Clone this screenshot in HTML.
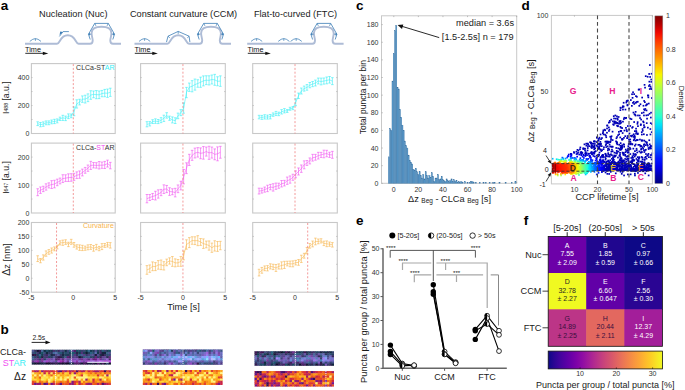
<!DOCTYPE html>
<html><head><meta charset="utf-8"><style>
html,body{margin:0;padding:0;background:#fff;width:685px;height:390px;overflow:hidden;}
svg{display:block;font-family:"Liberation Sans", sans-serif;}
</style></head><body>
<svg width="685" height="390" viewBox="0 0 685 390">
<rect width="685" height="390" fill="#fff"/>
<text x="0.80" y="9.70" font-size="13.5" text-anchor="start" fill="#000" font-weight="bold" >a</text><text x="0.60" y="333.60" font-size="13.5" text-anchor="start" fill="#000" font-weight="bold" >b</text><text x="356.00" y="9.90" font-size="13.5" text-anchor="start" fill="#000" font-weight="bold" >c</text><text x="521.60" y="9.80" font-size="13.5" text-anchor="start" fill="#000" font-weight="bold" >d</text><text x="356.00" y="225.30" font-size="13.5" text-anchor="start" fill="#000" font-weight="bold" >e</text><text x="523.80" y="225.40" font-size="13.5" text-anchor="start" fill="#000" font-weight="bold" >f</text><text x="73.30" y="16.60" font-size="9.2" text-anchor="middle" fill="#1a1a1a" font-weight="normal" >Nucleation (Nuc)</text><text x="183.50" y="16.60" font-size="9.2" text-anchor="middle" fill="#1a1a1a" font-weight="normal" >Constant curvature (CCM)</text><text x="295.50" y="16.60" font-size="9.2" text-anchor="middle" fill="#1a1a1a" font-weight="normal" >Flat-to-curved (FTC)</text><path d="M25,43.8 L57.0,43.8 C60.2,43.8 59.8,35.3 67.8,35.3 C75.8,35.3 75.39999999999999,43.8 78.6,43.8 L90.0,43.8 C91.9,43.8 92.7,43.2 92.7,40.5 C92.7,38 91.6,36.5 91.6,33.2 C91.6,28.5 96.0,26.8 101.5,26.8 C107.0,26.8 111.4,28.5 111.4,33.2 C111.4,36.5 110.3,38 110.3,40.5 C110.3,43.2 111.1,43.8 113.0,43.8 L121,43.8" fill="none" stroke="#aebcd6" stroke-width="1.9" stroke-linejoin="round"/><path d="M29.799999999999997,41.4 Q32.9,38.6 35.4,38.6 Q37.9,38.6 41.0,41.4 M35.4,38.6 L35.4,40.800000000000004" fill="none" stroke="#3c7db6" stroke-width="0.75"/><path d="M59.4,36.4 L63.1,31.6 L68.9,31.6" fill="none" stroke="#3c7db6" stroke-width="0.8"/><path d="M59.6,34.9 L60.2,31.4 L63,32.1 Z" fill="#3c7db6"/><path d="M90.20,39.5 L88.50,34.2 L94.70,23.4 L108.30,23.4 L114.50,34.2 L112.80,39.5" fill="none" stroke="#3c7db6" stroke-width="0.8" stroke-linejoin="round"/><line x1="88.50" y1="34.2" x2="91.20" y2="34.2" stroke="#3c7db6" stroke-width="0.75"/><line x1="114.50" y1="34.2" x2="111.80" y2="34.2" stroke="#3c7db6" stroke-width="0.75"/><line x1="94.70" y1="23.4" x2="95.90" y2="25.8" stroke="#3c7db6" stroke-width="0.75"/><line x1="108.30" y1="23.4" x2="107.10" y2="25.8" stroke="#3c7db6" stroke-width="0.75"/><path d="M88.30,34.2 L89.90,32.6 L89.90,35.8 Z" fill="#3c7db6"/><path d="M114.70,34.2 L113.10,32.6 L113.10,35.8 Z" fill="#3c7db6"/><text x="25.00" y="51.60" font-size="7.3" text-anchor="start" fill="#111" font-weight="normal" >Time</text><line x1="25.30" y1="53.30" x2="44.80" y2="53.30" stroke="#111" stroke-width="0.9" /><path d="M48.3,53.4 L42.8,51.7 L42.8,55.1 Z" fill="#111"/><path d="M134.5,43.8 L167.39999999999998,43.8 C170.59999999999997,43.8 170.2,35.3 178.2,35.3 C186.2,35.3 185.8,43.8 189.0,43.8 L199.5,43.8 C201.4,43.8 202.2,43.2 202.2,40.5 C202.2,38 201.1,36.5 201.1,33.2 C201.1,28.5 205.5,26.8 211,26.8 C216.5,26.8 220.9,28.5 220.9,33.2 C220.9,36.5 219.8,38 219.8,40.5 C219.8,43.2 220.6,43.8 222.5,43.8 L231,43.8" fill="none" stroke="#aebcd6" stroke-width="1.9" stroke-linejoin="round"/><path d="M139.0,41.4 Q142.1,38.6 144.6,38.6 Q147.1,38.6 150.2,41.4 M144.6,38.6 L144.6,40.800000000000004" fill="none" stroke="#3c7db6" stroke-width="0.75"/><path d="M166.50,42.1 L168.00,36.2 L178.20,31.4 L189.10,36.2 L189.90,42.1" fill="none" stroke="#3c7db6" stroke-width="0.8" stroke-linejoin="round"/><line x1="168.00" y1="36.2" x2="169.80" y2="37.8" stroke="#3c7db6" stroke-width="0.75"/><line x1="178.20" y1="31.4" x2="178.20" y2="33.8" stroke="#3c7db6" stroke-width="0.75"/><line x1="189.10" y1="36.2" x2="187.30" y2="37.8" stroke="#3c7db6" stroke-width="0.75"/><path d="M199.20,39.5 L197.50,34.2 L203.70,23.4 L217.30,23.4 L223.50,34.2 L221.80,39.5" fill="none" stroke="#3c7db6" stroke-width="0.8" stroke-linejoin="round"/><line x1="197.50" y1="34.2" x2="200.20" y2="34.2" stroke="#3c7db6" stroke-width="0.75"/><line x1="223.50" y1="34.2" x2="220.80" y2="34.2" stroke="#3c7db6" stroke-width="0.75"/><line x1="203.70" y1="23.4" x2="204.90" y2="25.8" stroke="#3c7db6" stroke-width="0.75"/><line x1="217.30" y1="23.4" x2="216.10" y2="25.8" stroke="#3c7db6" stroke-width="0.75"/><path d="M197.30,34.2 L198.90,32.6 L198.90,35.8 Z" fill="#3c7db6"/><path d="M223.70,34.2 L222.10,32.6 L222.10,35.8 Z" fill="#3c7db6"/><text x="134.50" y="51.60" font-size="7.3" text-anchor="start" fill="#111" font-weight="normal" >Time</text><line x1="134.80" y1="53.30" x2="154.30" y2="53.30" stroke="#111" stroke-width="0.9" /><path d="M157.8,53.4 L152.3,51.7 L152.3,55.1 Z" fill="#111"/><path d="M247.2,43.8 L312.3,43.8 C314.2,43.8 315.0,43.2 315.0,40.5 C315.0,38 313.90000000000003,36.5 313.90000000000003,33.2 C313.90000000000003,28.5 318.3,26.8 323.8,26.8 C329.3,26.8 333.7,28.5 333.7,33.2 C333.7,36.5 332.6,38 332.6,40.5 C332.6,43.2 333.40000000000003,43.8 335.3,43.8 L343.6,43.8" fill="none" stroke="#aebcd6" stroke-width="1.9" stroke-linejoin="round"/><path d="M251.00000000000003,41.4 Q254.10000000000002,38.6 256.6,38.6 Q259.1,38.6 262.20000000000005,41.4 M256.6,38.6 L256.6,40.800000000000004" fill="none" stroke="#3c7db6" stroke-width="0.75"/><path d="M278.2,41.4 Q281.3,38.6 283.8,38.6 Q286.3,38.6 289.40000000000003,41.4 M283.8,38.6 L283.8,40.800000000000004" fill="none" stroke="#3c7db6" stroke-width="0.75"/><path d="M290.59999999999997,41.4 Q293.7,38.6 296.2,38.6 Q298.7,38.6 301.8,41.4 M296.2,38.6 L296.2,40.800000000000004" fill="none" stroke="#3c7db6" stroke-width="0.75"/><path d="M312.60,39.5 L310.90,34.2 L317.10,23.4 L330.70,23.4 L336.90,34.2 L335.20,39.5" fill="none" stroke="#3c7db6" stroke-width="0.8" stroke-linejoin="round"/><line x1="310.90" y1="34.2" x2="313.60" y2="34.2" stroke="#3c7db6" stroke-width="0.75"/><line x1="336.90" y1="34.2" x2="334.20" y2="34.2" stroke="#3c7db6" stroke-width="0.75"/><line x1="317.10" y1="23.4" x2="318.30" y2="25.8" stroke="#3c7db6" stroke-width="0.75"/><line x1="330.70" y1="23.4" x2="329.50" y2="25.8" stroke="#3c7db6" stroke-width="0.75"/><path d="M310.70,34.2 L312.30,32.6 L312.30,35.8 Z" fill="#3c7db6"/><path d="M337.10,34.2 L335.50,32.6 L335.50,35.8 Z" fill="#3c7db6"/><text x="247.50" y="51.60" font-size="7.3" text-anchor="start" fill="#111" font-weight="normal" >Time</text><line x1="247.80" y1="53.30" x2="267.30" y2="53.30" stroke="#111" stroke-width="0.9" /><path d="M270.8,53.4 L265.3,51.7 L265.3,55.1 Z" fill="#111"/><rect x="31.40" y="63.60" width="83.80" height="69.90" fill="none" stroke="#c8c8c8" stroke-width="1.1" /><line x1="31.40" y1="119.52" x2="32.60" y2="119.52" stroke="#aaa" stroke-width="0.6" /><line x1="115.20" y1="119.52" x2="114.00" y2="119.52" stroke="#aaa" stroke-width="0.6" /><line x1="31.40" y1="105.54" x2="32.60" y2="105.54" stroke="#aaa" stroke-width="0.6" /><line x1="115.20" y1="105.54" x2="114.00" y2="105.54" stroke="#aaa" stroke-width="0.6" /><line x1="31.40" y1="91.56" x2="32.60" y2="91.56" stroke="#aaa" stroke-width="0.6" /><line x1="115.20" y1="91.56" x2="114.00" y2="91.56" stroke="#aaa" stroke-width="0.6" /><line x1="31.40" y1="77.58" x2="32.60" y2="77.58" stroke="#aaa" stroke-width="0.6" /><line x1="115.20" y1="77.58" x2="114.00" y2="77.58" stroke="#aaa" stroke-width="0.6" /><rect x="31.40" y="143.10" width="83.80" height="69.90" fill="none" stroke="#c8c8c8" stroke-width="1.1" /><line x1="31.40" y1="199.02" x2="32.60" y2="199.02" stroke="#aaa" stroke-width="0.6" /><line x1="115.20" y1="199.02" x2="114.00" y2="199.02" stroke="#aaa" stroke-width="0.6" /><line x1="31.40" y1="185.04" x2="32.60" y2="185.04" stroke="#aaa" stroke-width="0.6" /><line x1="115.20" y1="185.04" x2="114.00" y2="185.04" stroke="#aaa" stroke-width="0.6" /><line x1="31.40" y1="171.06" x2="32.60" y2="171.06" stroke="#aaa" stroke-width="0.6" /><line x1="115.20" y1="171.06" x2="114.00" y2="171.06" stroke="#aaa" stroke-width="0.6" /><line x1="31.40" y1="157.08" x2="32.60" y2="157.08" stroke="#aaa" stroke-width="0.6" /><line x1="115.20" y1="157.08" x2="114.00" y2="157.08" stroke="#aaa" stroke-width="0.6" /><rect x="31.40" y="222.50" width="83.80" height="69.70" fill="none" stroke="#c8c8c8" stroke-width="1.1" /><line x1="31.40" y1="278.26" x2="32.60" y2="278.26" stroke="#aaa" stroke-width="0.6" /><line x1="115.20" y1="278.26" x2="114.00" y2="278.26" stroke="#aaa" stroke-width="0.6" /><line x1="31.40" y1="264.32" x2="32.60" y2="264.32" stroke="#aaa" stroke-width="0.6" /><line x1="115.20" y1="264.32" x2="114.00" y2="264.32" stroke="#aaa" stroke-width="0.6" /><line x1="31.40" y1="250.38" x2="32.60" y2="250.38" stroke="#aaa" stroke-width="0.6" /><line x1="115.20" y1="250.38" x2="114.00" y2="250.38" stroke="#aaa" stroke-width="0.6" /><line x1="31.40" y1="236.44" x2="32.60" y2="236.44" stroke="#aaa" stroke-width="0.6" /><line x1="115.20" y1="236.44" x2="114.00" y2="236.44" stroke="#aaa" stroke-width="0.6" /><text x="31.40" y="300.20" font-size="7" text-anchor="middle" fill="#333" font-weight="normal" >-5</text><text x="73.30" y="300.20" font-size="7" text-anchor="middle" fill="#333" font-weight="normal" >0</text><text x="115.20" y="300.20" font-size="7" text-anchor="middle" fill="#333" font-weight="normal" >5</text><rect x="140.60" y="63.60" width="84.70" height="69.90" fill="none" stroke="#c8c8c8" stroke-width="1.1" /><line x1="140.60" y1="119.52" x2="141.80" y2="119.52" stroke="#aaa" stroke-width="0.6" /><line x1="225.30" y1="119.52" x2="224.10" y2="119.52" stroke="#aaa" stroke-width="0.6" /><line x1="140.60" y1="105.54" x2="141.80" y2="105.54" stroke="#aaa" stroke-width="0.6" /><line x1="225.30" y1="105.54" x2="224.10" y2="105.54" stroke="#aaa" stroke-width="0.6" /><line x1="140.60" y1="91.56" x2="141.80" y2="91.56" stroke="#aaa" stroke-width="0.6" /><line x1="225.30" y1="91.56" x2="224.10" y2="91.56" stroke="#aaa" stroke-width="0.6" /><line x1="140.60" y1="77.58" x2="141.80" y2="77.58" stroke="#aaa" stroke-width="0.6" /><line x1="225.30" y1="77.58" x2="224.10" y2="77.58" stroke="#aaa" stroke-width="0.6" /><rect x="140.60" y="143.10" width="84.70" height="69.90" fill="none" stroke="#c8c8c8" stroke-width="1.1" /><line x1="140.60" y1="199.02" x2="141.80" y2="199.02" stroke="#aaa" stroke-width="0.6" /><line x1="225.30" y1="199.02" x2="224.10" y2="199.02" stroke="#aaa" stroke-width="0.6" /><line x1="140.60" y1="185.04" x2="141.80" y2="185.04" stroke="#aaa" stroke-width="0.6" /><line x1="225.30" y1="185.04" x2="224.10" y2="185.04" stroke="#aaa" stroke-width="0.6" /><line x1="140.60" y1="171.06" x2="141.80" y2="171.06" stroke="#aaa" stroke-width="0.6" /><line x1="225.30" y1="171.06" x2="224.10" y2="171.06" stroke="#aaa" stroke-width="0.6" /><line x1="140.60" y1="157.08" x2="141.80" y2="157.08" stroke="#aaa" stroke-width="0.6" /><line x1="225.30" y1="157.08" x2="224.10" y2="157.08" stroke="#aaa" stroke-width="0.6" /><rect x="140.60" y="222.50" width="84.70" height="69.70" fill="none" stroke="#c8c8c8" stroke-width="1.1" /><line x1="140.60" y1="278.26" x2="141.80" y2="278.26" stroke="#aaa" stroke-width="0.6" /><line x1="225.30" y1="278.26" x2="224.10" y2="278.26" stroke="#aaa" stroke-width="0.6" /><line x1="140.60" y1="264.32" x2="141.80" y2="264.32" stroke="#aaa" stroke-width="0.6" /><line x1="225.30" y1="264.32" x2="224.10" y2="264.32" stroke="#aaa" stroke-width="0.6" /><line x1="140.60" y1="250.38" x2="141.80" y2="250.38" stroke="#aaa" stroke-width="0.6" /><line x1="225.30" y1="250.38" x2="224.10" y2="250.38" stroke="#aaa" stroke-width="0.6" /><line x1="140.60" y1="236.44" x2="141.80" y2="236.44" stroke="#aaa" stroke-width="0.6" /><line x1="225.30" y1="236.44" x2="224.10" y2="236.44" stroke="#aaa" stroke-width="0.6" /><text x="140.60" y="300.20" font-size="7" text-anchor="middle" fill="#333" font-weight="normal" >-5</text><text x="182.95" y="300.20" font-size="7" text-anchor="middle" fill="#333" font-weight="normal" >0</text><text x="225.30" y="300.20" font-size="7" text-anchor="middle" fill="#333" font-weight="normal" >5</text><rect x="252.70" y="63.60" width="84.60" height="69.90" fill="none" stroke="#c8c8c8" stroke-width="1.1" /><line x1="252.70" y1="119.52" x2="253.90" y2="119.52" stroke="#aaa" stroke-width="0.6" /><line x1="337.30" y1="119.52" x2="336.10" y2="119.52" stroke="#aaa" stroke-width="0.6" /><line x1="252.70" y1="105.54" x2="253.90" y2="105.54" stroke="#aaa" stroke-width="0.6" /><line x1="337.30" y1="105.54" x2="336.10" y2="105.54" stroke="#aaa" stroke-width="0.6" /><line x1="252.70" y1="91.56" x2="253.90" y2="91.56" stroke="#aaa" stroke-width="0.6" /><line x1="337.30" y1="91.56" x2="336.10" y2="91.56" stroke="#aaa" stroke-width="0.6" /><line x1="252.70" y1="77.58" x2="253.90" y2="77.58" stroke="#aaa" stroke-width="0.6" /><line x1="337.30" y1="77.58" x2="336.10" y2="77.58" stroke="#aaa" stroke-width="0.6" /><rect x="252.70" y="143.10" width="84.60" height="69.90" fill="none" stroke="#c8c8c8" stroke-width="1.1" /><line x1="252.70" y1="199.02" x2="253.90" y2="199.02" stroke="#aaa" stroke-width="0.6" /><line x1="337.30" y1="199.02" x2="336.10" y2="199.02" stroke="#aaa" stroke-width="0.6" /><line x1="252.70" y1="185.04" x2="253.90" y2="185.04" stroke="#aaa" stroke-width="0.6" /><line x1="337.30" y1="185.04" x2="336.10" y2="185.04" stroke="#aaa" stroke-width="0.6" /><line x1="252.70" y1="171.06" x2="253.90" y2="171.06" stroke="#aaa" stroke-width="0.6" /><line x1="337.30" y1="171.06" x2="336.10" y2="171.06" stroke="#aaa" stroke-width="0.6" /><line x1="252.70" y1="157.08" x2="253.90" y2="157.08" stroke="#aaa" stroke-width="0.6" /><line x1="337.30" y1="157.08" x2="336.10" y2="157.08" stroke="#aaa" stroke-width="0.6" /><rect x="252.70" y="222.50" width="84.60" height="69.70" fill="none" stroke="#c8c8c8" stroke-width="1.1" /><line x1="252.70" y1="278.26" x2="253.90" y2="278.26" stroke="#aaa" stroke-width="0.6" /><line x1="337.30" y1="278.26" x2="336.10" y2="278.26" stroke="#aaa" stroke-width="0.6" /><line x1="252.70" y1="264.32" x2="253.90" y2="264.32" stroke="#aaa" stroke-width="0.6" /><line x1="337.30" y1="264.32" x2="336.10" y2="264.32" stroke="#aaa" stroke-width="0.6" /><line x1="252.70" y1="250.38" x2="253.90" y2="250.38" stroke="#aaa" stroke-width="0.6" /><line x1="337.30" y1="250.38" x2="336.10" y2="250.38" stroke="#aaa" stroke-width="0.6" /><line x1="252.70" y1="236.44" x2="253.90" y2="236.44" stroke="#aaa" stroke-width="0.6" /><line x1="337.30" y1="236.44" x2="336.10" y2="236.44" stroke="#aaa" stroke-width="0.6" /><text x="252.70" y="300.20" font-size="7" text-anchor="middle" fill="#333" font-weight="normal" >-5</text><text x="295.00" y="300.20" font-size="7" text-anchor="middle" fill="#333" font-weight="normal" >0</text><text x="337.30" y="300.20" font-size="7" text-anchor="middle" fill="#333" font-weight="normal" >5</text><text x="29.40" y="80.10" font-size="7" text-anchor="end" fill="#333" font-weight="normal" >400</text><text x="29.40" y="108.10" font-size="7" text-anchor="end" fill="#333" font-weight="normal" >200</text><text x="29.40" y="136.00" font-size="7" text-anchor="end" fill="#333" font-weight="normal" >0</text><text x="29.40" y="159.60" font-size="7" text-anchor="end" fill="#333" font-weight="normal" >200</text><text x="29.40" y="187.50" font-size="7" text-anchor="end" fill="#333" font-weight="normal" >100</text><text x="29.40" y="215.50" font-size="7" text-anchor="end" fill="#333" font-weight="normal" >0</text><text x="29.40" y="225.00" font-size="7" text-anchor="end" fill="#333" font-weight="normal" >200</text><text x="29.40" y="238.94" font-size="7" text-anchor="end" fill="#333" font-weight="normal" >150</text><text x="29.40" y="252.88" font-size="7" text-anchor="end" fill="#333" font-weight="normal" >100</text><text x="29.40" y="266.82" font-size="7" text-anchor="end" fill="#333" font-weight="normal" >50</text><text x="29.40" y="280.76" font-size="7" text-anchor="end" fill="#333" font-weight="normal" >0</text><text x="29.40" y="294.70" font-size="7" text-anchor="end" fill="#333" font-weight="normal" >-50</text><text x="0.00" y="0.00" font-size="8.6" text-anchor="middle" fill="#1a1a1a" font-weight="normal" transform="translate(8.8,97.7) rotate(-90)">I<tspan font-size="5.2" dy="-1.2">488</tspan><tspan dy="1.2"> [a.u.]</tspan></text><text x="0.00" y="0.00" font-size="8.6" text-anchor="middle" fill="#1a1a1a" font-weight="normal" transform="translate(8.8,177.5) rotate(-90)">I<tspan font-size="5.2" dy="-1.2">647</tspan><tspan dy="1.2"> [a.u.]</tspan></text><text x="0.00" y="0.00" font-size="9.4" text-anchor="middle" fill="#1a1a1a" font-weight="normal" transform="translate(9.8,259.6) rotate(-90)"><tspan font-size="10.5">&#916;</tspan>z [nm]</text><text x="183.50" y="309.60" font-size="9.3" text-anchor="middle" fill="#1a1a1a" font-weight="normal" >Time [s]</text><text x="114.50" y="70.00" font-size="7" text-anchor="end" fill="#333" font-weight="normal" >CLCa-ST<tspan fill="#38eef5">AR</tspan></text><text x="114.50" y="150.00" font-size="7" text-anchor="end" fill="#333" font-weight="normal" >CLCa-<tspan fill="#f050f0">ST</tspan>AR</text><text x="113.80" y="228.00" font-size="7" text-anchor="end" fill="#f7b44a" font-weight="normal" >Curvature</text><path d="M37.69,123.69 L40.48,124.62 L43.27,124.11 L46.06,122.84 L48.86,122.80 L51.65,121.91 L54.44,121.45 L57.24,120.88 L60.03,118.82 L62.82,117.89 L65.62,118.38 L68.41,116.26 L71.20,115.87 L73.99,111.33 L76.79,103.93 L79.58,102.10 L82.37,99.14 L85.17,99.12 L87.96,97.74 L90.75,95.03 L93.55,94.37 L96.34,94.64 L99.13,94.81 L101.93,93.59 L104.72,93.07 L107.51,93.22 L110.30,92.30" fill="none" stroke="#38eef5" stroke-width="0.55"/><path d="M37.69,121.80 L37.69,125.59 M36.39,121.80 L38.98,121.80 M36.39,125.59 L38.98,125.59" stroke="#38eef5" stroke-width="0.6" fill="none"/><path d="M40.48,122.49 L40.48,126.75 M39.18,122.49 L41.78,122.49 M39.18,126.75 L41.78,126.75" stroke="#38eef5" stroke-width="0.6" fill="none"/><path d="M43.27,121.92 L43.27,126.31 M41.97,121.92 L44.57,121.92 M41.97,126.31 L44.57,126.31" stroke="#38eef5" stroke-width="0.6" fill="none"/><path d="M46.06,120.94 L46.06,124.75 M44.76,120.94 L47.36,120.94 M44.76,124.75 L47.36,124.75" stroke="#38eef5" stroke-width="0.6" fill="none"/><path d="M48.86,120.90 L48.86,124.71 M47.56,120.90 L50.16,120.90 M47.56,124.71 L50.16,124.71" stroke="#38eef5" stroke-width="0.6" fill="none"/><path d="M51.65,120.01 L51.65,123.80 M50.35,120.01 L52.95,120.01 M50.35,123.80 L52.95,123.80" stroke="#38eef5" stroke-width="0.6" fill="none"/><path d="M54.44,119.30 L54.44,123.61 M53.14,119.30 L55.74,119.30 M53.14,123.61 L55.74,123.61" stroke="#38eef5" stroke-width="0.6" fill="none"/><path d="M57.24,118.92 L57.24,122.85 M55.94,118.92 L58.54,118.92 M55.94,122.85 L58.54,122.85" stroke="#38eef5" stroke-width="0.6" fill="none"/><path d="M60.03,117.15 L60.03,120.49 M58.73,117.15 L61.33,117.15 M58.73,120.49 L61.33,120.49" stroke="#38eef5" stroke-width="0.6" fill="none"/><path d="M62.82,115.31 L62.82,120.46 M61.52,115.31 L64.12,115.31 M61.52,120.46 L64.12,120.46" stroke="#38eef5" stroke-width="0.6" fill="none"/><path d="M65.62,116.12 L65.62,120.64 M64.32,116.12 L66.92,116.12 M64.32,120.64 L66.92,120.64" stroke="#38eef5" stroke-width="0.6" fill="none"/><path d="M68.41,113.90 L68.41,118.61 M67.11,113.90 L69.71,113.90 M67.11,118.61 L69.71,118.61" stroke="#38eef5" stroke-width="0.6" fill="none"/><path d="M71.20,114.01 L71.20,117.72 M69.90,114.01 L72.50,114.01 M69.90,117.72 L72.50,117.72" stroke="#38eef5" stroke-width="0.6" fill="none"/><path d="M73.99,106.97 L73.99,115.69 M72.69,106.97 L75.29,106.97 M72.69,115.69 L75.29,115.69" stroke="#38eef5" stroke-width="0.6" fill="none"/><path d="M76.79,99.80 L76.79,108.06 M75.49,99.80 L78.09,99.80 M75.49,108.06 L78.09,108.06" stroke="#38eef5" stroke-width="0.6" fill="none"/><path d="M79.58,99.26 L79.58,104.93 M78.28,99.26 L80.88,99.26 M78.28,104.93 L80.88,104.93" stroke="#38eef5" stroke-width="0.6" fill="none"/><path d="M82.37,95.93 L82.37,102.34 M81.07,95.93 L83.67,95.93 M81.07,102.34 L83.67,102.34" stroke="#38eef5" stroke-width="0.6" fill="none"/><path d="M85.17,95.23 L85.17,103.01 M83.87,95.23 L86.47,95.23 M83.87,103.01 L86.47,103.01" stroke="#38eef5" stroke-width="0.6" fill="none"/><path d="M87.96,93.87 L87.96,101.61 M86.66,93.87 L89.26,93.87 M86.66,101.61 L89.26,101.61" stroke="#38eef5" stroke-width="0.6" fill="none"/><path d="M90.75,90.76 L90.75,99.29 M89.45,90.76 L92.05,90.76 M89.45,99.29 L92.05,99.29" stroke="#38eef5" stroke-width="0.6" fill="none"/><path d="M93.55,91.00 L93.55,97.73 M92.25,91.00 L94.85,91.00 M92.25,97.73 L94.85,97.73" stroke="#38eef5" stroke-width="0.6" fill="none"/><path d="M96.34,90.56 L96.34,98.72 M95.04,90.56 L97.64,90.56 M95.04,98.72 L97.64,98.72" stroke="#38eef5" stroke-width="0.6" fill="none"/><path d="M99.13,91.01 L99.13,98.61 M97.83,91.01 L100.43,91.01 M97.83,98.61 L100.43,98.61" stroke="#38eef5" stroke-width="0.6" fill="none"/><path d="M101.93,90.43 L101.93,96.74 M100.63,90.43 L103.23,90.43 M100.63,96.74 L103.23,96.74" stroke="#38eef5" stroke-width="0.6" fill="none"/><path d="M104.72,89.42 L104.72,96.73 M103.42,89.42 L106.02,89.42 M103.42,96.73 L106.02,96.73" stroke="#38eef5" stroke-width="0.6" fill="none"/><path d="M107.51,89.05 L107.51,97.39 M106.21,89.05 L108.81,89.05 M106.21,97.39 L108.81,97.39" stroke="#38eef5" stroke-width="0.6" fill="none"/><path d="M110.30,88.19 L110.30,96.40 M109.00,88.19 L111.60,88.19 M109.00,96.40 L111.60,96.40" stroke="#38eef5" stroke-width="0.6" fill="none"/><line x1="73.30" y1="64.10" x2="73.30" y2="133.50" stroke="#f08080" stroke-width="0.8" stroke-dasharray="2,1.8"/><path d="M146.95,124.26 L149.78,123.78 L152.60,121.62 L155.42,121.12 L158.24,121.55 L161.07,120.16 L163.89,118.31 L166.71,115.42 L169.54,118.24 L172.36,119.91 L175.18,120.65 L178.01,115.89 L180.83,112.62 L183.65,108.07 L186.48,92.53 L189.30,87.23 L192.12,86.24 L194.94,84.60 L197.77,83.49 L200.59,82.24 L203.41,80.89 L206.24,80.19 L209.06,80.37 L211.88,79.50 L214.71,79.84 L217.53,81.26 L220.35,81.11" fill="none" stroke="#38eef5" stroke-width="0.55"/><path d="M146.95,121.68 L146.95,126.83 M145.65,121.68 L148.25,121.68 M145.65,126.83 L148.25,126.83" stroke="#38eef5" stroke-width="0.6" fill="none"/><path d="M149.78,121.61 L149.78,125.95 M148.48,121.61 L151.08,121.61 M148.48,125.95 L151.08,125.95" stroke="#38eef5" stroke-width="0.6" fill="none"/><path d="M152.60,119.72 L152.60,123.53 M151.30,119.72 L153.90,119.72 M151.30,123.53 L153.90,123.53" stroke="#38eef5" stroke-width="0.6" fill="none"/><path d="M155.42,118.84 L155.42,123.40 M154.12,118.84 L156.72,118.84 M154.12,123.40 L156.72,123.40" stroke="#38eef5" stroke-width="0.6" fill="none"/><path d="M158.24,119.51 L158.24,123.60 M156.94,119.51 L159.54,119.51 M156.94,123.60 L159.54,123.60" stroke="#38eef5" stroke-width="0.6" fill="none"/><path d="M161.07,117.65 L161.07,122.67 M159.77,117.65 L162.37,117.65 M159.77,122.67 L162.37,122.67" stroke="#38eef5" stroke-width="0.6" fill="none"/><path d="M163.89,115.19 L163.89,121.44 M162.59,115.19 L165.19,115.19 M162.59,121.44 L165.19,121.44" stroke="#38eef5" stroke-width="0.6" fill="none"/><path d="M166.71,112.70 L166.71,118.14 M165.41,112.70 L168.01,112.70 M165.41,118.14 L168.01,118.14" stroke="#38eef5" stroke-width="0.6" fill="none"/><path d="M169.54,116.14 L169.54,120.34 M168.24,116.14 L170.84,116.14 M168.24,120.34 L170.84,120.34" stroke="#38eef5" stroke-width="0.6" fill="none"/><path d="M172.36,116.92 L172.36,122.90 M171.06,116.92 L173.66,116.92 M171.06,122.90 L173.66,122.90" stroke="#38eef5" stroke-width="0.6" fill="none"/><path d="M175.18,117.78 L175.18,123.52 M173.88,117.78 L176.48,117.78 M173.88,123.52 L176.48,123.52" stroke="#38eef5" stroke-width="0.6" fill="none"/><path d="M178.01,113.10 L178.01,118.69 M176.71,113.10 L179.31,113.10 M176.71,118.69 L179.31,118.69" stroke="#38eef5" stroke-width="0.6" fill="none"/><path d="M180.83,109.61 L180.83,115.63 M179.53,109.61 L182.13,109.61 M179.53,115.63 L182.13,115.63" stroke="#38eef5" stroke-width="0.6" fill="none"/><path d="M183.65,102.98 L183.65,113.17 M182.35,102.98 L184.95,102.98 M182.35,113.17 L184.95,113.17" stroke="#38eef5" stroke-width="0.6" fill="none"/><path d="M186.48,87.38 L186.48,97.68 M185.18,87.38 L187.78,87.38 M185.18,97.68 L187.78,97.68" stroke="#38eef5" stroke-width="0.6" fill="none"/><path d="M189.30,83.06 L189.30,91.40 M188.00,83.06 L190.60,83.06 M188.00,91.40 L190.60,91.40" stroke="#38eef5" stroke-width="0.6" fill="none"/><path d="M192.12,80.66 L192.12,91.82 M190.82,80.66 L193.42,80.66 M190.82,91.82 L193.42,91.82" stroke="#38eef5" stroke-width="0.6" fill="none"/><path d="M194.94,79.06 L194.94,90.14 M193.64,79.06 L196.24,79.06 M193.64,90.14 L196.24,90.14" stroke="#38eef5" stroke-width="0.6" fill="none"/><path d="M197.77,79.76 L197.77,87.23 M196.47,79.76 L199.07,79.76 M196.47,87.23 L199.07,87.23" stroke="#38eef5" stroke-width="0.6" fill="none"/><path d="M200.59,77.17 L200.59,87.32 M199.29,77.17 L201.89,77.17 M199.29,87.32 L201.89,87.32" stroke="#38eef5" stroke-width="0.6" fill="none"/><path d="M203.41,75.91 L203.41,85.88 M202.11,75.91 L204.71,75.91 M202.11,85.88 L204.71,85.88" stroke="#38eef5" stroke-width="0.6" fill="none"/><path d="M206.24,75.78 L206.24,84.60 M204.94,75.78 L207.54,75.78 M204.94,84.60 L207.54,84.60" stroke="#38eef5" stroke-width="0.6" fill="none"/><path d="M209.06,75.80 L209.06,84.94 M207.76,75.80 L210.36,75.80 M207.76,84.94 L210.36,84.94" stroke="#38eef5" stroke-width="0.6" fill="none"/><path d="M211.88,75.03 L211.88,83.98 M210.58,75.03 L213.18,75.03 M210.58,83.98 L213.18,83.98" stroke="#38eef5" stroke-width="0.6" fill="none"/><path d="M214.71,74.38 L214.71,85.29 M213.41,74.38 L216.01,74.38 M213.41,85.29 L216.01,85.29" stroke="#38eef5" stroke-width="0.6" fill="none"/><path d="M217.53,76.76 L217.53,85.77 M216.23,76.76 L218.83,76.76 M216.23,85.77 L218.83,85.77" stroke="#38eef5" stroke-width="0.6" fill="none"/><path d="M220.35,75.86 L220.35,86.36 M219.05,75.86 L221.65,75.86 M219.05,86.36 L221.65,86.36" stroke="#38eef5" stroke-width="0.6" fill="none"/><line x1="182.95" y1="64.10" x2="182.95" y2="133.50" stroke="#f08080" stroke-width="0.8" stroke-dasharray="2,1.8"/><path d="M259.05,117.07 L261.86,117.41 L264.68,116.87 L267.50,117.08 L270.32,116.69 L273.14,114.63 L275.96,113.49 L278.78,113.92 L281.60,111.84 L284.42,110.74 L287.24,111.00 L290.06,108.76 L292.88,108.13 L295.70,102.29 L298.52,95.78 L301.34,91.04 L304.16,88.60 L306.98,87.39 L309.80,85.14 L312.62,84.07 L315.44,83.02 L318.26,80.99 L321.08,81.51 L323.90,81.07 L326.72,80.41 L329.54,79.79 L332.36,81.15" fill="none" stroke="#38eef5" stroke-width="0.55"/><path d="M259.05,115.30 L259.05,118.85 M257.75,115.30 L260.35,115.30 M257.75,118.85 L260.35,118.85" stroke="#38eef5" stroke-width="0.6" fill="none"/><path d="M261.86,115.41 L261.86,119.40 M260.56,115.41 L263.16,115.41 M260.56,119.40 L263.16,119.40" stroke="#38eef5" stroke-width="0.6" fill="none"/><path d="M264.68,114.73 L264.68,119.01 M263.38,114.73 L265.98,114.73 M263.38,119.01 L265.98,119.01" stroke="#38eef5" stroke-width="0.6" fill="none"/><path d="M267.50,115.08 L267.50,119.07 M266.20,115.08 L268.80,115.08 M266.20,119.07 L268.80,119.07" stroke="#38eef5" stroke-width="0.6" fill="none"/><path d="M270.32,114.51 L270.32,118.87 M269.02,114.51 L271.62,114.51 M269.02,118.87 L271.62,118.87" stroke="#38eef5" stroke-width="0.6" fill="none"/><path d="M273.14,112.93 L273.14,116.34 M271.84,112.93 L274.44,112.93 M271.84,116.34 L274.44,116.34" stroke="#38eef5" stroke-width="0.6" fill="none"/><path d="M275.96,111.42 L275.96,115.56 M274.66,111.42 L277.26,111.42 M274.66,115.56 L277.26,115.56" stroke="#38eef5" stroke-width="0.6" fill="none"/><path d="M278.78,112.17 L278.78,115.67 M277.48,112.17 L280.08,112.17 M277.48,115.67 L280.08,115.67" stroke="#38eef5" stroke-width="0.6" fill="none"/><path d="M281.60,109.64 L281.60,114.03 M280.30,109.64 L282.90,109.64 M280.30,114.03 L282.90,114.03" stroke="#38eef5" stroke-width="0.6" fill="none"/><path d="M284.42,108.60 L284.42,112.88 M283.12,108.60 L285.72,108.60 M283.12,112.88 L285.72,112.88" stroke="#38eef5" stroke-width="0.6" fill="none"/><path d="M287.24,109.57 L287.24,112.44 M285.94,109.57 L288.54,109.57 M285.94,112.44 L288.54,112.44" stroke="#38eef5" stroke-width="0.6" fill="none"/><path d="M290.06,107.29 L290.06,110.24 M288.76,107.29 L291.36,107.29 M288.76,110.24 L291.36,110.24" stroke="#38eef5" stroke-width="0.6" fill="none"/><path d="M292.88,106.58 L292.88,109.67 M291.58,106.58 L294.18,106.58 M291.58,109.67 L294.18,109.67" stroke="#38eef5" stroke-width="0.6" fill="none"/><path d="M295.70,98.84 L295.70,105.74 M294.40,98.84 L297.00,98.84 M294.40,105.74 L297.00,105.74" stroke="#38eef5" stroke-width="0.6" fill="none"/><path d="M298.52,93.07 L298.52,98.49 M297.22,93.07 L299.82,93.07 M297.22,98.49 L299.82,98.49" stroke="#38eef5" stroke-width="0.6" fill="none"/><path d="M301.34,88.06 L301.34,94.01 M300.04,88.06 L302.64,88.06 M300.04,94.01 L302.64,94.01" stroke="#38eef5" stroke-width="0.6" fill="none"/><path d="M304.16,86.08 L304.16,91.12 M302.86,86.08 L305.46,86.08 M302.86,91.12 L305.46,91.12" stroke="#38eef5" stroke-width="0.6" fill="none"/><path d="M306.98,84.58 L306.98,90.20 M305.68,84.58 L308.28,84.58 M305.68,90.20 L308.28,90.20" stroke="#38eef5" stroke-width="0.6" fill="none"/><path d="M309.80,82.50 L309.80,87.78 M308.50,82.50 L311.10,82.50 M308.50,87.78 L311.10,87.78" stroke="#38eef5" stroke-width="0.6" fill="none"/><path d="M312.62,81.48 L312.62,86.67 M311.32,81.48 L313.92,81.48 M311.32,86.67 L313.92,86.67" stroke="#38eef5" stroke-width="0.6" fill="none"/><path d="M315.44,80.10 L315.44,85.94 M314.14,80.10 L316.74,80.10 M314.14,85.94 L316.74,85.94" stroke="#38eef5" stroke-width="0.6" fill="none"/><path d="M318.26,78.07 L318.26,83.91 M316.96,78.07 L319.56,78.07 M316.96,83.91 L319.56,83.91" stroke="#38eef5" stroke-width="0.6" fill="none"/><path d="M321.08,78.14 L321.08,84.87 M319.78,78.14 L322.38,78.14 M319.78,84.87 L322.38,84.87" stroke="#38eef5" stroke-width="0.6" fill="none"/><path d="M323.90,78.01 L323.90,84.12 M322.60,78.01 L325.20,78.01 M322.60,84.12 L325.20,84.12" stroke="#38eef5" stroke-width="0.6" fill="none"/><path d="M326.72,77.01 L326.72,83.81 M325.42,77.01 L328.02,77.01 M325.42,83.81 L328.02,83.81" stroke="#38eef5" stroke-width="0.6" fill="none"/><path d="M329.54,76.49 L329.54,83.08 M328.24,76.49 L330.84,76.49 M328.24,83.08 L330.84,83.08" stroke="#38eef5" stroke-width="0.6" fill="none"/><path d="M332.36,77.66 L332.36,84.64 M331.06,77.66 L333.66,77.66 M331.06,84.64 L333.66,84.64" stroke="#38eef5" stroke-width="0.6" fill="none"/><line x1="295.00" y1="64.10" x2="295.00" y2="133.50" stroke="#f08080" stroke-width="0.8" stroke-dasharray="2,1.8"/><path d="M37.69,192.22 L40.48,190.19 L43.27,188.93 L46.06,186.98 L48.86,185.39 L51.65,184.57 L54.44,184.07 L57.24,182.44 L60.03,180.97 L62.82,178.60 L65.62,178.12 L68.41,177.65 L71.20,177.46 L73.99,176.88 L76.79,175.21 L79.58,174.63 L82.37,172.52 L85.17,170.33 L87.96,168.18 L90.75,165.38 L93.55,165.22 L96.34,165.42 L99.13,165.26 L101.93,165.20 L104.72,164.96 L107.51,163.59 L110.30,165.59" fill="none" stroke="#f050f0" stroke-width="0.55"/><path d="M37.69,188.74 L37.69,195.69 M36.39,188.74 L38.98,188.74 M36.39,195.69 L38.98,195.69" stroke="#f050f0" stroke-width="0.6" fill="none"/><path d="M40.48,186.98 L40.48,193.40 M39.18,186.98 L41.78,186.98 M39.18,193.40 L41.78,193.40" stroke="#f050f0" stroke-width="0.6" fill="none"/><path d="M43.27,186.25 L43.27,191.62 M41.97,186.25 L44.57,186.25 M41.97,191.62 L44.57,191.62" stroke="#f050f0" stroke-width="0.6" fill="none"/><path d="M46.06,183.82 L46.06,190.14 M44.76,183.82 L47.36,183.82 M44.76,190.14 L47.36,190.14" stroke="#f050f0" stroke-width="0.6" fill="none"/><path d="M48.86,182.85 L48.86,187.94 M47.56,182.85 L50.16,182.85 M47.56,187.94 L50.16,187.94" stroke="#f050f0" stroke-width="0.6" fill="none"/><path d="M51.65,180.67 L51.65,188.46 M50.35,180.67 L52.95,180.67 M50.35,188.46 L52.95,188.46" stroke="#f050f0" stroke-width="0.6" fill="none"/><path d="M54.44,180.28 L54.44,187.85 M53.14,180.28 L55.74,180.28 M53.14,187.85 L55.74,187.85" stroke="#f050f0" stroke-width="0.6" fill="none"/><path d="M57.24,179.16 L57.24,185.71 M55.94,179.16 L58.54,179.16 M55.94,185.71 L58.54,185.71" stroke="#f050f0" stroke-width="0.6" fill="none"/><path d="M60.03,178.09 L60.03,183.86 M58.73,178.09 L61.33,178.09 M58.73,183.86 L61.33,183.86" stroke="#f050f0" stroke-width="0.6" fill="none"/><path d="M62.82,174.75 L62.82,182.45 M61.52,174.75 L64.12,174.75 M61.52,182.45 L64.12,182.45" stroke="#f050f0" stroke-width="0.6" fill="none"/><path d="M65.62,174.80 L65.62,181.43 M64.32,174.80 L66.92,174.80 M64.32,181.43 L66.92,181.43" stroke="#f050f0" stroke-width="0.6" fill="none"/><path d="M68.41,173.84 L68.41,181.46 M67.11,173.84 L69.71,173.84 M67.11,181.46 L69.71,181.46" stroke="#f050f0" stroke-width="0.6" fill="none"/><path d="M71.20,173.70 L71.20,181.22 M69.90,173.70 L72.50,173.70 M69.90,181.22 L72.50,181.22" stroke="#f050f0" stroke-width="0.6" fill="none"/><path d="M73.99,173.36 L73.99,180.39 M72.69,173.36 L75.29,173.36 M72.69,180.39 L75.29,180.39" stroke="#f050f0" stroke-width="0.6" fill="none"/><path d="M76.79,171.86 L76.79,178.56 M75.49,171.86 L78.09,171.86 M75.49,178.56 L78.09,178.56" stroke="#f050f0" stroke-width="0.6" fill="none"/><path d="M79.58,170.96 L79.58,178.30 M78.28,170.96 L80.88,170.96 M78.28,178.30 L80.88,178.30" stroke="#f050f0" stroke-width="0.6" fill="none"/><path d="M82.37,169.14 L82.37,175.90 M81.07,169.14 L83.67,169.14 M81.07,175.90 L83.67,175.90" stroke="#f050f0" stroke-width="0.6" fill="none"/><path d="M85.17,167.43 L85.17,173.24 M83.87,167.43 L86.47,167.43 M83.87,173.24 L86.47,173.24" stroke="#f050f0" stroke-width="0.6" fill="none"/><path d="M87.96,165.02 L87.96,171.34 M86.66,165.02 L89.26,165.02 M86.66,171.34 L89.26,171.34" stroke="#f050f0" stroke-width="0.6" fill="none"/><path d="M90.75,161.34 L90.75,169.43 M89.45,161.34 L92.05,161.34 M89.45,169.43 L92.05,169.43" stroke="#f050f0" stroke-width="0.6" fill="none"/><path d="M93.55,162.52 L93.55,167.92 M92.25,162.52 L94.85,162.52 M92.25,167.92 L94.85,167.92" stroke="#f050f0" stroke-width="0.6" fill="none"/><path d="M96.34,162.71 L96.34,168.12 M95.04,162.71 L97.64,162.71 M95.04,168.12 L97.64,168.12" stroke="#f050f0" stroke-width="0.6" fill="none"/><path d="M99.13,161.54 L99.13,168.98 M97.83,161.54 L100.43,161.54 M97.83,168.98 L100.43,168.98" stroke="#f050f0" stroke-width="0.6" fill="none"/><path d="M101.93,162.08 L101.93,168.31 M100.63,162.08 L103.23,162.08 M100.63,168.31 L103.23,168.31" stroke="#f050f0" stroke-width="0.6" fill="none"/><path d="M104.72,161.40 L104.72,168.53 M103.42,161.40 L106.02,161.40 M103.42,168.53 L106.02,168.53" stroke="#f050f0" stroke-width="0.6" fill="none"/><path d="M107.51,160.14 L107.51,167.04 M106.21,160.14 L108.81,160.14 M106.21,167.04 L108.81,167.04" stroke="#f050f0" stroke-width="0.6" fill="none"/><path d="M110.30,162.36 L110.30,168.81 M109.00,162.36 L111.60,162.36 M109.00,168.81 L111.60,168.81" stroke="#f050f0" stroke-width="0.6" fill="none"/><line x1="73.30" y1="143.60" x2="73.30" y2="213.00" stroke="#f08080" stroke-width="0.8" stroke-dasharray="2,1.8"/><path d="M146.95,198.66 L149.78,197.50 L152.60,196.48 L155.42,195.62 L158.24,193.98 L161.07,192.53 L163.89,189.16 L166.71,189.03 L169.54,191.57 L172.36,191.76 L175.18,192.61 L178.01,188.81 L180.83,185.57 L183.65,176.67 L186.48,168.21 L189.30,159.88 L192.12,155.34 L194.94,153.05 L197.77,152.35 L200.59,153.31 L203.41,152.85 L206.24,151.57 L209.06,152.81 L211.88,152.56 L214.71,154.35 L217.53,153.84 L220.35,152.29" fill="none" stroke="#f050f0" stroke-width="0.55"/><path d="M146.95,194.51 L146.95,202.81 M145.65,194.51 L148.25,194.51 M145.65,202.81 L148.25,202.81" stroke="#f050f0" stroke-width="0.6" fill="none"/><path d="M149.78,194.51 L149.78,200.49 M148.48,194.51 L151.08,194.51 M148.48,200.49 L151.08,200.49" stroke="#f050f0" stroke-width="0.6" fill="none"/><path d="M152.60,193.47 L152.60,199.48 M151.30,193.47 L153.90,193.47 M151.30,199.48 L153.90,199.48" stroke="#f050f0" stroke-width="0.6" fill="none"/><path d="M155.42,191.28 L155.42,199.97 M154.12,191.28 L156.72,191.28 M154.12,199.97 L156.72,199.97" stroke="#f050f0" stroke-width="0.6" fill="none"/><path d="M158.24,189.83 L158.24,198.13 M156.94,189.83 L159.54,189.83 M156.94,198.13 L159.54,198.13" stroke="#f050f0" stroke-width="0.6" fill="none"/><path d="M161.07,189.40 L161.07,195.67 M159.77,189.40 L162.37,189.40 M159.77,195.67 L162.37,195.67" stroke="#f050f0" stroke-width="0.6" fill="none"/><path d="M163.89,184.85 L163.89,193.46 M162.59,184.85 L165.19,184.85 M162.59,193.46 L165.19,193.46" stroke="#f050f0" stroke-width="0.6" fill="none"/><path d="M166.71,185.46 L166.71,192.60 M165.41,185.46 L168.01,185.46 M165.41,192.60 L168.01,192.60" stroke="#f050f0" stroke-width="0.6" fill="none"/><path d="M169.54,187.76 L169.54,195.38 M168.24,187.76 L170.84,187.76 M168.24,195.38 L170.84,195.38" stroke="#f050f0" stroke-width="0.6" fill="none"/><path d="M172.36,188.78 L172.36,194.74 M171.06,188.78 L173.66,188.78 M171.06,194.74 L173.66,194.74" stroke="#f050f0" stroke-width="0.6" fill="none"/><path d="M175.18,188.34 L175.18,196.88 M173.88,188.34 L176.48,188.34 M173.88,196.88 L176.48,196.88" stroke="#f050f0" stroke-width="0.6" fill="none"/><path d="M178.01,184.98 L178.01,192.65 M176.71,184.98 L179.31,184.98 M176.71,192.65 L179.31,192.65" stroke="#f050f0" stroke-width="0.6" fill="none"/><path d="M180.83,181.25 L180.83,189.89 M179.53,181.25 L182.13,181.25 M179.53,189.89 L182.13,189.89" stroke="#f050f0" stroke-width="0.6" fill="none"/><path d="M183.65,169.49 L183.65,183.86 M182.35,169.49 L184.95,169.49 M182.35,183.86 L184.95,183.86" stroke="#f050f0" stroke-width="0.6" fill="none"/><path d="M186.48,162.82 L186.48,173.61 M185.18,162.82 L187.78,162.82 M185.18,173.61 L187.78,173.61" stroke="#f050f0" stroke-width="0.6" fill="none"/><path d="M189.30,154.30 L189.30,165.47 M188.00,154.30 L190.60,154.30 M188.00,165.47 L190.60,165.47" stroke="#f050f0" stroke-width="0.6" fill="none"/><path d="M192.12,150.34 L192.12,160.34 M190.82,150.34 L193.42,150.34 M190.82,160.34 L193.42,160.34" stroke="#f050f0" stroke-width="0.6" fill="none"/><path d="M194.94,148.11 L194.94,157.98 M193.64,148.11 L196.24,148.11 M193.64,157.98 L196.24,157.98" stroke="#f050f0" stroke-width="0.6" fill="none"/><path d="M197.77,147.65 L197.77,157.05 M196.47,147.65 L199.07,147.65 M196.47,157.05 L199.07,157.05" stroke="#f050f0" stroke-width="0.6" fill="none"/><path d="M200.59,147.91 L200.59,158.71 M199.29,147.91 L201.89,147.91 M199.29,158.71 L201.89,158.71" stroke="#f050f0" stroke-width="0.6" fill="none"/><path d="M203.41,146.54 L203.41,159.16 M202.11,146.54 L204.71,146.54 M202.11,159.16 L204.71,159.16" stroke="#f050f0" stroke-width="0.6" fill="none"/><path d="M206.24,147.06 L206.24,156.08 M204.94,147.06 L207.54,147.06 M204.94,156.08 L207.54,156.08" stroke="#f050f0" stroke-width="0.6" fill="none"/><path d="M209.06,146.28 L209.06,159.35 M207.76,146.28 L210.36,146.28 M207.76,159.35 L210.36,159.35" stroke="#f050f0" stroke-width="0.6" fill="none"/><path d="M211.88,147.05 L211.88,158.07 M210.58,147.05 L213.18,147.05 M210.58,158.07 L213.18,158.07" stroke="#f050f0" stroke-width="0.6" fill="none"/><path d="M214.71,148.92 L214.71,159.78 M213.41,148.92 L216.01,148.92 M213.41,159.78 L216.01,159.78" stroke="#f050f0" stroke-width="0.6" fill="none"/><path d="M217.53,146.89 L217.53,160.80 M216.23,146.89 L218.83,146.89 M216.23,160.80 L218.83,160.80" stroke="#f050f0" stroke-width="0.6" fill="none"/><path d="M220.35,146.34 L220.35,158.23 M219.05,146.34 L221.65,146.34 M219.05,158.23 L221.65,158.23" stroke="#f050f0" stroke-width="0.6" fill="none"/><line x1="182.95" y1="143.60" x2="182.95" y2="213.00" stroke="#f08080" stroke-width="0.8" stroke-dasharray="2,1.8"/><path d="M259.05,191.09 L261.86,190.68 L264.68,189.60 L267.50,188.43 L270.32,187.09 L273.14,187.41 L275.96,186.20 L278.78,185.74 L281.60,183.74 L284.42,183.15 L287.24,180.74 L290.06,179.55 L292.88,177.28 L295.70,174.33 L298.52,171.48 L301.34,168.67 L304.16,164.85 L306.98,162.98 L309.80,160.92 L312.62,157.71 L315.44,157.28 L318.26,155.67 L321.08,154.90 L323.90,153.99 L326.72,153.55 L329.54,154.82 L332.36,154.83" fill="none" stroke="#f050f0" stroke-width="0.55"/><path d="M259.05,188.17 L259.05,194.01 M257.75,188.17 L260.35,188.17 M257.75,194.01 L260.35,194.01" stroke="#f050f0" stroke-width="0.6" fill="none"/><path d="M261.86,188.28 L261.86,193.07 M260.56,188.28 L263.16,188.28 M260.56,193.07 L263.16,193.07" stroke="#f050f0" stroke-width="0.6" fill="none"/><path d="M264.68,187.06 L264.68,192.15 M263.38,187.06 L265.98,187.06 M263.38,192.15 L265.98,192.15" stroke="#f050f0" stroke-width="0.6" fill="none"/><path d="M267.50,185.23 L267.50,191.63 M266.20,185.23 L268.80,185.23 M266.20,191.63 L268.80,191.63" stroke="#f050f0" stroke-width="0.6" fill="none"/><path d="M270.32,184.41 L270.32,189.78 M269.02,184.41 L271.62,184.41 M269.02,189.78 L271.62,189.78" stroke="#f050f0" stroke-width="0.6" fill="none"/><path d="M273.14,183.74 L273.14,191.09 M271.84,183.74 L274.44,183.74 M271.84,191.09 L274.44,191.09" stroke="#f050f0" stroke-width="0.6" fill="none"/><path d="M275.96,183.07 L275.96,189.33 M274.66,183.07 L277.26,183.07 M274.66,189.33 L277.26,189.33" stroke="#f050f0" stroke-width="0.6" fill="none"/><path d="M278.78,183.19 L278.78,188.29 M277.48,183.19 L280.08,183.19 M277.48,188.29 L280.08,188.29" stroke="#f050f0" stroke-width="0.6" fill="none"/><path d="M281.60,180.51 L281.60,186.97 M280.30,180.51 L282.90,180.51 M280.30,186.97 L282.90,186.97" stroke="#f050f0" stroke-width="0.6" fill="none"/><path d="M284.42,180.36 L284.42,185.94 M283.12,180.36 L285.72,180.36 M283.12,185.94 L285.72,185.94" stroke="#f050f0" stroke-width="0.6" fill="none"/><path d="M287.24,177.09 L287.24,184.39 M285.94,177.09 L288.54,177.09 M285.94,184.39 L288.54,184.39" stroke="#f050f0" stroke-width="0.6" fill="none"/><path d="M290.06,175.94 L290.06,183.17 M288.76,175.94 L291.36,175.94 M288.76,183.17 L291.36,183.17" stroke="#f050f0" stroke-width="0.6" fill="none"/><path d="M292.88,174.26 L292.88,180.30 M291.58,174.26 L294.18,174.26 M291.58,180.30 L294.18,180.30" stroke="#f050f0" stroke-width="0.6" fill="none"/><path d="M295.70,170.90 L295.70,177.77 M294.40,170.90 L297.00,170.90 M294.40,177.77 L297.00,177.77" stroke="#f050f0" stroke-width="0.6" fill="none"/><path d="M298.52,167.97 L298.52,175.00 M297.22,167.97 L299.82,167.97 M297.22,175.00 L299.82,175.00" stroke="#f050f0" stroke-width="0.6" fill="none"/><path d="M301.34,164.98 L301.34,172.36 M300.04,164.98 L302.64,164.98 M300.04,172.36 L302.64,172.36" stroke="#f050f0" stroke-width="0.6" fill="none"/><path d="M304.16,160.89 L304.16,168.81 M302.86,160.89 L305.46,160.89 M302.86,168.81 L305.46,168.81" stroke="#f050f0" stroke-width="0.6" fill="none"/><path d="M306.98,160.54 L306.98,165.43 M305.68,160.54 L308.28,160.54 M305.68,165.43 L308.28,165.43" stroke="#f050f0" stroke-width="0.6" fill="none"/><path d="M309.80,157.94 L309.80,163.90 M308.50,157.94 L311.10,157.94 M308.50,163.90 L311.10,163.90" stroke="#f050f0" stroke-width="0.6" fill="none"/><path d="M312.62,154.35 L312.62,161.07 M311.32,154.35 L313.92,154.35 M311.32,161.07 L313.92,161.07" stroke="#f050f0" stroke-width="0.6" fill="none"/><path d="M315.44,154.39 L315.44,160.17 M314.14,154.39 L316.74,154.39 M314.14,160.17 L316.74,160.17" stroke="#f050f0" stroke-width="0.6" fill="none"/><path d="M318.26,152.33 L318.26,159.01 M316.96,152.33 L319.56,152.33 M316.96,159.01 L319.56,159.01" stroke="#f050f0" stroke-width="0.6" fill="none"/><path d="M321.08,152.36 L321.08,157.45 M319.78,152.36 L322.38,152.36 M319.78,157.45 L322.38,157.45" stroke="#f050f0" stroke-width="0.6" fill="none"/><path d="M323.90,150.18 L323.90,157.80 M322.60,150.18 L325.20,150.18 M322.60,157.80 L325.20,157.80" stroke="#f050f0" stroke-width="0.6" fill="none"/><path d="M326.72,150.31 L326.72,156.79 M325.42,150.31 L328.02,150.31 M325.42,156.79 L328.02,156.79" stroke="#f050f0" stroke-width="0.6" fill="none"/><path d="M329.54,152.24 L329.54,157.41 M328.24,152.24 L330.84,152.24 M328.24,157.41 L330.84,157.41" stroke="#f050f0" stroke-width="0.6" fill="none"/><path d="M332.36,151.37 L332.36,158.29 M331.06,151.37 L333.66,151.37 M331.06,158.29 L333.66,158.29" stroke="#f050f0" stroke-width="0.6" fill="none"/><line x1="295.00" y1="143.60" x2="295.00" y2="213.00" stroke="#f08080" stroke-width="0.8" stroke-dasharray="2,1.8"/><path d="M37.69,258.65 L40.48,260.65 L43.27,257.48 L46.06,253.59 L48.86,251.92 L51.65,250.54 L54.44,248.86 L57.24,247.04 L60.03,242.87 L62.82,242.73 L65.62,242.08 L68.41,244.43 L71.20,241.82 L73.99,244.85 L76.79,246.92 L79.58,247.64 L82.37,247.95 L85.17,248.20 L87.96,247.31 L90.75,246.94 L93.55,248.36 L96.34,247.05 L99.13,248.56 L101.93,246.61 L104.72,245.42 L107.51,244.74 L110.30,245.35" fill="none" stroke="#f7b44a" stroke-width="0.55"/><path d="M37.69,255.76 L37.69,261.55 M36.39,255.76 L38.98,255.76 M36.39,261.55 L38.98,261.55" stroke="#f7b44a" stroke-width="0.6" fill="none"/><path d="M40.48,258.54 L40.48,262.75 M39.18,258.54 L41.78,258.54 M39.18,262.75 L41.78,262.75" stroke="#f7b44a" stroke-width="0.6" fill="none"/><path d="M43.27,254.88 L43.27,260.08 M41.97,254.88 L44.57,254.88 M41.97,260.08 L44.57,260.08" stroke="#f7b44a" stroke-width="0.6" fill="none"/><path d="M46.06,250.92 L46.06,256.26 M44.76,250.92 L47.36,250.92 M44.76,256.26 L47.36,256.26" stroke="#f7b44a" stroke-width="0.6" fill="none"/><path d="M48.86,249.57 L48.86,254.26 M47.56,249.57 L50.16,249.57 M47.56,254.26 L50.16,254.26" stroke="#f7b44a" stroke-width="0.6" fill="none"/><path d="M51.65,247.98 L51.65,253.10 M50.35,247.98 L52.95,247.98 M50.35,253.10 L52.95,253.10" stroke="#f7b44a" stroke-width="0.6" fill="none"/><path d="M54.44,246.91 L54.44,250.81 M53.14,246.91 L55.74,246.91 M53.14,250.81 L55.74,250.81" stroke="#f7b44a" stroke-width="0.6" fill="none"/><path d="M57.24,245.17 L57.24,248.91 M55.94,245.17 L58.54,245.17 M55.94,248.91 L58.54,248.91" stroke="#f7b44a" stroke-width="0.6" fill="none"/><path d="M60.03,240.83 L60.03,244.92 M58.73,240.83 L61.33,240.83 M58.73,244.92 L61.33,244.92" stroke="#f7b44a" stroke-width="0.6" fill="none"/><path d="M62.82,240.12 L62.82,245.35 M61.52,240.12 L64.12,240.12 M61.52,245.35 L64.12,245.35" stroke="#f7b44a" stroke-width="0.6" fill="none"/><path d="M65.62,239.77 L65.62,244.39 M64.32,239.77 L66.92,239.77 M64.32,244.39 L66.92,244.39" stroke="#f7b44a" stroke-width="0.6" fill="none"/><path d="M68.41,242.26 L68.41,246.61 M67.11,242.26 L69.71,242.26 M67.11,246.61 L69.71,246.61" stroke="#f7b44a" stroke-width="0.6" fill="none"/><path d="M71.20,239.32 L71.20,244.32 M69.90,239.32 L72.50,239.32 M69.90,244.32 L72.50,244.32" stroke="#f7b44a" stroke-width="0.6" fill="none"/><path d="M73.99,242.51 L73.99,247.19 M72.69,242.51 L75.29,242.51 M72.69,247.19 L75.29,247.19" stroke="#f7b44a" stroke-width="0.6" fill="none"/><path d="M76.79,244.76 L76.79,249.08 M75.49,244.76 L78.09,244.76 M75.49,249.08 L78.09,249.08" stroke="#f7b44a" stroke-width="0.6" fill="none"/><path d="M79.58,244.89 L79.58,250.40 M78.28,244.89 L80.88,244.89 M78.28,250.40 L80.88,250.40" stroke="#f7b44a" stroke-width="0.6" fill="none"/><path d="M82.37,245.31 L82.37,250.59 M81.07,245.31 L83.67,245.31 M81.07,250.59 L83.67,250.59" stroke="#f7b44a" stroke-width="0.6" fill="none"/><path d="M85.17,246.11 L85.17,250.29 M83.87,246.11 L86.47,246.11 M83.87,250.29 L86.47,250.29" stroke="#f7b44a" stroke-width="0.6" fill="none"/><path d="M87.96,244.82 L87.96,249.80 M86.66,244.82 L89.26,244.82 M86.66,249.80 L89.26,249.80" stroke="#f7b44a" stroke-width="0.6" fill="none"/><path d="M90.75,244.51 L90.75,249.37 M89.45,244.51 L92.05,244.51 M89.45,249.37 L92.05,249.37" stroke="#f7b44a" stroke-width="0.6" fill="none"/><path d="M93.55,245.51 L93.55,251.21 M92.25,245.51 L94.85,245.51 M92.25,251.21 L94.85,251.21" stroke="#f7b44a" stroke-width="0.6" fill="none"/><path d="M96.34,244.38 L96.34,249.73 M95.04,244.38 L97.64,244.38 M95.04,249.73 L97.64,249.73" stroke="#f7b44a" stroke-width="0.6" fill="none"/><path d="M99.13,246.42 L99.13,250.71 M97.83,246.42 L100.43,246.42 M97.83,250.71 L100.43,250.71" stroke="#f7b44a" stroke-width="0.6" fill="none"/><path d="M101.93,243.64 L101.93,249.59 M100.63,243.64 L103.23,243.64 M100.63,249.59 L103.23,249.59" stroke="#f7b44a" stroke-width="0.6" fill="none"/><path d="M104.72,243.48 L104.72,247.36 M103.42,243.48 L106.02,243.48 M103.42,247.36 L106.02,247.36" stroke="#f7b44a" stroke-width="0.6" fill="none"/><path d="M107.51,242.44 L107.51,247.04 M106.21,242.44 L108.81,242.44 M106.21,247.04 L108.81,247.04" stroke="#f7b44a" stroke-width="0.6" fill="none"/><path d="M110.30,242.64 L110.30,248.06 M109.00,242.64 L111.60,242.64 M109.00,248.06 L111.60,248.06" stroke="#f7b44a" stroke-width="0.6" fill="none"/><line x1="56.54" y1="223.00" x2="56.54" y2="292.20" stroke="#f08080" stroke-width="0.8" stroke-dasharray="2,1.8"/><path d="M146.95,269.96 L149.78,268.63 L152.60,266.31 L155.42,266.62 L158.24,264.88 L161.07,264.82 L163.89,265.83 L166.71,262.44 L169.54,260.96 L172.36,261.46 L175.18,262.84 L178.01,262.92 L180.83,261.45 L183.65,255.46 L186.48,244.52 L189.30,242.61 L192.12,240.53 L194.94,240.69 L197.77,240.67 L200.59,241.99 L203.41,243.65 L206.24,244.46 L209.06,245.55 L211.88,247.71 L214.71,245.90 L217.53,246.44 L220.35,245.54" fill="none" stroke="#f7b44a" stroke-width="0.55"/><path d="M146.95,265.64 L146.95,274.28 M145.65,265.64 L148.25,265.64 M145.65,274.28 L148.25,274.28" stroke="#f7b44a" stroke-width="0.6" fill="none"/><path d="M149.78,264.95 L149.78,272.31 M148.48,264.95 L151.08,264.95 M148.48,272.31 L151.08,272.31" stroke="#f7b44a" stroke-width="0.6" fill="none"/><path d="M152.60,261.92 L152.60,270.69 M151.30,261.92 L153.90,261.92 M151.30,270.69 L153.90,270.69" stroke="#f7b44a" stroke-width="0.6" fill="none"/><path d="M155.42,262.63 L155.42,270.62 M154.12,262.63 L156.72,262.63 M154.12,270.62 L156.72,270.62" stroke="#f7b44a" stroke-width="0.6" fill="none"/><path d="M158.24,260.58 L158.24,269.18 M156.94,260.58 L159.54,260.58 M156.94,269.18 L159.54,269.18" stroke="#f7b44a" stroke-width="0.6" fill="none"/><path d="M161.07,260.02 L161.07,269.63 M159.77,260.02 L162.37,260.02 M159.77,269.63 L162.37,269.63" stroke="#f7b44a" stroke-width="0.6" fill="none"/><path d="M163.89,261.67 L163.89,269.99 M162.59,261.67 L165.19,261.67 M162.59,269.99 L165.19,269.99" stroke="#f7b44a" stroke-width="0.6" fill="none"/><path d="M166.71,259.15 L166.71,265.72 M165.41,259.15 L168.01,259.15 M165.41,265.72 L168.01,265.72" stroke="#f7b44a" stroke-width="0.6" fill="none"/><path d="M169.54,257.83 L169.54,264.09 M168.24,257.83 L170.84,257.83 M168.24,264.09 L170.84,264.09" stroke="#f7b44a" stroke-width="0.6" fill="none"/><path d="M172.36,256.56 L172.36,266.35 M171.06,256.56 L173.66,256.56 M171.06,266.35 L173.66,266.35" stroke="#f7b44a" stroke-width="0.6" fill="none"/><path d="M175.18,258.86 L175.18,266.82 M173.88,258.86 L176.48,258.86 M173.88,266.82 L176.48,266.82" stroke="#f7b44a" stroke-width="0.6" fill="none"/><path d="M178.01,259.53 L178.01,266.30 M176.71,259.53 L179.31,259.53 M176.71,266.30 L179.31,266.30" stroke="#f7b44a" stroke-width="0.6" fill="none"/><path d="M180.83,256.56 L180.83,266.34 M179.53,256.56 L182.13,256.56 M179.53,266.34 L182.13,266.34" stroke="#f7b44a" stroke-width="0.6" fill="none"/><path d="M183.65,251.09 L183.65,259.83 M182.35,251.09 L184.95,251.09 M182.35,259.83 L184.95,259.83" stroke="#f7b44a" stroke-width="0.6" fill="none"/><path d="M186.48,239.84 L186.48,249.20 M185.18,239.84 L187.78,239.84 M185.18,249.20 L187.78,249.20" stroke="#f7b44a" stroke-width="0.6" fill="none"/><path d="M189.30,237.61 L189.30,247.61 M188.00,237.61 L190.60,237.61 M188.00,247.61 L190.60,247.61" stroke="#f7b44a" stroke-width="0.6" fill="none"/><path d="M192.12,236.78 L192.12,244.28 M190.82,236.78 L193.42,236.78 M190.82,244.28 L193.42,244.28" stroke="#f7b44a" stroke-width="0.6" fill="none"/><path d="M194.94,236.79 L194.94,244.59 M193.64,236.79 L196.24,236.79 M193.64,244.59 L196.24,244.59" stroke="#f7b44a" stroke-width="0.6" fill="none"/><path d="M197.77,235.67 L197.77,245.66 M196.47,235.67 L199.07,235.67 M196.47,245.66 L199.07,245.66" stroke="#f7b44a" stroke-width="0.6" fill="none"/><path d="M200.59,238.56 L200.59,245.42 M199.29,238.56 L201.89,238.56 M199.29,245.42 L201.89,245.42" stroke="#f7b44a" stroke-width="0.6" fill="none"/><path d="M203.41,238.90 L203.41,248.41 M202.11,238.90 L204.71,238.90 M202.11,248.41 L204.71,248.41" stroke="#f7b44a" stroke-width="0.6" fill="none"/><path d="M206.24,241.10 L206.24,247.81 M204.94,241.10 L207.54,241.10 M204.94,247.81 L207.54,247.81" stroke="#f7b44a" stroke-width="0.6" fill="none"/><path d="M209.06,240.95 L209.06,250.15 M207.76,240.95 L210.36,240.95 M207.76,250.15 L210.36,250.15" stroke="#f7b44a" stroke-width="0.6" fill="none"/><path d="M211.88,243.08 L211.88,252.33 M210.58,243.08 L213.18,243.08 M210.58,252.33 L213.18,252.33" stroke="#f7b44a" stroke-width="0.6" fill="none"/><path d="M214.71,240.76 L214.71,251.05 M213.41,240.76 L216.01,240.76 M213.41,251.05 L216.01,251.05" stroke="#f7b44a" stroke-width="0.6" fill="none"/><path d="M217.53,241.52 L217.53,251.36 M216.23,241.52 L218.83,241.52 M216.23,251.36 L218.83,251.36" stroke="#f7b44a" stroke-width="0.6" fill="none"/><path d="M220.35,241.33 L220.35,249.74 M219.05,241.33 L221.65,241.33 M219.05,249.74 L221.65,249.74" stroke="#f7b44a" stroke-width="0.6" fill="none"/><line x1="182.95" y1="223.00" x2="182.95" y2="292.20" stroke="#f08080" stroke-width="0.8" stroke-dasharray="2,1.8"/><path d="M259.05,272.62 L261.86,270.33 L264.68,268.33 L267.50,268.27 L270.32,266.38 L273.14,266.92 L275.96,267.96 L278.78,266.45 L281.60,265.44 L284.42,264.88 L287.24,263.56 L290.06,263.89 L292.88,263.85 L295.70,262.65 L298.52,262.40 L301.34,258.83 L304.16,255.75 L306.98,250.61 L309.80,245.86 L312.62,243.95 L315.44,241.48 L318.26,241.42 L321.08,240.87 L323.90,243.38 L326.72,243.81 L329.54,244.15 L332.36,244.84" fill="none" stroke="#f7b44a" stroke-width="0.55"/><path d="M259.05,269.28 L259.05,275.96 M257.75,269.28 L260.35,269.28 M257.75,275.96 L260.35,275.96" stroke="#f7b44a" stroke-width="0.6" fill="none"/><path d="M261.86,267.45 L261.86,273.21 M260.56,267.45 L263.16,267.45 M260.56,273.21 L263.16,273.21" stroke="#f7b44a" stroke-width="0.6" fill="none"/><path d="M264.68,265.95 L264.68,270.71 M263.38,265.95 L265.98,265.95 M263.38,270.71 L265.98,270.71" stroke="#f7b44a" stroke-width="0.6" fill="none"/><path d="M267.50,265.62 L267.50,270.92 M266.20,265.62 L268.80,265.62 M266.20,270.92 L268.80,270.92" stroke="#f7b44a" stroke-width="0.6" fill="none"/><path d="M270.32,263.81 L270.32,268.94 M269.02,263.81 L271.62,263.81 M269.02,268.94 L271.62,268.94" stroke="#f7b44a" stroke-width="0.6" fill="none"/><path d="M273.14,264.25 L273.14,269.59 M271.84,264.25 L274.44,264.25 M271.84,269.59 L274.44,269.59" stroke="#f7b44a" stroke-width="0.6" fill="none"/><path d="M275.96,264.50 L275.96,271.43 M274.66,264.50 L277.26,264.50 M274.66,271.43 L277.26,271.43" stroke="#f7b44a" stroke-width="0.6" fill="none"/><path d="M278.78,263.90 L278.78,269.00 M277.48,263.90 L280.08,263.90 M277.48,269.00 L280.08,269.00" stroke="#f7b44a" stroke-width="0.6" fill="none"/><path d="M281.60,261.86 L281.60,269.02 M280.30,261.86 L282.90,261.86 M280.30,269.02 L282.90,269.02" stroke="#f7b44a" stroke-width="0.6" fill="none"/><path d="M284.42,261.31 L284.42,268.45 M283.12,261.31 L285.72,261.31 M283.12,268.45 L285.72,268.45" stroke="#f7b44a" stroke-width="0.6" fill="none"/><path d="M287.24,261.23 L287.24,265.90 M285.94,261.23 L288.54,261.23 M285.94,265.90 L288.54,265.90" stroke="#f7b44a" stroke-width="0.6" fill="none"/><path d="M290.06,261.08 L290.06,266.71 M288.76,261.08 L291.36,261.08 M288.76,266.71 L291.36,266.71" stroke="#f7b44a" stroke-width="0.6" fill="none"/><path d="M292.88,260.86 L292.88,266.84 M291.58,260.86 L294.18,260.86 M291.58,266.84 L294.18,266.84" stroke="#f7b44a" stroke-width="0.6" fill="none"/><path d="M295.70,260.37 L295.70,264.94 M294.40,260.37 L297.00,260.37 M294.40,264.94 L297.00,264.94" stroke="#f7b44a" stroke-width="0.6" fill="none"/><path d="M298.52,259.52 L298.52,265.29 M297.22,259.52 L299.82,259.52 M297.22,265.29 L299.82,265.29" stroke="#f7b44a" stroke-width="0.6" fill="none"/><path d="M301.34,255.22 L301.34,262.44 M300.04,255.22 L302.64,255.22 M300.04,262.44 L302.64,262.44" stroke="#f7b44a" stroke-width="0.6" fill="none"/><path d="M304.16,253.34 L304.16,258.17 M302.86,253.34 L305.46,253.34 M302.86,258.17 L305.46,258.17" stroke="#f7b44a" stroke-width="0.6" fill="none"/><path d="M306.98,247.46 L306.98,253.75 M305.68,247.46 L308.28,247.46 M305.68,253.75 L308.28,253.75" stroke="#f7b44a" stroke-width="0.6" fill="none"/><path d="M309.80,243.59 L309.80,248.13 M308.50,243.59 L311.10,243.59 M308.50,248.13 L311.10,248.13" stroke="#f7b44a" stroke-width="0.6" fill="none"/><path d="M312.62,241.04 L312.62,246.86 M311.32,241.04 L313.92,241.04 M311.32,246.86 L313.92,246.86" stroke="#f7b44a" stroke-width="0.6" fill="none"/><path d="M315.44,238.13 L315.44,244.84 M314.14,238.13 L316.74,238.13 M314.14,244.84 L316.74,244.84" stroke="#f7b44a" stroke-width="0.6" fill="none"/><path d="M318.26,239.03 L318.26,243.80 M316.96,239.03 L319.56,239.03 M316.96,243.80 L319.56,243.80" stroke="#f7b44a" stroke-width="0.6" fill="none"/><path d="M321.08,238.76 L321.08,242.98 M319.78,238.76 L322.38,238.76 M319.78,242.98 L322.38,242.98" stroke="#f7b44a" stroke-width="0.6" fill="none"/><path d="M323.90,241.17 L323.90,245.60 M322.60,241.17 L325.20,241.17 M322.60,245.60 L325.20,245.60" stroke="#f7b44a" stroke-width="0.6" fill="none"/><path d="M326.72,240.95 L326.72,246.66 M325.42,240.95 L328.02,240.95 M325.42,246.66 L328.02,246.66" stroke="#f7b44a" stroke-width="0.6" fill="none"/><path d="M329.54,242.02 L329.54,246.27 M328.24,242.02 L330.84,242.02 M328.24,246.27 L330.84,246.27" stroke="#f7b44a" stroke-width="0.6" fill="none"/><path d="M332.36,242.62 L332.36,247.06 M331.06,242.62 L333.66,242.62 M331.06,247.06 L333.66,247.06" stroke="#f7b44a" stroke-width="0.6" fill="none"/><line x1="307.69" y1="223.00" x2="307.69" y2="292.20" stroke="#f08080" stroke-width="0.8" stroke-dasharray="2,1.8"/><text x="32.40" y="339.80" font-size="6.8" text-anchor="start" fill="#222" font-weight="normal" >2.5s</text><line x1="31.60" y1="342.40" x2="47.00" y2="342.40" stroke="#111" stroke-width="0.9" /><path d="M50.5,342.4 L45.5,340.6 L45.5,344.2 Z" fill="#111"/><text x="26.00" y="355.00" font-size="9" text-anchor="end" fill="#1a1a1a" font-weight="normal" >CLCa-</text><text x="26.00" y="365.50" font-size="9" text-anchor="end" fill="#222" font-weight="normal" ><tspan fill="#f050f0">ST</tspan><tspan fill="#38eef5">AR</tspan></text><text x="26.00" y="380.30" font-size="10.2" text-anchor="end" fill="#1a1a1a" font-weight="normal" >&#916;z</text><clipPath id="kc1"><rect x="31.80" y="349.80" width="79.10" height="14.80"/></clipPath><g clip-path="url(#kc1)"><g><rect x="29.5" y="347.7" width="2.7" height="2.5" fill="#544287"/><rect x="31.8" y="347.7" width="2.7" height="2.5" fill="#19112f"/><rect x="34.1" y="347.7" width="2.7" height="2.5" fill="#2a3a5f"/><rect x="36.5" y="347.7" width="2.7" height="2.5" fill="#1f455f"/><rect x="38.8" y="347.7" width="2.7" height="2.5" fill="#322c5a"/><rect x="41.1" y="347.7" width="2.7" height="2.5" fill="#143348"/><rect x="43.4" y="347.7" width="2.7" height="2.5" fill="#3d4f7f"/><rect x="45.8" y="347.7" width="2.7" height="2.5" fill="#12253b"/><rect x="48.1" y="347.7" width="2.7" height="2.5" fill="#416594"/><rect x="50.4" y="347.7" width="2.7" height="2.5" fill="#283257"/><rect x="52.7" y="347.7" width="2.7" height="2.5" fill="#443f77"/><rect x="55.1" y="347.7" width="2.7" height="2.5" fill="#406494"/><rect x="57.4" y="347.7" width="2.7" height="2.5" fill="#3a4575"/><rect x="59.7" y="347.7" width="2.7" height="2.5" fill="#3a3669"/><rect x="62.0" y="347.7" width="2.7" height="2.5" fill="#253456"/><rect x="64.4" y="347.7" width="2.7" height="2.5" fill="#243557"/><rect x="66.7" y="347.7" width="2.7" height="2.5" fill="#253859"/><rect x="69.0" y="347.7" width="2.7" height="2.5" fill="#2d4268"/><rect x="71.4" y="347.7" width="2.7" height="2.5" fill="#365f87"/><rect x="73.7" y="347.7" width="2.7" height="2.5" fill="#19586a"/><rect x="76.0" y="347.7" width="2.7" height="2.5" fill="#212647"/><rect x="78.3" y="347.7" width="2.7" height="2.5" fill="#274263"/><rect x="80.7" y="347.7" width="2.7" height="2.5" fill="#412f68"/><rect x="83.0" y="347.7" width="2.7" height="2.5" fill="#30446c"/><rect x="85.3" y="347.7" width="2.7" height="2.5" fill="#122439"/><rect x="87.6" y="347.7" width="2.7" height="2.5" fill="#3b5280"/><rect x="90.0" y="347.7" width="2.7" height="2.5" fill="#465088"/><rect x="92.3" y="347.7" width="2.7" height="2.5" fill="#344570"/><rect x="94.6" y="347.7" width="2.7" height="2.5" fill="#453470"/><rect x="96.9" y="347.7" width="2.7" height="2.5" fill="#284869"/><rect x="99.3" y="347.7" width="2.7" height="2.5" fill="#19586a"/><rect x="101.6" y="347.7" width="2.7" height="2.5" fill="#173c52"/><rect x="103.9" y="347.7" width="2.7" height="2.5" fill="#5c3885"/><rect x="106.2" y="347.7" width="2.7" height="2.5" fill="#225f78"/><rect x="108.6" y="347.7" width="2.7" height="2.5" fill="#143448"/><rect x="110.9" y="347.7" width="2.7" height="2.5" fill="#384c7a"/><rect x="29.5" y="349.8" width="2.7" height="2.5" fill="#3a4b7a"/><rect x="31.8" y="349.8" width="2.7" height="2.5" fill="#4e5c97"/><rect x="34.1" y="349.8" width="2.7" height="2.5" fill="#373565"/><rect x="36.5" y="349.8" width="2.7" height="2.5" fill="#141530"/><rect x="38.8" y="349.8" width="2.7" height="2.5" fill="#361d51"/><rect x="41.1" y="349.8" width="2.7" height="2.5" fill="#456b9d"/><rect x="43.4" y="349.8" width="2.7" height="2.5" fill="#132e43"/><rect x="45.8" y="349.8" width="2.7" height="2.5" fill="#22506b"/><rect x="48.1" y="349.8" width="2.7" height="2.5" fill="#163a4f"/><rect x="50.4" y="349.8" width="2.7" height="2.5" fill="#1d3954"/><rect x="52.7" y="349.8" width="2.7" height="2.5" fill="#47326f"/><rect x="55.1" y="349.8" width="2.7" height="2.5" fill="#2d476c"/><rect x="57.4" y="349.8" width="2.7" height="2.5" fill="#3c2a5f"/><rect x="59.7" y="349.8" width="2.7" height="2.5" fill="#464e87"/><rect x="62.0" y="349.8" width="2.7" height="2.5" fill="#40467a"/><rect x="64.4" y="349.8" width="2.7" height="2.5" fill="#132f44"/><rect x="66.7" y="349.8" width="2.7" height="2.5" fill="#3e4578"/><rect x="69.0" y="349.8" width="2.7" height="2.5" fill="#2e6687"/><rect x="71.4" y="349.8" width="2.7" height="2.5" fill="#5f4996"/><rect x="73.7" y="349.8" width="2.7" height="2.5" fill="#531f69"/><rect x="76.0" y="349.8" width="2.7" height="2.5" fill="#174f62"/><rect x="78.3" y="349.8" width="2.7" height="2.5" fill="#264c6a"/><rect x="80.7" y="349.8" width="2.7" height="2.5" fill="#37416f"/><rect x="83.0" y="349.8" width="2.7" height="2.5" fill="#3b4777"/><rect x="85.3" y="349.8" width="2.7" height="2.5" fill="#164155"/><rect x="87.6" y="349.8" width="2.7" height="2.5" fill="#34688d"/><rect x="90.0" y="349.8" width="2.7" height="2.5" fill="#153d51"/><rect x="92.3" y="349.8" width="2.7" height="2.5" fill="#203c59"/><rect x="94.6" y="349.8" width="2.7" height="2.5" fill="#534f92"/><rect x="96.9" y="349.8" width="2.7" height="2.5" fill="#20425e"/><rect x="99.3" y="349.8" width="2.7" height="2.5" fill="#3a2f63"/><rect x="101.6" y="349.8" width="2.7" height="2.5" fill="#29607d"/><rect x="103.9" y="349.8" width="2.7" height="2.5" fill="#3f4377"/><rect x="106.2" y="349.8" width="2.7" height="2.5" fill="#1f3b57"/><rect x="108.6" y="349.8" width="2.7" height="2.5" fill="#185163"/><rect x="110.9" y="349.8" width="2.7" height="2.5" fill="#33456f"/><rect x="29.5" y="351.9" width="2.7" height="2.5" fill="#133146"/><rect x="31.8" y="351.9" width="2.7" height="2.5" fill="#3c4c7c"/><rect x="34.1" y="351.9" width="2.7" height="2.5" fill="#244d6a"/><rect x="36.5" y="351.9" width="2.7" height="2.5" fill="#433a73"/><rect x="38.8" y="351.9" width="2.7" height="2.5" fill="#20304e"/><rect x="41.1" y="351.9" width="2.7" height="2.5" fill="#185163"/><rect x="43.4" y="351.9" width="2.7" height="2.5" fill="#3c4e7d"/><rect x="45.8" y="351.9" width="2.7" height="2.5" fill="#122a3f"/><rect x="48.1" y="351.9" width="2.7" height="2.5" fill="#2c3b62"/><rect x="50.4" y="351.9" width="2.7" height="2.5" fill="#303660"/><rect x="52.7" y="351.9" width="2.7" height="2.5" fill="#436d9d"/><rect x="55.1" y="351.9" width="2.7" height="2.5" fill="#586dae"/><rect x="57.4" y="351.9" width="2.7" height="2.5" fill="#33587f"/><rect x="59.7" y="351.9" width="2.7" height="2.5" fill="#285675"/><rect x="62.0" y="351.9" width="2.7" height="2.5" fill="#243859"/><rect x="64.4" y="351.9" width="2.7" height="2.5" fill="#21506b"/><rect x="66.7" y="351.9" width="2.7" height="2.5" fill="#364975"/><rect x="69.0" y="351.9" width="2.7" height="2.5" fill="#164356"/><rect x="71.4" y="351.9" width="2.7" height="2.5" fill="#195f71"/><rect x="73.7" y="351.9" width="2.7" height="2.5" fill="#2c486c"/><rect x="76.0" y="351.9" width="2.7" height="2.5" fill="#28234a"/><rect x="78.3" y="351.9" width="2.7" height="2.5" fill="#153f53"/><rect x="80.7" y="351.9" width="2.7" height="2.5" fill="#4f3377"/><rect x="83.0" y="351.9" width="2.7" height="2.5" fill="#1e405b"/><rect x="85.3" y="351.9" width="2.7" height="2.5" fill="#111c32"/><rect x="87.6" y="351.9" width="2.7" height="2.5" fill="#254261"/><rect x="90.0" y="351.9" width="2.7" height="2.5" fill="#2a6381"/><rect x="92.3" y="351.9" width="2.7" height="2.5" fill="#2c4b6f"/><rect x="94.6" y="351.9" width="2.7" height="2.5" fill="#5a6fb1"/><rect x="96.9" y="351.9" width="2.7" height="2.5" fill="#14384c"/><rect x="99.3" y="351.9" width="2.7" height="2.5" fill="#462c6a"/><rect x="101.6" y="351.9" width="2.7" height="2.5" fill="#15253d"/><rect x="103.9" y="351.9" width="2.7" height="2.5" fill="#12283d"/><rect x="106.2" y="351.9" width="2.7" height="2.5" fill="#366088"/><rect x="108.6" y="351.9" width="2.7" height="2.5" fill="#534b8e"/><rect x="110.9" y="351.9" width="2.7" height="2.5" fill="#153f52"/><rect x="29.5" y="354.0" width="2.7" height="2.5" fill="#2a4468"/><rect x="31.8" y="354.0" width="2.7" height="2.5" fill="#291842"/><rect x="34.1" y="354.0" width="2.7" height="2.5" fill="#36164a"/><rect x="36.5" y="354.0" width="2.7" height="2.5" fill="#22425f"/><rect x="38.8" y="354.0" width="2.7" height="2.5" fill="#3e618f"/><rect x="41.1" y="354.0" width="2.7" height="2.5" fill="#154054"/><rect x="43.4" y="354.0" width="2.7" height="2.5" fill="#413a72"/><rect x="45.8" y="354.0" width="2.7" height="2.5" fill="#3e2a62"/><rect x="48.1" y="354.0" width="2.7" height="2.5" fill="#434c82"/><rect x="50.4" y="354.0" width="2.7" height="2.5" fill="#192c46"/><rect x="52.7" y="354.0" width="2.7" height="2.5" fill="#2c3058"/><rect x="55.1" y="354.0" width="2.7" height="2.5" fill="#4c4684"/><rect x="57.4" y="354.0" width="2.7" height="2.5" fill="#555c9e"/><rect x="59.7" y="354.0" width="2.7" height="2.5" fill="#343a67"/><rect x="62.0" y="354.0" width="2.7" height="2.5" fill="#1a2945"/><rect x="64.4" y="354.0" width="2.7" height="2.5" fill="#21425f"/><rect x="66.7" y="354.0" width="2.7" height="2.5" fill="#1e3c58"/><rect x="69.0" y="354.0" width="2.7" height="2.5" fill="#363565"/><rect x="71.4" y="354.0" width="2.7" height="2.5" fill="#335c82"/><rect x="73.7" y="354.0" width="2.7" height="2.5" fill="#58357f"/><rect x="76.0" y="354.0" width="2.7" height="2.5" fill="#2e365f"/><rect x="78.3" y="354.0" width="2.7" height="2.5" fill="#315e82"/><rect x="80.7" y="354.0" width="2.7" height="2.5" fill="#485c93"/><rect x="83.0" y="354.0" width="2.7" height="2.5" fill="#5d3d8a"/><rect x="85.3" y="354.0" width="2.7" height="2.5" fill="#303f67"/><rect x="87.6" y="354.0" width="2.7" height="2.5" fill="#4c4180"/><rect x="90.0" y="354.0" width="2.7" height="2.5" fill="#475a90"/><rect x="92.3" y="354.0" width="2.7" height="2.5" fill="#514d8e"/><rect x="94.6" y="354.0" width="2.7" height="2.5" fill="#1d1b3b"/><rect x="96.9" y="354.0" width="2.7" height="2.5" fill="#514d8d"/><rect x="99.3" y="354.0" width="2.7" height="2.5" fill="#1d304c"/><rect x="101.6" y="354.0" width="2.7" height="2.5" fill="#251941"/><rect x="103.9" y="354.0" width="2.7" height="2.5" fill="#392f62"/><rect x="106.2" y="354.0" width="2.7" height="2.5" fill="#304d74"/><rect x="108.6" y="354.0" width="2.7" height="2.5" fill="#344a74"/><rect x="110.9" y="354.0" width="2.7" height="2.5" fill="#3f4176"/><rect x="29.5" y="356.1" width="2.7" height="2.5" fill="#415f90"/><rect x="31.8" y="356.1" width="2.7" height="2.5" fill="#3b5a87"/><rect x="34.1" y="356.1" width="2.7" height="2.5" fill="#274465"/><rect x="36.5" y="356.1" width="2.7" height="2.5" fill="#3d2a61"/><rect x="38.8" y="356.1" width="2.7" height="2.5" fill="#185365"/><rect x="41.1" y="356.1" width="2.7" height="2.5" fill="#1d203f"/><rect x="43.4" y="356.1" width="2.7" height="2.5" fill="#3f3b71"/><rect x="45.8" y="356.1" width="2.7" height="2.5" fill="#42356e"/><rect x="48.1" y="356.1" width="2.7" height="2.5" fill="#1b455d"/><rect x="50.4" y="356.1" width="2.7" height="2.5" fill="#283a5e"/><rect x="52.7" y="356.1" width="2.7" height="2.5" fill="#4e5592"/><rect x="55.1" y="356.1" width="2.7" height="2.5" fill="#373263"/><rect x="57.4" y="356.1" width="2.7" height="2.5" fill="#341548"/><rect x="59.7" y="356.1" width="2.7" height="2.5" fill="#29224a"/><rect x="62.0" y="356.1" width="2.7" height="2.5" fill="#233959"/><rect x="64.4" y="356.1" width="2.7" height="2.5" fill="#3c5b88"/><rect x="66.7" y="356.1" width="2.7" height="2.5" fill="#5e1d70"/><rect x="69.0" y="356.1" width="2.7" height="2.5" fill="#3f2660"/><rect x="71.4" y="356.1" width="2.7" height="2.5" fill="#4d4081"/><rect x="73.7" y="356.1" width="2.7" height="2.5" fill="#57458c"/><rect x="76.0" y="356.1" width="2.7" height="2.5" fill="#52387d"/><rect x="78.3" y="356.1" width="2.7" height="2.5" fill="#101a31"/><rect x="80.7" y="356.1" width="2.7" height="2.5" fill="#2b2d56"/><rect x="83.0" y="356.1" width="2.7" height="2.5" fill="#2e5a7c"/><rect x="85.3" y="356.1" width="2.7" height="2.5" fill="#415689"/><rect x="87.6" y="356.1" width="2.7" height="2.5" fill="#3e5d8d"/><rect x="90.0" y="356.1" width="2.7" height="2.5" fill="#274465"/><rect x="92.3" y="356.1" width="2.7" height="2.5" fill="#24405f"/><rect x="94.6" y="356.1" width="2.7" height="2.5" fill="#642178"/><rect x="96.9" y="356.1" width="2.7" height="2.5" fill="#2f3e66"/><rect x="99.3" y="356.1" width="2.7" height="2.5" fill="#3b1f56"/><rect x="101.6" y="356.1" width="2.7" height="2.5" fill="#5f4391"/><rect x="103.9" y="356.1" width="2.7" height="2.5" fill="#64499a"/><rect x="106.2" y="356.1" width="2.7" height="2.5" fill="#272e53"/><rect x="108.6" y="356.1" width="2.7" height="2.5" fill="#62267b"/><rect x="110.9" y="356.1" width="2.7" height="2.5" fill="#3b4878"/><rect x="29.5" y="358.3" width="2.7" height="2.5" fill="#7554b0"/><rect x="31.8" y="358.3" width="2.7" height="2.5" fill="#3e6491"/><rect x="34.1" y="358.3" width="2.7" height="2.5" fill="#583e87"/><rect x="36.5" y="358.3" width="2.7" height="2.5" fill="#5c3a87"/><rect x="38.8" y="358.3" width="2.7" height="2.5" fill="#453470"/><rect x="41.1" y="358.3" width="2.7" height="2.5" fill="#7a2890"/><rect x="43.4" y="358.3" width="2.7" height="2.5" fill="#274162"/><rect x="45.8" y="358.3" width="2.7" height="2.5" fill="#6a51a5"/><rect x="48.1" y="358.3" width="2.7" height="2.5" fill="#8839a9"/><rect x="50.4" y="358.3" width="2.7" height="2.5" fill="#674c9f"/><rect x="52.7" y="358.3" width="2.7" height="2.5" fill="#835cc2"/><rect x="55.1" y="358.3" width="2.7" height="2.5" fill="#4b2165"/><rect x="57.4" y="358.3" width="2.7" height="2.5" fill="#591f6e"/><rect x="59.7" y="358.3" width="2.7" height="2.5" fill="#7e3fa6"/><rect x="62.0" y="358.3" width="2.7" height="2.5" fill="#5b2f7c"/><rect x="64.4" y="358.3" width="2.7" height="2.5" fill="#8c50bf"/><rect x="66.7" y="358.3" width="2.7" height="2.5" fill="#5f4f9b"/><rect x="69.0" y="358.3" width="2.7" height="2.5" fill="#6850a3"/><rect x="71.4" y="358.3" width="2.7" height="2.5" fill="#8844b2"/><rect x="73.7" y="358.3" width="2.7" height="2.5" fill="#7751b0"/><rect x="76.0" y="358.3" width="2.7" height="2.5" fill="#8756c1"/><rect x="78.3" y="358.3" width="2.7" height="2.5" fill="#6a3891"/><rect x="80.7" y="358.3" width="2.7" height="2.5" fill="#703190"/><rect x="83.0" y="358.3" width="2.7" height="2.5" fill="#7d4aaf"/><rect x="85.3" y="358.3" width="2.7" height="2.5" fill="#7a3ea2"/><rect x="87.6" y="358.3" width="2.7" height="2.5" fill="#59307d"/><rect x="90.0" y="358.3" width="2.7" height="2.5" fill="#8947b6"/><rect x="92.3" y="358.3" width="2.7" height="2.5" fill="#66217a"/><rect x="94.6" y="358.3" width="2.7" height="2.5" fill="#6a1f7c"/><rect x="96.9" y="358.3" width="2.7" height="2.5" fill="#9249be"/><rect x="99.3" y="358.3" width="2.7" height="2.5" fill="#6f2b8a"/><rect x="101.6" y="358.3" width="2.7" height="2.5" fill="#5b519a"/><rect x="103.9" y="358.3" width="2.7" height="2.5" fill="#7152ab"/><rect x="106.2" y="358.3" width="2.7" height="2.5" fill="#965dd2"/><rect x="108.6" y="358.3" width="2.7" height="2.5" fill="#462e6b"/><rect x="110.9" y="358.3" width="2.7" height="2.5" fill="#59337e"/><rect x="29.5" y="360.4" width="2.7" height="2.5" fill="#421856"/><rect x="31.8" y="360.4" width="2.7" height="2.5" fill="#65358a"/><rect x="34.1" y="360.4" width="2.7" height="2.5" fill="#8641ae"/><rect x="36.5" y="360.4" width="2.7" height="2.5" fill="#9827a7"/><rect x="38.8" y="360.4" width="2.7" height="2.5" fill="#5c4691"/><rect x="41.1" y="360.4" width="2.7" height="2.5" fill="#753193"/><rect x="43.4" y="360.4" width="2.7" height="2.5" fill="#9562d5"/><rect x="45.8" y="360.4" width="2.7" height="2.5" fill="#9f45c5"/><rect x="48.1" y="360.4" width="2.7" height="2.5" fill="#824db5"/><rect x="50.4" y="360.4" width="2.7" height="2.5" fill="#875fc8"/><rect x="52.7" y="360.4" width="2.7" height="2.5" fill="#7a4fb0"/><rect x="55.1" y="360.4" width="2.7" height="2.5" fill="#535193"/><rect x="57.4" y="360.4" width="2.7" height="2.5" fill="#ae51db"/><rect x="59.7" y="360.4" width="2.7" height="2.5" fill="#9d2caf"/><rect x="62.0" y="360.4" width="2.7" height="2.5" fill="#7e2a94"/><rect x="64.4" y="360.4" width="2.7" height="2.5" fill="#9458cd"/><rect x="66.7" y="360.4" width="2.7" height="2.5" fill="#69358d"/><rect x="69.0" y="360.4" width="2.7" height="2.5" fill="#877de1"/><rect x="71.4" y="360.4" width="2.7" height="2.5" fill="#8e50c0"/><rect x="73.7" y="360.4" width="2.7" height="2.5" fill="#9a56cf"/><rect x="76.0" y="360.4" width="2.7" height="2.5" fill="#8831a3"/><rect x="78.3" y="360.4" width="2.7" height="2.5" fill="#876ed5"/><rect x="80.7" y="360.4" width="2.7" height="2.5" fill="#9949c4"/><rect x="83.0" y="360.4" width="2.7" height="2.5" fill="#7549a7"/><rect x="85.3" y="360.4" width="2.7" height="2.5" fill="#9643bc"/><rect x="87.6" y="360.4" width="2.7" height="2.5" fill="#ac48d2"/><rect x="90.0" y="360.4" width="2.7" height="2.5" fill="#9862d8"/><rect x="92.3" y="360.4" width="2.7" height="2.5" fill="#a36be8"/><rect x="94.6" y="360.4" width="2.7" height="2.5" fill="#9648c1"/><rect x="96.9" y="360.4" width="2.7" height="2.5" fill="#a959de"/><rect x="99.3" y="360.4" width="2.7" height="2.5" fill="#bc61f4"/><rect x="101.6" y="360.4" width="2.7" height="2.5" fill="#a15ddb"/><rect x="103.9" y="360.4" width="2.7" height="2.5" fill="#ae40cd"/><rect x="106.2" y="360.4" width="2.7" height="2.5" fill="#9e4dcc"/><rect x="108.6" y="360.4" width="2.7" height="2.5" fill="#bf50e8"/><rect x="110.9" y="360.4" width="2.7" height="2.5" fill="#ba3fd6"/><rect x="29.5" y="362.5" width="2.7" height="2.5" fill="#1c2f4b"/><rect x="31.8" y="362.5" width="2.7" height="2.5" fill="#183048"/><rect x="34.1" y="362.5" width="2.7" height="2.5" fill="#10172d"/><rect x="36.5" y="362.5" width="2.7" height="2.5" fill="#1e1638"/><rect x="38.8" y="362.5" width="2.7" height="2.5" fill="#12243a"/><rect x="41.1" y="362.5" width="2.7" height="2.5" fill="#122a40"/><rect x="43.4" y="362.5" width="2.7" height="2.5" fill="#242e51"/><rect x="45.8" y="362.5" width="2.7" height="2.5" fill="#14102a"/><rect x="48.1" y="362.5" width="2.7" height="2.5" fill="#0f0f26"/><rect x="50.4" y="362.5" width="2.7" height="2.5" fill="#28143e"/><rect x="52.7" y="362.5" width="2.7" height="2.5" fill="#26244a"/><rect x="55.1" y="362.5" width="2.7" height="2.5" fill="#3c1750"/><rect x="57.4" y="362.5" width="2.7" height="2.5" fill="#13253c"/><rect x="59.7" y="362.5" width="2.7" height="2.5" fill="#2a1440"/><rect x="62.0" y="362.5" width="2.7" height="2.5" fill="#141630"/><rect x="64.4" y="362.5" width="2.7" height="2.5" fill="#1d1133"/><rect x="66.7" y="362.5" width="2.7" height="2.5" fill="#0f0f26"/><rect x="69.0" y="362.5" width="2.7" height="2.5" fill="#16344a"/><rect x="71.4" y="362.5" width="2.7" height="2.5" fill="#132b40"/><rect x="73.7" y="362.5" width="2.7" height="2.5" fill="#4a2567"/><rect x="76.0" y="362.5" width="2.7" height="2.5" fill="#53206a"/><rect x="78.3" y="362.5" width="2.7" height="2.5" fill="#431f5d"/><rect x="80.7" y="362.5" width="2.7" height="2.5" fill="#111e34"/><rect x="83.0" y="362.5" width="2.7" height="2.5" fill="#47195b"/><rect x="85.3" y="362.5" width="2.7" height="2.5" fill="#26133c"/><rect x="87.6" y="362.5" width="2.7" height="2.5" fill="#112137"/><rect x="90.0" y="362.5" width="2.7" height="2.5" fill="#192440"/><rect x="92.3" y="362.5" width="2.7" height="2.5" fill="#39164d"/><rect x="94.6" y="362.5" width="2.7" height="2.5" fill="#10182f"/><rect x="96.9" y="362.5" width="2.7" height="2.5" fill="#521c67"/><rect x="99.3" y="362.5" width="2.7" height="2.5" fill="#122137"/><rect x="101.6" y="362.5" width="2.7" height="2.5" fill="#4d1a60"/><rect x="103.9" y="362.5" width="2.7" height="2.5" fill="#151934"/><rect x="106.2" y="362.5" width="2.7" height="2.5" fill="#344b76"/><rect x="108.6" y="362.5" width="2.7" height="2.5" fill="#0f0f26"/><rect x="110.9" y="362.5" width="2.7" height="2.5" fill="#222648"/><rect x="29.5" y="364.6" width="2.7" height="2.5" fill="#0f0f26"/><rect x="31.8" y="364.6" width="2.7" height="2.5" fill="#321547"/><rect x="34.1" y="364.6" width="2.7" height="2.5" fill="#292049"/><rect x="36.5" y="364.6" width="2.7" height="2.5" fill="#2e2652"/><rect x="38.8" y="364.6" width="2.7" height="2.5" fill="#273659"/><rect x="41.1" y="364.6" width="2.7" height="2.5" fill="#101b31"/><rect x="43.4" y="364.6" width="2.7" height="2.5" fill="#37164b"/><rect x="45.8" y="364.6" width="2.7" height="2.5" fill="#13102a"/><rect x="48.1" y="364.6" width="2.7" height="2.5" fill="#164357"/><rect x="50.4" y="364.6" width="2.7" height="2.5" fill="#2e446b"/><rect x="52.7" y="364.6" width="2.7" height="2.5" fill="#2f204d"/><rect x="55.1" y="364.6" width="2.7" height="2.5" fill="#171f3a"/><rect x="57.4" y="364.6" width="2.7" height="2.5" fill="#1f2e4c"/><rect x="59.7" y="364.6" width="2.7" height="2.5" fill="#111c32"/><rect x="62.0" y="364.6" width="2.7" height="2.5" fill="#281841"/><rect x="64.4" y="364.6" width="2.7" height="2.5" fill="#192641"/><rect x="66.7" y="364.6" width="2.7" height="2.5" fill="#2b1b46"/><rect x="69.0" y="364.6" width="2.7" height="2.5" fill="#1c1132"/><rect x="71.4" y="364.6" width="2.7" height="2.5" fill="#2a1b46"/><rect x="73.7" y="364.6" width="2.7" height="2.5" fill="#0f1229"/><rect x="76.0" y="364.6" width="2.7" height="2.5" fill="#2d234e"/><rect x="78.3" y="364.6" width="2.7" height="2.5" fill="#12283d"/><rect x="80.7" y="364.6" width="2.7" height="2.5" fill="#2d2a54"/><rect x="83.0" y="364.6" width="2.7" height="2.5" fill="#401a56"/><rect x="85.3" y="364.6" width="2.7" height="2.5" fill="#2a1743"/><rect x="87.6" y="364.6" width="2.7" height="2.5" fill="#373767"/><rect x="90.0" y="364.6" width="2.7" height="2.5" fill="#2a2c54"/><rect x="92.3" y="364.6" width="2.7" height="2.5" fill="#12253a"/><rect x="94.6" y="364.6" width="2.7" height="2.5" fill="#164558"/><rect x="96.9" y="364.6" width="2.7" height="2.5" fill="#36164b"/><rect x="99.3" y="364.6" width="2.7" height="2.5" fill="#143347"/><rect x="101.6" y="364.6" width="2.7" height="2.5" fill="#112338"/><rect x="103.9" y="364.6" width="2.7" height="2.5" fill="#10192f"/><rect x="106.2" y="364.6" width="2.7" height="2.5" fill="#122439"/><rect x="108.6" y="364.6" width="2.7" height="2.5" fill="#18374e"/><rect x="110.9" y="364.6" width="2.7" height="2.5" fill="#133246"/></g></g><line x1="71.40" y1="349.80" x2="71.40" y2="364.60" stroke="#ffffff" stroke-width="0.9" stroke-dasharray="1,0.9"/><line x1="87.20" y1="362.30" x2="108.70" y2="362.30" stroke="#dde0ee" stroke-width="1.2" /><clipPath id="kc2"><rect x="31.80" y="370.20" width="79.10" height="14.70"/></clipPath><g clip-path="url(#kc2)"><g><rect x="29.5" y="368.1" width="2.7" height="2.5" fill="#ea5521"/><rect x="31.8" y="368.1" width="2.7" height="2.5" fill="#c2244d"/><rect x="34.1" y="368.1" width="2.7" height="2.5" fill="#f16419"/><rect x="36.5" y="368.1" width="2.7" height="2.5" fill="#88197f"/><rect x="38.8" y="368.1" width="2.7" height="2.5" fill="#df3c30"/><rect x="41.1" y="368.1" width="2.7" height="2.5" fill="#dd3633"/><rect x="43.4" y="368.1" width="2.7" height="2.5" fill="#c82548"/><rect x="45.8" y="368.1" width="2.7" height="2.5" fill="#601285"/><rect x="48.1" y="368.1" width="2.7" height="2.5" fill="#f67715"/><rect x="50.4" y="368.1" width="2.7" height="2.5" fill="#9e1d6c"/><rect x="52.7" y="368.1" width="2.7" height="2.5" fill="#f57314"/><rect x="55.1" y="368.1" width="2.7" height="2.5" fill="#b2215a"/><rect x="57.4" y="368.1" width="2.7" height="2.5" fill="#eb5720"/><rect x="59.7" y="368.1" width="2.7" height="2.5" fill="#e3442b"/><rect x="62.0" y="368.1" width="2.7" height="2.5" fill="#a21d69"/><rect x="64.4" y="368.1" width="2.7" height="2.5" fill="#601285"/><rect x="66.7" y="368.1" width="2.7" height="2.5" fill="#7e1787"/><rect x="69.0" y="368.1" width="2.7" height="2.5" fill="#77158e"/><rect x="71.4" y="368.1" width="2.7" height="2.5" fill="#380e54"/><rect x="73.7" y="368.1" width="2.7" height="2.5" fill="#de3a31"/><rect x="76.0" y="368.1" width="2.7" height="2.5" fill="#d92e38"/><rect x="78.3" y="368.1" width="2.7" height="2.5" fill="#4d106e"/><rect x="80.7" y="368.1" width="2.7" height="2.5" fill="#e03e2f"/><rect x="83.0" y="368.1" width="2.7" height="2.5" fill="#380e54"/><rect x="85.3" y="368.1" width="2.7" height="2.5" fill="#941b74"/><rect x="87.6" y="368.1" width="2.7" height="2.5" fill="#e74d26"/><rect x="90.0" y="368.1" width="2.7" height="2.5" fill="#dd3633"/><rect x="92.3" y="368.1" width="2.7" height="2.5" fill="#feba1d"/><rect x="94.6" y="368.1" width="2.7" height="2.5" fill="#e54929"/><rect x="96.9" y="368.1" width="2.7" height="2.5" fill="#f36b15"/><rect x="99.3" y="368.1" width="2.7" height="2.5" fill="#7d1788"/><rect x="101.6" y="368.1" width="2.7" height="2.5" fill="#de3931"/><rect x="103.9" y="368.1" width="2.7" height="2.5" fill="#511073"/><rect x="106.2" y="368.1" width="2.7" height="2.5" fill="#c0234f"/><rect x="108.6" y="368.1" width="2.7" height="2.5" fill="#f56f14"/><rect x="110.9" y="368.1" width="2.7" height="2.5" fill="#e84f25"/><rect x="29.5" y="370.2" width="2.7" height="2.5" fill="#ec5a1f"/><rect x="31.8" y="370.2" width="2.7" height="2.5" fill="#e44829"/><rect x="34.1" y="370.2" width="2.7" height="2.5" fill="#a11d69"/><rect x="36.5" y="370.2" width="2.7" height="2.5" fill="#ac1f60"/><rect x="38.8" y="370.2" width="2.7" height="2.5" fill="#f88a17"/><rect x="41.1" y="370.2" width="2.7" height="2.5" fill="#7e1788"/><rect x="43.4" y="370.2" width="2.7" height="2.5" fill="#d12740"/><rect x="45.8" y="370.2" width="2.7" height="2.5" fill="#db3136"/><rect x="48.1" y="370.2" width="2.7" height="2.5" fill="#ca2546"/><rect x="50.4" y="370.2" width="2.7" height="2.5" fill="#c82548"/><rect x="52.7" y="370.2" width="2.7" height="2.5" fill="#db3136"/><rect x="55.1" y="370.2" width="2.7" height="2.5" fill="#e54a28"/><rect x="57.4" y="370.2" width="2.7" height="2.5" fill="#66138c"/><rect x="59.7" y="370.2" width="2.7" height="2.5" fill="#501072"/><rect x="62.0" y="370.2" width="2.7" height="2.5" fill="#d6273c"/><rect x="64.4" y="370.2" width="2.7" height="2.5" fill="#9b1c6f"/><rect x="66.7" y="370.2" width="2.7" height="2.5" fill="#e64b27"/><rect x="69.0" y="370.2" width="2.7" height="2.5" fill="#af205e"/><rect x="71.4" y="370.2" width="2.7" height="2.5" fill="#cc2644"/><rect x="73.7" y="370.2" width="2.7" height="2.5" fill="#e4472a"/><rect x="76.0" y="370.2" width="2.7" height="2.5" fill="#4a106a"/><rect x="78.3" y="370.2" width="2.7" height="2.5" fill="#dd3832"/><rect x="80.7" y="370.2" width="2.7" height="2.5" fill="#a51e66"/><rect x="83.0" y="370.2" width="2.7" height="2.5" fill="#bb2253"/><rect x="85.3" y="370.2" width="2.7" height="2.5" fill="#f98f18"/><rect x="87.6" y="370.2" width="2.7" height="2.5" fill="#c92547"/><rect x="90.0" y="370.2" width="2.7" height="2.5" fill="#ea5422"/><rect x="92.3" y="370.2" width="2.7" height="2.5" fill="#c5244b"/><rect x="94.6" y="370.2" width="2.7" height="2.5" fill="#991c70"/><rect x="96.9" y="370.2" width="2.7" height="2.5" fill="#9a1c70"/><rect x="99.3" y="370.2" width="2.7" height="2.5" fill="#e03e2f"/><rect x="101.6" y="370.2" width="2.7" height="2.5" fill="#da2f37"/><rect x="103.9" y="370.2" width="2.7" height="2.5" fill="#380e54"/><rect x="106.2" y="370.2" width="2.7" height="2.5" fill="#e74f25"/><rect x="108.6" y="370.2" width="2.7" height="2.5" fill="#bd2352"/><rect x="110.9" y="370.2" width="2.7" height="2.5" fill="#e54928"/><rect x="29.5" y="372.3" width="2.7" height="2.5" fill="#fdae1c"/><rect x="31.8" y="372.3" width="2.7" height="2.5" fill="#fff487"/><rect x="34.1" y="372.3" width="2.7" height="2.5" fill="#fdb21c"/><rect x="36.5" y="372.3" width="2.7" height="2.5" fill="#fca91b"/><rect x="38.8" y="372.3" width="2.7" height="2.5" fill="#f67d15"/><rect x="41.1" y="372.3" width="2.7" height="2.5" fill="#ffd436"/><rect x="43.4" y="372.3" width="2.7" height="2.5" fill="#c1234e"/><rect x="45.8" y="372.3" width="2.7" height="2.5" fill="#ffcf31"/><rect x="48.1" y="372.3" width="2.7" height="2.5" fill="#dd3733"/><rect x="50.4" y="372.3" width="2.7" height="2.5" fill="#ffed5e"/><rect x="52.7" y="372.3" width="2.7" height="2.5" fill="#e1412d"/><rect x="55.1" y="372.3" width="2.7" height="2.5" fill="#fcab1b"/><rect x="57.4" y="372.3" width="2.7" height="2.5" fill="#f16618"/><rect x="59.7" y="372.3" width="2.7" height="2.5" fill="#feb71d"/><rect x="62.0" y="372.3" width="2.7" height="2.5" fill="#f26717"/><rect x="64.4" y="372.3" width="2.7" height="2.5" fill="#ffd639"/><rect x="66.7" y="372.3" width="2.7" height="2.5" fill="#ffc829"/><rect x="69.0" y="372.3" width="2.7" height="2.5" fill="#dd3633"/><rect x="71.4" y="372.3" width="2.7" height="2.5" fill="#ffcb2c"/><rect x="73.7" y="372.3" width="2.7" height="2.5" fill="#901a78"/><rect x="76.0" y="372.3" width="2.7" height="2.5" fill="#f57414"/><rect x="78.3" y="372.3" width="2.7" height="2.5" fill="#febb1d"/><rect x="80.7" y="372.3" width="2.7" height="2.5" fill="#fa9619"/><rect x="83.0" y="372.3" width="2.7" height="2.5" fill="#ffcf30"/><rect x="85.3" y="372.3" width="2.7" height="2.5" fill="#fdb31c"/><rect x="87.6" y="372.3" width="2.7" height="2.5" fill="#f99318"/><rect x="90.0" y="372.3" width="2.7" height="2.5" fill="#f46d14"/><rect x="92.3" y="372.3" width="2.7" height="2.5" fill="#fcaa1b"/><rect x="94.6" y="372.3" width="2.7" height="2.5" fill="#f0621a"/><rect x="96.9" y="372.3" width="2.7" height="2.5" fill="#f99118"/><rect x="99.3" y="372.3" width="2.7" height="2.5" fill="#f57114"/><rect x="101.6" y="372.3" width="2.7" height="2.5" fill="#feb81d"/><rect x="103.9" y="372.3" width="2.7" height="2.5" fill="#ee5e1d"/><rect x="106.2" y="372.3" width="2.7" height="2.5" fill="#f88717"/><rect x="108.6" y="372.3" width="2.7" height="2.5" fill="#f78416"/><rect x="110.9" y="372.3" width="2.7" height="2.5" fill="#febd1d"/><rect x="29.5" y="374.4" width="2.7" height="2.5" fill="#ffed5e"/><rect x="31.8" y="374.4" width="2.7" height="2.5" fill="#feb71d"/><rect x="34.1" y="374.4" width="2.7" height="2.5" fill="#fff488"/><rect x="36.5" y="374.4" width="2.7" height="2.5" fill="#f99418"/><rect x="38.8" y="374.4" width="2.7" height="2.5" fill="#fff488"/><rect x="41.1" y="374.4" width="2.7" height="2.5" fill="#fcad1b"/><rect x="43.4" y="374.4" width="2.7" height="2.5" fill="#fff487"/><rect x="45.8" y="374.4" width="2.7" height="2.5" fill="#ffcc2e"/><rect x="48.1" y="374.4" width="2.7" height="2.5" fill="#fcac1b"/><rect x="50.4" y="374.4" width="2.7" height="2.5" fill="#ee5e1d"/><rect x="52.7" y="374.4" width="2.7" height="2.5" fill="#ffcd2f"/><rect x="55.1" y="374.4" width="2.7" height="2.5" fill="#fdb51c"/><rect x="57.4" y="374.4" width="2.7" height="2.5" fill="#ffe94e"/><rect x="59.7" y="374.4" width="2.7" height="2.5" fill="#fba41a"/><rect x="62.0" y="374.4" width="2.7" height="2.5" fill="#fdaf1c"/><rect x="64.4" y="374.4" width="2.7" height="2.5" fill="#febc1d"/><rect x="66.7" y="374.4" width="2.7" height="2.5" fill="#fba11a"/><rect x="69.0" y="374.4" width="2.7" height="2.5" fill="#ffd133"/><rect x="71.4" y="374.4" width="2.7" height="2.5" fill="#ffec59"/><rect x="73.7" y="374.4" width="2.7" height="2.5" fill="#fff488"/><rect x="76.0" y="374.4" width="2.7" height="2.5" fill="#ffca2b"/><rect x="78.3" y="374.4" width="2.7" height="2.5" fill="#fa9619"/><rect x="80.7" y="374.4" width="2.7" height="2.5" fill="#db3236"/><rect x="83.0" y="374.4" width="2.7" height="2.5" fill="#ffef6a"/><rect x="85.3" y="374.4" width="2.7" height="2.5" fill="#ffe74b"/><rect x="87.6" y="374.4" width="2.7" height="2.5" fill="#fa9d19"/><rect x="90.0" y="374.4" width="2.7" height="2.5" fill="#ffbf1f"/><rect x="92.3" y="374.4" width="2.7" height="2.5" fill="#fba31a"/><rect x="94.6" y="374.4" width="2.7" height="2.5" fill="#ffbe1e"/><rect x="96.9" y="374.4" width="2.7" height="2.5" fill="#d72a3a"/><rect x="99.3" y="374.4" width="2.7" height="2.5" fill="#fcad1b"/><rect x="101.6" y="374.4" width="2.7" height="2.5" fill="#f67915"/><rect x="103.9" y="374.4" width="2.7" height="2.5" fill="#fff179"/><rect x="106.2" y="374.4" width="2.7" height="2.5" fill="#a01d6b"/><rect x="108.6" y="374.4" width="2.7" height="2.5" fill="#fff177"/><rect x="110.9" y="374.4" width="2.7" height="2.5" fill="#d6273c"/><rect x="29.5" y="376.5" width="2.7" height="2.5" fill="#ffe145"/><rect x="31.8" y="376.5" width="2.7" height="2.5" fill="#ffe448"/><rect x="34.1" y="376.5" width="2.7" height="2.5" fill="#f88c17"/><rect x="36.5" y="376.5" width="2.7" height="2.5" fill="#febd1d"/><rect x="38.8" y="376.5" width="2.7" height="2.5" fill="#ee5f1c"/><rect x="41.1" y="376.5" width="2.7" height="2.5" fill="#ffe74c"/><rect x="43.4" y="376.5" width="2.7" height="2.5" fill="#ffe246"/><rect x="45.8" y="376.5" width="2.7" height="2.5" fill="#ffea4f"/><rect x="48.1" y="376.5" width="2.7" height="2.5" fill="#ffc729"/><rect x="50.4" y="376.5" width="2.7" height="2.5" fill="#fff488"/><rect x="52.7" y="376.5" width="2.7" height="2.5" fill="#ffcc2d"/><rect x="55.1" y="376.5" width="2.7" height="2.5" fill="#fff488"/><rect x="57.4" y="376.5" width="2.7" height="2.5" fill="#fba31a"/><rect x="59.7" y="376.5" width="2.7" height="2.5" fill="#ffef6a"/><rect x="62.0" y="376.5" width="2.7" height="2.5" fill="#fdb01c"/><rect x="64.4" y="376.5" width="2.7" height="2.5" fill="#ffe64b"/><rect x="66.7" y="376.5" width="2.7" height="2.5" fill="#fff487"/><rect x="69.0" y="376.5" width="2.7" height="2.5" fill="#ffde42"/><rect x="71.4" y="376.5" width="2.7" height="2.5" fill="#fff488"/><rect x="73.7" y="376.5" width="2.7" height="2.5" fill="#e85124"/><rect x="76.0" y="376.5" width="2.7" height="2.5" fill="#fff488"/><rect x="78.3" y="376.5" width="2.7" height="2.5" fill="#fff488"/><rect x="80.7" y="376.5" width="2.7" height="2.5" fill="#fff488"/><rect x="83.0" y="376.5" width="2.7" height="2.5" fill="#fff179"/><rect x="85.3" y="376.5" width="2.7" height="2.5" fill="#fff488"/><rect x="87.6" y="376.5" width="2.7" height="2.5" fill="#ffe84d"/><rect x="90.0" y="376.5" width="2.7" height="2.5" fill="#ffd83a"/><rect x="92.3" y="376.5" width="2.7" height="2.5" fill="#ffe64a"/><rect x="94.6" y="376.5" width="2.7" height="2.5" fill="#ffdd41"/><rect x="96.9" y="376.5" width="2.7" height="2.5" fill="#ffbf1f"/><rect x="99.3" y="376.5" width="2.7" height="2.5" fill="#fff488"/><rect x="101.6" y="376.5" width="2.7" height="2.5" fill="#ffed61"/><rect x="103.9" y="376.5" width="2.7" height="2.5" fill="#ffc627"/><rect x="106.2" y="376.5" width="2.7" height="2.5" fill="#febd1d"/><rect x="108.6" y="376.5" width="2.7" height="2.5" fill="#ffd639"/><rect x="110.9" y="376.5" width="2.7" height="2.5" fill="#fff488"/><rect x="29.5" y="378.6" width="2.7" height="2.5" fill="#ffc020"/><rect x="31.8" y="378.6" width="2.7" height="2.5" fill="#ffd133"/><rect x="34.1" y="378.6" width="2.7" height="2.5" fill="#ffda3d"/><rect x="36.5" y="378.6" width="2.7" height="2.5" fill="#ffbe1e"/><rect x="38.8" y="378.6" width="2.7" height="2.5" fill="#fcaa1b"/><rect x="41.1" y="378.6" width="2.7" height="2.5" fill="#ffef69"/><rect x="43.4" y="378.6" width="2.7" height="2.5" fill="#ffe74b"/><rect x="45.8" y="378.6" width="2.7" height="2.5" fill="#ffc020"/><rect x="48.1" y="378.6" width="2.7" height="2.5" fill="#fff176"/><rect x="50.4" y="378.6" width="2.7" height="2.5" fill="#ffe74b"/><rect x="52.7" y="378.6" width="2.7" height="2.5" fill="#ffc424"/><rect x="55.1" y="378.6" width="2.7" height="2.5" fill="#ffdc3f"/><rect x="57.4" y="378.6" width="2.7" height="2.5" fill="#ffdb3e"/><rect x="59.7" y="378.6" width="2.7" height="2.5" fill="#fff488"/><rect x="62.0" y="378.6" width="2.7" height="2.5" fill="#ffd032"/><rect x="64.4" y="378.6" width="2.7" height="2.5" fill="#fff488"/><rect x="66.7" y="378.6" width="2.7" height="2.5" fill="#f57514"/><rect x="69.0" y="378.6" width="2.7" height="2.5" fill="#ffec59"/><rect x="71.4" y="378.6" width="2.7" height="2.5" fill="#fff488"/><rect x="73.7" y="378.6" width="2.7" height="2.5" fill="#ffde41"/><rect x="76.0" y="378.6" width="2.7" height="2.5" fill="#fba51a"/><rect x="78.3" y="378.6" width="2.7" height="2.5" fill="#fff488"/><rect x="80.7" y="378.6" width="2.7" height="2.5" fill="#fca81b"/><rect x="83.0" y="378.6" width="2.7" height="2.5" fill="#fff488"/><rect x="85.3" y="378.6" width="2.7" height="2.5" fill="#951b73"/><rect x="87.6" y="378.6" width="2.7" height="2.5" fill="#fca81b"/><rect x="90.0" y="378.6" width="2.7" height="2.5" fill="#ffd538"/><rect x="92.3" y="378.6" width="2.7" height="2.5" fill="#c92547"/><rect x="94.6" y="378.6" width="2.7" height="2.5" fill="#fca81b"/><rect x="96.9" y="378.6" width="2.7" height="2.5" fill="#f88a17"/><rect x="99.3" y="378.6" width="2.7" height="2.5" fill="#b3215a"/><rect x="101.6" y="378.6" width="2.7" height="2.5" fill="#ffd436"/><rect x="103.9" y="378.6" width="2.7" height="2.5" fill="#fff487"/><rect x="106.2" y="378.6" width="2.7" height="2.5" fill="#f78316"/><rect x="108.6" y="378.6" width="2.7" height="2.5" fill="#feb61d"/><rect x="110.9" y="378.6" width="2.7" height="2.5" fill="#ffed60"/><rect x="29.5" y="380.7" width="2.7" height="2.5" fill="#f98e18"/><rect x="31.8" y="380.7" width="2.7" height="2.5" fill="#e64b27"/><rect x="34.1" y="380.7" width="2.7" height="2.5" fill="#f36a15"/><rect x="36.5" y="380.7" width="2.7" height="2.5" fill="#ffda3d"/><rect x="38.8" y="380.7" width="2.7" height="2.5" fill="#f36916"/><rect x="41.1" y="380.7" width="2.7" height="2.5" fill="#f78216"/><rect x="43.4" y="380.7" width="2.7" height="2.5" fill="#fdb31c"/><rect x="45.8" y="380.7" width="2.7" height="2.5" fill="#f57214"/><rect x="48.1" y="380.7" width="2.7" height="2.5" fill="#fff27e"/><rect x="50.4" y="380.7" width="2.7" height="2.5" fill="#ffc92a"/><rect x="52.7" y="380.7" width="2.7" height="2.5" fill="#f06419"/><rect x="55.1" y="380.7" width="2.7" height="2.5" fill="#fca71b"/><rect x="57.4" y="380.7" width="2.7" height="2.5" fill="#fa9719"/><rect x="59.7" y="380.7" width="2.7" height="2.5" fill="#f46b15"/><rect x="62.0" y="380.7" width="2.7" height="2.5" fill="#f98e18"/><rect x="64.4" y="380.7" width="2.7" height="2.5" fill="#f88917"/><rect x="66.7" y="380.7" width="2.7" height="2.5" fill="#e64c27"/><rect x="69.0" y="380.7" width="2.7" height="2.5" fill="#febd1d"/><rect x="71.4" y="380.7" width="2.7" height="2.5" fill="#831883"/><rect x="73.7" y="380.7" width="2.7" height="2.5" fill="#dc3435"/><rect x="76.0" y="380.7" width="2.7" height="2.5" fill="#e85124"/><rect x="78.3" y="380.7" width="2.7" height="2.5" fill="#af205d"/><rect x="80.7" y="380.7" width="2.7" height="2.5" fill="#ffce30"/><rect x="83.0" y="380.7" width="2.7" height="2.5" fill="#f77f16"/><rect x="85.3" y="380.7" width="2.7" height="2.5" fill="#fcad1b"/><rect x="87.6" y="380.7" width="2.7" height="2.5" fill="#f99518"/><rect x="90.0" y="380.7" width="2.7" height="2.5" fill="#fdb21c"/><rect x="92.3" y="380.7" width="2.7" height="2.5" fill="#e03d2f"/><rect x="94.6" y="380.7" width="2.7" height="2.5" fill="#f88617"/><rect x="96.9" y="380.7" width="2.7" height="2.5" fill="#fdaf1c"/><rect x="99.3" y="380.7" width="2.7" height="2.5" fill="#f88817"/><rect x="101.6" y="380.7" width="2.7" height="2.5" fill="#f0631a"/><rect x="103.9" y="380.7" width="2.7" height="2.5" fill="#fa9c19"/><rect x="106.2" y="380.7" width="2.7" height="2.5" fill="#fa9819"/><rect x="108.6" y="380.7" width="2.7" height="2.5" fill="#f78416"/><rect x="110.9" y="380.7" width="2.7" height="2.5" fill="#ffc020"/><rect x="29.5" y="382.8" width="2.7" height="2.5" fill="#ca2546"/><rect x="31.8" y="382.8" width="2.7" height="2.5" fill="#dd3733"/><rect x="34.1" y="382.8" width="2.7" height="2.5" fill="#67138e"/><rect x="36.5" y="382.8" width="2.7" height="2.5" fill="#9d1d6d"/><rect x="38.8" y="382.8" width="2.7" height="2.5" fill="#971b72"/><rect x="41.1" y="382.8" width="2.7" height="2.5" fill="#eb5820"/><rect x="43.4" y="382.8" width="2.7" height="2.5" fill="#501071"/><rect x="45.8" y="382.8" width="2.7" height="2.5" fill="#6d1395"/><rect x="48.1" y="382.8" width="2.7" height="2.5" fill="#f67615"/><rect x="50.4" y="382.8" width="2.7" height="2.5" fill="#6d1395"/><rect x="52.7" y="382.8" width="2.7" height="2.5" fill="#b52159"/><rect x="55.1" y="382.8" width="2.7" height="2.5" fill="#ea5422"/><rect x="57.4" y="382.8" width="2.7" height="2.5" fill="#de3832"/><rect x="59.7" y="382.8" width="2.7" height="2.5" fill="#611287"/><rect x="62.0" y="382.8" width="2.7" height="2.5" fill="#e74e26"/><rect x="64.4" y="382.8" width="2.7" height="2.5" fill="#ec5b1e"/><rect x="66.7" y="382.8" width="2.7" height="2.5" fill="#eb5720"/><rect x="69.0" y="382.8" width="2.7" height="2.5" fill="#a01d6a"/><rect x="71.4" y="382.8" width="2.7" height="2.5" fill="#7f1787"/><rect x="73.7" y="382.8" width="2.7" height="2.5" fill="#df3b30"/><rect x="76.0" y="382.8" width="2.7" height="2.5" fill="#fb9e1a"/><rect x="78.3" y="382.8" width="2.7" height="2.5" fill="#bc2252"/><rect x="80.7" y="382.8" width="2.7" height="2.5" fill="#ea5521"/><rect x="83.0" y="382.8" width="2.7" height="2.5" fill="#f88817"/><rect x="85.3" y="382.8" width="2.7" height="2.5" fill="#c0234f"/><rect x="87.6" y="382.8" width="2.7" height="2.5" fill="#8d1a7a"/><rect x="90.0" y="382.8" width="2.7" height="2.5" fill="#a81f63"/><rect x="92.3" y="382.8" width="2.7" height="2.5" fill="#f26717"/><rect x="94.6" y="382.8" width="2.7" height="2.5" fill="#e95223"/><rect x="96.9" y="382.8" width="2.7" height="2.5" fill="#aa1f62"/><rect x="99.3" y="382.8" width="2.7" height="2.5" fill="#e3452b"/><rect x="101.6" y="382.8" width="2.7" height="2.5" fill="#511073"/><rect x="103.9" y="382.8" width="2.7" height="2.5" fill="#a01d6a"/><rect x="106.2" y="382.8" width="2.7" height="2.5" fill="#c92547"/><rect x="108.6" y="382.8" width="2.7" height="2.5" fill="#e2422c"/><rect x="110.9" y="382.8" width="2.7" height="2.5" fill="#741590"/><rect x="29.5" y="384.9" width="2.7" height="2.5" fill="#feb71d"/><rect x="31.8" y="384.9" width="2.7" height="2.5" fill="#b3215a"/><rect x="34.1" y="384.9" width="2.7" height="2.5" fill="#db3235"/><rect x="36.5" y="384.9" width="2.7" height="2.5" fill="#b2215a"/><rect x="38.8" y="384.9" width="2.7" height="2.5" fill="#f36b15"/><rect x="41.1" y="384.9" width="2.7" height="2.5" fill="#ea5422"/><rect x="43.4" y="384.9" width="2.7" height="2.5" fill="#ef611a"/><rect x="45.8" y="384.9" width="2.7" height="2.5" fill="#af205d"/><rect x="48.1" y="384.9" width="2.7" height="2.5" fill="#f78516"/><rect x="50.4" y="384.9" width="2.7" height="2.5" fill="#ac1f60"/><rect x="52.7" y="384.9" width="2.7" height="2.5" fill="#e74e26"/><rect x="55.1" y="384.9" width="2.7" height="2.5" fill="#dd3633"/><rect x="57.4" y="384.9" width="2.7" height="2.5" fill="#380e54"/><rect x="59.7" y="384.9" width="2.7" height="2.5" fill="#380e54"/><rect x="62.0" y="384.9" width="2.7" height="2.5" fill="#f78116"/><rect x="64.4" y="384.9" width="2.7" height="2.5" fill="#b52158"/><rect x="66.7" y="384.9" width="2.7" height="2.5" fill="#75158f"/><rect x="69.0" y="384.9" width="2.7" height="2.5" fill="#f46d14"/><rect x="71.4" y="384.9" width="2.7" height="2.5" fill="#e03e2f"/><rect x="73.7" y="384.9" width="2.7" height="2.5" fill="#991c70"/><rect x="76.0" y="384.9" width="2.7" height="2.5" fill="#f26717"/><rect x="78.3" y="384.9" width="2.7" height="2.5" fill="#da3037"/><rect x="80.7" y="384.9" width="2.7" height="2.5" fill="#e1412d"/><rect x="83.0" y="384.9" width="2.7" height="2.5" fill="#e03e2e"/><rect x="85.3" y="384.9" width="2.7" height="2.5" fill="#501071"/><rect x="87.6" y="384.9" width="2.7" height="2.5" fill="#da3037"/><rect x="90.0" y="384.9" width="2.7" height="2.5" fill="#7a168a"/><rect x="92.3" y="384.9" width="2.7" height="2.5" fill="#e64d26"/><rect x="94.6" y="384.9" width="2.7" height="2.5" fill="#f78516"/><rect x="96.9" y="384.9" width="2.7" height="2.5" fill="#db3335"/><rect x="99.3" y="384.9" width="2.7" height="2.5" fill="#f46d14"/><rect x="101.6" y="384.9" width="2.7" height="2.5" fill="#b42159"/><rect x="103.9" y="384.9" width="2.7" height="2.5" fill="#dc3335"/><rect x="106.2" y="384.9" width="2.7" height="2.5" fill="#961b73"/><rect x="108.6" y="384.9" width="2.7" height="2.5" fill="#e85024"/><rect x="110.9" y="384.9" width="2.7" height="2.5" fill="#f88a17"/></g></g><line x1="55.40" y1="370.20" x2="55.40" y2="384.90" stroke="#ffffff" stroke-width="0.9" stroke-dasharray="1,0.9"/><clipPath id="kc3"><rect x="142.80" y="349.60" width="79.70" height="15.10"/></clipPath><g clip-path="url(#kc3)"><g><rect x="140.5" y="347.4" width="2.7" height="2.6" fill="#565599"/><rect x="142.8" y="347.4" width="2.7" height="2.6" fill="#6d419b"/><rect x="145.1" y="347.4" width="2.7" height="2.6" fill="#65378b"/><rect x="147.5" y="347.4" width="2.7" height="2.6" fill="#525293"/><rect x="149.8" y="347.4" width="2.7" height="2.6" fill="#735cb5"/><rect x="152.2" y="347.4" width="2.7" height="2.6" fill="#4d72a9"/><rect x="154.5" y="347.4" width="2.7" height="2.6" fill="#7c50b3"/><rect x="156.9" y="347.4" width="2.7" height="2.6" fill="#6751a3"/><rect x="159.2" y="347.4" width="2.7" height="2.6" fill="#5d5ea5"/><rect x="161.6" y="347.4" width="2.7" height="2.6" fill="#3a5381"/><rect x="163.9" y="347.4" width="2.7" height="2.6" fill="#3c3e71"/><rect x="166.2" y="347.4" width="2.7" height="2.6" fill="#482c6b"/><rect x="168.6" y="347.4" width="2.7" height="2.6" fill="#35567f"/><rect x="170.9" y="347.4" width="2.7" height="2.6" fill="#6a6cbb"/><rect x="173.3" y="347.4" width="2.7" height="2.6" fill="#4f649f"/><rect x="175.6" y="347.4" width="2.7" height="2.6" fill="#8177d6"/><rect x="178.0" y="347.4" width="2.7" height="2.6" fill="#322d5b"/><rect x="180.3" y="347.4" width="2.7" height="2.6" fill="#6573be"/><rect x="182.7" y="347.4" width="2.7" height="2.6" fill="#5a6bae"/><rect x="185.0" y="347.4" width="2.7" height="2.6" fill="#5e5da6"/><rect x="187.3" y="347.4" width="2.7" height="2.6" fill="#605da7"/><rect x="189.7" y="347.4" width="2.7" height="2.6" fill="#537db7"/><rect x="192.0" y="347.4" width="2.7" height="2.6" fill="#6c50a6"/><rect x="194.4" y="347.4" width="2.7" height="2.6" fill="#4e4081"/><rect x="196.7" y="347.4" width="2.7" height="2.6" fill="#5f3b8b"/><rect x="199.1" y="347.4" width="2.7" height="2.6" fill="#5266a3"/><rect x="201.4" y="347.4" width="2.7" height="2.6" fill="#6766b4"/><rect x="203.7" y="347.4" width="2.7" height="2.6" fill="#3e6391"/><rect x="206.1" y="347.4" width="2.7" height="2.6" fill="#5873b3"/><rect x="208.4" y="347.4" width="2.7" height="2.6" fill="#567ab7"/><rect x="210.8" y="347.4" width="2.7" height="2.6" fill="#6469b4"/><rect x="213.1" y="347.4" width="2.7" height="2.6" fill="#4d4d8b"/><rect x="215.5" y="347.4" width="2.7" height="2.6" fill="#526ba7"/><rect x="217.8" y="347.4" width="2.7" height="2.6" fill="#4d5390"/><rect x="220.2" y="347.4" width="2.7" height="2.6" fill="#7567c0"/><rect x="222.5" y="347.4" width="2.7" height="2.6" fill="#535c9c"/><rect x="140.5" y="349.6" width="2.7" height="2.6" fill="#32325f"/><rect x="142.8" y="349.6" width="2.7" height="2.6" fill="#6a93dc"/><rect x="145.1" y="349.6" width="2.7" height="2.6" fill="#8f95fb"/><rect x="147.5" y="349.6" width="2.7" height="2.6" fill="#644f9f"/><rect x="149.8" y="349.6" width="2.7" height="2.6" fill="#6e439d"/><rect x="152.2" y="349.6" width="2.7" height="2.6" fill="#185567"/><rect x="154.5" y="349.6" width="2.7" height="2.6" fill="#736bc1"/><rect x="156.9" y="349.6" width="2.7" height="2.6" fill="#7f6ece"/><rect x="159.2" y="349.6" width="2.7" height="2.6" fill="#5d438f"/><rect x="161.6" y="349.6" width="2.7" height="2.6" fill="#523e82"/><rect x="163.9" y="349.6" width="2.7" height="2.6" fill="#557eb9"/><rect x="166.2" y="349.6" width="2.7" height="2.6" fill="#5e60a8"/><rect x="168.6" y="349.6" width="2.7" height="2.6" fill="#4f8bc0"/><rect x="170.9" y="349.6" width="2.7" height="2.6" fill="#263c5d"/><rect x="173.3" y="349.6" width="2.7" height="2.6" fill="#6c4ca3"/><rect x="175.6" y="349.6" width="2.7" height="2.6" fill="#465f94"/><rect x="178.0" y="349.6" width="2.7" height="2.6" fill="#6c69ba"/><rect x="180.3" y="349.6" width="2.7" height="2.6" fill="#466498"/><rect x="182.7" y="349.6" width="2.7" height="2.6" fill="#393f6f"/><rect x="185.0" y="349.6" width="2.7" height="2.6" fill="#415a8c"/><rect x="187.3" y="349.6" width="2.7" height="2.6" fill="#4d4281"/><rect x="189.7" y="349.6" width="2.7" height="2.6" fill="#564289"/><rect x="192.0" y="349.6" width="2.7" height="2.6" fill="#4b4f8b"/><rect x="194.4" y="349.6" width="2.7" height="2.6" fill="#48407c"/><rect x="196.7" y="349.6" width="2.7" height="2.6" fill="#3d6996"/><rect x="199.1" y="349.6" width="2.7" height="2.6" fill="#285574"/><rect x="201.4" y="349.6" width="2.7" height="2.6" fill="#43457c"/><rect x="203.7" y="349.6" width="2.7" height="2.6" fill="#2d4f73"/><rect x="206.1" y="349.6" width="2.7" height="2.6" fill="#4e6ba4"/><rect x="208.4" y="349.6" width="2.7" height="2.6" fill="#473e7a"/><rect x="210.8" y="349.6" width="2.7" height="2.6" fill="#3e6794"/><rect x="213.1" y="349.6" width="2.7" height="2.6" fill="#6553a2"/><rect x="215.5" y="349.6" width="2.7" height="2.6" fill="#8064c7"/><rect x="217.8" y="349.6" width="2.7" height="2.6" fill="#5261a0"/><rect x="220.2" y="349.6" width="2.7" height="2.6" fill="#3e5585"/><rect x="222.5" y="349.6" width="2.7" height="2.6" fill="#3f5f8e"/><rect x="140.5" y="351.8" width="2.7" height="2.6" fill="#6c62b4"/><rect x="142.8" y="351.8" width="2.7" height="2.6" fill="#7557b3"/><rect x="145.1" y="351.8" width="2.7" height="2.6" fill="#6a61b2"/><rect x="147.5" y="351.8" width="2.7" height="2.6" fill="#446b9c"/><rect x="149.8" y="351.8" width="2.7" height="2.6" fill="#8faaff"/><rect x="152.2" y="351.8" width="2.7" height="2.6" fill="#616cb5"/><rect x="154.5" y="351.8" width="2.7" height="2.6" fill="#8453bb"/><rect x="156.9" y="351.8" width="2.7" height="2.6" fill="#7d45ab"/><rect x="159.2" y="351.8" width="2.7" height="2.6" fill="#42588b"/><rect x="161.6" y="351.8" width="2.7" height="2.6" fill="#5875b4"/><rect x="163.9" y="351.8" width="2.7" height="2.6" fill="#455b8f"/><rect x="166.2" y="351.8" width="2.7" height="2.6" fill="#5764a5"/><rect x="168.6" y="351.8" width="2.7" height="2.6" fill="#7078ca"/><rect x="170.9" y="351.8" width="2.7" height="2.6" fill="#686bb9"/><rect x="173.3" y="351.8" width="2.7" height="2.6" fill="#5c418d"/><rect x="175.6" y="351.8" width="2.7" height="2.6" fill="#356289"/><rect x="178.0" y="351.8" width="2.7" height="2.6" fill="#3c4c7c"/><rect x="180.3" y="351.8" width="2.7" height="2.6" fill="#645ca9"/><rect x="182.7" y="351.8" width="2.7" height="2.6" fill="#4a4c88"/><rect x="185.0" y="351.8" width="2.7" height="2.6" fill="#6581c9"/><rect x="187.3" y="351.8" width="2.7" height="2.6" fill="#375681"/><rect x="189.7" y="351.8" width="2.7" height="2.6" fill="#786cc6"/><rect x="192.0" y="351.8" width="2.7" height="2.6" fill="#52609f"/><rect x="194.4" y="351.8" width="2.7" height="2.6" fill="#6d79c9"/><rect x="196.7" y="351.8" width="2.7" height="2.6" fill="#384a77"/><rect x="199.1" y="351.8" width="2.7" height="2.6" fill="#696dbb"/><rect x="201.4" y="351.8" width="2.7" height="2.6" fill="#686cba"/><rect x="203.7" y="351.8" width="2.7" height="2.6" fill="#7870c9"/><rect x="206.1" y="351.8" width="2.7" height="2.6" fill="#9d5fd9"/><rect x="208.4" y="351.8" width="2.7" height="2.6" fill="#554288"/><rect x="210.8" y="351.8" width="2.7" height="2.6" fill="#716abf"/><rect x="213.1" y="351.8" width="2.7" height="2.6" fill="#5b4a93"/><rect x="215.5" y="351.8" width="2.7" height="2.6" fill="#9274e2"/><rect x="217.8" y="351.8" width="2.7" height="2.6" fill="#724aa6"/><rect x="220.2" y="351.8" width="2.7" height="2.6" fill="#6c6fbf"/><rect x="222.5" y="351.8" width="2.7" height="2.6" fill="#8d76e0"/><rect x="140.5" y="353.9" width="2.7" height="2.6" fill="#7751af"/><rect x="142.8" y="353.9" width="2.7" height="2.6" fill="#5d6eb3"/><rect x="145.1" y="353.9" width="2.7" height="2.6" fill="#5f67af"/><rect x="147.5" y="353.9" width="2.7" height="2.6" fill="#5f88ca"/><rect x="149.8" y="353.9" width="2.7" height="2.6" fill="#5b7cbd"/><rect x="152.2" y="353.9" width="2.7" height="2.6" fill="#736ac1"/><rect x="154.5" y="353.9" width="2.7" height="2.6" fill="#613e8e"/><rect x="156.9" y="353.9" width="2.7" height="2.6" fill="#5984c2"/><rect x="159.2" y="353.9" width="2.7" height="2.6" fill="#504284"/><rect x="161.6" y="353.9" width="2.7" height="2.6" fill="#7959b7"/><rect x="163.9" y="353.9" width="2.7" height="2.6" fill="#8676d9"/><rect x="166.2" y="353.9" width="2.7" height="2.6" fill="#455d92"/><rect x="168.6" y="353.9" width="2.7" height="2.6" fill="#8c7ce4"/><rect x="170.9" y="353.9" width="2.7" height="2.6" fill="#6575bf"/><rect x="173.3" y="353.9" width="2.7" height="2.6" fill="#6164ae"/><rect x="175.6" y="353.9" width="2.7" height="2.6" fill="#7b94ea"/><rect x="178.0" y="353.9" width="2.7" height="2.6" fill="#6f95e1"/><rect x="180.3" y="353.9" width="2.7" height="2.6" fill="#7f58bb"/><rect x="182.7" y="353.9" width="2.7" height="2.6" fill="#7d93eb"/><rect x="185.0" y="353.9" width="2.7" height="2.6" fill="#386089"/><rect x="187.3" y="353.9" width="2.7" height="2.6" fill="#7264bb"/><rect x="189.7" y="353.9" width="2.7" height="2.6" fill="#696ebc"/><rect x="192.0" y="353.9" width="2.7" height="2.6" fill="#526da9"/><rect x="194.4" y="353.9" width="2.7" height="2.6" fill="#5e71b6"/><rect x="196.7" y="353.9" width="2.7" height="2.6" fill="#6665b2"/><rect x="199.1" y="353.9" width="2.7" height="2.6" fill="#5463a2"/><rect x="201.4" y="353.9" width="2.7" height="2.6" fill="#7260b8"/><rect x="203.7" y="353.9" width="2.7" height="2.6" fill="#8767ce"/><rect x="206.1" y="353.9" width="2.7" height="2.6" fill="#9677e8"/><rect x="208.4" y="353.9" width="2.7" height="2.6" fill="#5e68ae"/><rect x="210.8" y="353.9" width="2.7" height="2.6" fill="#767bd2"/><rect x="213.1" y="353.9" width="2.7" height="2.6" fill="#5676b4"/><rect x="215.5" y="353.9" width="2.7" height="2.6" fill="#787dd5"/><rect x="217.8" y="353.9" width="2.7" height="2.6" fill="#8549b3"/><rect x="220.2" y="353.9" width="2.7" height="2.6" fill="#666ab7"/><rect x="222.5" y="353.9" width="2.7" height="2.6" fill="#7ea3f9"/><rect x="140.5" y="356.1" width="2.7" height="2.6" fill="#436a9b"/><rect x="142.8" y="356.1" width="2.7" height="2.6" fill="#6494d8"/><rect x="145.1" y="356.1" width="2.7" height="2.6" fill="#7f78d6"/><rect x="147.5" y="356.1" width="2.7" height="2.6" fill="#7e87e1"/><rect x="149.8" y="356.1" width="2.7" height="2.6" fill="#838ce9"/><rect x="152.2" y="356.1" width="2.7" height="2.6" fill="#7989df"/><rect x="154.5" y="356.1" width="2.7" height="2.6" fill="#5571ae"/><rect x="156.9" y="356.1" width="2.7" height="2.6" fill="#777cd3"/><rect x="159.2" y="356.1" width="2.7" height="2.6" fill="#5681bd"/><rect x="161.6" y="356.1" width="2.7" height="2.6" fill="#7c9bf0"/><rect x="163.9" y="356.1" width="2.7" height="2.6" fill="#5f86c8"/><rect x="166.2" y="356.1" width="2.7" height="2.6" fill="#7c82dc"/><rect x="168.6" y="356.1" width="2.7" height="2.6" fill="#8996f6"/><rect x="170.9" y="356.1" width="2.7" height="2.6" fill="#5c98d5"/><rect x="173.3" y="356.1" width="2.7" height="2.6" fill="#71b0f9"/><rect x="175.6" y="356.1" width="2.7" height="2.6" fill="#74b1fd"/><rect x="178.0" y="356.1" width="2.7" height="2.6" fill="#ada9ff"/><rect x="180.3" y="356.1" width="2.7" height="2.6" fill="#818feb"/><rect x="182.7" y="356.1" width="2.7" height="2.6" fill="#7ca7fa"/><rect x="185.0" y="356.1" width="2.7" height="2.6" fill="#abb9ff"/><rect x="187.3" y="356.1" width="2.7" height="2.6" fill="#69aff2"/><rect x="189.7" y="356.1" width="2.7" height="2.6" fill="#6ebcff"/><rect x="192.0" y="356.1" width="2.7" height="2.6" fill="#99a9ff"/><rect x="194.4" y="356.1" width="2.7" height="2.6" fill="#60a3e1"/><rect x="196.7" y="356.1" width="2.7" height="2.6" fill="#6a89d3"/><rect x="199.1" y="356.1" width="2.7" height="2.6" fill="#757ad0"/><rect x="201.4" y="356.1" width="2.7" height="2.6" fill="#80a5fc"/><rect x="203.7" y="356.1" width="2.7" height="2.6" fill="#9195fc"/><rect x="206.1" y="356.1" width="2.7" height="2.6" fill="#77b9ff"/><rect x="208.4" y="356.1" width="2.7" height="2.6" fill="#9882f2"/><rect x="210.8" y="356.1" width="2.7" height="2.6" fill="#90b9ff"/><rect x="213.1" y="356.1" width="2.7" height="2.6" fill="#73b4fe"/><rect x="215.5" y="356.1" width="2.7" height="2.6" fill="#7b9aef"/><rect x="217.8" y="356.1" width="2.7" height="2.6" fill="#69bbfc"/><rect x="220.2" y="356.1" width="2.7" height="2.6" fill="#625ca7"/><rect x="222.5" y="356.1" width="2.7" height="2.6" fill="#5d8ecd"/><rect x="140.5" y="358.2" width="2.7" height="2.6" fill="#4a9bc9"/><rect x="142.8" y="358.2" width="2.7" height="2.6" fill="#4c73aa"/><rect x="145.1" y="358.2" width="2.7" height="2.6" fill="#6890d8"/><rect x="147.5" y="358.2" width="2.7" height="2.6" fill="#3f5788"/><rect x="149.8" y="358.2" width="2.7" height="2.6" fill="#518cc1"/><rect x="152.2" y="358.2" width="2.7" height="2.6" fill="#6290d3"/><rect x="154.5" y="358.2" width="2.7" height="2.6" fill="#5998d2"/><rect x="156.9" y="358.2" width="2.7" height="2.6" fill="#718ada"/><rect x="159.2" y="358.2" width="2.7" height="2.6" fill="#7992e7"/><rect x="161.6" y="358.2" width="2.7" height="2.6" fill="#6e6cbf"/><rect x="163.9" y="358.2" width="2.7" height="2.6" fill="#758add"/><rect x="166.2" y="358.2" width="2.7" height="2.6" fill="#7b94ea"/><rect x="168.6" y="358.2" width="2.7" height="2.6" fill="#6897dd"/><rect x="170.9" y="358.2" width="2.7" height="2.6" fill="#98a2ff"/><rect x="173.3" y="358.2" width="2.7" height="2.6" fill="#7595e6"/><rect x="175.6" y="358.2" width="2.7" height="2.6" fill="#8b89ee"/><rect x="178.0" y="358.2" width="2.7" height="2.6" fill="#758cdf"/><rect x="180.3" y="358.2" width="2.7" height="2.6" fill="#569fd5"/><rect x="182.7" y="358.2" width="2.7" height="2.6" fill="#8c93f7"/><rect x="185.0" y="358.2" width="2.7" height="2.6" fill="#76a3f3"/><rect x="187.3" y="358.2" width="2.7" height="2.6" fill="#a39eff"/><rect x="189.7" y="358.2" width="2.7" height="2.6" fill="#adbeff"/><rect x="192.0" y="358.2" width="2.7" height="2.6" fill="#4f90c4"/><rect x="194.4" y="358.2" width="2.7" height="2.6" fill="#8898f8"/><rect x="196.7" y="358.2" width="2.7" height="2.6" fill="#97a8ff"/><rect x="199.1" y="358.2" width="2.7" height="2.6" fill="#8a9bfc"/><rect x="201.4" y="358.2" width="2.7" height="2.6" fill="#569ed5"/><rect x="203.7" y="358.2" width="2.7" height="2.6" fill="#68abef"/><rect x="206.1" y="358.2" width="2.7" height="2.6" fill="#8eddff"/><rect x="208.4" y="358.2" width="2.7" height="2.6" fill="#857ddf"/><rect x="210.8" y="358.2" width="2.7" height="2.6" fill="#b9b6ff"/><rect x="213.1" y="358.2" width="2.7" height="2.6" fill="#a3c6ff"/><rect x="215.5" y="358.2" width="2.7" height="2.6" fill="#6b8bd6"/><rect x="217.8" y="358.2" width="2.7" height="2.6" fill="#9592fd"/><rect x="220.2" y="358.2" width="2.7" height="2.6" fill="#5890cb"/><rect x="222.5" y="358.2" width="2.7" height="2.6" fill="#82b2ff"/><rect x="140.5" y="360.4" width="2.7" height="2.6" fill="#515494"/><rect x="142.8" y="360.4" width="2.7" height="2.6" fill="#6869b7"/><rect x="145.1" y="360.4" width="2.7" height="2.6" fill="#6d4ea5"/><rect x="147.5" y="360.4" width="2.7" height="2.6" fill="#8c55c4"/><rect x="149.8" y="360.4" width="2.7" height="2.6" fill="#7b7dd7"/><rect x="152.2" y="360.4" width="2.7" height="2.6" fill="#4d609b"/><rect x="154.5" y="360.4" width="2.7" height="2.6" fill="#5571af"/><rect x="156.9" y="360.4" width="2.7" height="2.6" fill="#776ac3"/><rect x="159.2" y="360.4" width="2.7" height="2.6" fill="#6458a6"/><rect x="161.6" y="360.4" width="2.7" height="2.6" fill="#7477cc"/><rect x="163.9" y="360.4" width="2.7" height="2.6" fill="#5a5198"/><rect x="166.2" y="360.4" width="2.7" height="2.6" fill="#7857b5"/><rect x="168.6" y="360.4" width="2.7" height="2.6" fill="#545496"/><rect x="170.9" y="360.4" width="2.7" height="2.6" fill="#6967b6"/><rect x="173.3" y="360.4" width="2.7" height="2.6" fill="#43578b"/><rect x="175.6" y="360.4" width="2.7" height="2.6" fill="#5877b6"/><rect x="178.0" y="360.4" width="2.7" height="2.6" fill="#a194ff"/><rect x="180.3" y="360.4" width="2.7" height="2.6" fill="#928ff8"/><rect x="182.7" y="360.4" width="2.7" height="2.6" fill="#595ea2"/><rect x="185.0" y="360.4" width="2.7" height="2.6" fill="#4d78ae"/><rect x="187.3" y="360.4" width="2.7" height="2.6" fill="#6a56a9"/><rect x="189.7" y="360.4" width="2.7" height="2.6" fill="#7369c0"/><rect x="192.0" y="360.4" width="2.7" height="2.6" fill="#7d67c7"/><rect x="194.4" y="360.4" width="2.7" height="2.6" fill="#5966a9"/><rect x="196.7" y="360.4" width="2.7" height="2.6" fill="#687ac5"/><rect x="199.1" y="360.4" width="2.7" height="2.6" fill="#5f5ea7"/><rect x="201.4" y="360.4" width="2.7" height="2.6" fill="#684fa1"/><rect x="203.7" y="360.4" width="2.7" height="2.6" fill="#5e75b9"/><rect x="206.1" y="360.4" width="2.7" height="2.6" fill="#5579b6"/><rect x="208.4" y="360.4" width="2.7" height="2.6" fill="#595fa4"/><rect x="210.8" y="360.4" width="2.7" height="2.6" fill="#756bc3"/><rect x="213.1" y="360.4" width="2.7" height="2.6" fill="#46407a"/><rect x="215.5" y="360.4" width="2.7" height="2.6" fill="#6b53a7"/><rect x="217.8" y="360.4" width="2.7" height="2.6" fill="#6372ba"/><rect x="220.2" y="360.4" width="2.7" height="2.6" fill="#625aa6"/><rect x="222.5" y="360.4" width="2.7" height="2.6" fill="#4e649f"/><rect x="140.5" y="362.5" width="2.7" height="2.6" fill="#8c4aba"/><rect x="142.8" y="362.5" width="2.7" height="2.6" fill="#344570"/><rect x="145.1" y="362.5" width="2.7" height="2.6" fill="#7353ae"/><rect x="147.5" y="362.5" width="2.7" height="2.6" fill="#545294"/><rect x="149.8" y="362.5" width="2.7" height="2.6" fill="#59418a"/><rect x="152.2" y="362.5" width="2.7" height="2.6" fill="#394e7c"/><rect x="154.5" y="362.5" width="2.7" height="2.6" fill="#7f38a1"/><rect x="156.9" y="362.5" width="2.7" height="2.6" fill="#504d8d"/><rect x="159.2" y="362.5" width="2.7" height="2.6" fill="#4d5591"/><rect x="161.6" y="362.5" width="2.7" height="2.6" fill="#4a6299"/><rect x="163.9" y="362.5" width="2.7" height="2.6" fill="#40326a"/><rect x="166.2" y="362.5" width="2.7" height="2.6" fill="#545f9f"/><rect x="168.6" y="362.5" width="2.7" height="2.6" fill="#9b5cd5"/><rect x="170.9" y="362.5" width="2.7" height="2.6" fill="#7b3aa0"/><rect x="173.3" y="362.5" width="2.7" height="2.6" fill="#7176c9"/><rect x="175.6" y="362.5" width="2.7" height="2.6" fill="#5967aa"/><rect x="178.0" y="362.5" width="2.7" height="2.6" fill="#504989"/><rect x="180.3" y="362.5" width="2.7" height="2.6" fill="#5662a3"/><rect x="182.7" y="362.5" width="2.7" height="2.6" fill="#306a8c"/><rect x="185.0" y="362.5" width="2.7" height="2.6" fill="#514789"/><rect x="187.3" y="362.5" width="2.7" height="2.6" fill="#745eb8"/><rect x="189.7" y="362.5" width="2.7" height="2.6" fill="#9348be"/><rect x="192.0" y="362.5" width="2.7" height="2.6" fill="#524a8c"/><rect x="194.4" y="362.5" width="2.7" height="2.6" fill="#764aa9"/><rect x="196.7" y="362.5" width="2.7" height="2.6" fill="#2f1947"/><rect x="199.1" y="362.5" width="2.7" height="2.6" fill="#324d76"/><rect x="201.4" y="362.5" width="2.7" height="2.6" fill="#47699d"/><rect x="203.7" y="362.5" width="2.7" height="2.6" fill="#314971"/><rect x="206.1" y="362.5" width="2.7" height="2.6" fill="#334872"/><rect x="208.4" y="362.5" width="2.7" height="2.6" fill="#41437a"/><rect x="210.8" y="362.5" width="2.7" height="2.6" fill="#2a5c7b"/><rect x="213.1" y="362.5" width="2.7" height="2.6" fill="#424379"/><rect x="215.5" y="362.5" width="2.7" height="2.6" fill="#44437b"/><rect x="217.8" y="362.5" width="2.7" height="2.6" fill="#746cc4"/><rect x="220.2" y="362.5" width="2.7" height="2.6" fill="#553b82"/><rect x="222.5" y="362.5" width="2.7" height="2.6" fill="#56478d"/><rect x="140.5" y="364.7" width="2.7" height="2.6" fill="#1a3851"/><rect x="142.8" y="364.7" width="2.7" height="2.6" fill="#554186"/><rect x="145.1" y="364.7" width="2.7" height="2.6" fill="#4d629c"/><rect x="147.5" y="364.7" width="2.7" height="2.6" fill="#672c84"/><rect x="149.8" y="364.7" width="2.7" height="2.6" fill="#5d549d"/><rect x="152.2" y="364.7" width="2.7" height="2.6" fill="#5b4691"/><rect x="154.5" y="364.7" width="2.7" height="2.6" fill="#53246d"/><rect x="156.9" y="364.7" width="2.7" height="2.6" fill="#4d5d98"/><rect x="159.2" y="364.7" width="2.7" height="2.6" fill="#333f6a"/><rect x="161.6" y="364.7" width="2.7" height="2.6" fill="#425084"/><rect x="163.9" y="364.7" width="2.7" height="2.6" fill="#6c4aa1"/><rect x="166.2" y="364.7" width="2.7" height="2.6" fill="#814cb3"/><rect x="168.6" y="364.7" width="2.7" height="2.6" fill="#695fb0"/><rect x="170.9" y="364.7" width="2.7" height="2.6" fill="#343765"/><rect x="173.3" y="364.7" width="2.7" height="2.6" fill="#51387d"/><rect x="175.6" y="364.7" width="2.7" height="2.6" fill="#30436b"/><rect x="178.0" y="364.7" width="2.7" height="2.6" fill="#2e466c"/><rect x="180.3" y="364.7" width="2.7" height="2.6" fill="#495891"/><rect x="182.7" y="364.7" width="2.7" height="2.6" fill="#672f86"/><rect x="185.0" y="364.7" width="2.7" height="2.6" fill="#4c5d97"/><rect x="187.3" y="364.7" width="2.7" height="2.6" fill="#915bcd"/><rect x="189.7" y="364.7" width="2.7" height="2.6" fill="#564389"/><rect x="192.0" y="364.7" width="2.7" height="2.6" fill="#8b51bf"/><rect x="194.4" y="364.7" width="2.7" height="2.6" fill="#6264ae"/><rect x="196.7" y="364.7" width="2.7" height="2.6" fill="#2f2c57"/><rect x="199.1" y="364.7" width="2.7" height="2.6" fill="#334972"/><rect x="201.4" y="364.7" width="2.7" height="2.6" fill="#624191"/><rect x="203.7" y="364.7" width="2.7" height="2.6" fill="#7c47ab"/><rect x="206.1" y="364.7" width="2.7" height="2.6" fill="#584b92"/><rect x="208.4" y="364.7" width="2.7" height="2.6" fill="#36406e"/><rect x="210.8" y="364.7" width="2.7" height="2.6" fill="#4a2f6f"/><rect x="213.1" y="364.7" width="2.7" height="2.6" fill="#4b3777"/><rect x="215.5" y="364.7" width="2.7" height="2.6" fill="#64398d"/><rect x="217.8" y="364.7" width="2.7" height="2.6" fill="#323461"/><rect x="220.2" y="364.7" width="2.7" height="2.6" fill="#5d6ab0"/><rect x="222.5" y="364.7" width="2.7" height="2.6" fill="#35557f"/></g></g><line x1="183.00" y1="349.60" x2="183.00" y2="364.70" stroke="#ffffff" stroke-width="0.9" stroke-dasharray="1,0.9"/><clipPath id="kc4"><rect x="142.80" y="369.90" width="79.70" height="15.10"/></clipPath><g clip-path="url(#kc4)"><g><rect x="140.5" y="367.7" width="2.7" height="2.6" fill="#f88c17"/><rect x="142.8" y="367.7" width="2.7" height="2.6" fill="#e1402d"/><rect x="145.1" y="367.7" width="2.7" height="2.6" fill="#f57514"/><rect x="147.5" y="367.7" width="2.7" height="2.6" fill="#ec591f"/><rect x="149.8" y="367.7" width="2.7" height="2.6" fill="#cd2644"/><rect x="152.2" y="367.7" width="2.7" height="2.6" fill="#f57114"/><rect x="154.5" y="367.7" width="2.7" height="2.6" fill="#ca2546"/><rect x="156.9" y="367.7" width="2.7" height="2.6" fill="#d5273c"/><rect x="159.2" y="367.7" width="2.7" height="2.6" fill="#ea5621"/><rect x="161.6" y="367.7" width="2.7" height="2.6" fill="#ffcb2d"/><rect x="163.9" y="367.7" width="2.7" height="2.6" fill="#ffe246"/><rect x="166.2" y="367.7" width="2.7" height="2.6" fill="#e03f2e"/><rect x="168.6" y="367.7" width="2.7" height="2.6" fill="#f46c14"/><rect x="170.9" y="367.7" width="2.7" height="2.6" fill="#fba51a"/><rect x="173.3" y="367.7" width="2.7" height="2.6" fill="#dd3633"/><rect x="175.6" y="367.7" width="2.7" height="2.6" fill="#cd2644"/><rect x="178.0" y="367.7" width="2.7" height="2.6" fill="#fca61b"/><rect x="180.3" y="367.7" width="2.7" height="2.6" fill="#c82548"/><rect x="182.7" y="367.7" width="2.7" height="2.6" fill="#fff488"/><rect x="185.0" y="367.7" width="2.7" height="2.6" fill="#380e54"/><rect x="187.3" y="367.7" width="2.7" height="2.6" fill="#68138f"/><rect x="189.7" y="367.7" width="2.7" height="2.6" fill="#f88917"/><rect x="192.0" y="367.7" width="2.7" height="2.6" fill="#9d1c6d"/><rect x="194.4" y="367.7" width="2.7" height="2.6" fill="#ea5422"/><rect x="196.7" y="367.7" width="2.7" height="2.6" fill="#e95323"/><rect x="199.1" y="367.7" width="2.7" height="2.6" fill="#fff488"/><rect x="201.4" y="367.7" width="2.7" height="2.6" fill="#f57014"/><rect x="203.7" y="367.7" width="2.7" height="2.6" fill="#f57514"/><rect x="206.1" y="367.7" width="2.7" height="2.6" fill="#eb5621"/><rect x="208.4" y="367.7" width="2.7" height="2.6" fill="#f36916"/><rect x="210.8" y="367.7" width="2.7" height="2.6" fill="#f26717"/><rect x="213.1" y="367.7" width="2.7" height="2.6" fill="#c82548"/><rect x="215.5" y="367.7" width="2.7" height="2.6" fill="#fcaa1b"/><rect x="217.8" y="367.7" width="2.7" height="2.6" fill="#991c70"/><rect x="220.2" y="367.7" width="2.7" height="2.6" fill="#ed5c1d"/><rect x="222.5" y="367.7" width="2.7" height="2.6" fill="#c3244c"/><rect x="140.5" y="369.9" width="2.7" height="2.6" fill="#f99218"/><rect x="142.8" y="369.9" width="2.7" height="2.6" fill="#e64d26"/><rect x="145.1" y="369.9" width="2.7" height="2.6" fill="#cf2642"/><rect x="147.5" y="369.9" width="2.7" height="2.6" fill="#fa9719"/><rect x="149.8" y="369.9" width="2.7" height="2.6" fill="#fca61b"/><rect x="152.2" y="369.9" width="2.7" height="2.6" fill="#db3136"/><rect x="154.5" y="369.9" width="2.7" height="2.6" fill="#febd1d"/><rect x="156.9" y="369.9" width="2.7" height="2.6" fill="#a31e68"/><rect x="159.2" y="369.9" width="2.7" height="2.6" fill="#c72549"/><rect x="161.6" y="369.9" width="2.7" height="2.6" fill="#fdb01c"/><rect x="163.9" y="369.9" width="2.7" height="2.6" fill="#ffd133"/><rect x="166.2" y="369.9" width="2.7" height="2.6" fill="#971b72"/><rect x="168.6" y="369.9" width="2.7" height="2.6" fill="#fba11a"/><rect x="170.9" y="369.9" width="2.7" height="2.6" fill="#db3335"/><rect x="173.3" y="369.9" width="2.7" height="2.6" fill="#ffc92a"/><rect x="175.6" y="369.9" width="2.7" height="2.6" fill="#d7283b"/><rect x="178.0" y="369.9" width="2.7" height="2.6" fill="#fdb11c"/><rect x="180.3" y="369.9" width="2.7" height="2.6" fill="#fba41a"/><rect x="182.7" y="369.9" width="2.7" height="2.6" fill="#fdb51c"/><rect x="185.0" y="369.9" width="2.7" height="2.6" fill="#380e54"/><rect x="187.3" y="369.9" width="2.7" height="2.6" fill="#f67d15"/><rect x="189.7" y="369.9" width="2.7" height="2.6" fill="#d92d38"/><rect x="192.0" y="369.9" width="2.7" height="2.6" fill="#feb91d"/><rect x="194.4" y="369.9" width="2.7" height="2.6" fill="#ee5f1c"/><rect x="196.7" y="369.9" width="2.7" height="2.6" fill="#fdb41c"/><rect x="199.1" y="369.9" width="2.7" height="2.6" fill="#b1205c"/><rect x="201.4" y="369.9" width="2.7" height="2.6" fill="#fba31a"/><rect x="203.7" y="369.9" width="2.7" height="2.6" fill="#f67615"/><rect x="206.1" y="369.9" width="2.7" height="2.6" fill="#f99118"/><rect x="208.4" y="369.9" width="2.7" height="2.6" fill="#ffcf31"/><rect x="210.8" y="369.9" width="2.7" height="2.6" fill="#df3c30"/><rect x="213.1" y="369.9" width="2.7" height="2.6" fill="#f78416"/><rect x="215.5" y="369.9" width="2.7" height="2.6" fill="#f0621a"/><rect x="217.8" y="369.9" width="2.7" height="2.6" fill="#f98e18"/><rect x="220.2" y="369.9" width="2.7" height="2.6" fill="#fcaa1b"/><rect x="222.5" y="369.9" width="2.7" height="2.6" fill="#f88d17"/><rect x="140.5" y="372.1" width="2.7" height="2.6" fill="#f88717"/><rect x="142.8" y="372.1" width="2.7" height="2.6" fill="#f99518"/><rect x="145.1" y="372.1" width="2.7" height="2.6" fill="#e03f2e"/><rect x="147.5" y="372.1" width="2.7" height="2.6" fill="#d5273d"/><rect x="149.8" y="372.1" width="2.7" height="2.6" fill="#f78516"/><rect x="152.2" y="372.1" width="2.7" height="2.6" fill="#fff488"/><rect x="154.5" y="372.1" width="2.7" height="2.6" fill="#fa9619"/><rect x="156.9" y="372.1" width="2.7" height="2.6" fill="#fca81b"/><rect x="159.2" y="372.1" width="2.7" height="2.6" fill="#fff178"/><rect x="161.6" y="372.1" width="2.7" height="2.6" fill="#f46d14"/><rect x="163.9" y="372.1" width="2.7" height="2.6" fill="#fff381"/><rect x="166.2" y="372.1" width="2.7" height="2.6" fill="#fa9b19"/><rect x="168.6" y="372.1" width="2.7" height="2.6" fill="#ffc92a"/><rect x="170.9" y="372.1" width="2.7" height="2.6" fill="#fba31a"/><rect x="173.3" y="372.1" width="2.7" height="2.6" fill="#e4462a"/><rect x="175.6" y="372.1" width="2.7" height="2.6" fill="#fff488"/><rect x="178.0" y="372.1" width="2.7" height="2.6" fill="#fff27b"/><rect x="180.3" y="372.1" width="2.7" height="2.6" fill="#ffcc2d"/><rect x="182.7" y="372.1" width="2.7" height="2.6" fill="#f67915"/><rect x="185.0" y="372.1" width="2.7" height="2.6" fill="#f36b15"/><rect x="187.3" y="372.1" width="2.7" height="2.6" fill="#fcaa1b"/><rect x="189.7" y="372.1" width="2.7" height="2.6" fill="#f36a16"/><rect x="192.0" y="372.1" width="2.7" height="2.6" fill="#f99418"/><rect x="194.4" y="372.1" width="2.7" height="2.6" fill="#fff488"/><rect x="196.7" y="372.1" width="2.7" height="2.6" fill="#dc3335"/><rect x="199.1" y="372.1" width="2.7" height="2.6" fill="#f78116"/><rect x="201.4" y="372.1" width="2.7" height="2.6" fill="#fca81b"/><rect x="203.7" y="372.1" width="2.7" height="2.6" fill="#fff06e"/><rect x="206.1" y="372.1" width="2.7" height="2.6" fill="#de3932"/><rect x="208.4" y="372.1" width="2.7" height="2.6" fill="#fff488"/><rect x="210.8" y="372.1" width="2.7" height="2.6" fill="#ffe348"/><rect x="213.1" y="372.1" width="2.7" height="2.6" fill="#fb9f1a"/><rect x="215.5" y="372.1" width="2.7" height="2.6" fill="#f77f16"/><rect x="217.8" y="372.1" width="2.7" height="2.6" fill="#ffc728"/><rect x="220.2" y="372.1" width="2.7" height="2.6" fill="#fff488"/><rect x="222.5" y="372.1" width="2.7" height="2.6" fill="#fff488"/><rect x="140.5" y="374.2" width="2.7" height="2.6" fill="#ffe54a"/><rect x="142.8" y="374.2" width="2.7" height="2.6" fill="#f57014"/><rect x="145.1" y="374.2" width="2.7" height="2.6" fill="#ffe246"/><rect x="147.5" y="374.2" width="2.7" height="2.6" fill="#fff488"/><rect x="149.8" y="374.2" width="2.7" height="2.6" fill="#feba1d"/><rect x="152.2" y="374.2" width="2.7" height="2.6" fill="#fff488"/><rect x="154.5" y="374.2" width="2.7" height="2.6" fill="#f78516"/><rect x="156.9" y="374.2" width="2.7" height="2.6" fill="#fff488"/><rect x="159.2" y="374.2" width="2.7" height="2.6" fill="#fff175"/><rect x="161.6" y="374.2" width="2.7" height="2.6" fill="#ffef6a"/><rect x="163.9" y="374.2" width="2.7" height="2.6" fill="#f57514"/><rect x="166.2" y="374.2" width="2.7" height="2.6" fill="#feb91d"/><rect x="168.6" y="374.2" width="2.7" height="2.6" fill="#d82a3a"/><rect x="170.9" y="374.2" width="2.7" height="2.6" fill="#b52158"/><rect x="173.3" y="374.2" width="2.7" height="2.6" fill="#fff486"/><rect x="175.6" y="374.2" width="2.7" height="2.6" fill="#fff488"/><rect x="178.0" y="374.2" width="2.7" height="2.6" fill="#ffd436"/><rect x="180.3" y="374.2" width="2.7" height="2.6" fill="#fa9c19"/><rect x="182.7" y="374.2" width="2.7" height="2.6" fill="#feba1d"/><rect x="185.0" y="374.2" width="2.7" height="2.6" fill="#ffe145"/><rect x="187.3" y="374.2" width="2.7" height="2.6" fill="#ffd234"/><rect x="189.7" y="374.2" width="2.7" height="2.6" fill="#ffdd41"/><rect x="192.0" y="374.2" width="2.7" height="2.6" fill="#ffeb55"/><rect x="194.4" y="374.2" width="2.7" height="2.6" fill="#f57014"/><rect x="196.7" y="374.2" width="2.7" height="2.6" fill="#fa9a19"/><rect x="199.1" y="374.2" width="2.7" height="2.6" fill="#fff488"/><rect x="201.4" y="374.2" width="2.7" height="2.6" fill="#fff176"/><rect x="203.7" y="374.2" width="2.7" height="2.6" fill="#feb61d"/><rect x="206.1" y="374.2" width="2.7" height="2.6" fill="#ffe145"/><rect x="208.4" y="374.2" width="2.7" height="2.6" fill="#f78516"/><rect x="210.8" y="374.2" width="2.7" height="2.6" fill="#f67715"/><rect x="213.1" y="374.2" width="2.7" height="2.6" fill="#ffda3d"/><rect x="215.5" y="374.2" width="2.7" height="2.6" fill="#ffc222"/><rect x="217.8" y="374.2" width="2.7" height="2.6" fill="#fdb51c"/><rect x="220.2" y="374.2" width="2.7" height="2.6" fill="#f88617"/><rect x="222.5" y="374.2" width="2.7" height="2.6" fill="#fff488"/><rect x="140.5" y="376.4" width="2.7" height="2.6" fill="#fff488"/><rect x="142.8" y="376.4" width="2.7" height="2.6" fill="#fff488"/><rect x="145.1" y="376.4" width="2.7" height="2.6" fill="#ffcb2d"/><rect x="147.5" y="376.4" width="2.7" height="2.6" fill="#ffd83b"/><rect x="149.8" y="376.4" width="2.7" height="2.6" fill="#fff488"/><rect x="152.2" y="376.4" width="2.7" height="2.6" fill="#ffe54a"/><rect x="154.5" y="376.4" width="2.7" height="2.6" fill="#e85124"/><rect x="156.9" y="376.4" width="2.7" height="2.6" fill="#f57414"/><rect x="159.2" y="376.4" width="2.7" height="2.6" fill="#f88617"/><rect x="161.6" y="376.4" width="2.7" height="2.6" fill="#fdae1c"/><rect x="163.9" y="376.4" width="2.7" height="2.6" fill="#f99318"/><rect x="166.2" y="376.4" width="2.7" height="2.6" fill="#fcac1b"/><rect x="168.6" y="376.4" width="2.7" height="2.6" fill="#ffd437"/><rect x="170.9" y="376.4" width="2.7" height="2.6" fill="#fca61b"/><rect x="173.3" y="376.4" width="2.7" height="2.6" fill="#fa9d19"/><rect x="175.6" y="376.4" width="2.7" height="2.6" fill="#f88c17"/><rect x="178.0" y="376.4" width="2.7" height="2.6" fill="#fba21a"/><rect x="180.3" y="376.4" width="2.7" height="2.6" fill="#ffcb2d"/><rect x="182.7" y="376.4" width="2.7" height="2.6" fill="#fff488"/><rect x="185.0" y="376.4" width="2.7" height="2.6" fill="#ffdc3f"/><rect x="187.3" y="376.4" width="2.7" height="2.6" fill="#fff488"/><rect x="189.7" y="376.4" width="2.7" height="2.6" fill="#ffcd2f"/><rect x="192.0" y="376.4" width="2.7" height="2.6" fill="#ffc829"/><rect x="194.4" y="376.4" width="2.7" height="2.6" fill="#ffd235"/><rect x="196.7" y="376.4" width="2.7" height="2.6" fill="#fff488"/><rect x="199.1" y="376.4" width="2.7" height="2.6" fill="#ffe64a"/><rect x="201.4" y="376.4" width="2.7" height="2.6" fill="#fca91b"/><rect x="203.7" y="376.4" width="2.7" height="2.6" fill="#fff488"/><rect x="206.1" y="376.4" width="2.7" height="2.6" fill="#f57114"/><rect x="208.4" y="376.4" width="2.7" height="2.6" fill="#fff488"/><rect x="210.8" y="376.4" width="2.7" height="2.6" fill="#ffc425"/><rect x="213.1" y="376.4" width="2.7" height="2.6" fill="#fff177"/><rect x="215.5" y="376.4" width="2.7" height="2.6" fill="#ffc122"/><rect x="217.8" y="376.4" width="2.7" height="2.6" fill="#de3a31"/><rect x="220.2" y="376.4" width="2.7" height="2.6" fill="#e3452b"/><rect x="222.5" y="376.4" width="2.7" height="2.6" fill="#ffd235"/><rect x="140.5" y="378.5" width="2.7" height="2.6" fill="#ffd639"/><rect x="142.8" y="378.5" width="2.7" height="2.6" fill="#fba11a"/><rect x="145.1" y="378.5" width="2.7" height="2.6" fill="#f57014"/><rect x="147.5" y="378.5" width="2.7" height="2.6" fill="#ce2643"/><rect x="149.8" y="378.5" width="2.7" height="2.6" fill="#fba21a"/><rect x="152.2" y="378.5" width="2.7" height="2.6" fill="#ffe145"/><rect x="154.5" y="378.5" width="2.7" height="2.6" fill="#ffd537"/><rect x="156.9" y="378.5" width="2.7" height="2.6" fill="#ffe84d"/><rect x="159.2" y="378.5" width="2.7" height="2.6" fill="#e3442b"/><rect x="161.6" y="378.5" width="2.7" height="2.6" fill="#fb9e1a"/><rect x="163.9" y="378.5" width="2.7" height="2.6" fill="#ffc82a"/><rect x="166.2" y="378.5" width="2.7" height="2.6" fill="#fba11a"/><rect x="168.6" y="378.5" width="2.7" height="2.6" fill="#fff488"/><rect x="170.9" y="378.5" width="2.7" height="2.6" fill="#e2432c"/><rect x="173.3" y="378.5" width="2.7" height="2.6" fill="#6b1392"/><rect x="175.6" y="378.5" width="2.7" height="2.6" fill="#fff488"/><rect x="178.0" y="378.5" width="2.7" height="2.6" fill="#ea5621"/><rect x="180.3" y="378.5" width="2.7" height="2.6" fill="#a01d6a"/><rect x="182.7" y="378.5" width="2.7" height="2.6" fill="#fba31a"/><rect x="185.0" y="378.5" width="2.7" height="2.6" fill="#ffe044"/><rect x="187.3" y="378.5" width="2.7" height="2.6" fill="#ffed5d"/><rect x="189.7" y="378.5" width="2.7" height="2.6" fill="#d7283b"/><rect x="192.0" y="378.5" width="2.7" height="2.6" fill="#ffd93c"/><rect x="194.4" y="378.5" width="2.7" height="2.6" fill="#ffef6a"/><rect x="196.7" y="378.5" width="2.7" height="2.6" fill="#fa9619"/><rect x="199.1" y="378.5" width="2.7" height="2.6" fill="#fff488"/><rect x="201.4" y="378.5" width="2.7" height="2.6" fill="#f67a15"/><rect x="203.7" y="378.5" width="2.7" height="2.6" fill="#ffcb2d"/><rect x="206.1" y="378.5" width="2.7" height="2.6" fill="#feb81d"/><rect x="208.4" y="378.5" width="2.7" height="2.6" fill="#feba1d"/><rect x="210.8" y="378.5" width="2.7" height="2.6" fill="#fff488"/><rect x="213.1" y="378.5" width="2.7" height="2.6" fill="#fa9b19"/><rect x="215.5" y="378.5" width="2.7" height="2.6" fill="#fba51a"/><rect x="217.8" y="378.5" width="2.7" height="2.6" fill="#ffc323"/><rect x="220.2" y="378.5" width="2.7" height="2.6" fill="#fff071"/><rect x="222.5" y="378.5" width="2.7" height="2.6" fill="#fca61b"/><rect x="140.5" y="380.7" width="2.7" height="2.6" fill="#fff176"/><rect x="142.8" y="380.7" width="2.7" height="2.6" fill="#f88a17"/><rect x="145.1" y="380.7" width="2.7" height="2.6" fill="#fb9e1a"/><rect x="147.5" y="380.7" width="2.7" height="2.6" fill="#f88717"/><rect x="149.8" y="380.7" width="2.7" height="2.6" fill="#fcab1b"/><rect x="152.2" y="380.7" width="2.7" height="2.6" fill="#fff488"/><rect x="154.5" y="380.7" width="2.7" height="2.6" fill="#ffd83b"/><rect x="156.9" y="380.7" width="2.7" height="2.6" fill="#f99418"/><rect x="159.2" y="380.7" width="2.7" height="2.6" fill="#ffcc2d"/><rect x="161.6" y="380.7" width="2.7" height="2.6" fill="#ffd639"/><rect x="163.9" y="380.7" width="2.7" height="2.6" fill="#ffbf1f"/><rect x="166.2" y="380.7" width="2.7" height="2.6" fill="#ffce30"/><rect x="168.6" y="380.7" width="2.7" height="2.6" fill="#f99118"/><rect x="170.9" y="380.7" width="2.7" height="2.6" fill="#feba1d"/><rect x="173.3" y="380.7" width="2.7" height="2.6" fill="#ffc728"/><rect x="175.6" y="380.7" width="2.7" height="2.6" fill="#ffea4f"/><rect x="178.0" y="380.7" width="2.7" height="2.6" fill="#fdb11c"/><rect x="180.3" y="380.7" width="2.7" height="2.6" fill="#fa9719"/><rect x="182.7" y="380.7" width="2.7" height="2.6" fill="#ffef6c"/><rect x="185.0" y="380.7" width="2.7" height="2.6" fill="#f46c15"/><rect x="187.3" y="380.7" width="2.7" height="2.6" fill="#f99318"/><rect x="189.7" y="380.7" width="2.7" height="2.6" fill="#f57014"/><rect x="192.0" y="380.7" width="2.7" height="2.6" fill="#eb5820"/><rect x="194.4" y="380.7" width="2.7" height="2.6" fill="#e54928"/><rect x="196.7" y="380.7" width="2.7" height="2.6" fill="#ffce30"/><rect x="199.1" y="380.7" width="2.7" height="2.6" fill="#ffe94e"/><rect x="201.4" y="380.7" width="2.7" height="2.6" fill="#fcaa1b"/><rect x="203.7" y="380.7" width="2.7" height="2.6" fill="#f46d14"/><rect x="206.1" y="380.7" width="2.7" height="2.6" fill="#f88d17"/><rect x="208.4" y="380.7" width="2.7" height="2.6" fill="#fca91b"/><rect x="210.8" y="380.7" width="2.7" height="2.6" fill="#ffef6b"/><rect x="213.1" y="380.7" width="2.7" height="2.6" fill="#fff488"/><rect x="215.5" y="380.7" width="2.7" height="2.6" fill="#f88c17"/><rect x="217.8" y="380.7" width="2.7" height="2.6" fill="#e03d2f"/><rect x="220.2" y="380.7" width="2.7" height="2.6" fill="#c5244b"/><rect x="222.5" y="380.7" width="2.7" height="2.6" fill="#d72a3a"/><rect x="140.5" y="382.8" width="2.7" height="2.6" fill="#f99118"/><rect x="142.8" y="382.8" width="2.7" height="2.6" fill="#e1402d"/><rect x="145.1" y="382.8" width="2.7" height="2.6" fill="#ae205e"/><rect x="147.5" y="382.8" width="2.7" height="2.6" fill="#f57214"/><rect x="149.8" y="382.8" width="2.7" height="2.6" fill="#8d1a7a"/><rect x="152.2" y="382.8" width="2.7" height="2.6" fill="#ec591f"/><rect x="154.5" y="382.8" width="2.7" height="2.6" fill="#f57414"/><rect x="156.9" y="382.8" width="2.7" height="2.6" fill="#380e54"/><rect x="159.2" y="382.8" width="2.7" height="2.6" fill="#f67b15"/><rect x="161.6" y="382.8" width="2.7" height="2.6" fill="#a41e67"/><rect x="163.9" y="382.8" width="2.7" height="2.6" fill="#65138b"/><rect x="166.2" y="382.8" width="2.7" height="2.6" fill="#f46b15"/><rect x="168.6" y="382.8" width="2.7" height="2.6" fill="#fdb51c"/><rect x="170.9" y="382.8" width="2.7" height="2.6" fill="#ffcd2e"/><rect x="173.3" y="382.8" width="2.7" height="2.6" fill="#f26916"/><rect x="175.6" y="382.8" width="2.7" height="2.6" fill="#ef601b"/><rect x="178.0" y="382.8" width="2.7" height="2.6" fill="#ffbf1f"/><rect x="180.3" y="382.8" width="2.7" height="2.6" fill="#de3a31"/><rect x="182.7" y="382.8" width="2.7" height="2.6" fill="#eb5720"/><rect x="185.0" y="382.8" width="2.7" height="2.6" fill="#f16618"/><rect x="187.3" y="382.8" width="2.7" height="2.6" fill="#f57414"/><rect x="189.7" y="382.8" width="2.7" height="2.6" fill="#f0631a"/><rect x="192.0" y="382.8" width="2.7" height="2.6" fill="#ca2547"/><rect x="194.4" y="382.8" width="2.7" height="2.6" fill="#ec5b1e"/><rect x="196.7" y="382.8" width="2.7" height="2.6" fill="#f46c14"/><rect x="199.1" y="382.8" width="2.7" height="2.6" fill="#e44729"/><rect x="201.4" y="382.8" width="2.7" height="2.6" fill="#f98f18"/><rect x="203.7" y="382.8" width="2.7" height="2.6" fill="#e2432c"/><rect x="206.1" y="382.8" width="2.7" height="2.6" fill="#fba31a"/><rect x="208.4" y="382.8" width="2.7" height="2.6" fill="#f99518"/><rect x="210.8" y="382.8" width="2.7" height="2.6" fill="#f16618"/><rect x="213.1" y="382.8" width="2.7" height="2.6" fill="#f67a15"/><rect x="215.5" y="382.8" width="2.7" height="2.6" fill="#d4273e"/><rect x="217.8" y="382.8" width="2.7" height="2.6" fill="#831883"/><rect x="220.2" y="382.8" width="2.7" height="2.6" fill="#cc2545"/><rect x="222.5" y="382.8" width="2.7" height="2.6" fill="#d02641"/><rect x="140.5" y="385.0" width="2.7" height="2.6" fill="#fa9c19"/><rect x="142.8" y="385.0" width="2.7" height="2.6" fill="#380e54"/><rect x="145.1" y="385.0" width="2.7" height="2.6" fill="#c0234e"/><rect x="147.5" y="385.0" width="2.7" height="2.6" fill="#fff488"/><rect x="149.8" y="385.0" width="2.7" height="2.6" fill="#ffbf1f"/><rect x="152.2" y="385.0" width="2.7" height="2.6" fill="#ea5522"/><rect x="154.5" y="385.0" width="2.7" height="2.6" fill="#e54928"/><rect x="156.9" y="385.0" width="2.7" height="2.6" fill="#ba2254"/><rect x="159.2" y="385.0" width="2.7" height="2.6" fill="#57117a"/><rect x="161.6" y="385.0" width="2.7" height="2.6" fill="#fa9b19"/><rect x="163.9" y="385.0" width="2.7" height="2.6" fill="#871880"/><rect x="166.2" y="385.0" width="2.7" height="2.6" fill="#801786"/><rect x="168.6" y="385.0" width="2.7" height="2.6" fill="#d6273c"/><rect x="170.9" y="385.0" width="2.7" height="2.6" fill="#fcad1b"/><rect x="173.3" y="385.0" width="2.7" height="2.6" fill="#feb61d"/><rect x="175.6" y="385.0" width="2.7" height="2.6" fill="#e03d2f"/><rect x="178.0" y="385.0" width="2.7" height="2.6" fill="#fa9619"/><rect x="180.3" y="385.0" width="2.7" height="2.6" fill="#ce2643"/><rect x="182.7" y="385.0" width="2.7" height="2.6" fill="#ffcc2e"/><rect x="185.0" y="385.0" width="2.7" height="2.6" fill="#fa9919"/><rect x="187.3" y="385.0" width="2.7" height="2.6" fill="#e84f25"/><rect x="189.7" y="385.0" width="2.7" height="2.6" fill="#fdb01c"/><rect x="192.0" y="385.0" width="2.7" height="2.6" fill="#feb91d"/><rect x="194.4" y="385.0" width="2.7" height="2.6" fill="#6c1394"/><rect x="196.7" y="385.0" width="2.7" height="2.6" fill="#3e0e5c"/><rect x="199.1" y="385.0" width="2.7" height="2.6" fill="#ed5d1d"/><rect x="201.4" y="385.0" width="2.7" height="2.6" fill="#be2350"/><rect x="203.7" y="385.0" width="2.7" height="2.6" fill="#d7283b"/><rect x="206.1" y="385.0" width="2.7" height="2.6" fill="#d7293b"/><rect x="208.4" y="385.0" width="2.7" height="2.6" fill="#8f1a78"/><rect x="210.8" y="385.0" width="2.7" height="2.6" fill="#89197e"/><rect x="213.1" y="385.0" width="2.7" height="2.6" fill="#feb91d"/><rect x="215.5" y="385.0" width="2.7" height="2.6" fill="#f78416"/><rect x="217.8" y="385.0" width="2.7" height="2.6" fill="#f77e16"/><rect x="220.2" y="385.0" width="2.7" height="2.6" fill="#ae205f"/><rect x="222.5" y="385.0" width="2.7" height="2.6" fill="#861880"/></g></g><line x1="183.00" y1="369.90" x2="183.00" y2="385.00" stroke="#ffffff" stroke-width="0.9" stroke-dasharray="1,0.9"/><clipPath id="kc5"><rect x="254.60" y="351.20" width="79.40" height="14.50"/></clipPath><g clip-path="url(#kc5)"><g><rect x="252.3" y="349.1" width="2.7" height="2.5" fill="#242c4f"/><rect x="254.6" y="349.1" width="2.7" height="2.5" fill="#2f2451"/><rect x="256.9" y="349.1" width="2.7" height="2.5" fill="#28234b"/><rect x="259.3" y="349.1" width="2.7" height="2.5" fill="#225871"/><rect x="261.6" y="349.1" width="2.7" height="2.5" fill="#1e304d"/><rect x="263.9" y="349.1" width="2.7" height="2.5" fill="#363362"/><rect x="266.3" y="349.1" width="2.7" height="2.5" fill="#151d37"/><rect x="268.6" y="349.1" width="2.7" height="2.5" fill="#4b3273"/><rect x="270.9" y="349.1" width="2.7" height="2.5" fill="#133045"/><rect x="273.3" y="349.1" width="2.7" height="2.5" fill="#202344"/><rect x="275.6" y="349.1" width="2.7" height="2.5" fill="#1d5168"/><rect x="278.0" y="349.1" width="2.7" height="2.5" fill="#5d3382"/><rect x="280.3" y="349.1" width="2.7" height="2.5" fill="#2c2f57"/><rect x="282.6" y="349.1" width="2.7" height="2.5" fill="#1d324e"/><rect x="285.0" y="349.1" width="2.7" height="2.5" fill="#3d3167"/><rect x="287.3" y="349.1" width="2.7" height="2.5" fill="#3e4578"/><rect x="289.6" y="349.1" width="2.7" height="2.5" fill="#493776"/><rect x="292.0" y="349.1" width="2.7" height="2.5" fill="#252e51"/><rect x="294.3" y="349.1" width="2.7" height="2.5" fill="#2c1b47"/><rect x="296.6" y="349.1" width="2.7" height="2.5" fill="#121931"/><rect x="299.0" y="349.1" width="2.7" height="2.5" fill="#2f325d"/><rect x="301.3" y="349.1" width="2.7" height="2.5" fill="#24536f"/><rect x="303.6" y="349.1" width="2.7" height="2.5" fill="#23274a"/><rect x="306.0" y="349.1" width="2.7" height="2.5" fill="#224c68"/><rect x="308.3" y="349.1" width="2.7" height="2.5" fill="#4f2d72"/><rect x="310.6" y="349.1" width="2.7" height="2.5" fill="#3a4272"/><rect x="313.0" y="349.1" width="2.7" height="2.5" fill="#0f0f26"/><rect x="315.3" y="349.1" width="2.7" height="2.5" fill="#1a6273"/><rect x="317.7" y="349.1" width="2.7" height="2.5" fill="#363b69"/><rect x="320.0" y="349.1" width="2.7" height="2.5" fill="#292850"/><rect x="322.3" y="349.1" width="2.7" height="2.5" fill="#582976"/><rect x="324.7" y="349.1" width="2.7" height="2.5" fill="#3c6692"/><rect x="327.0" y="349.1" width="2.7" height="2.5" fill="#263054"/><rect x="329.3" y="349.1" width="2.7" height="2.5" fill="#23193e"/><rect x="331.7" y="349.1" width="2.7" height="2.5" fill="#2d4e72"/><rect x="334.0" y="349.1" width="2.7" height="2.5" fill="#283458"/><rect x="252.3" y="351.2" width="2.7" height="2.5" fill="#0f0f26"/><rect x="254.6" y="351.2" width="2.7" height="2.5" fill="#431857"/><rect x="256.9" y="351.2" width="2.7" height="2.5" fill="#212949"/><rect x="259.3" y="351.2" width="2.7" height="2.5" fill="#4e1e65"/><rect x="261.6" y="351.2" width="2.7" height="2.5" fill="#3d1751"/><rect x="263.9" y="351.2" width="2.7" height="2.5" fill="#434d83"/><rect x="266.3" y="351.2" width="2.7" height="2.5" fill="#343b68"/><rect x="268.6" y="351.2" width="2.7" height="2.5" fill="#344772"/><rect x="270.9" y="351.2" width="2.7" height="2.5" fill="#266782"/><rect x="273.3" y="351.2" width="2.7" height="2.5" fill="#212d4d"/><rect x="275.6" y="351.2" width="2.7" height="2.5" fill="#273054"/><rect x="278.0" y="351.2" width="2.7" height="2.5" fill="#192641"/><rect x="280.3" y="351.2" width="2.7" height="2.5" fill="#0f0f26"/><rect x="282.6" y="351.2" width="2.7" height="2.5" fill="#133145"/><rect x="285.0" y="351.2" width="2.7" height="2.5" fill="#4d1a60"/><rect x="287.3" y="351.2" width="2.7" height="2.5" fill="#231239"/><rect x="289.6" y="351.2" width="2.7" height="2.5" fill="#3c2c62"/><rect x="292.0" y="351.2" width="2.7" height="2.5" fill="#722d8e"/><rect x="294.3" y="351.2" width="2.7" height="2.5" fill="#4a3171"/><rect x="296.6" y="351.2" width="2.7" height="2.5" fill="#283d60"/><rect x="299.0" y="351.2" width="2.7" height="2.5" fill="#153f53"/><rect x="301.3" y="351.2" width="2.7" height="2.5" fill="#223e5c"/><rect x="303.6" y="351.2" width="2.7" height="2.5" fill="#3a164f"/><rect x="306.0" y="351.2" width="2.7" height="2.5" fill="#1d304d"/><rect x="308.3" y="351.2" width="2.7" height="2.5" fill="#203a57"/><rect x="310.6" y="351.2" width="2.7" height="2.5" fill="#352e5e"/><rect x="313.0" y="351.2" width="2.7" height="2.5" fill="#3f366d"/><rect x="315.3" y="351.2" width="2.7" height="2.5" fill="#224360"/><rect x="317.7" y="351.2" width="2.7" height="2.5" fill="#2c4368"/><rect x="320.0" y="351.2" width="2.7" height="2.5" fill="#1d2544"/><rect x="322.3" y="351.2" width="2.7" height="2.5" fill="#233253"/><rect x="324.7" y="351.2" width="2.7" height="2.5" fill="#143448"/><rect x="327.0" y="351.2" width="2.7" height="2.5" fill="#26294e"/><rect x="329.3" y="351.2" width="2.7" height="2.5" fill="#132f44"/><rect x="331.7" y="351.2" width="2.7" height="2.5" fill="#34436e"/><rect x="334.0" y="351.2" width="2.7" height="2.5" fill="#2b3c61"/><rect x="252.3" y="353.3" width="2.7" height="2.5" fill="#41346c"/><rect x="254.6" y="353.3" width="2.7" height="2.5" fill="#331749"/><rect x="256.9" y="353.3" width="2.7" height="2.5" fill="#193d54"/><rect x="259.3" y="353.3" width="2.7" height="2.5" fill="#3d386d"/><rect x="261.6" y="353.3" width="2.7" height="2.5" fill="#3b5785"/><rect x="263.9" y="353.3" width="2.7" height="2.5" fill="#1b4058"/><rect x="266.3" y="353.3" width="2.7" height="2.5" fill="#12283d"/><rect x="268.6" y="353.3" width="2.7" height="2.5" fill="#423e75"/><rect x="270.9" y="353.3" width="2.7" height="2.5" fill="#235e78"/><rect x="273.3" y="353.3" width="2.7" height="2.5" fill="#171834"/><rect x="275.6" y="353.3" width="2.7" height="2.5" fill="#392b5f"/><rect x="278.0" y="353.3" width="2.7" height="2.5" fill="#4b407f"/><rect x="280.3" y="353.3" width="2.7" height="2.5" fill="#404a7d"/><rect x="282.6" y="353.3" width="2.7" height="2.5" fill="#54468b"/><rect x="285.0" y="353.3" width="2.7" height="2.5" fill="#302f5a"/><rect x="287.3" y="353.3" width="2.7" height="2.5" fill="#394b79"/><rect x="289.6" y="353.3" width="2.7" height="2.5" fill="#432b66"/><rect x="292.0" y="353.3" width="2.7" height="2.5" fill="#41316a"/><rect x="294.3" y="353.3" width="2.7" height="2.5" fill="#367096"/><rect x="296.6" y="353.3" width="2.7" height="2.5" fill="#315d81"/><rect x="299.0" y="353.3" width="2.7" height="2.5" fill="#2f567a"/><rect x="301.3" y="353.3" width="2.7" height="2.5" fill="#3c4576"/><rect x="303.6" y="353.3" width="2.7" height="2.5" fill="#6c56ab"/><rect x="306.0" y="353.3" width="2.7" height="2.5" fill="#31335f"/><rect x="308.3" y="353.3" width="2.7" height="2.5" fill="#325f84"/><rect x="310.6" y="353.3" width="2.7" height="2.5" fill="#533c81"/><rect x="313.0" y="353.3" width="2.7" height="2.5" fill="#466a9d"/><rect x="315.3" y="353.3" width="2.7" height="2.5" fill="#413d74"/><rect x="317.7" y="353.3" width="2.7" height="2.5" fill="#6f52aa"/><rect x="320.0" y="353.3" width="2.7" height="2.5" fill="#4a649b"/><rect x="322.3" y="353.3" width="2.7" height="2.5" fill="#6965b5"/><rect x="324.7" y="353.3" width="2.7" height="2.5" fill="#2e335c"/><rect x="327.0" y="353.3" width="2.7" height="2.5" fill="#354b76"/><rect x="329.3" y="353.3" width="2.7" height="2.5" fill="#305076"/><rect x="331.7" y="353.3" width="2.7" height="2.5" fill="#283f62"/><rect x="334.0" y="353.3" width="2.7" height="2.5" fill="#425388"/><rect x="252.3" y="355.3" width="2.7" height="2.5" fill="#2b486c"/><rect x="254.6" y="355.3" width="2.7" height="2.5" fill="#6661af"/><rect x="256.9" y="355.3" width="2.7" height="2.5" fill="#225771"/><rect x="259.3" y="355.3" width="2.7" height="2.5" fill="#624192"/><rect x="261.6" y="355.3" width="2.7" height="2.5" fill="#1e3a55"/><rect x="263.9" y="355.3" width="2.7" height="2.5" fill="#4d266b"/><rect x="266.3" y="355.3" width="2.7" height="2.5" fill="#4b73a8"/><rect x="268.6" y="355.3" width="2.7" height="2.5" fill="#3c5886"/><rect x="270.9" y="355.3" width="2.7" height="2.5" fill="#584a91"/><rect x="273.3" y="355.3" width="2.7" height="2.5" fill="#1a5165"/><rect x="275.6" y="355.3" width="2.7" height="2.5" fill="#4f68a2"/><rect x="278.0" y="355.3" width="2.7" height="2.5" fill="#36628a"/><rect x="280.3" y="355.3" width="2.7" height="2.5" fill="#5a4f97"/><rect x="282.6" y="355.3" width="2.7" height="2.5" fill="#5a468f"/><rect x="285.0" y="355.3" width="2.7" height="2.5" fill="#6c6abb"/><rect x="287.3" y="355.3" width="2.7" height="2.5" fill="#645fab"/><rect x="289.6" y="355.3" width="2.7" height="2.5" fill="#463b77"/><rect x="292.0" y="355.3" width="2.7" height="2.5" fill="#5c64a9"/><rect x="294.3" y="355.3" width="2.7" height="2.5" fill="#5b549c"/><rect x="296.6" y="355.3" width="2.7" height="2.5" fill="#7245a1"/><rect x="299.0" y="355.3" width="2.7" height="2.5" fill="#685eaf"/><rect x="301.3" y="355.3" width="2.7" height="2.5" fill="#41316a"/><rect x="303.6" y="355.3" width="2.7" height="2.5" fill="#3a4c7b"/><rect x="306.0" y="355.3" width="2.7" height="2.5" fill="#4f72ab"/><rect x="308.3" y="355.3" width="2.7" height="2.5" fill="#845bc2"/><rect x="310.6" y="355.3" width="2.7" height="2.5" fill="#734aa6"/><rect x="313.0" y="355.3" width="2.7" height="2.5" fill="#5267a4"/><rect x="315.3" y="355.3" width="2.7" height="2.5" fill="#6953a6"/><rect x="317.7" y="355.3" width="2.7" height="2.5" fill="#2e2b56"/><rect x="320.0" y="355.3" width="2.7" height="2.5" fill="#2e4a70"/><rect x="322.3" y="355.3" width="2.7" height="2.5" fill="#6a7bc8"/><rect x="324.7" y="355.3" width="2.7" height="2.5" fill="#6386cb"/><rect x="327.0" y="355.3" width="2.7" height="2.5" fill="#404e82"/><rect x="329.3" y="355.3" width="2.7" height="2.5" fill="#7264bb"/><rect x="331.7" y="355.3" width="2.7" height="2.5" fill="#39285c"/><rect x="334.0" y="355.3" width="2.7" height="2.5" fill="#5d59a2"/><rect x="252.3" y="357.4" width="2.7" height="2.5" fill="#4e397b"/><rect x="254.6" y="357.4" width="2.7" height="2.5" fill="#6e6dbf"/><rect x="256.9" y="357.4" width="2.7" height="2.5" fill="#4b3576"/><rect x="259.3" y="357.4" width="2.7" height="2.5" fill="#5279b3"/><rect x="261.6" y="357.4" width="2.7" height="2.5" fill="#654b9d"/><rect x="263.9" y="357.4" width="2.7" height="2.5" fill="#677fc8"/><rect x="266.3" y="357.4" width="2.7" height="2.5" fill="#6a5aad"/><rect x="268.6" y="357.4" width="2.7" height="2.5" fill="#3c5f8c"/><rect x="270.9" y="357.4" width="2.7" height="2.5" fill="#587bb9"/><rect x="273.3" y="357.4" width="2.7" height="2.5" fill="#29375b"/><rect x="275.6" y="357.4" width="2.7" height="2.5" fill="#a781fe"/><rect x="278.0" y="357.4" width="2.7" height="2.5" fill="#808ae6"/><rect x="280.3" y="357.4" width="2.7" height="2.5" fill="#3e4578"/><rect x="282.6" y="357.4" width="2.7" height="2.5" fill="#7f51b6"/><rect x="285.0" y="357.4" width="2.7" height="2.5" fill="#7466be"/><rect x="287.3" y="357.4" width="2.7" height="2.5" fill="#483d79"/><rect x="289.6" y="357.4" width="2.7" height="2.5" fill="#7576cc"/><rect x="292.0" y="357.4" width="2.7" height="2.5" fill="#6563b0"/><rect x="294.3" y="357.4" width="2.7" height="2.5" fill="#3f75a1"/><rect x="296.6" y="357.4" width="2.7" height="2.5" fill="#497fb1"/><rect x="299.0" y="357.4" width="2.7" height="2.5" fill="#4b659d"/><rect x="301.3" y="357.4" width="2.7" height="2.5" fill="#6983cd"/><rect x="303.6" y="357.4" width="2.7" height="2.5" fill="#847dde"/><rect x="306.0" y="357.4" width="2.7" height="2.5" fill="#5c7fc0"/><rect x="308.3" y="357.4" width="2.7" height="2.5" fill="#5182b9"/><rect x="310.6" y="357.4" width="2.7" height="2.5" fill="#8464ca"/><rect x="313.0" y="357.4" width="2.7" height="2.5" fill="#876ad1"/><rect x="315.3" y="357.4" width="2.7" height="2.5" fill="#5381bb"/><rect x="317.7" y="357.4" width="2.7" height="2.5" fill="#876dd3"/><rect x="320.0" y="357.4" width="2.7" height="2.5" fill="#3f3a70"/><rect x="322.3" y="357.4" width="2.7" height="2.5" fill="#a07cf3"/><rect x="324.7" y="357.4" width="2.7" height="2.5" fill="#859df9"/><rect x="327.0" y="357.4" width="2.7" height="2.5" fill="#5c529b"/><rect x="329.3" y="357.4" width="2.7" height="2.5" fill="#737bce"/><rect x="331.7" y="357.4" width="2.7" height="2.5" fill="#7871cb"/><rect x="334.0" y="357.4" width="2.7" height="2.5" fill="#7049a3"/><rect x="252.3" y="359.5" width="2.7" height="2.5" fill="#484c86"/><rect x="254.6" y="359.5" width="2.7" height="2.5" fill="#455d91"/><rect x="256.9" y="359.5" width="2.7" height="2.5" fill="#3b376a"/><rect x="259.3" y="359.5" width="2.7" height="2.5" fill="#395883"/><rect x="261.6" y="359.5" width="2.7" height="2.5" fill="#515594"/><rect x="263.9" y="359.5" width="2.7" height="2.5" fill="#496ea3"/><rect x="266.3" y="359.5" width="2.7" height="2.5" fill="#7a399e"/><rect x="268.6" y="359.5" width="2.7" height="2.5" fill="#4a5a93"/><rect x="270.9" y="359.5" width="2.7" height="2.5" fill="#473f7a"/><rect x="273.3" y="359.5" width="2.7" height="2.5" fill="#514c8c"/><rect x="275.6" y="359.5" width="2.7" height="2.5" fill="#446597"/><rect x="278.0" y="359.5" width="2.7" height="2.5" fill="#7c6fcc"/><rect x="280.3" y="359.5" width="2.7" height="2.5" fill="#7355b0"/><rect x="282.6" y="359.5" width="2.7" height="2.5" fill="#6e67ba"/><rect x="285.0" y="359.5" width="2.7" height="2.5" fill="#5f65ac"/><rect x="287.3" y="359.5" width="2.7" height="2.5" fill="#7651ae"/><rect x="289.6" y="359.5" width="2.7" height="2.5" fill="#6090d2"/><rect x="292.0" y="359.5" width="2.7" height="2.5" fill="#5d59a1"/><rect x="294.3" y="359.5" width="2.7" height="2.5" fill="#8455bc"/><rect x="296.6" y="359.5" width="2.7" height="2.5" fill="#4d89bc"/><rect x="299.0" y="359.5" width="2.7" height="2.5" fill="#6a74c2"/><rect x="301.3" y="359.5" width="2.7" height="2.5" fill="#8c80e7"/><rect x="303.6" y="359.5" width="2.7" height="2.5" fill="#666fbb"/><rect x="306.0" y="359.5" width="2.7" height="2.5" fill="#7a4eb0"/><rect x="308.3" y="359.5" width="2.7" height="2.5" fill="#6a53a7"/><rect x="310.6" y="359.5" width="2.7" height="2.5" fill="#6255a2"/><rect x="313.0" y="359.5" width="2.7" height="2.5" fill="#9872e4"/><rect x="315.3" y="359.5" width="2.7" height="2.5" fill="#8876db"/><rect x="317.7" y="359.5" width="2.7" height="2.5" fill="#6a6fbe"/><rect x="320.0" y="359.5" width="2.7" height="2.5" fill="#4787b6"/><rect x="322.3" y="359.5" width="2.7" height="2.5" fill="#9483ef"/><rect x="324.7" y="359.5" width="2.7" height="2.5" fill="#7e7edb"/><rect x="327.0" y="359.5" width="2.7" height="2.5" fill="#867ee1"/><rect x="329.3" y="359.5" width="2.7" height="2.5" fill="#7f64c6"/><rect x="331.7" y="359.5" width="2.7" height="2.5" fill="#7169be"/><rect x="334.0" y="359.5" width="2.7" height="2.5" fill="#7d82dd"/><rect x="252.3" y="361.6" width="2.7" height="2.5" fill="#3c638f"/><rect x="254.6" y="361.6" width="2.7" height="2.5" fill="#393869"/><rect x="256.9" y="361.6" width="2.7" height="2.5" fill="#41588a"/><rect x="259.3" y="361.6" width="2.7" height="2.5" fill="#454a82"/><rect x="261.6" y="361.6" width="2.7" height="2.5" fill="#5c3280"/><rect x="263.9" y="361.6" width="2.7" height="2.5" fill="#122a3f"/><rect x="266.3" y="361.6" width="2.7" height="2.5" fill="#3e5686"/><rect x="268.6" y="361.6" width="2.7" height="2.5" fill="#553a82"/><rect x="270.9" y="361.6" width="2.7" height="2.5" fill="#344570"/><rect x="273.3" y="361.6" width="2.7" height="2.5" fill="#195c6e"/><rect x="275.6" y="361.6" width="2.7" height="2.5" fill="#2e3b63"/><rect x="278.0" y="361.6" width="2.7" height="2.5" fill="#283559"/><rect x="280.3" y="361.6" width="2.7" height="2.5" fill="#44467e"/><rect x="282.6" y="361.6" width="2.7" height="2.5" fill="#6e68bb"/><rect x="285.0" y="361.6" width="2.7" height="2.5" fill="#664c9e"/><rect x="287.3" y="361.6" width="2.7" height="2.5" fill="#503b7e"/><rect x="289.6" y="361.6" width="2.7" height="2.5" fill="#41225e"/><rect x="292.0" y="361.6" width="2.7" height="2.5" fill="#7b43a7"/><rect x="294.3" y="361.6" width="2.7" height="2.5" fill="#464780"/><rect x="296.6" y="361.6" width="2.7" height="2.5" fill="#462968"/><rect x="299.0" y="361.6" width="2.7" height="2.5" fill="#554b8f"/><rect x="301.3" y="361.6" width="2.7" height="2.5" fill="#68348c"/><rect x="303.6" y="361.6" width="2.7" height="2.5" fill="#505594"/><rect x="306.0" y="361.6" width="2.7" height="2.5" fill="#545d9d"/><rect x="308.3" y="361.6" width="2.7" height="2.5" fill="#34678c"/><rect x="310.6" y="361.6" width="2.7" height="2.5" fill="#533f84"/><rect x="313.0" y="361.6" width="2.7" height="2.5" fill="#505c99"/><rect x="315.3" y="361.6" width="2.7" height="2.5" fill="#365d86"/><rect x="317.7" y="361.6" width="2.7" height="2.5" fill="#825cc2"/><rect x="320.0" y="361.6" width="2.7" height="2.5" fill="#2e214e"/><rect x="322.3" y="361.6" width="2.7" height="2.5" fill="#6965b5"/><rect x="324.7" y="361.6" width="2.7" height="2.5" fill="#314972"/><rect x="327.0" y="361.6" width="2.7" height="2.5" fill="#575599"/><rect x="329.3" y="361.6" width="2.7" height="2.5" fill="#34426e"/><rect x="331.7" y="361.6" width="2.7" height="2.5" fill="#455389"/><rect x="334.0" y="361.6" width="2.7" height="2.5" fill="#744aa8"/><rect x="252.3" y="363.6" width="2.7" height="2.5" fill="#443772"/><rect x="254.6" y="363.6" width="2.7" height="2.5" fill="#371c50"/><rect x="256.9" y="363.6" width="2.7" height="2.5" fill="#40477b"/><rect x="259.3" y="363.6" width="2.7" height="2.5" fill="#204c66"/><rect x="261.6" y="363.6" width="2.7" height="2.5" fill="#24536f"/><rect x="263.9" y="363.6" width="2.7" height="2.5" fill="#14374b"/><rect x="266.3" y="363.6" width="2.7" height="2.5" fill="#523d81"/><rect x="268.6" y="363.6" width="2.7" height="2.5" fill="#4b3c7a"/><rect x="270.9" y="363.6" width="2.7" height="2.5" fill="#153c50"/><rect x="273.3" y="363.6" width="2.7" height="2.5" fill="#354571"/><rect x="275.6" y="363.6" width="2.7" height="2.5" fill="#120f29"/><rect x="278.0" y="363.6" width="2.7" height="2.5" fill="#352052"/><rect x="280.3" y="363.6" width="2.7" height="2.5" fill="#483372"/><rect x="282.6" y="363.6" width="2.7" height="2.5" fill="#472363"/><rect x="285.0" y="363.6" width="2.7" height="2.5" fill="#224f69"/><rect x="287.3" y="363.6" width="2.7" height="2.5" fill="#12273d"/><rect x="289.6" y="363.6" width="2.7" height="2.5" fill="#413069"/><rect x="292.0" y="363.6" width="2.7" height="2.5" fill="#174b5e"/><rect x="294.3" y="363.6" width="2.7" height="2.5" fill="#353a68"/><rect x="296.6" y="363.6" width="2.7" height="2.5" fill="#303f68"/><rect x="299.0" y="363.6" width="2.7" height="2.5" fill="#0f1027"/><rect x="301.3" y="363.6" width="2.7" height="2.5" fill="#4b2366"/><rect x="303.6" y="363.6" width="2.7" height="2.5" fill="#4a2769"/><rect x="306.0" y="363.6" width="2.7" height="2.5" fill="#111d33"/><rect x="308.3" y="363.6" width="2.7" height="2.5" fill="#2a335a"/><rect x="310.6" y="363.6" width="2.7" height="2.5" fill="#2c2a53"/><rect x="313.0" y="363.6" width="2.7" height="2.5" fill="#364975"/><rect x="315.3" y="363.6" width="2.7" height="2.5" fill="#171330"/><rect x="317.7" y="363.6" width="2.7" height="2.5" fill="#47316f"/><rect x="320.0" y="363.6" width="2.7" height="2.5" fill="#301e4d"/><rect x="322.3" y="363.6" width="2.7" height="2.5" fill="#142b42"/><rect x="324.7" y="363.6" width="2.7" height="2.5" fill="#7b56b7"/><rect x="327.0" y="363.6" width="2.7" height="2.5" fill="#373c6b"/><rect x="329.3" y="363.6" width="2.7" height="2.5" fill="#312a57"/><rect x="331.7" y="363.6" width="2.7" height="2.5" fill="#12273d"/><rect x="334.0" y="363.6" width="2.7" height="2.5" fill="#363565"/><rect x="252.3" y="365.7" width="2.7" height="2.5" fill="#373767"/><rect x="254.6" y="365.7" width="2.7" height="2.5" fill="#21415d"/><rect x="256.9" y="365.7" width="2.7" height="2.5" fill="#543980"/><rect x="259.3" y="365.7" width="2.7" height="2.5" fill="#142038"/><rect x="261.6" y="365.7" width="2.7" height="2.5" fill="#402c66"/><rect x="263.9" y="365.7" width="2.7" height="2.5" fill="#174d60"/><rect x="266.3" y="365.7" width="2.7" height="2.5" fill="#443f78"/><rect x="268.6" y="365.7" width="2.7" height="2.5" fill="#193149"/><rect x="270.9" y="365.7" width="2.7" height="2.5" fill="#38406f"/><rect x="273.3" y="365.7" width="2.7" height="2.5" fill="#26294e"/><rect x="275.6" y="365.7" width="2.7" height="2.5" fill="#5960a4"/><rect x="278.0" y="365.7" width="2.7" height="2.5" fill="#34527c"/><rect x="280.3" y="365.7" width="2.7" height="2.5" fill="#25294d"/><rect x="282.6" y="365.7" width="2.7" height="2.5" fill="#3f3a70"/><rect x="285.0" y="365.7" width="2.7" height="2.5" fill="#132e43"/><rect x="287.3" y="365.7" width="2.7" height="2.5" fill="#384f7c"/><rect x="289.6" y="365.7" width="2.7" height="2.5" fill="#141b34"/><rect x="292.0" y="365.7" width="2.7" height="2.5" fill="#4a4280"/><rect x="294.3" y="365.7" width="2.7" height="2.5" fill="#29244c"/><rect x="296.6" y="365.7" width="2.7" height="2.5" fill="#332c5b"/><rect x="299.0" y="365.7" width="2.7" height="2.5" fill="#2e224f"/><rect x="301.3" y="365.7" width="2.7" height="2.5" fill="#101b31"/><rect x="303.6" y="365.7" width="2.7" height="2.5" fill="#301545"/><rect x="306.0" y="365.7" width="2.7" height="2.5" fill="#29133f"/><rect x="308.3" y="365.7" width="2.7" height="2.5" fill="#1b425a"/><rect x="310.6" y="365.7" width="2.7" height="2.5" fill="#153e52"/><rect x="313.0" y="365.7" width="2.7" height="2.5" fill="#3e386d"/><rect x="315.3" y="365.7" width="2.7" height="2.5" fill="#48447f"/><rect x="317.7" y="365.7" width="2.7" height="2.5" fill="#192d47"/><rect x="320.0" y="365.7" width="2.7" height="2.5" fill="#2b1a46"/><rect x="322.3" y="365.7" width="2.7" height="2.5" fill="#111f35"/><rect x="324.7" y="365.7" width="2.7" height="2.5" fill="#14102b"/><rect x="327.0" y="365.7" width="2.7" height="2.5" fill="#442c68"/><rect x="329.3" y="365.7" width="2.7" height="2.5" fill="#512069"/><rect x="331.7" y="365.7" width="2.7" height="2.5" fill="#0f0f26"/><rect x="334.0" y="365.7" width="2.7" height="2.5" fill="#2e1f4c"/></g></g><line x1="295.40" y1="351.20" x2="295.40" y2="365.70" stroke="#ffffff" stroke-width="0.9" stroke-dasharray="1,0.9"/><clipPath id="kc6"><rect x="254.60" y="371.10" width="79.40" height="15.50"/></clipPath><g clip-path="url(#kc6)"><g><rect x="252.3" y="368.9" width="2.7" height="2.6" fill="#b42159"/><rect x="254.6" y="368.9" width="2.7" height="2.6" fill="#ea5422"/><rect x="256.9" y="368.9" width="2.7" height="2.6" fill="#561179"/><rect x="259.3" y="368.9" width="2.7" height="2.6" fill="#e2412d"/><rect x="261.6" y="368.9" width="2.7" height="2.6" fill="#7e1787"/><rect x="263.9" y="368.9" width="2.7" height="2.6" fill="#f78016"/><rect x="266.3" y="368.9" width="2.7" height="2.6" fill="#a61e65"/><rect x="268.6" y="368.9" width="2.7" height="2.6" fill="#f99318"/><rect x="270.9" y="368.9" width="2.7" height="2.6" fill="#b2215b"/><rect x="273.3" y="368.9" width="2.7" height="2.6" fill="#db3136"/><rect x="275.6" y="368.9" width="2.7" height="2.6" fill="#d7283b"/><rect x="278.0" y="368.9" width="2.7" height="2.6" fill="#ee5f1c"/><rect x="280.3" y="368.9" width="2.7" height="2.6" fill="#561179"/><rect x="282.6" y="368.9" width="2.7" height="2.6" fill="#ab1f61"/><rect x="285.0" y="368.9" width="2.7" height="2.6" fill="#430f62"/><rect x="287.3" y="368.9" width="2.7" height="2.6" fill="#c3244c"/><rect x="289.6" y="368.9" width="2.7" height="2.6" fill="#f57014"/><rect x="292.0" y="368.9" width="2.7" height="2.6" fill="#ed5b1e"/><rect x="294.3" y="368.9" width="2.7" height="2.6" fill="#ffec5a"/><rect x="296.6" y="368.9" width="2.7" height="2.6" fill="#b62158"/><rect x="299.0" y="368.9" width="2.7" height="2.6" fill="#df3c30"/><rect x="301.3" y="368.9" width="2.7" height="2.6" fill="#e85024"/><rect x="303.6" y="368.9" width="2.7" height="2.6" fill="#f57114"/><rect x="306.0" y="368.9" width="2.7" height="2.6" fill="#380e54"/><rect x="308.3" y="368.9" width="2.7" height="2.6" fill="#7e1787"/><rect x="310.6" y="368.9" width="2.7" height="2.6" fill="#c0234f"/><rect x="313.0" y="368.9" width="2.7" height="2.6" fill="#541176"/><rect x="315.3" y="368.9" width="2.7" height="2.6" fill="#ea5621"/><rect x="317.7" y="368.9" width="2.7" height="2.6" fill="#e74f25"/><rect x="320.0" y="368.9" width="2.7" height="2.6" fill="#4c106d"/><rect x="322.3" y="368.9" width="2.7" height="2.6" fill="#fb9e1a"/><rect x="324.7" y="368.9" width="2.7" height="2.6" fill="#a71e64"/><rect x="327.0" y="368.9" width="2.7" height="2.6" fill="#68138f"/><rect x="329.3" y="368.9" width="2.7" height="2.6" fill="#da3037"/><rect x="331.7" y="368.9" width="2.7" height="2.6" fill="#f36916"/><rect x="334.0" y="368.9" width="2.7" height="2.6" fill="#911a77"/><rect x="252.3" y="371.1" width="2.7" height="2.6" fill="#ea5522"/><rect x="254.6" y="371.1" width="2.7" height="2.6" fill="#521074"/><rect x="256.9" y="371.1" width="2.7" height="2.6" fill="#380e54"/><rect x="259.3" y="371.1" width="2.7" height="2.6" fill="#380e54"/><rect x="261.6" y="371.1" width="2.7" height="2.6" fill="#f57214"/><rect x="263.9" y="371.1" width="2.7" height="2.6" fill="#f56e14"/><rect x="266.3" y="371.1" width="2.7" height="2.6" fill="#b62157"/><rect x="268.6" y="371.1" width="2.7" height="2.6" fill="#f16618"/><rect x="270.9" y="371.1" width="2.7" height="2.6" fill="#f88b17"/><rect x="273.3" y="371.1" width="2.7" height="2.6" fill="#ef601b"/><rect x="275.6" y="371.1" width="2.7" height="2.6" fill="#c92547"/><rect x="278.0" y="371.1" width="2.7" height="2.6" fill="#c4244b"/><rect x="280.3" y="371.1" width="2.7" height="2.6" fill="#531175"/><rect x="282.6" y="371.1" width="2.7" height="2.6" fill="#460f65"/><rect x="285.0" y="371.1" width="2.7" height="2.6" fill="#861880"/><rect x="287.3" y="371.1" width="2.7" height="2.6" fill="#c72549"/><rect x="289.6" y="371.1" width="2.7" height="2.6" fill="#961b73"/><rect x="292.0" y="371.1" width="2.7" height="2.6" fill="#e64d26"/><rect x="294.3" y="371.1" width="2.7" height="2.6" fill="#a61e65"/><rect x="296.6" y="371.1" width="2.7" height="2.6" fill="#f26817"/><rect x="299.0" y="371.1" width="2.7" height="2.6" fill="#fa9a19"/><rect x="301.3" y="371.1" width="2.7" height="2.6" fill="#e2432c"/><rect x="303.6" y="371.1" width="2.7" height="2.6" fill="#da3037"/><rect x="306.0" y="371.1" width="2.7" height="2.6" fill="#a71e64"/><rect x="308.3" y="371.1" width="2.7" height="2.6" fill="#ef621a"/><rect x="310.6" y="371.1" width="2.7" height="2.6" fill="#541176"/><rect x="313.0" y="371.1" width="2.7" height="2.6" fill="#a21e68"/><rect x="315.3" y="371.1" width="2.7" height="2.6" fill="#c5244a"/><rect x="317.7" y="371.1" width="2.7" height="2.6" fill="#e44829"/><rect x="320.0" y="371.1" width="2.7" height="2.6" fill="#e03d2f"/><rect x="322.3" y="371.1" width="2.7" height="2.6" fill="#ef601b"/><rect x="324.7" y="371.1" width="2.7" height="2.6" fill="#b1205c"/><rect x="327.0" y="371.1" width="2.7" height="2.6" fill="#df3a31"/><rect x="329.3" y="371.1" width="2.7" height="2.6" fill="#dd3733"/><rect x="331.7" y="371.1" width="2.7" height="2.6" fill="#a51e66"/><rect x="334.0" y="371.1" width="2.7" height="2.6" fill="#fdb31c"/><rect x="252.3" y="373.3" width="2.7" height="2.6" fill="#89197e"/><rect x="254.6" y="373.3" width="2.7" height="2.6" fill="#5e1283"/><rect x="256.9" y="373.3" width="2.7" height="2.6" fill="#c92547"/><rect x="259.3" y="373.3" width="2.7" height="2.6" fill="#57117a"/><rect x="261.6" y="373.3" width="2.7" height="2.6" fill="#c82548"/><rect x="263.9" y="373.3" width="2.7" height="2.6" fill="#c3244c"/><rect x="266.3" y="373.3" width="2.7" height="2.6" fill="#ee5e1c"/><rect x="268.6" y="373.3" width="2.7" height="2.6" fill="#fba21a"/><rect x="270.9" y="373.3" width="2.7" height="2.6" fill="#f78416"/><rect x="273.3" y="373.3" width="2.7" height="2.6" fill="#e13f2e"/><rect x="275.6" y="373.3" width="2.7" height="2.6" fill="#f57014"/><rect x="278.0" y="373.3" width="2.7" height="2.6" fill="#da2f37"/><rect x="280.3" y="373.3" width="2.7" height="2.6" fill="#9a1c6f"/><rect x="282.6" y="373.3" width="2.7" height="2.6" fill="#df3b30"/><rect x="285.0" y="373.3" width="2.7" height="2.6" fill="#f16519"/><rect x="287.3" y="373.3" width="2.7" height="2.6" fill="#8f1a79"/><rect x="289.6" y="373.3" width="2.7" height="2.6" fill="#e85024"/><rect x="292.0" y="373.3" width="2.7" height="2.6" fill="#e3452b"/><rect x="294.3" y="373.3" width="2.7" height="2.6" fill="#f57214"/><rect x="296.6" y="373.3" width="2.7" height="2.6" fill="#fca61b"/><rect x="299.0" y="373.3" width="2.7" height="2.6" fill="#ee5f1c"/><rect x="301.3" y="373.3" width="2.7" height="2.6" fill="#f78416"/><rect x="303.6" y="373.3" width="2.7" height="2.6" fill="#d6273c"/><rect x="306.0" y="373.3" width="2.7" height="2.6" fill="#cb2545"/><rect x="308.3" y="373.3" width="2.7" height="2.6" fill="#ad205f"/><rect x="310.6" y="373.3" width="2.7" height="2.6" fill="#f67a15"/><rect x="313.0" y="373.3" width="2.7" height="2.6" fill="#fa9a19"/><rect x="315.3" y="373.3" width="2.7" height="2.6" fill="#fa9619"/><rect x="317.7" y="373.3" width="2.7" height="2.6" fill="#f16419"/><rect x="320.0" y="373.3" width="2.7" height="2.6" fill="#f57214"/><rect x="322.3" y="373.3" width="2.7" height="2.6" fill="#f57514"/><rect x="324.7" y="373.3" width="2.7" height="2.6" fill="#f06419"/><rect x="327.0" y="373.3" width="2.7" height="2.6" fill="#f67715"/><rect x="329.3" y="373.3" width="2.7" height="2.6" fill="#f67715"/><rect x="331.7" y="373.3" width="2.7" height="2.6" fill="#f67715"/><rect x="334.0" y="373.3" width="2.7" height="2.6" fill="#f67a15"/><rect x="252.3" y="375.5" width="2.7" height="2.6" fill="#f57214"/><rect x="254.6" y="375.5" width="2.7" height="2.6" fill="#f57514"/><rect x="256.9" y="375.5" width="2.7" height="2.6" fill="#bb2253"/><rect x="259.3" y="375.5" width="2.7" height="2.6" fill="#e95223"/><rect x="261.6" y="375.5" width="2.7" height="2.6" fill="#971b72"/><rect x="263.9" y="375.5" width="2.7" height="2.6" fill="#611286"/><rect x="266.3" y="375.5" width="2.7" height="2.6" fill="#981c71"/><rect x="268.6" y="375.5" width="2.7" height="2.6" fill="#e95223"/><rect x="270.9" y="375.5" width="2.7" height="2.6" fill="#9e1d6c"/><rect x="273.3" y="375.5" width="2.7" height="2.6" fill="#7a168b"/><rect x="275.6" y="375.5" width="2.7" height="2.6" fill="#f36916"/><rect x="278.0" y="375.5" width="2.7" height="2.6" fill="#ea5522"/><rect x="280.3" y="375.5" width="2.7" height="2.6" fill="#e84f25"/><rect x="282.6" y="375.5" width="2.7" height="2.6" fill="#d82c39"/><rect x="285.0" y="375.5" width="2.7" height="2.6" fill="#380e54"/><rect x="287.3" y="375.5" width="2.7" height="2.6" fill="#fa9619"/><rect x="289.6" y="375.5" width="2.7" height="2.6" fill="#ffc021"/><rect x="292.0" y="375.5" width="2.7" height="2.6" fill="#fca81b"/><rect x="294.3" y="375.5" width="2.7" height="2.6" fill="#f78016"/><rect x="296.6" y="375.5" width="2.7" height="2.6" fill="#f88c17"/><rect x="299.0" y="375.5" width="2.7" height="2.6" fill="#feb91d"/><rect x="301.3" y="375.5" width="2.7" height="2.6" fill="#fca61b"/><rect x="303.6" y="375.5" width="2.7" height="2.6" fill="#feb91d"/><rect x="306.0" y="375.5" width="2.7" height="2.6" fill="#9b1c6f"/><rect x="308.3" y="375.5" width="2.7" height="2.6" fill="#febc1d"/><rect x="310.6" y="375.5" width="2.7" height="2.6" fill="#ea5621"/><rect x="313.0" y="375.5" width="2.7" height="2.6" fill="#f57114"/><rect x="315.3" y="375.5" width="2.7" height="2.6" fill="#c1234e"/><rect x="317.7" y="375.5" width="2.7" height="2.6" fill="#dd3733"/><rect x="320.0" y="375.5" width="2.7" height="2.6" fill="#f57314"/><rect x="322.3" y="375.5" width="2.7" height="2.6" fill="#b2215b"/><rect x="324.7" y="375.5" width="2.7" height="2.6" fill="#e54a28"/><rect x="327.0" y="375.5" width="2.7" height="2.6" fill="#df3c30"/><rect x="329.3" y="375.5" width="2.7" height="2.6" fill="#fff488"/><rect x="331.7" y="375.5" width="2.7" height="2.6" fill="#e64c27"/><rect x="334.0" y="375.5" width="2.7" height="2.6" fill="#df3c30"/><rect x="252.3" y="377.7" width="2.7" height="2.6" fill="#380e54"/><rect x="254.6" y="377.7" width="2.7" height="2.6" fill="#6b1392"/><rect x="256.9" y="377.7" width="2.7" height="2.6" fill="#f67615"/><rect x="259.3" y="377.7" width="2.7" height="2.6" fill="#3f0e5d"/><rect x="261.6" y="377.7" width="2.7" height="2.6" fill="#d82b39"/><rect x="263.9" y="377.7" width="2.7" height="2.6" fill="#f88a17"/><rect x="266.3" y="377.7" width="2.7" height="2.6" fill="#e54929"/><rect x="268.6" y="377.7" width="2.7" height="2.6" fill="#f77e16"/><rect x="270.9" y="377.7" width="2.7" height="2.6" fill="#e64d26"/><rect x="273.3" y="377.7" width="2.7" height="2.6" fill="#f16618"/><rect x="275.6" y="377.7" width="2.7" height="2.6" fill="#ce2643"/><rect x="278.0" y="377.7" width="2.7" height="2.6" fill="#e3442b"/><rect x="280.3" y="377.7" width="2.7" height="2.6" fill="#b52158"/><rect x="282.6" y="377.7" width="2.7" height="2.6" fill="#db3235"/><rect x="285.0" y="377.7" width="2.7" height="2.6" fill="#f88617"/><rect x="287.3" y="377.7" width="2.7" height="2.6" fill="#f67915"/><rect x="289.6" y="377.7" width="2.7" height="2.6" fill="#c5244a"/><rect x="292.0" y="377.7" width="2.7" height="2.6" fill="#db3335"/><rect x="294.3" y="377.7" width="2.7" height="2.6" fill="#ec591f"/><rect x="296.6" y="377.7" width="2.7" height="2.6" fill="#f67715"/><rect x="299.0" y="377.7" width="2.7" height="2.6" fill="#f57014"/><rect x="301.3" y="377.7" width="2.7" height="2.6" fill="#911a77"/><rect x="303.6" y="377.7" width="2.7" height="2.6" fill="#fca61b"/><rect x="306.0" y="377.7" width="2.7" height="2.6" fill="#f36a16"/><rect x="308.3" y="377.7" width="2.7" height="2.6" fill="#cb2545"/><rect x="310.6" y="377.7" width="2.7" height="2.6" fill="#621287"/><rect x="313.0" y="377.7" width="2.7" height="2.6" fill="#380e54"/><rect x="315.3" y="377.7" width="2.7" height="2.6" fill="#e74f25"/><rect x="317.7" y="377.7" width="2.7" height="2.6" fill="#e54a28"/><rect x="320.0" y="377.7" width="2.7" height="2.6" fill="#e13f2e"/><rect x="322.3" y="377.7" width="2.7" height="2.6" fill="#ea5522"/><rect x="324.7" y="377.7" width="2.7" height="2.6" fill="#f57114"/><rect x="327.0" y="377.7" width="2.7" height="2.6" fill="#ffc323"/><rect x="329.3" y="377.7" width="2.7" height="2.6" fill="#f88917"/><rect x="331.7" y="377.7" width="2.7" height="2.6" fill="#ea5422"/><rect x="334.0" y="377.7" width="2.7" height="2.6" fill="#ffd335"/><rect x="252.3" y="380.0" width="2.7" height="2.6" fill="#cc2545"/><rect x="254.6" y="380.0" width="2.7" height="2.6" fill="#e3452b"/><rect x="256.9" y="380.0" width="2.7" height="2.6" fill="#64128a"/><rect x="259.3" y="380.0" width="2.7" height="2.6" fill="#e2432c"/><rect x="261.6" y="380.0" width="2.7" height="2.6" fill="#d5273d"/><rect x="263.9" y="380.0" width="2.7" height="2.6" fill="#b42159"/><rect x="266.3" y="380.0" width="2.7" height="2.6" fill="#af205d"/><rect x="268.6" y="380.0" width="2.7" height="2.6" fill="#f06419"/><rect x="270.9" y="380.0" width="2.7" height="2.6" fill="#c6244a"/><rect x="273.3" y="380.0" width="2.7" height="2.6" fill="#9c1c6d"/><rect x="275.6" y="380.0" width="2.7" height="2.6" fill="#f16419"/><rect x="278.0" y="380.0" width="2.7" height="2.6" fill="#fa9a19"/><rect x="280.3" y="380.0" width="2.7" height="2.6" fill="#f16518"/><rect x="282.6" y="380.0" width="2.7" height="2.6" fill="#fba41a"/><rect x="285.0" y="380.0" width="2.7" height="2.6" fill="#cc2644"/><rect x="287.3" y="380.0" width="2.7" height="2.6" fill="#ec591f"/><rect x="289.6" y="380.0" width="2.7" height="2.6" fill="#901a78"/><rect x="292.0" y="380.0" width="2.7" height="2.6" fill="#feb91d"/><rect x="294.3" y="380.0" width="2.7" height="2.6" fill="#931b75"/><rect x="296.6" y="380.0" width="2.7" height="2.6" fill="#9a1c6f"/><rect x="299.0" y="380.0" width="2.7" height="2.6" fill="#e54928"/><rect x="301.3" y="380.0" width="2.7" height="2.6" fill="#fdb11c"/><rect x="303.6" y="380.0" width="2.7" height="2.6" fill="#de3931"/><rect x="306.0" y="380.0" width="2.7" height="2.6" fill="#f67715"/><rect x="308.3" y="380.0" width="2.7" height="2.6" fill="#f46d14"/><rect x="310.6" y="380.0" width="2.7" height="2.6" fill="#f46d14"/><rect x="313.0" y="380.0" width="2.7" height="2.6" fill="#f67a15"/><rect x="315.3" y="380.0" width="2.7" height="2.6" fill="#821784"/><rect x="317.7" y="380.0" width="2.7" height="2.6" fill="#a61e65"/><rect x="320.0" y="380.0" width="2.7" height="2.6" fill="#821784"/><rect x="322.3" y="380.0" width="2.7" height="2.6" fill="#ea5522"/><rect x="324.7" y="380.0" width="2.7" height="2.6" fill="#6a1391"/><rect x="327.0" y="380.0" width="2.7" height="2.6" fill="#f26817"/><rect x="329.3" y="380.0" width="2.7" height="2.6" fill="#f16518"/><rect x="331.7" y="380.0" width="2.7" height="2.6" fill="#cb2546"/><rect x="334.0" y="380.0" width="2.7" height="2.6" fill="#ef611b"/><rect x="252.3" y="382.2" width="2.7" height="2.6" fill="#a91f63"/><rect x="254.6" y="382.2" width="2.7" height="2.6" fill="#d7293b"/><rect x="256.9" y="382.2" width="2.7" height="2.6" fill="#a61e65"/><rect x="259.3" y="382.2" width="2.7" height="2.6" fill="#fba11a"/><rect x="261.6" y="382.2" width="2.7" height="2.6" fill="#ec5a1f"/><rect x="263.9" y="382.2" width="2.7" height="2.6" fill="#b72256"/><rect x="266.3" y="382.2" width="2.7" height="2.6" fill="#380e54"/><rect x="268.6" y="382.2" width="2.7" height="2.6" fill="#b52158"/><rect x="270.9" y="382.2" width="2.7" height="2.6" fill="#a81f63"/><rect x="273.3" y="382.2" width="2.7" height="2.6" fill="#6b1392"/><rect x="275.6" y="382.2" width="2.7" height="2.6" fill="#be2351"/><rect x="278.0" y="382.2" width="2.7" height="2.6" fill="#af205d"/><rect x="280.3" y="382.2" width="2.7" height="2.6" fill="#fa9619"/><rect x="282.6" y="382.2" width="2.7" height="2.6" fill="#e2422c"/><rect x="285.0" y="382.2" width="2.7" height="2.6" fill="#ec5a1f"/><rect x="287.3" y="382.2" width="2.7" height="2.6" fill="#f88a17"/><rect x="289.6" y="382.2" width="2.7" height="2.6" fill="#f56e14"/><rect x="292.0" y="382.2" width="2.7" height="2.6" fill="#ca2546"/><rect x="294.3" y="382.2" width="2.7" height="2.6" fill="#f88917"/><rect x="296.6" y="382.2" width="2.7" height="2.6" fill="#e64c26"/><rect x="299.0" y="382.2" width="2.7" height="2.6" fill="#851881"/><rect x="301.3" y="382.2" width="2.7" height="2.6" fill="#5c1280"/><rect x="303.6" y="382.2" width="2.7" height="2.6" fill="#e64c26"/><rect x="306.0" y="382.2" width="2.7" height="2.6" fill="#f88917"/><rect x="308.3" y="382.2" width="2.7" height="2.6" fill="#e03e2f"/><rect x="310.6" y="382.2" width="2.7" height="2.6" fill="#db3335"/><rect x="313.0" y="382.2" width="2.7" height="2.6" fill="#e74e25"/><rect x="315.3" y="382.2" width="2.7" height="2.6" fill="#ffed60"/><rect x="317.7" y="382.2" width="2.7" height="2.6" fill="#d92d38"/><rect x="320.0" y="382.2" width="2.7" height="2.6" fill="#b2215b"/><rect x="322.3" y="382.2" width="2.7" height="2.6" fill="#fdb51c"/><rect x="324.7" y="382.2" width="2.7" height="2.6" fill="#fa9719"/><rect x="327.0" y="382.2" width="2.7" height="2.6" fill="#ffd639"/><rect x="329.3" y="382.2" width="2.7" height="2.6" fill="#e44729"/><rect x="331.7" y="382.2" width="2.7" height="2.6" fill="#711492"/><rect x="334.0" y="382.2" width="2.7" height="2.6" fill="#b62157"/><rect x="252.3" y="384.4" width="2.7" height="2.6" fill="#f99418"/><rect x="254.6" y="384.4" width="2.7" height="2.6" fill="#6c1394"/><rect x="256.9" y="384.4" width="2.7" height="2.6" fill="#d5273d"/><rect x="259.3" y="384.4" width="2.7" height="2.6" fill="#f06419"/><rect x="261.6" y="384.4" width="2.7" height="2.6" fill="#ab1f61"/><rect x="263.9" y="384.4" width="2.7" height="2.6" fill="#f56f14"/><rect x="266.3" y="384.4" width="2.7" height="2.6" fill="#380e54"/><rect x="268.6" y="384.4" width="2.7" height="2.6" fill="#e54829"/><rect x="270.9" y="384.4" width="2.7" height="2.6" fill="#7a168b"/><rect x="273.3" y="384.4" width="2.7" height="2.6" fill="#db3136"/><rect x="275.6" y="384.4" width="2.7" height="2.6" fill="#911a77"/><rect x="278.0" y="384.4" width="2.7" height="2.6" fill="#831883"/><rect x="280.3" y="384.4" width="2.7" height="2.6" fill="#f78516"/><rect x="282.6" y="384.4" width="2.7" height="2.6" fill="#ce2643"/><rect x="285.0" y="384.4" width="2.7" height="2.6" fill="#6d1395"/><rect x="287.3" y="384.4" width="2.7" height="2.6" fill="#f06419"/><rect x="289.6" y="384.4" width="2.7" height="2.6" fill="#cc2545"/><rect x="292.0" y="384.4" width="2.7" height="2.6" fill="#ee5f1c"/><rect x="294.3" y="384.4" width="2.7" height="2.6" fill="#c1234e"/><rect x="296.6" y="384.4" width="2.7" height="2.6" fill="#d7283b"/><rect x="299.0" y="384.4" width="2.7" height="2.6" fill="#f06419"/><rect x="301.3" y="384.4" width="2.7" height="2.6" fill="#f57414"/><rect x="303.6" y="384.4" width="2.7" height="2.6" fill="#dc3434"/><rect x="306.0" y="384.4" width="2.7" height="2.6" fill="#77158d"/><rect x="308.3" y="384.4" width="2.7" height="2.6" fill="#db3236"/><rect x="310.6" y="384.4" width="2.7" height="2.6" fill="#f46c14"/><rect x="313.0" y="384.4" width="2.7" height="2.6" fill="#921a77"/><rect x="315.3" y="384.4" width="2.7" height="2.6" fill="#f26817"/><rect x="317.7" y="384.4" width="2.7" height="2.6" fill="#f56f14"/><rect x="320.0" y="384.4" width="2.7" height="2.6" fill="#ee5e1c"/><rect x="322.3" y="384.4" width="2.7" height="2.6" fill="#ec591f"/><rect x="324.7" y="384.4" width="2.7" height="2.6" fill="#841882"/><rect x="327.0" y="384.4" width="2.7" height="2.6" fill="#eb5621"/><rect x="329.3" y="384.4" width="2.7" height="2.6" fill="#a01d6a"/><rect x="331.7" y="384.4" width="2.7" height="2.6" fill="#e85124"/><rect x="334.0" y="384.4" width="2.7" height="2.6" fill="#f67715"/><rect x="252.3" y="386.6" width="2.7" height="2.6" fill="#b62158"/><rect x="254.6" y="386.6" width="2.7" height="2.6" fill="#d02641"/><rect x="256.9" y="386.6" width="2.7" height="2.6" fill="#440f63"/><rect x="259.3" y="386.6" width="2.7" height="2.6" fill="#ab1f61"/><rect x="261.6" y="386.6" width="2.7" height="2.6" fill="#511072"/><rect x="263.9" y="386.6" width="2.7" height="2.6" fill="#380e54"/><rect x="266.3" y="386.6" width="2.7" height="2.6" fill="#df3c30"/><rect x="268.6" y="386.6" width="2.7" height="2.6" fill="#f16419"/><rect x="270.9" y="386.6" width="2.7" height="2.6" fill="#4b106b"/><rect x="273.3" y="386.6" width="2.7" height="2.6" fill="#e85024"/><rect x="275.6" y="386.6" width="2.7" height="2.6" fill="#380e54"/><rect x="278.0" y="386.6" width="2.7" height="2.6" fill="#f88d17"/><rect x="280.3" y="386.6" width="2.7" height="2.6" fill="#3a0e56"/><rect x="282.6" y="386.6" width="2.7" height="2.6" fill="#470f67"/><rect x="285.0" y="386.6" width="2.7" height="2.6" fill="#3b0e58"/><rect x="287.3" y="386.6" width="2.7" height="2.6" fill="#c92547"/><rect x="289.6" y="386.6" width="2.7" height="2.6" fill="#f99318"/><rect x="292.0" y="386.6" width="2.7" height="2.6" fill="#f77e16"/><rect x="294.3" y="386.6" width="2.7" height="2.6" fill="#c82548"/><rect x="296.6" y="386.6" width="2.7" height="2.6" fill="#380e54"/><rect x="299.0" y="386.6" width="2.7" height="2.6" fill="#d6273c"/><rect x="301.3" y="386.6" width="2.7" height="2.6" fill="#ea5422"/><rect x="303.6" y="386.6" width="2.7" height="2.6" fill="#dd3633"/><rect x="306.0" y="386.6" width="2.7" height="2.6" fill="#f06319"/><rect x="308.3" y="386.6" width="2.7" height="2.6" fill="#ba2254"/><rect x="310.6" y="386.6" width="2.7" height="2.6" fill="#da3037"/><rect x="313.0" y="386.6" width="2.7" height="2.6" fill="#e85124"/><rect x="315.3" y="386.6" width="2.7" height="2.6" fill="#9e1d6c"/><rect x="317.7" y="386.6" width="2.7" height="2.6" fill="#e95422"/><rect x="320.0" y="386.6" width="2.7" height="2.6" fill="#dc3335"/><rect x="322.3" y="386.6" width="2.7" height="2.6" fill="#921a76"/><rect x="324.7" y="386.6" width="2.7" height="2.6" fill="#b82256"/><rect x="327.0" y="386.6" width="2.7" height="2.6" fill="#ee5f1c"/><rect x="329.3" y="386.6" width="2.7" height="2.6" fill="#a71e64"/><rect x="331.7" y="386.6" width="2.7" height="2.6" fill="#c2244d"/><rect x="334.0" y="386.6" width="2.7" height="2.6" fill="#ed5c1e"/></g></g><line x1="325.90" y1="371.10" x2="325.90" y2="386.60" stroke="#ffffff" stroke-width="0.9" stroke-dasharray="1,0.9"/><rect x="381.50" y="15.80" width="135.20" height="167.50" fill="none" stroke="#c8c8c8" stroke-width="1.0" /><text x="378.50" y="185.80" font-size="7" text-anchor="end" fill="#333" font-weight="normal" >0</text><line x1="381.50" y1="183.30" x2="382.80" y2="183.30" stroke="#999" stroke-width="0.6" /><text x="378.50" y="168.17" font-size="7" text-anchor="end" fill="#333" font-weight="normal" >20</text><line x1="381.50" y1="165.67" x2="382.80" y2="165.67" stroke="#999" stroke-width="0.6" /><text x="378.50" y="150.54" font-size="7" text-anchor="end" fill="#333" font-weight="normal" >40</text><line x1="381.50" y1="148.04" x2="382.80" y2="148.04" stroke="#999" stroke-width="0.6" /><text x="378.50" y="132.91" font-size="7" text-anchor="end" fill="#333" font-weight="normal" >60</text><line x1="381.50" y1="130.41" x2="382.80" y2="130.41" stroke="#999" stroke-width="0.6" /><text x="378.50" y="115.27" font-size="7" text-anchor="end" fill="#333" font-weight="normal" >80</text><line x1="381.50" y1="112.77" x2="382.80" y2="112.77" stroke="#999" stroke-width="0.6" /><text x="378.50" y="97.64" font-size="7" text-anchor="end" fill="#333" font-weight="normal" >100</text><line x1="381.50" y1="95.14" x2="382.80" y2="95.14" stroke="#999" stroke-width="0.6" /><text x="378.50" y="80.01" font-size="7" text-anchor="end" fill="#333" font-weight="normal" >120</text><line x1="381.50" y1="77.51" x2="382.80" y2="77.51" stroke="#999" stroke-width="0.6" /><text x="378.50" y="62.38" font-size="7" text-anchor="end" fill="#333" font-weight="normal" >140</text><line x1="381.50" y1="59.88" x2="382.80" y2="59.88" stroke="#999" stroke-width="0.6" /><text x="378.50" y="44.75" font-size="7" text-anchor="end" fill="#333" font-weight="normal" >160</text><line x1="381.50" y1="42.25" x2="382.80" y2="42.25" stroke="#999" stroke-width="0.6" /><text x="378.50" y="27.12" font-size="7" text-anchor="end" fill="#333" font-weight="normal" >180</text><line x1="381.50" y1="24.62" x2="382.80" y2="24.62" stroke="#999" stroke-width="0.6" /><text x="393.79" y="191.70" font-size="7" text-anchor="middle" fill="#333" font-weight="normal" >0</text><line x1="393.79" y1="15.80" x2="393.79" y2="17.10" stroke="#999" stroke-width="0.6" /><line x1="393.79" y1="183.30" x2="393.79" y2="182.00" stroke="#999" stroke-width="0.6" /><text x="418.37" y="191.70" font-size="7" text-anchor="middle" fill="#333" font-weight="normal" >20</text><line x1="418.37" y1="15.80" x2="418.37" y2="17.10" stroke="#999" stroke-width="0.6" /><line x1="418.37" y1="183.30" x2="418.37" y2="182.00" stroke="#999" stroke-width="0.6" /><text x="442.95" y="191.70" font-size="7" text-anchor="middle" fill="#333" font-weight="normal" >40</text><line x1="442.95" y1="15.80" x2="442.95" y2="17.10" stroke="#999" stroke-width="0.6" /><line x1="442.95" y1="183.30" x2="442.95" y2="182.00" stroke="#999" stroke-width="0.6" /><text x="467.54" y="191.70" font-size="7" text-anchor="middle" fill="#333" font-weight="normal" >60</text><line x1="467.54" y1="15.80" x2="467.54" y2="17.10" stroke="#999" stroke-width="0.6" /><line x1="467.54" y1="183.30" x2="467.54" y2="182.00" stroke="#999" stroke-width="0.6" /><text x="492.12" y="191.70" font-size="7" text-anchor="middle" fill="#333" font-weight="normal" >80</text><line x1="492.12" y1="15.80" x2="492.12" y2="17.10" stroke="#999" stroke-width="0.6" /><line x1="492.12" y1="183.30" x2="492.12" y2="182.00" stroke="#999" stroke-width="0.6" /><text x="516.70" y="191.70" font-size="7" text-anchor="middle" fill="#333" font-weight="normal" >100</text><line x1="516.70" y1="15.80" x2="516.70" y2="17.10" stroke="#999" stroke-width="0.6" /><line x1="516.70" y1="183.30" x2="516.70" y2="182.00" stroke="#999" stroke-width="0.6" /><rect x="388.26" y="156.85" width="1.23" height="26.45" fill="#5797c8" stroke="#3a70a0" stroke-width="0.3"/><rect x="389.49" y="128.64" width="1.23" height="54.66" fill="#5797c8" stroke="#3a70a0" stroke-width="0.3"/><rect x="390.72" y="130.41" width="1.23" height="52.89" fill="#5797c8" stroke="#3a70a0" stroke-width="0.3"/><rect x="391.95" y="81.04" width="1.23" height="102.26" fill="#5797c8" stroke="#3a70a0" stroke-width="0.3"/><rect x="393.18" y="53.71" width="1.23" height="129.59" fill="#5797c8" stroke="#3a70a0" stroke-width="0.3"/><rect x="394.41" y="30.79" width="1.23" height="152.51" fill="#5797c8" stroke="#3a70a0" stroke-width="0.3"/><rect x="395.63" y="25.50" width="1.23" height="157.80" fill="#5797c8" stroke="#3a70a0" stroke-width="0.3"/><rect x="396.86" y="87.21" width="1.23" height="96.09" fill="#5797c8" stroke="#3a70a0" stroke-width="0.3"/><rect x="398.09" y="88.97" width="1.23" height="94.33" fill="#5797c8" stroke="#3a70a0" stroke-width="0.3"/><rect x="399.32" y="109.25" width="1.23" height="74.05" fill="#5797c8" stroke="#3a70a0" stroke-width="0.3"/><rect x="400.55" y="117.18" width="1.23" height="66.12" fill="#5797c8" stroke="#3a70a0" stroke-width="0.3"/><rect x="401.78" y="125.12" width="1.23" height="58.18" fill="#5797c8" stroke="#3a70a0" stroke-width="0.3"/><rect x="403.01" y="130.41" width="1.23" height="52.89" fill="#5797c8" stroke="#3a70a0" stroke-width="0.3"/><rect x="404.24" y="140.98" width="1.23" height="42.32" fill="#5797c8" stroke="#3a70a0" stroke-width="0.3"/><rect x="405.47" y="145.39" width="1.23" height="37.91" fill="#5797c8" stroke="#3a70a0" stroke-width="0.3"/><rect x="406.70" y="148.04" width="1.23" height="35.26" fill="#5797c8" stroke="#3a70a0" stroke-width="0.3"/><rect x="407.93" y="155.09" width="1.23" height="28.21" fill="#5797c8" stroke="#3a70a0" stroke-width="0.3"/><rect x="409.15" y="160.38" width="1.23" height="22.92" fill="#5797c8" stroke="#3a70a0" stroke-width="0.3"/><rect x="410.38" y="162.14" width="1.23" height="21.16" fill="#5797c8" stroke="#3a70a0" stroke-width="0.3"/><rect x="411.61" y="163.91" width="1.23" height="19.39" fill="#5797c8" stroke="#3a70a0" stroke-width="0.3"/><rect x="412.84" y="169.19" width="1.23" height="14.11" fill="#5797c8" stroke="#3a70a0" stroke-width="0.3"/><rect x="414.07" y="170.08" width="1.23" height="13.22" fill="#5797c8" stroke="#3a70a0" stroke-width="0.3"/><rect x="415.30" y="168.31" width="1.23" height="14.99" fill="#5797c8" stroke="#3a70a0" stroke-width="0.3"/><rect x="416.53" y="171.84" width="1.23" height="11.46" fill="#5797c8" stroke="#3a70a0" stroke-width="0.3"/><rect x="417.76" y="174.48" width="1.23" height="8.82" fill="#5797c8" stroke="#3a70a0" stroke-width="0.3"/><rect x="418.99" y="171.84" width="1.23" height="11.46" fill="#5797c8" stroke="#3a70a0" stroke-width="0.3"/><rect x="420.22" y="175.37" width="1.23" height="7.93" fill="#5797c8" stroke="#3a70a0" stroke-width="0.3"/><rect x="421.45" y="178.01" width="1.23" height="5.29" fill="#5797c8" stroke="#3a70a0" stroke-width="0.3"/><rect x="422.67" y="174.48" width="1.23" height="8.82" fill="#5797c8" stroke="#3a70a0" stroke-width="0.3"/><rect x="423.90" y="178.89" width="1.23" height="4.41" fill="#5797c8" stroke="#3a70a0" stroke-width="0.3"/><rect x="425.13" y="171.84" width="1.23" height="11.46" fill="#5797c8" stroke="#3a70a0" stroke-width="0.3"/><rect x="426.36" y="175.37" width="1.23" height="7.93" fill="#5797c8" stroke="#3a70a0" stroke-width="0.3"/><rect x="427.59" y="178.01" width="1.23" height="5.29" fill="#5797c8" stroke="#3a70a0" stroke-width="0.3"/><rect x="428.82" y="175.37" width="1.23" height="7.93" fill="#5797c8" stroke="#3a70a0" stroke-width="0.3"/><rect x="430.05" y="177.13" width="1.23" height="6.17" fill="#5797c8" stroke="#3a70a0" stroke-width="0.3"/><rect x="431.28" y="172.72" width="1.23" height="10.58" fill="#5797c8" stroke="#3a70a0" stroke-width="0.3"/><rect x="432.51" y="176.25" width="1.23" height="7.05" fill="#5797c8" stroke="#3a70a0" stroke-width="0.3"/><rect x="433.74" y="181.54" width="1.23" height="1.76" fill="#5797c8" stroke="#3a70a0" stroke-width="0.3"/><rect x="434.97" y="178.01" width="1.23" height="5.29" fill="#5797c8" stroke="#3a70a0" stroke-width="0.3"/><rect x="436.19" y="178.01" width="1.23" height="5.29" fill="#5797c8" stroke="#3a70a0" stroke-width="0.3"/><rect x="437.42" y="174.48" width="1.23" height="8.82" fill="#5797c8" stroke="#3a70a0" stroke-width="0.3"/><rect x="438.65" y="179.77" width="1.23" height="3.53" fill="#5797c8" stroke="#3a70a0" stroke-width="0.3"/><rect x="439.88" y="178.89" width="1.23" height="4.41" fill="#5797c8" stroke="#3a70a0" stroke-width="0.3"/><rect x="441.11" y="176.25" width="1.23" height="7.05" fill="#5797c8" stroke="#3a70a0" stroke-width="0.3"/><rect x="442.34" y="179.77" width="1.23" height="3.53" fill="#5797c8" stroke="#3a70a0" stroke-width="0.3"/><rect x="443.57" y="180.66" width="1.23" height="2.64" fill="#5797c8" stroke="#3a70a0" stroke-width="0.3"/><rect x="444.80" y="181.54" width="1.23" height="1.76" fill="#5797c8" stroke="#3a70a0" stroke-width="0.3"/><rect x="446.03" y="178.89" width="1.23" height="4.41" fill="#5797c8" stroke="#3a70a0" stroke-width="0.3"/><rect x="447.26" y="180.66" width="1.23" height="2.64" fill="#5797c8" stroke="#3a70a0" stroke-width="0.3"/><rect x="448.49" y="181.54" width="1.23" height="1.76" fill="#5797c8" stroke="#3a70a0" stroke-width="0.3"/><rect x="449.71" y="180.66" width="1.23" height="2.64" fill="#5797c8" stroke="#3a70a0" stroke-width="0.3"/><rect x="450.94" y="178.89" width="1.23" height="4.41" fill="#5797c8" stroke="#3a70a0" stroke-width="0.3"/><rect x="452.17" y="181.54" width="1.23" height="1.76" fill="#5797c8" stroke="#3a70a0" stroke-width="0.3"/><rect x="453.40" y="179.77" width="1.23" height="3.53" fill="#5797c8" stroke="#3a70a0" stroke-width="0.3"/><rect x="454.63" y="181.54" width="1.23" height="1.76" fill="#5797c8" stroke="#3a70a0" stroke-width="0.3"/><rect x="455.86" y="180.66" width="1.23" height="2.64" fill="#5797c8" stroke="#3a70a0" stroke-width="0.3"/><rect x="457.09" y="182.42" width="1.23" height="0.88" fill="#5797c8" stroke="#3a70a0" stroke-width="0.3"/><rect x="458.32" y="181.54" width="1.23" height="1.76" fill="#5797c8" stroke="#3a70a0" stroke-width="0.3"/><rect x="459.55" y="182.42" width="1.23" height="0.88" fill="#5797c8" stroke="#3a70a0" stroke-width="0.3"/><rect x="460.78" y="181.54" width="1.23" height="1.76" fill="#5797c8" stroke="#3a70a0" stroke-width="0.3"/><rect x="462.01" y="182.42" width="1.23" height="0.88" fill="#5797c8" stroke="#3a70a0" stroke-width="0.3"/><rect x="464.46" y="181.54" width="1.23" height="1.76" fill="#5797c8" stroke="#3a70a0" stroke-width="0.3"/><rect x="466.92" y="182.42" width="1.23" height="0.88" fill="#5797c8" stroke="#3a70a0" stroke-width="0.3"/><rect x="469.38" y="182.42" width="1.23" height="0.88" fill="#5797c8" stroke="#3a70a0" stroke-width="0.3"/><rect x="470.61" y="181.54" width="1.23" height="1.76" fill="#5797c8" stroke="#3a70a0" stroke-width="0.3"/><rect x="471.84" y="181.54" width="1.23" height="1.76" fill="#5797c8" stroke="#3a70a0" stroke-width="0.3"/><rect x="473.07" y="182.42" width="1.23" height="0.88" fill="#5797c8" stroke="#3a70a0" stroke-width="0.3"/><rect x="475.53" y="182.42" width="1.23" height="0.88" fill="#5797c8" stroke="#3a70a0" stroke-width="0.3"/><rect x="479.21" y="182.42" width="1.23" height="0.88" fill="#5797c8" stroke="#3a70a0" stroke-width="0.3"/><rect x="482.90" y="182.42" width="1.23" height="0.88" fill="#5797c8" stroke="#3a70a0" stroke-width="0.3"/><rect x="485.36" y="182.42" width="1.23" height="0.88" fill="#5797c8" stroke="#3a70a0" stroke-width="0.3"/><rect x="489.05" y="182.42" width="1.23" height="0.88" fill="#5797c8" stroke="#3a70a0" stroke-width="0.3"/><rect x="492.73" y="182.42" width="1.23" height="0.88" fill="#5797c8" stroke="#3a70a0" stroke-width="0.3"/><rect x="493.96" y="182.42" width="1.23" height="0.88" fill="#5797c8" stroke="#3a70a0" stroke-width="0.3"/><rect x="498.88" y="182.42" width="1.23" height="0.88" fill="#5797c8" stroke="#3a70a0" stroke-width="0.3"/><rect x="505.02" y="182.42" width="1.23" height="0.88" fill="#5797c8" stroke="#3a70a0" stroke-width="0.3"/><rect x="511.17" y="182.42" width="1.23" height="0.88" fill="#5797c8" stroke="#3a70a0" stroke-width="0.3"/><rect x="514.86" y="181.54" width="1.23" height="1.76" fill="#5797c8" stroke="#3a70a0" stroke-width="0.3"/><line x1="439.20" y1="37.60" x2="401.50" y2="26.20" stroke="#111" stroke-width="0.9" /><path d="M397.6,25.0 L403.3,24.6 L402.0,28.9 Z" fill="#111"/><text x="514.00" y="26.20" font-size="9.2" text-anchor="end" fill="#1a1a1a" font-weight="normal" >median = 3.6s</text><text x="513.60" y="40.20" font-size="9.2" text-anchor="end" fill="#1a1a1a" font-weight="normal" >[1.5-2.5s] n = 179</text><text x="0.00" y="0.00" font-size="8.5" text-anchor="middle" fill="#1a1a1a" font-weight="normal" transform="translate(365.6,97.2) rotate(-90)">Total puncta per bin</text><text x="449.50" y="201.50" font-size="9.2" text-anchor="middle" fill="#1a1a1a" font-weight="normal" >&#916;z <tspan font-size="6.5" dy="1.5">Beg</tspan><tspan dy="-1.5"> - CLCa </tspan><tspan font-size="6.5" dy="1.5">Beg</tspan><tspan dy="-1.5"> [s]</tspan></text><rect x="620.4" y="168.3" width="1.7" height="1.7" fill="#0000b6"/><rect x="627.9" y="143.2" width="1.7" height="1.7" fill="#0000b6"/><rect x="612.3" y="123.5" width="1.7" height="1.7" fill="#0000b6"/><rect x="627.1" y="151.7" width="1.7" height="1.7" fill="#0000b6"/><rect x="631.3" y="126.9" width="1.7" height="1.7" fill="#0000b6"/><rect x="615.9" y="141.1" width="1.7" height="1.7" fill="#0000b6"/><rect x="609.3" y="159.5" width="1.7" height="1.7" fill="#0000b6"/><rect x="635.6" y="169.3" width="1.7" height="1.7" fill="#0000b6"/><rect x="624.4" y="169.3" width="1.7" height="1.7" fill="#0000b6"/><rect x="636.6" y="159.3" width="1.7" height="1.7" fill="#0000b6"/><rect x="613.2" y="165.3" width="1.7" height="1.7" fill="#0000b6"/><rect x="606.8" y="145.5" width="1.7" height="1.7" fill="#0000b6"/><rect x="637.8" y="169.2" width="1.7" height="1.7" fill="#0000b6"/><rect x="621.3" y="147.0" width="1.7" height="1.7" fill="#0000b6"/><rect x="644.9" y="75.3" width="1.7" height="1.7" fill="#0000b6"/><rect x="643.9" y="165.1" width="1.7" height="1.7" fill="#0000b6"/><rect x="631.8" y="159.1" width="1.7" height="1.7" fill="#0000b6"/><rect x="609.9" y="171.0" width="1.7" height="1.7" fill="#0000b6"/><rect x="642.8" y="169.7" width="1.7" height="1.7" fill="#0000b6"/><rect x="642.8" y="165.9" width="1.7" height="1.7" fill="#0000b6"/><rect x="610.5" y="169.0" width="1.7" height="1.7" fill="#0000b6"/><rect x="645.1" y="153.2" width="1.7" height="1.7" fill="#0000b6"/><rect x="649.8" y="164.7" width="1.7" height="1.7" fill="#0000b6"/><rect x="625.1" y="127.0" width="1.7" height="1.7" fill="#0000b6"/><rect x="619.2" y="169.0" width="1.7" height="1.7" fill="#0000b6"/><rect x="614.7" y="166.7" width="1.7" height="1.7" fill="#0000b6"/><rect x="631.9" y="156.8" width="1.7" height="1.7" fill="#0000b6"/><rect x="635.2" y="170.2" width="1.7" height="1.7" fill="#0000b6"/><rect x="619.0" y="164.7" width="1.7" height="1.7" fill="#0000b6"/><rect x="637.7" y="168.8" width="1.7" height="1.7" fill="#0000b6"/><rect x="605.5" y="169.6" width="1.7" height="1.7" fill="#0000b6"/><rect x="645.7" y="165.4" width="1.7" height="1.7" fill="#0000b6"/><rect x="615.2" y="167.8" width="1.7" height="1.7" fill="#0000b6"/><rect x="620.3" y="160.4" width="1.7" height="1.7" fill="#0000b6"/><rect x="637.8" y="169.2" width="1.7" height="1.7" fill="#0000b6"/><rect x="619.9" y="130.4" width="1.7" height="1.7" fill="#0000b6"/><rect x="619.8" y="120.2" width="1.7" height="1.7" fill="#0000b6"/><rect x="635.6" y="158.1" width="1.7" height="1.7" fill="#0000b6"/><rect x="650.7" y="72.9" width="1.7" height="1.7" fill="#0000b6"/><rect x="612.1" y="166.6" width="1.7" height="1.7" fill="#0000b6"/><rect x="629.4" y="168.3" width="1.7" height="1.7" fill="#0000b6"/><rect x="639.7" y="166.0" width="1.7" height="1.7" fill="#0000b6"/><rect x="604.2" y="168.7" width="1.7" height="1.7" fill="#0000b6"/><rect x="627.7" y="167.3" width="1.7" height="1.7" fill="#0000b6"/><rect x="628.8" y="165.7" width="1.7" height="1.7" fill="#0000b6"/><rect x="626.8" y="168.5" width="1.7" height="1.7" fill="#0000b6"/><rect x="650.8" y="158.6" width="1.7" height="1.7" fill="#0000b6"/><rect x="629.5" y="168.8" width="1.7" height="1.7" fill="#0000b6"/><rect x="632.9" y="133.4" width="1.7" height="1.7" fill="#0000b6"/><rect x="619.8" y="142.3" width="1.7" height="1.7" fill="#0000b6"/><rect x="615.4" y="147.1" width="1.7" height="1.7" fill="#0000b6"/><rect x="649.9" y="122.3" width="1.7" height="1.7" fill="#0000b6"/><rect x="644.2" y="86.8" width="1.7" height="1.7" fill="#0000b6"/><rect x="639.1" y="138.7" width="1.7" height="1.7" fill="#0000b6"/><rect x="641.0" y="133.7" width="1.7" height="1.7" fill="#0000b6"/><rect x="604.5" y="169.2" width="1.7" height="1.7" fill="#0000b6"/><rect x="640.9" y="131.3" width="1.7" height="1.7" fill="#0000b6"/><rect x="604.5" y="169.3" width="1.7" height="1.7" fill="#0000b6"/><rect x="632.9" y="166.0" width="1.7" height="1.7" fill="#0000b6"/><rect x="649.5" y="169.3" width="1.7" height="1.7" fill="#0000b6"/><rect x="636.7" y="164.2" width="1.7" height="1.7" fill="#0000b6"/><rect x="635.0" y="166.2" width="1.7" height="1.7" fill="#0000b6"/><rect x="643.6" y="161.5" width="1.7" height="1.7" fill="#0000b6"/><rect x="638.6" y="168.5" width="1.7" height="1.7" fill="#0000b6"/><rect x="631.0" y="168.4" width="1.7" height="1.7" fill="#0000b6"/><rect x="636.4" y="169.3" width="1.7" height="1.7" fill="#0000b6"/><rect x="633.8" y="168.3" width="1.7" height="1.7" fill="#0000b6"/><rect x="629.4" y="143.5" width="1.7" height="1.7" fill="#0000b6"/><rect x="643.6" y="167.2" width="1.7" height="1.7" fill="#0000b6"/><rect x="610.2" y="162.4" width="1.7" height="1.7" fill="#0000b6"/><rect x="620.9" y="166.1" width="1.7" height="1.7" fill="#0000b6"/><rect x="630.2" y="168.9" width="1.7" height="1.7" fill="#0000b6"/><rect x="647.9" y="102.7" width="1.7" height="1.7" fill="#0000b6"/><rect x="608.9" y="120.0" width="1.7" height="1.7" fill="#0000b6"/><rect x="622.7" y="153.8" width="1.7" height="1.7" fill="#0000b6"/><rect x="611.1" y="148.8" width="1.7" height="1.7" fill="#0000b6"/><rect x="642.8" y="111.6" width="1.7" height="1.7" fill="#0000b6"/><rect x="609.8" y="169.2" width="1.7" height="1.7" fill="#0000b6"/><rect x="603.8" y="128.8" width="1.7" height="1.7" fill="#0000b6"/><rect x="648.5" y="80.8" width="1.7" height="1.7" fill="#0000b6"/><rect x="610.9" y="169.2" width="1.7" height="1.7" fill="#0000b6"/><rect x="643.0" y="144.1" width="1.7" height="1.7" fill="#0000b6"/><rect x="625.4" y="160.9" width="1.7" height="1.7" fill="#0000b6"/><rect x="626.9" y="149.3" width="1.7" height="1.7" fill="#0000b6"/><rect x="611.6" y="168.2" width="1.7" height="1.7" fill="#0000b6"/><rect x="614.8" y="167.4" width="1.7" height="1.7" fill="#0000b6"/><rect x="605.8" y="169.3" width="1.7" height="1.7" fill="#0000b6"/><rect x="610.4" y="118.8" width="1.7" height="1.7" fill="#0000b6"/><rect x="640.0" y="169.2" width="1.7" height="1.7" fill="#0000b6"/><rect x="620.9" y="169.1" width="1.7" height="1.7" fill="#0000b6"/><rect x="634.9" y="168.9" width="1.7" height="1.7" fill="#0000b6"/><rect x="623.4" y="169.1" width="1.7" height="1.7" fill="#0000b6"/><rect x="643.5" y="151.2" width="1.7" height="1.7" fill="#0000b6"/><rect x="619.9" y="169.3" width="1.7" height="1.7" fill="#0000b6"/><rect x="615.2" y="140.5" width="1.7" height="1.7" fill="#0000b6"/><rect x="647.6" y="169.1" width="1.7" height="1.7" fill="#0000b6"/><rect x="611.0" y="157.9" width="1.7" height="1.7" fill="#0000b6"/><rect x="605.2" y="168.4" width="1.7" height="1.7" fill="#0000b6"/><rect x="636.1" y="139.3" width="1.7" height="1.7" fill="#0000b6"/><rect x="642.8" y="121.5" width="1.7" height="1.7" fill="#0000b6"/><rect x="634.0" y="130.3" width="1.7" height="1.7" fill="#0000b6"/><rect x="632.8" y="136.1" width="1.7" height="1.7" fill="#0000b6"/><rect x="616.7" y="117.5" width="1.7" height="1.7" fill="#0000b6"/><rect x="620.5" y="157.2" width="1.7" height="1.7" fill="#0000b6"/><rect x="637.8" y="88.8" width="1.7" height="1.7" fill="#0000b6"/><rect x="640.0" y="123.5" width="1.7" height="1.7" fill="#0000b6"/><rect x="606.2" y="127.6" width="1.7" height="1.7" fill="#0000b6"/><rect x="614.5" y="162.0" width="1.7" height="1.7" fill="#0000b6"/><rect x="618.1" y="163.1" width="1.7" height="1.7" fill="#0000b6"/><rect x="619.0" y="120.3" width="1.7" height="1.7" fill="#0000b6"/><rect x="620.1" y="148.6" width="1.7" height="1.7" fill="#0000b6"/><rect x="608.0" y="121.8" width="1.7" height="1.7" fill="#0000b6"/><rect x="633.9" y="168.4" width="1.7" height="1.7" fill="#0000b6"/><rect x="643.4" y="169.2" width="1.7" height="1.7" fill="#0000b6"/><rect x="626.1" y="130.4" width="1.7" height="1.7" fill="#0000b6"/><rect x="620.7" y="158.1" width="1.7" height="1.7" fill="#0000b6"/><rect x="646.0" y="169.2" width="1.7" height="1.7" fill="#0000b6"/><rect x="610.5" y="163.6" width="1.7" height="1.7" fill="#0000b6"/><rect x="620.1" y="164.2" width="1.7" height="1.7" fill="#0000b6"/><rect x="618.3" y="161.5" width="1.7" height="1.7" fill="#0000b6"/><rect x="627.2" y="168.7" width="1.7" height="1.7" fill="#0000b6"/><rect x="639.5" y="160.8" width="1.7" height="1.7" fill="#0000b6"/><rect x="646.9" y="144.9" width="1.7" height="1.7" fill="#0000b6"/><rect x="637.5" y="167.1" width="1.7" height="1.7" fill="#0000b6"/><rect x="605.2" y="161.9" width="1.7" height="1.7" fill="#0000b6"/><rect x="606.1" y="131.9" width="1.7" height="1.7" fill="#0000b6"/><rect x="646.4" y="143.7" width="1.7" height="1.7" fill="#0000b6"/><rect x="631.5" y="134.6" width="1.7" height="1.7" fill="#0000b6"/><rect x="614.1" y="168.5" width="1.7" height="1.7" fill="#0000b6"/><rect x="634.0" y="135.7" width="1.7" height="1.7" fill="#0000b6"/><rect x="645.1" y="104.6" width="1.7" height="1.7" fill="#0000b6"/><rect x="648.1" y="163.7" width="1.7" height="1.7" fill="#0000b6"/><rect x="635.8" y="149.3" width="1.7" height="1.7" fill="#0000b6"/><rect x="641.5" y="160.7" width="1.7" height="1.7" fill="#0000b6"/><rect x="609.1" y="154.0" width="1.7" height="1.7" fill="#0000b6"/><rect x="636.9" y="132.6" width="1.7" height="1.7" fill="#0000b6"/><rect x="641.1" y="151.2" width="1.7" height="1.7" fill="#0000b6"/><rect x="616.5" y="167.6" width="1.7" height="1.7" fill="#0000b6"/><rect x="621.9" y="167.6" width="1.7" height="1.7" fill="#0000b6"/><rect x="624.3" y="168.7" width="1.7" height="1.7" fill="#0000b6"/><rect x="609.5" y="169.0" width="1.7" height="1.7" fill="#0000b6"/><rect x="622.1" y="108.7" width="1.7" height="1.7" fill="#0000b6"/><rect x="613.8" y="120.5" width="1.7" height="1.7" fill="#0000b6"/><rect x="607.2" y="168.8" width="1.7" height="1.7" fill="#0000b6"/><rect x="606.3" y="124.7" width="1.7" height="1.7" fill="#0000b6"/><rect x="626.6" y="104.1" width="1.7" height="1.7" fill="#0000b6"/><rect x="607.8" y="164.4" width="1.7" height="1.7" fill="#0000b6"/><rect x="623.2" y="169.6" width="1.7" height="1.7" fill="#0000b6"/><rect x="624.9" y="168.2" width="1.7" height="1.7" fill="#0000b6"/><rect x="633.2" y="169.3" width="1.7" height="1.7" fill="#0000b6"/><rect x="623.1" y="137.0" width="1.7" height="1.7" fill="#0000b6"/><rect x="635.1" y="95.3" width="1.7" height="1.7" fill="#0000b6"/><rect x="616.5" y="143.5" width="1.7" height="1.7" fill="#0000b6"/><rect x="646.9" y="168.3" width="1.7" height="1.7" fill="#0000b6"/><rect x="624.6" y="108.7" width="1.7" height="1.7" fill="#0000b6"/><rect x="642.7" y="167.6" width="1.7" height="1.7" fill="#0000b6"/><rect x="620.5" y="167.5" width="1.7" height="1.7" fill="#0000b6"/><rect x="605.3" y="163.5" width="1.7" height="1.7" fill="#0000b6"/><rect x="621.4" y="162.0" width="1.7" height="1.7" fill="#0000b6"/><rect x="623.8" y="164.3" width="1.7" height="1.7" fill="#0000b6"/><rect x="639.1" y="170.3" width="1.7" height="1.7" fill="#0000b6"/><rect x="605.9" y="169.1" width="1.7" height="1.7" fill="#0000b6"/><rect x="612.1" y="120.5" width="1.7" height="1.7" fill="#0000b6"/><rect x="622.9" y="164.6" width="1.7" height="1.7" fill="#0000b6"/><rect x="644.2" y="156.8" width="1.7" height="1.7" fill="#0000b6"/><rect x="619.8" y="107.1" width="1.7" height="1.7" fill="#0000b6"/><rect x="633.4" y="138.5" width="1.7" height="1.7" fill="#0000b6"/><rect x="619.2" y="152.0" width="1.7" height="1.7" fill="#0000b6"/><rect x="634.0" y="137.1" width="1.7" height="1.7" fill="#0000b6"/><rect x="643.5" y="143.4" width="1.7" height="1.7" fill="#0000b6"/><rect x="636.8" y="121.3" width="1.7" height="1.7" fill="#0000b6"/><rect x="605.6" y="155.1" width="1.7" height="1.7" fill="#0000b6"/><rect x="623.2" y="169.3" width="1.7" height="1.7" fill="#0000b6"/><rect x="650.4" y="78.7" width="1.7" height="1.7" fill="#0000b6"/><rect x="649.4" y="167.9" width="1.7" height="1.7" fill="#0000b6"/><rect x="621.2" y="168.2" width="1.7" height="1.7" fill="#0000b6"/><rect x="626.6" y="169.3" width="1.7" height="1.7" fill="#0000b6"/><rect x="634.9" y="153.8" width="1.7" height="1.7" fill="#0000b6"/><rect x="648.7" y="163.0" width="1.7" height="1.7" fill="#0000b6"/><rect x="612.2" y="165.1" width="1.7" height="1.7" fill="#0000b6"/><rect x="651.1" y="145.4" width="1.7" height="1.7" fill="#0000b6"/><rect x="610.5" y="150.8" width="1.7" height="1.7" fill="#0000b6"/><rect x="608.6" y="128.7" width="1.7" height="1.7" fill="#0000b6"/><rect x="644.9" y="168.9" width="1.7" height="1.7" fill="#0000b6"/><rect x="617.8" y="116.1" width="1.7" height="1.7" fill="#0000b6"/><rect x="643.8" y="167.5" width="1.7" height="1.7" fill="#0000b6"/><rect x="627.7" y="163.0" width="1.7" height="1.7" fill="#0000b6"/><rect x="605.4" y="162.7" width="1.7" height="1.7" fill="#0000b6"/><rect x="644.9" y="144.3" width="1.7" height="1.7" fill="#0000b6"/><rect x="636.1" y="169.2" width="1.7" height="1.7" fill="#0000b6"/><rect x="647.6" y="153.0" width="1.7" height="1.7" fill="#0000b6"/><rect x="605.5" y="165.8" width="1.7" height="1.7" fill="#0000b6"/><rect x="633.4" y="168.3" width="1.7" height="1.7" fill="#0000b6"/><rect x="612.4" y="157.5" width="1.7" height="1.7" fill="#0000b6"/><rect x="640.8" y="160.8" width="1.7" height="1.7" fill="#0000b6"/><rect x="634.0" y="173.0" width="1.7" height="1.7" fill="#0000b6"/><rect x="627.9" y="161.5" width="1.7" height="1.7" fill="#0000b6"/><rect x="649.5" y="146.7" width="1.7" height="1.7" fill="#0000b6"/><rect x="643.0" y="133.4" width="1.7" height="1.7" fill="#0000b6"/><rect x="624.1" y="166.0" width="1.7" height="1.7" fill="#0000b6"/><rect x="629.4" y="125.1" width="1.7" height="1.7" fill="#0000b6"/><rect x="640.9" y="166.9" width="1.7" height="1.7" fill="#0000b6"/><rect x="617.7" y="169.2" width="1.7" height="1.7" fill="#0000b6"/><rect x="630.2" y="170.1" width="1.7" height="1.7" fill="#0000b6"/><rect x="621.3" y="162.8" width="1.7" height="1.7" fill="#0000b6"/><rect x="628.4" y="166.4" width="1.7" height="1.7" fill="#0000b6"/><rect x="632.2" y="91.4" width="1.7" height="1.7" fill="#0000b6"/><rect x="623.8" y="167.2" width="1.7" height="1.7" fill="#0000b6"/><rect x="604.9" y="157.5" width="1.7" height="1.7" fill="#0000b6"/><rect x="640.1" y="167.3" width="1.7" height="1.7" fill="#0000b6"/><rect x="608.3" y="161.3" width="1.7" height="1.7" fill="#0000b6"/><rect x="621.8" y="164.5" width="1.7" height="1.7" fill="#0000b6"/><rect x="649.5" y="128.2" width="1.7" height="1.7" fill="#0000b6"/><rect x="609.3" y="168.9" width="1.7" height="1.7" fill="#0000b6"/><rect x="617.1" y="156.7" width="1.7" height="1.7" fill="#0000b6"/><rect x="635.9" y="169.2" width="1.7" height="1.7" fill="#0000b6"/><rect x="638.0" y="157.8" width="1.7" height="1.7" fill="#0000b6"/><rect x="641.7" y="168.6" width="1.7" height="1.7" fill="#0000b6"/><rect x="617.6" y="160.9" width="1.7" height="1.7" fill="#0000b6"/><rect x="623.5" y="116.9" width="1.7" height="1.7" fill="#0000b6"/><rect x="612.6" y="168.7" width="1.7" height="1.7" fill="#0000b6"/><rect x="621.3" y="169.2" width="1.7" height="1.7" fill="#0000b6"/><rect x="612.9" y="124.0" width="1.7" height="1.7" fill="#0000b6"/><rect x="613.1" y="161.4" width="1.7" height="1.7" fill="#0000b6"/><rect x="622.7" y="153.9" width="1.7" height="1.7" fill="#0000b6"/><rect x="636.4" y="168.8" width="1.7" height="1.7" fill="#0000b6"/><rect x="622.8" y="105.7" width="1.7" height="1.7" fill="#0000b6"/><rect x="609.7" y="140.5" width="1.7" height="1.7" fill="#0000b6"/><rect x="631.2" y="93.4" width="1.7" height="1.7" fill="#0000b6"/><rect x="623.3" y="145.9" width="1.7" height="1.7" fill="#0000b6"/><rect x="643.1" y="124.3" width="1.7" height="1.7" fill="#0000b6"/><rect x="645.3" y="169.2" width="1.7" height="1.7" fill="#0000b6"/><rect x="621.9" y="160.6" width="1.7" height="1.7" fill="#0000b6"/><rect x="619.8" y="148.6" width="1.7" height="1.7" fill="#0000b6"/><rect x="604.9" y="144.3" width="1.7" height="1.7" fill="#0000b6"/><rect x="638.4" y="156.3" width="1.7" height="1.7" fill="#0000b6"/><rect x="606.0" y="165.6" width="1.7" height="1.7" fill="#0000b6"/><rect x="634.2" y="113.8" width="1.7" height="1.7" fill="#0000b6"/><rect x="627.6" y="169.3" width="1.7" height="1.7" fill="#0000b6"/><rect x="645.2" y="168.5" width="1.7" height="1.7" fill="#0000b6"/><rect x="610.7" y="146.0" width="1.7" height="1.7" fill="#0000b6"/><rect x="632.3" y="167.8" width="1.7" height="1.7" fill="#0000b6"/><rect x="616.2" y="168.2" width="1.7" height="1.7" fill="#0000b6"/><rect x="633.4" y="103.1" width="1.7" height="1.7" fill="#0000b6"/><rect x="638.2" y="168.6" width="1.7" height="1.7" fill="#0000b6"/><rect x="621.5" y="168.2" width="1.7" height="1.7" fill="#0000b6"/><rect x="639.5" y="167.2" width="1.7" height="1.7" fill="#0000b6"/><rect x="640.5" y="148.0" width="1.7" height="1.7" fill="#0000b6"/><rect x="604.3" y="129.4" width="1.7" height="1.7" fill="#0000b6"/><rect x="632.2" y="159.1" width="1.7" height="1.7" fill="#0000b6"/><rect x="627.3" y="147.6" width="1.7" height="1.7" fill="#0000b6"/><rect x="645.0" y="148.9" width="1.7" height="1.7" fill="#0000b6"/><rect x="618.9" y="148.1" width="1.7" height="1.7" fill="#0000b6"/><rect x="643.4" y="139.7" width="1.7" height="1.7" fill="#0000b6"/><rect x="644.0" y="149.7" width="1.7" height="1.7" fill="#0000b6"/><rect x="644.3" y="167.4" width="1.7" height="1.7" fill="#0000b6"/><rect x="606.1" y="170.0" width="1.7" height="1.7" fill="#0000b6"/><rect x="623.7" y="166.5" width="1.7" height="1.7" fill="#0000b6"/><rect x="610.1" y="153.4" width="1.7" height="1.7" fill="#0000b6"/><rect x="617.4" y="162.3" width="1.7" height="1.7" fill="#0000b6"/><rect x="643.9" y="165.2" width="1.7" height="1.7" fill="#0000b6"/><rect x="640.6" y="145.3" width="1.7" height="1.7" fill="#0000b6"/><rect x="624.5" y="163.4" width="1.7" height="1.7" fill="#0000b6"/><rect x="611.7" y="130.8" width="1.7" height="1.7" fill="#0000b6"/><rect x="608.0" y="126.6" width="1.7" height="1.7" fill="#0000b6"/><rect x="606.9" y="167.0" width="1.7" height="1.7" fill="#0000b6"/><rect x="649.1" y="146.9" width="1.7" height="1.7" fill="#0000b6"/><rect x="620.2" y="169.1" width="1.7" height="1.7" fill="#0000b6"/><rect x="635.4" y="130.2" width="1.7" height="1.7" fill="#0000b6"/><rect x="643.2" y="126.5" width="1.7" height="1.7" fill="#0000b6"/><rect x="640.3" y="148.7" width="1.7" height="1.7" fill="#0000b6"/><rect x="637.5" y="144.0" width="1.7" height="1.7" fill="#0000b6"/><rect x="623.2" y="143.9" width="1.7" height="1.7" fill="#0000b6"/><rect x="643.1" y="149.4" width="1.7" height="1.7" fill="#0000b6"/><rect x="628.5" y="165.0" width="1.7" height="1.7" fill="#0000b6"/><rect x="616.8" y="166.9" width="1.7" height="1.7" fill="#0000b6"/><rect x="640.6" y="166.4" width="1.7" height="1.7" fill="#0000b6"/><rect x="648.9" y="88.2" width="1.7" height="1.7" fill="#0000b6"/><rect x="635.2" y="167.8" width="1.7" height="1.7" fill="#0000b6"/><rect x="650.2" y="87.5" width="1.7" height="1.7" fill="#0000b6"/><rect x="649.3" y="76.1" width="1.7" height="1.7" fill="#0000b6"/><rect x="616.2" y="141.9" width="1.7" height="1.7" fill="#0000b6"/><rect x="650.5" y="81.0" width="1.7" height="1.7" fill="#0000b6"/><rect x="647.6" y="168.9" width="1.7" height="1.7" fill="#0000b6"/><rect x="621.8" y="166.6" width="1.7" height="1.7" fill="#0000b6"/><rect x="640.9" y="169.2" width="1.7" height="1.7" fill="#0000b6"/><rect x="646.2" y="103.4" width="1.7" height="1.7" fill="#0000b6"/><rect x="643.8" y="126.3" width="1.7" height="1.7" fill="#0000b6"/><rect x="642.3" y="167.3" width="1.7" height="1.7" fill="#0000b6"/><rect x="646.8" y="75.9" width="1.7" height="1.7" fill="#0000b6"/><rect x="651.0" y="169.1" width="1.7" height="1.7" fill="#0000b6"/><rect x="637.1" y="125.3" width="1.7" height="1.7" fill="#0000b6"/><rect x="605.1" y="154.4" width="1.7" height="1.7" fill="#0000b6"/><rect x="632.5" y="147.8" width="1.7" height="1.7" fill="#0000b6"/><rect x="606.3" y="142.2" width="1.7" height="1.7" fill="#0000b6"/><rect x="646.4" y="163.9" width="1.7" height="1.7" fill="#0000b6"/><rect x="616.4" y="169.3" width="1.7" height="1.7" fill="#0000b6"/><rect x="649.1" y="169.3" width="1.7" height="1.7" fill="#0000b6"/><rect x="627.2" y="164.7" width="1.7" height="1.7" fill="#0000b6"/><rect x="610.9" y="167.7" width="1.7" height="1.7" fill="#0000b6"/><rect x="631.5" y="169.3" width="1.7" height="1.7" fill="#0000b6"/><rect x="651.2" y="162.5" width="1.7" height="1.7" fill="#0000b6"/><rect x="607.0" y="166.6" width="1.7" height="1.7" fill="#0000b6"/><rect x="616.3" y="151.1" width="1.7" height="1.7" fill="#0000b6"/><rect x="630.0" y="164.9" width="1.7" height="1.7" fill="#0000b6"/><rect x="613.0" y="159.0" width="1.7" height="1.7" fill="#0000b6"/><rect x="626.6" y="157.5" width="1.7" height="1.7" fill="#0000b6"/><rect x="635.7" y="168.0" width="1.7" height="1.7" fill="#0000b6"/><rect x="626.5" y="137.2" width="1.7" height="1.7" fill="#0000b6"/><rect x="645.2" y="167.9" width="1.7" height="1.7" fill="#0000b6"/><rect x="629.5" y="140.9" width="1.7" height="1.7" fill="#0000b6"/><rect x="638.9" y="166.2" width="1.7" height="1.7" fill="#0000b6"/><rect x="604.8" y="153.4" width="1.7" height="1.7" fill="#0000b6"/><rect x="609.3" y="145.6" width="1.7" height="1.7" fill="#0000b6"/><rect x="639.6" y="169.2" width="1.7" height="1.7" fill="#0000b6"/><rect x="645.8" y="103.8" width="1.7" height="1.7" fill="#0000b6"/><rect x="625.9" y="167.0" width="1.7" height="1.7" fill="#0000b6"/><rect x="624.8" y="117.4" width="1.7" height="1.7" fill="#0000b6"/><rect x="633.9" y="155.7" width="1.7" height="1.7" fill="#0000b6"/><rect x="645.5" y="114.5" width="1.7" height="1.7" fill="#0000b6"/><rect x="615.8" y="163.3" width="1.7" height="1.7" fill="#0000b6"/><rect x="633.5" y="135.0" width="1.7" height="1.7" fill="#0000b6"/><rect x="629.0" y="169.2" width="1.7" height="1.7" fill="#0000b6"/><rect x="608.1" y="130.1" width="1.7" height="1.7" fill="#0000b6"/><rect x="608.8" y="169.1" width="1.7" height="1.7" fill="#0000b6"/><rect x="621.7" y="151.7" width="1.7" height="1.7" fill="#0000b6"/><rect x="642.0" y="164.3" width="1.7" height="1.7" fill="#0000b6"/><rect x="609.9" y="163.8" width="1.7" height="1.7" fill="#0000b6"/><rect x="642.9" y="168.5" width="1.7" height="1.7" fill="#0000b6"/><rect x="606.5" y="168.0" width="1.7" height="1.7" fill="#0000b6"/><rect x="609.1" y="166.4" width="1.7" height="1.7" fill="#0000b6"/><rect x="624.9" y="169.0" width="1.7" height="1.7" fill="#0000b6"/><rect x="615.2" y="152.2" width="1.7" height="1.7" fill="#0000b6"/><rect x="610.9" y="161.2" width="1.7" height="1.7" fill="#0000b6"/><rect x="622.8" y="143.4" width="1.7" height="1.7" fill="#0000b6"/><rect x="649.5" y="165.7" width="1.7" height="1.7" fill="#0000b6"/><rect x="630.4" y="157.1" width="1.7" height="1.7" fill="#0000b6"/><rect x="640.4" y="151.6" width="1.7" height="1.7" fill="#0000b6"/><rect x="627.1" y="169.2" width="1.7" height="1.7" fill="#0000b6"/><rect x="650.5" y="164.6" width="1.7" height="1.7" fill="#0000b6"/><rect x="646.9" y="162.6" width="1.7" height="1.7" fill="#0000b6"/><rect x="630.8" y="166.8" width="1.7" height="1.7" fill="#0000b6"/><rect x="608.6" y="169.2" width="1.7" height="1.7" fill="#0000b6"/><rect x="636.0" y="169.3" width="1.7" height="1.7" fill="#0000b6"/><rect x="635.7" y="147.9" width="1.7" height="1.7" fill="#0000b6"/><rect x="630.6" y="160.9" width="1.7" height="1.7" fill="#0000b6"/><rect x="639.8" y="145.0" width="1.7" height="1.7" fill="#0000b6"/><rect x="611.8" y="139.2" width="1.7" height="1.7" fill="#0000b6"/><rect x="621.4" y="144.4" width="1.7" height="1.7" fill="#0000b6"/><rect x="618.5" y="169.2" width="1.7" height="1.7" fill="#0000b6"/><rect x="639.2" y="117.2" width="1.7" height="1.7" fill="#0000b6"/><rect x="619.3" y="122.7" width="1.7" height="1.7" fill="#0000b6"/><rect x="626.9" y="168.0" width="1.7" height="1.7" fill="#0000b6"/><rect x="646.1" y="134.1" width="1.7" height="1.7" fill="#0000b6"/><rect x="618.4" y="169.2" width="1.7" height="1.7" fill="#0000b6"/><rect x="626.0" y="158.7" width="1.7" height="1.7" fill="#0000b6"/><rect x="625.5" y="101.7" width="1.7" height="1.7" fill="#0000b6"/><rect x="623.0" y="152.2" width="1.7" height="1.7" fill="#0000b6"/><rect x="627.7" y="165.1" width="1.7" height="1.7" fill="#0000b6"/><rect x="632.6" y="152.7" width="1.7" height="1.7" fill="#0000b6"/><rect x="619.6" y="167.8" width="1.7" height="1.7" fill="#0000b6"/><rect x="609.4" y="163.1" width="1.7" height="1.7" fill="#0000b6"/><rect x="621.7" y="163.6" width="1.7" height="1.7" fill="#0000b6"/><rect x="644.5" y="108.1" width="1.7" height="1.7" fill="#0000b6"/><rect x="613.7" y="165.6" width="1.7" height="1.7" fill="#0000b6"/><rect x="632.4" y="168.6" width="1.7" height="1.7" fill="#0000b6"/><rect x="641.2" y="162.7" width="1.7" height="1.7" fill="#0000b6"/><rect x="632.1" y="102.0" width="1.7" height="1.7" fill="#0000b6"/><rect x="619.5" y="109.3" width="1.7" height="1.7" fill="#0000b6"/><rect x="624.4" y="135.3" width="1.7" height="1.7" fill="#0000b6"/><rect x="608.6" y="155.4" width="1.7" height="1.7" fill="#0000b6"/><rect x="608.5" y="169.1" width="1.7" height="1.7" fill="#0000b6"/><rect x="608.9" y="168.4" width="1.7" height="1.7" fill="#0000b6"/><rect x="605.7" y="169.2" width="1.7" height="1.7" fill="#0000b6"/><rect x="618.6" y="166.1" width="1.7" height="1.7" fill="#0000b6"/><rect x="624.3" y="158.1" width="1.7" height="1.7" fill="#0000b6"/><rect x="618.7" y="154.9" width="1.7" height="1.7" fill="#0000b6"/><rect x="643.5" y="158.8" width="1.7" height="1.7" fill="#0000b6"/><rect x="614.5" y="114.6" width="1.7" height="1.7" fill="#0000b6"/><rect x="643.4" y="161.8" width="1.7" height="1.7" fill="#0000b6"/><rect x="621.8" y="106.5" width="1.7" height="1.7" fill="#0000b6"/><rect x="634.0" y="144.9" width="1.7" height="1.7" fill="#0000b6"/><rect x="622.4" y="160.9" width="1.7" height="1.7" fill="#0000b6"/><rect x="629.0" y="167.7" width="1.7" height="1.7" fill="#0000b6"/><rect x="621.2" y="138.9" width="1.7" height="1.7" fill="#0000b6"/><rect x="651.0" y="168.8" width="1.7" height="1.7" fill="#0000b6"/><rect x="635.2" y="127.8" width="1.7" height="1.7" fill="#0000b6"/><rect x="639.9" y="124.2" width="1.7" height="1.7" fill="#0000b6"/><rect x="648.0" y="169.2" width="1.7" height="1.7" fill="#0000b6"/><rect x="640.7" y="166.4" width="1.7" height="1.7" fill="#0000b6"/><rect x="605.4" y="136.4" width="1.7" height="1.7" fill="#0000b6"/><rect x="630.3" y="165.5" width="1.7" height="1.7" fill="#0000b6"/><rect x="611.1" y="167.7" width="1.7" height="1.7" fill="#0000b6"/><rect x="614.5" y="169.3" width="1.7" height="1.7" fill="#0000b6"/><rect x="617.0" y="125.1" width="1.7" height="1.7" fill="#0000b6"/><rect x="645.7" y="109.6" width="1.7" height="1.7" fill="#0000b6"/><rect x="604.3" y="164.5" width="1.7" height="1.7" fill="#0000b6"/><rect x="642.8" y="162.4" width="1.7" height="1.7" fill="#0000b6"/><rect x="607.2" y="155.6" width="1.7" height="1.7" fill="#0000b6"/><rect x="613.3" y="154.6" width="1.7" height="1.7" fill="#0000b6"/><rect x="626.9" y="155.4" width="1.7" height="1.7" fill="#0000b6"/><rect x="627.0" y="125.2" width="1.7" height="1.7" fill="#0000b6"/><rect x="645.7" y="163.9" width="1.7" height="1.7" fill="#0000b6"/><rect x="626.5" y="169.2" width="1.7" height="1.7" fill="#0000b6"/><rect x="649.0" y="64.2" width="1.7" height="1.7" fill="#0000b6"/><rect x="615.7" y="164.6" width="1.7" height="1.7" fill="#0000b6"/><rect x="605.4" y="168.3" width="1.7" height="1.7" fill="#0000b6"/><rect x="634.0" y="164.9" width="1.7" height="1.7" fill="#0000b6"/><rect x="614.3" y="161.8" width="1.7" height="1.7" fill="#0000b6"/><rect x="607.1" y="140.9" width="1.7" height="1.7" fill="#0000b6"/><rect x="629.4" y="161.4" width="1.7" height="1.7" fill="#0000b6"/><rect x="614.3" y="155.6" width="1.7" height="1.7" fill="#0000b6"/><rect x="625.5" y="150.1" width="1.7" height="1.7" fill="#0000b6"/><rect x="641.8" y="168.1" width="1.7" height="1.7" fill="#0000b6"/><rect x="610.9" y="168.0" width="1.7" height="1.7" fill="#0000b6"/><rect x="618.8" y="154.7" width="1.7" height="1.7" fill="#0000b6"/><rect x="641.6" y="156.8" width="1.7" height="1.7" fill="#0000b6"/><rect x="605.4" y="168.0" width="1.7" height="1.7" fill="#0000b6"/><rect x="628.3" y="128.7" width="1.7" height="1.7" fill="#0000b6"/><rect x="619.0" y="167.9" width="1.7" height="1.7" fill="#0000b6"/><rect x="648.6" y="165.6" width="1.7" height="1.7" fill="#0000b6"/><rect x="604.2" y="156.2" width="1.7" height="1.7" fill="#0000b6"/><rect x="616.3" y="167.2" width="1.7" height="1.7" fill="#0000b6"/><rect x="629.5" y="153.2" width="1.7" height="1.7" fill="#0000b6"/><rect x="634.3" y="165.2" width="1.7" height="1.7" fill="#0000b6"/><rect x="615.0" y="117.8" width="1.7" height="1.7" fill="#0000b6"/><rect x="622.3" y="152.5" width="1.7" height="1.7" fill="#0000b6"/><rect x="607.9" y="168.6" width="1.7" height="1.7" fill="#0000b6"/><rect x="622.5" y="159.4" width="1.7" height="1.7" fill="#0000b6"/><rect x="628.5" y="140.5" width="1.7" height="1.7" fill="#0000b6"/><rect x="604.2" y="169.3" width="1.7" height="1.7" fill="#0000b6"/><rect x="609.2" y="161.7" width="1.7" height="1.7" fill="#0000b6"/><rect x="644.0" y="101.3" width="1.7" height="1.7" fill="#0000b6"/><rect x="639.8" y="151.7" width="1.7" height="1.7" fill="#0000b6"/><rect x="627.1" y="99.7" width="1.7" height="1.7" fill="#0000b6"/><rect x="626.8" y="135.2" width="1.7" height="1.7" fill="#0000b6"/><rect x="631.5" y="143.6" width="1.7" height="1.7" fill="#0000b6"/><rect x="617.0" y="164.8" width="1.7" height="1.7" fill="#0000b6"/><rect x="607.2" y="148.0" width="1.7" height="1.7" fill="#0000b6"/><rect x="620.2" y="121.9" width="1.7" height="1.7" fill="#0000b6"/><rect x="634.5" y="153.5" width="1.7" height="1.7" fill="#0000b6"/><rect x="647.7" y="147.1" width="1.7" height="1.7" fill="#0000b6"/><rect x="615.0" y="121.2" width="1.7" height="1.7" fill="#0000b6"/><rect x="649.8" y="154.2" width="1.7" height="1.7" fill="#0000b6"/><rect x="650.9" y="131.3" width="1.7" height="1.7" fill="#0000b6"/><rect x="636.9" y="133.3" width="1.7" height="1.7" fill="#0000b6"/><rect x="643.3" y="163.9" width="1.7" height="1.7" fill="#0000b6"/><rect x="605.7" y="160.9" width="1.7" height="1.7" fill="#0000b6"/><rect x="648.9" y="143.5" width="1.7" height="1.7" fill="#0000b6"/><rect x="613.9" y="169.3" width="1.7" height="1.7" fill="#0000b6"/><rect x="617.0" y="125.4" width="1.7" height="1.7" fill="#0000b6"/><rect x="647.0" y="126.8" width="1.7" height="1.7" fill="#0000b6"/><rect x="615.0" y="154.7" width="1.7" height="1.7" fill="#0000b6"/><rect x="620.4" y="130.1" width="1.7" height="1.7" fill="#0000b6"/><rect x="630.4" y="160.5" width="1.7" height="1.7" fill="#0000b6"/><rect x="617.6" y="164.5" width="1.7" height="1.7" fill="#0000b6"/><rect x="616.4" y="169.0" width="1.7" height="1.7" fill="#0000b6"/><rect x="643.2" y="108.5" width="1.7" height="1.7" fill="#0000b6"/><rect x="645.9" y="122.3" width="1.7" height="1.7" fill="#0000b6"/><rect x="617.7" y="162.3" width="1.7" height="1.7" fill="#0000b6"/><rect x="629.4" y="138.6" width="1.7" height="1.7" fill="#0000b6"/><rect x="620.0" y="161.6" width="1.7" height="1.7" fill="#0000b6"/><rect x="650.6" y="168.2" width="1.7" height="1.7" fill="#0000b6"/><rect x="648.1" y="85.2" width="1.7" height="1.7" fill="#0000b6"/><rect x="622.5" y="152.4" width="1.7" height="1.7" fill="#0000b6"/><rect x="636.0" y="161.8" width="1.7" height="1.7" fill="#0000b6"/><rect x="610.2" y="168.9" width="1.7" height="1.7" fill="#0000b6"/><rect x="641.7" y="158.5" width="1.7" height="1.7" fill="#0000b6"/><rect x="619.7" y="106.8" width="1.7" height="1.7" fill="#0000b6"/><rect x="612.2" y="159.1" width="1.7" height="1.7" fill="#0000b6"/><rect x="643.9" y="158.9" width="1.7" height="1.7" fill="#0000b6"/><rect x="634.8" y="111.0" width="1.7" height="1.7" fill="#0000b6"/><rect x="615.6" y="137.4" width="1.7" height="1.7" fill="#0000b6"/><rect x="609.9" y="169.0" width="1.7" height="1.7" fill="#0000b6"/><rect x="648.7" y="112.9" width="1.7" height="1.7" fill="#0000b6"/><rect x="615.9" y="142.5" width="1.7" height="1.7" fill="#0000b6"/><rect x="627.3" y="169.2" width="1.7" height="1.7" fill="#0000b6"/><rect x="623.6" y="162.3" width="1.7" height="1.7" fill="#0000b6"/><rect x="607.8" y="165.8" width="1.7" height="1.7" fill="#0000b6"/><rect x="609.4" y="135.9" width="1.7" height="1.7" fill="#0000b6"/><rect x="651.2" y="123.2" width="1.7" height="1.7" fill="#0000b6"/><rect x="637.3" y="168.5" width="1.7" height="1.7" fill="#0000b6"/><rect x="648.0" y="156.3" width="1.7" height="1.7" fill="#0000b6"/><rect x="608.0" y="160.8" width="1.7" height="1.7" fill="#0000b6"/><rect x="647.7" y="163.9" width="1.7" height="1.7" fill="#0000b6"/><rect x="640.8" y="139.9" width="1.7" height="1.7" fill="#0000b6"/><rect x="604.5" y="152.9" width="1.7" height="1.7" fill="#0000b6"/><rect x="638.3" y="88.6" width="1.7" height="1.7" fill="#0000b6"/><rect x="626.7" y="166.0" width="1.7" height="1.7" fill="#0000b6"/><rect x="626.8" y="165.8" width="1.7" height="1.7" fill="#0000b6"/><rect x="642.3" y="147.8" width="1.7" height="1.7" fill="#0000b6"/><rect x="619.1" y="159.1" width="1.7" height="1.7" fill="#0000b6"/><rect x="649.9" y="169.3" width="1.7" height="1.7" fill="#0000b6"/><rect x="635.0" y="102.0" width="1.7" height="1.7" fill="#0000b6"/><rect x="648.3" y="73.1" width="1.7" height="1.7" fill="#0000b6"/><rect x="634.9" y="166.0" width="1.7" height="1.7" fill="#0000b6"/><rect x="647.1" y="154.2" width="1.7" height="1.7" fill="#0000b6"/><rect x="626.4" y="137.3" width="1.7" height="1.7" fill="#0000b6"/><rect x="616.1" y="115.5" width="1.7" height="1.7" fill="#0000b6"/><rect x="612.1" y="156.4" width="1.7" height="1.7" fill="#0000b6"/><rect x="616.1" y="166.9" width="1.7" height="1.7" fill="#0000b6"/><rect x="639.8" y="164.3" width="1.7" height="1.7" fill="#0000b6"/><rect x="647.9" y="162.3" width="1.7" height="1.7" fill="#0000b6"/><rect x="624.4" y="154.7" width="1.7" height="1.7" fill="#0000b6"/><rect x="616.5" y="122.1" width="1.7" height="1.7" fill="#0000b6"/><rect x="649.5" y="145.9" width="1.7" height="1.7" fill="#0000b6"/><rect x="618.1" y="122.9" width="1.7" height="1.7" fill="#0000b6"/><rect x="606.9" y="140.7" width="1.7" height="1.7" fill="#0000b6"/><rect x="615.9" y="150.0" width="1.7" height="1.7" fill="#0000b6"/><rect x="647.0" y="94.6" width="1.7" height="1.7" fill="#0000b6"/><rect x="646.0" y="167.5" width="1.7" height="1.7" fill="#0000b6"/><rect x="619.1" y="148.9" width="1.7" height="1.7" fill="#0000b6"/><rect x="623.0" y="168.4" width="1.7" height="1.7" fill="#0000b6"/><rect x="619.6" y="156.1" width="1.7" height="1.7" fill="#0000b6"/><rect x="609.3" y="169.2" width="1.7" height="1.7" fill="#0000b6"/><rect x="619.0" y="165.6" width="1.7" height="1.7" fill="#0000b6"/><rect x="611.9" y="145.9" width="1.7" height="1.7" fill="#0000b6"/><rect x="619.8" y="146.3" width="1.7" height="1.7" fill="#0000b6"/><rect x="623.5" y="169.3" width="1.7" height="1.7" fill="#0000b6"/><rect x="626.2" y="99.9" width="1.7" height="1.7" fill="#0000b6"/><rect x="621.9" y="165.6" width="1.7" height="1.7" fill="#0000b6"/><rect x="615.8" y="122.1" width="1.7" height="1.7" fill="#0000b6"/><rect x="641.1" y="169.2" width="1.7" height="1.7" fill="#0000b6"/><rect x="612.2" y="167.0" width="1.7" height="1.7" fill="#0000b6"/><rect x="631.2" y="160.6" width="1.7" height="1.7" fill="#0000b6"/><rect x="637.7" y="160.9" width="1.7" height="1.7" fill="#0000b6"/><rect x="632.7" y="154.2" width="1.7" height="1.7" fill="#0000b6"/><rect x="650.8" y="154.1" width="1.7" height="1.7" fill="#0000b6"/><rect x="613.5" y="164.6" width="1.7" height="1.7" fill="#0000b6"/><rect x="647.0" y="167.1" width="1.7" height="1.7" fill="#0000b6"/><rect x="636.5" y="169.3" width="1.7" height="1.7" fill="#0000b6"/><rect x="608.8" y="121.3" width="1.7" height="1.7" fill="#0000b6"/><rect x="613.3" y="155.9" width="1.7" height="1.7" fill="#0000b6"/><rect x="641.9" y="129.9" width="1.7" height="1.7" fill="#0000b6"/><rect x="635.5" y="131.2" width="1.7" height="1.7" fill="#0000b6"/><rect x="638.8" y="144.0" width="1.7" height="1.7" fill="#0000b6"/><rect x="618.6" y="169.2" width="1.7" height="1.7" fill="#0000b6"/><rect x="623.8" y="160.1" width="1.7" height="1.7" fill="#0000b6"/><rect x="624.4" y="166.7" width="1.7" height="1.7" fill="#0000b6"/><rect x="642.5" y="164.0" width="1.7" height="1.7" fill="#0000b6"/><rect x="608.6" y="165.1" width="1.7" height="1.7" fill="#0000b6"/><rect x="608.3" y="167.0" width="1.7" height="1.7" fill="#0000b6"/><rect x="624.8" y="168.9" width="1.7" height="1.7" fill="#0000b6"/><rect x="610.2" y="137.2" width="1.7" height="1.7" fill="#0000b6"/><rect x="628.6" y="148.5" width="1.7" height="1.7" fill="#0000b6"/><rect x="614.6" y="167.6" width="1.7" height="1.7" fill="#0000b6"/><rect x="627.4" y="149.8" width="1.7" height="1.7" fill="#0000b6"/><rect x="627.8" y="151.5" width="1.7" height="1.7" fill="#0000b6"/><rect x="642.0" y="163.7" width="1.7" height="1.7" fill="#0000b6"/><rect x="636.0" y="95.9" width="1.7" height="1.7" fill="#0000b6"/><rect x="621.0" y="166.6" width="1.7" height="1.7" fill="#0000b6"/><rect x="609.3" y="162.9" width="1.7" height="1.7" fill="#0000b6"/><rect x="615.9" y="162.2" width="1.7" height="1.7" fill="#0000b6"/><rect x="629.3" y="117.8" width="1.7" height="1.7" fill="#0000b6"/><rect x="642.6" y="104.9" width="1.7" height="1.7" fill="#0000b6"/><rect x="613.6" y="151.8" width="1.7" height="1.7" fill="#0000b6"/><rect x="629.6" y="163.8" width="1.7" height="1.7" fill="#0000b6"/><rect x="610.2" y="138.9" width="1.7" height="1.7" fill="#0000b6"/><rect x="615.7" y="168.9" width="1.7" height="1.7" fill="#0000b6"/><rect x="620.4" y="165.9" width="1.7" height="1.7" fill="#0000b6"/><rect x="631.3" y="168.8" width="1.7" height="1.7" fill="#0000b6"/><rect x="644.9" y="156.0" width="1.7" height="1.7" fill="#0000b6"/><rect x="631.6" y="155.4" width="1.7" height="1.7" fill="#0000b6"/><rect x="633.4" y="159.3" width="1.7" height="1.7" fill="#0000b6"/><rect x="623.0" y="118.2" width="1.7" height="1.7" fill="#0000b6"/><rect x="627.0" y="169.1" width="1.7" height="1.7" fill="#0000b6"/><rect x="614.2" y="168.5" width="1.7" height="1.7" fill="#0000b6"/><rect x="625.3" y="163.8" width="1.7" height="1.7" fill="#0000b6"/><rect x="611.9" y="159.5" width="1.7" height="1.7" fill="#0000b6"/><rect x="617.7" y="164.2" width="1.7" height="1.7" fill="#0000b6"/><rect x="613.4" y="162.3" width="1.7" height="1.7" fill="#0000b6"/><rect x="636.0" y="169.1" width="1.7" height="1.7" fill="#0000b6"/><rect x="606.7" y="163.6" width="1.7" height="1.7" fill="#0000b6"/><rect x="632.6" y="111.7" width="1.7" height="1.7" fill="#0000b6"/><rect x="639.6" y="145.7" width="1.7" height="1.7" fill="#0000b6"/><rect x="644.6" y="169.3" width="1.7" height="1.7" fill="#0000b6"/><rect x="631.0" y="105.0" width="1.7" height="1.7" fill="#0000b6"/><rect x="614.2" y="122.6" width="1.7" height="1.7" fill="#0000b6"/><rect x="622.1" y="120.8" width="1.7" height="1.7" fill="#0000b6"/><rect x="643.3" y="169.3" width="1.7" height="1.7" fill="#0000b6"/><rect x="608.4" y="163.6" width="1.7" height="1.7" fill="#0000b6"/><rect x="616.2" y="167.2" width="1.7" height="1.7" fill="#0000b6"/><rect x="636.3" y="167.4" width="1.7" height="1.7" fill="#0000b6"/><rect x="629.0" y="146.9" width="1.7" height="1.7" fill="#0000b6"/><rect x="621.8" y="132.2" width="1.7" height="1.7" fill="#0000b6"/><rect x="611.2" y="168.6" width="1.7" height="1.7" fill="#0000b6"/><rect x="614.3" y="163.2" width="1.7" height="1.7" fill="#0000b6"/><rect x="641.8" y="168.2" width="1.7" height="1.7" fill="#0000b6"/><rect x="622.8" y="101.9" width="1.7" height="1.7" fill="#0000b6"/><rect x="621.7" y="171.1" width="1.7" height="1.7" fill="#0000b6"/><rect x="605.5" y="140.6" width="1.7" height="1.7" fill="#0000b6"/><rect x="630.1" y="135.0" width="1.7" height="1.7" fill="#0000b6"/><rect x="648.1" y="163.0" width="1.7" height="1.7" fill="#0000b6"/><rect x="632.0" y="156.9" width="1.7" height="1.7" fill="#0000b6"/><rect x="605.4" y="146.2" width="1.7" height="1.7" fill="#0000b6"/><rect x="605.0" y="165.1" width="1.7" height="1.7" fill="#0000b6"/><rect x="637.3" y="163.4" width="1.7" height="1.7" fill="#0000b6"/><rect x="608.6" y="166.6" width="1.7" height="1.7" fill="#0000b6"/><rect x="632.9" y="101.1" width="1.7" height="1.7" fill="#0000b6"/><rect x="605.9" y="168.5" width="1.7" height="1.7" fill="#0000b6"/><rect x="628.2" y="168.2" width="1.7" height="1.7" fill="#0000b6"/><rect x="610.6" y="166.4" width="1.7" height="1.7" fill="#0000b6"/><rect x="647.8" y="174.6" width="1.7" height="1.7" fill="#0000b6"/><rect x="627.0" y="173.6" width="1.7" height="1.7" fill="#0000b6"/><rect x="641.1" y="163.7" width="1.7" height="1.7" fill="#0000b6"/><rect x="638.0" y="166.6" width="1.7" height="1.7" fill="#0000b6"/><rect x="629.2" y="168.3" width="1.7" height="1.7" fill="#0000b6"/><rect x="615.5" y="167.0" width="1.7" height="1.7" fill="#0000b6"/><rect x="621.8" y="160.1" width="1.7" height="1.7" fill="#0000b6"/><rect x="611.8" y="169.3" width="1.7" height="1.7" fill="#0000b6"/><rect x="604.5" y="140.8" width="1.7" height="1.7" fill="#0000b6"/><rect x="650.0" y="116.7" width="1.7" height="1.7" fill="#0000b6"/><rect x="616.1" y="152.7" width="1.7" height="1.7" fill="#0000b6"/><rect x="645.7" y="157.8" width="1.7" height="1.7" fill="#0000b6"/><rect x="605.0" y="169.3" width="1.7" height="1.7" fill="#0000b6"/><rect x="651.3" y="169.1" width="1.7" height="1.7" fill="#0000b6"/><rect x="609.4" y="169.6" width="1.7" height="1.7" fill="#0000b6"/><rect x="643.3" y="145.7" width="1.7" height="1.7" fill="#0000b6"/><rect x="624.2" y="169.1" width="1.7" height="1.7" fill="#0000b6"/><rect x="618.3" y="133.4" width="1.7" height="1.7" fill="#0000b6"/><rect x="640.9" y="166.0" width="1.7" height="1.7" fill="#0000b6"/><rect x="610.9" y="145.7" width="1.7" height="1.7" fill="#0000b6"/><rect x="614.7" y="164.4" width="1.7" height="1.7" fill="#0000b6"/><rect x="643.3" y="167.0" width="1.7" height="1.7" fill="#0000b6"/><rect x="641.7" y="165.9" width="1.7" height="1.7" fill="#0000b6"/><rect x="617.3" y="169.1" width="1.7" height="1.7" fill="#0000b6"/><rect x="616.6" y="164.1" width="1.7" height="1.7" fill="#0000b6"/><rect x="630.8" y="135.6" width="1.7" height="1.7" fill="#0000b6"/><rect x="649.7" y="85.8" width="1.7" height="1.7" fill="#0000b6"/><rect x="634.8" y="143.6" width="1.7" height="1.7" fill="#0000b6"/><rect x="604.5" y="168.8" width="1.7" height="1.7" fill="#0000b6"/><rect x="639.8" y="168.5" width="1.7" height="1.7" fill="#0000b6"/><rect x="646.5" y="166.5" width="1.7" height="1.7" fill="#0000b6"/><rect x="645.5" y="170.2" width="1.7" height="1.7" fill="#0000b6"/><rect x="624.4" y="153.9" width="1.7" height="1.7" fill="#0000b6"/><rect x="644.6" y="140.8" width="1.7" height="1.7" fill="#0000b6"/><rect x="626.7" y="168.3" width="1.7" height="1.7" fill="#0000b6"/><rect x="604.2" y="133.8" width="1.7" height="1.7" fill="#0000b6"/><rect x="643.1" y="114.6" width="1.7" height="1.7" fill="#0000b6"/><rect x="631.6" y="159.0" width="1.7" height="1.7" fill="#0000b6"/><rect x="623.2" y="169.0" width="1.7" height="1.7" fill="#0000b6"/><rect x="605.1" y="134.8" width="1.7" height="1.7" fill="#0000b6"/><rect x="647.6" y="165.3" width="1.7" height="1.7" fill="#0000b6"/><rect x="605.6" y="155.1" width="1.7" height="1.7" fill="#0000b6"/><rect x="642.1" y="168.5" width="1.7" height="1.7" fill="#0000b6"/><rect x="607.1" y="168.0" width="1.7" height="1.7" fill="#0000b6"/><rect x="628.5" y="169.3" width="1.7" height="1.7" fill="#0000b6"/><rect x="622.0" y="105.4" width="1.7" height="1.7" fill="#0000b6"/><rect x="650.8" y="167.9" width="1.7" height="1.7" fill="#0000b6"/><rect x="616.5" y="164.3" width="1.7" height="1.7" fill="#0000b6"/><rect x="646.2" y="117.8" width="1.7" height="1.7" fill="#0000b6"/><rect x="647.7" y="168.5" width="1.7" height="1.7" fill="#0000b6"/><rect x="647.3" y="168.4" width="1.7" height="1.7" fill="#0000b6"/><rect x="631.7" y="97.0" width="1.7" height="1.7" fill="#0000b6"/><rect x="620.2" y="126.8" width="1.7" height="1.7" fill="#0000b6"/><rect x="614.1" y="169.3" width="1.7" height="1.7" fill="#0000b6"/><rect x="650.0" y="144.9" width="1.7" height="1.7" fill="#0000b6"/><rect x="616.0" y="166.5" width="1.7" height="1.7" fill="#0000b6"/><rect x="619.4" y="136.6" width="1.7" height="1.7" fill="#0000b6"/><rect x="613.7" y="161.1" width="1.7" height="1.7" fill="#0000b6"/><rect x="639.8" y="169.2" width="1.7" height="1.7" fill="#0000b6"/><rect x="619.9" y="168.7" width="1.7" height="1.7" fill="#0000b6"/><rect x="646.0" y="168.3" width="1.7" height="1.7" fill="#0000b6"/><rect x="638.3" y="167.2" width="1.7" height="1.7" fill="#0000b6"/><rect x="642.3" y="120.6" width="1.7" height="1.7" fill="#0000b6"/><rect x="647.2" y="114.2" width="1.7" height="1.7" fill="#0000b6"/><rect x="633.6" y="113.4" width="1.7" height="1.7" fill="#0000b6"/><rect x="605.6" y="164.7" width="1.7" height="1.7" fill="#0000b6"/><rect x="622.3" y="168.4" width="1.7" height="1.7" fill="#0000b6"/><rect x="617.2" y="168.8" width="1.7" height="1.7" fill="#0000b6"/><rect x="640.8" y="156.1" width="1.7" height="1.7" fill="#0000b6"/><rect x="640.3" y="118.7" width="1.7" height="1.7" fill="#0000b6"/><rect x="650.2" y="147.6" width="1.7" height="1.7" fill="#0000b6"/><rect x="616.2" y="124.8" width="1.7" height="1.7" fill="#0000b6"/><rect x="619.7" y="130.2" width="1.7" height="1.7" fill="#0000b6"/><rect x="650.7" y="88.3" width="1.7" height="1.7" fill="#0000b6"/><rect x="647.5" y="94.7" width="1.7" height="1.7" fill="#0000b6"/><rect x="621.6" y="166.3" width="1.7" height="1.7" fill="#0000b6"/><rect x="606.5" y="173.0" width="1.7" height="1.7" fill="#0000b6"/><rect x="641.3" y="162.3" width="1.7" height="1.7" fill="#0000b6"/><rect x="610.3" y="167.5" width="1.7" height="1.7" fill="#0000b6"/><rect x="606.0" y="167.1" width="1.7" height="1.7" fill="#0000b6"/><rect x="628.5" y="142.5" width="1.7" height="1.7" fill="#0000b6"/><rect x="618.7" y="159.7" width="1.7" height="1.7" fill="#0000b6"/><rect x="628.6" y="132.6" width="1.7" height="1.7" fill="#0000b6"/><rect x="609.3" y="168.3" width="1.7" height="1.7" fill="#0000b6"/><rect x="651.0" y="97.2" width="1.7" height="1.7" fill="#0000b6"/><rect x="619.1" y="162.1" width="1.7" height="1.7" fill="#0000b6"/><rect x="618.1" y="165.3" width="1.7" height="1.7" fill="#0000b6"/><rect x="620.8" y="146.6" width="1.7" height="1.7" fill="#0000b6"/><rect x="639.4" y="169.2" width="1.7" height="1.7" fill="#0000b6"/><rect x="610.1" y="169.1" width="1.7" height="1.7" fill="#0000b6"/><rect x="641.0" y="112.2" width="1.7" height="1.7" fill="#0000b6"/><rect x="631.1" y="162.8" width="1.7" height="1.7" fill="#0000b6"/><rect x="627.9" y="168.2" width="1.7" height="1.7" fill="#0000b6"/><rect x="624.6" y="164.5" width="1.7" height="1.7" fill="#0000b6"/><rect x="645.7" y="168.8" width="1.7" height="1.7" fill="#0000b6"/><rect x="615.3" y="162.9" width="1.7" height="1.7" fill="#0000b6"/><rect x="641.0" y="139.4" width="1.7" height="1.7" fill="#0000b6"/><rect x="628.5" y="165.6" width="1.7" height="1.7" fill="#0000b6"/><rect x="619.5" y="126.0" width="1.7" height="1.7" fill="#0000b6"/><rect x="625.3" y="169.1" width="1.7" height="1.7" fill="#0000b6"/><rect x="613.7" y="169.0" width="1.7" height="1.7" fill="#0000b6"/><rect x="607.9" y="167.9" width="1.7" height="1.7" fill="#0000b6"/><rect x="619.2" y="153.6" width="1.7" height="1.7" fill="#0000b6"/><rect x="620.2" y="168.5" width="1.7" height="1.7" fill="#0000b6"/><rect x="613.8" y="165.3" width="1.7" height="1.7" fill="#0000b6"/><rect x="630.7" y="169.6" width="1.7" height="1.7" fill="#0000b6"/><rect x="610.3" y="168.8" width="1.7" height="1.7" fill="#0000b6"/><rect x="634.2" y="170.5" width="1.7" height="1.7" fill="#0000b6"/><rect x="643.7" y="84.0" width="1.7" height="1.7" fill="#0000b6"/><rect x="637.8" y="159.3" width="1.7" height="1.7" fill="#0000b6"/><rect x="608.1" y="169.0" width="1.7" height="1.7" fill="#0000b6"/><rect x="607.9" y="165.1" width="1.7" height="1.7" fill="#0000b6"/><rect x="645.4" y="166.7" width="1.7" height="1.7" fill="#0000b6"/><rect x="638.5" y="150.6" width="1.7" height="1.7" fill="#0000b6"/><rect x="648.7" y="167.9" width="1.7" height="1.7" fill="#0000b6"/><rect x="611.1" y="154.4" width="1.7" height="1.7" fill="#0000b6"/><rect x="631.4" y="143.3" width="1.7" height="1.7" fill="#0000b6"/><rect x="638.4" y="105.0" width="1.7" height="1.7" fill="#0000b6"/><rect x="628.2" y="138.7" width="1.7" height="1.7" fill="#0000b6"/><rect x="616.2" y="136.1" width="1.7" height="1.7" fill="#0000b6"/><rect x="645.4" y="169.0" width="1.7" height="1.7" fill="#0000b6"/><rect x="608.4" y="148.9" width="1.7" height="1.7" fill="#0000b6"/><rect x="620.8" y="145.4" width="1.7" height="1.7" fill="#0000b6"/><rect x="633.0" y="169.0" width="1.7" height="1.7" fill="#0000b6"/><rect x="629.6" y="148.1" width="1.7" height="1.7" fill="#0000b6"/><rect x="641.6" y="146.5" width="1.7" height="1.7" fill="#0000b6"/><rect x="631.4" y="162.1" width="1.7" height="1.7" fill="#0000b6"/><rect x="643.8" y="166.5" width="1.7" height="1.7" fill="#0000b6"/><rect x="617.3" y="164.0" width="1.7" height="1.7" fill="#0000b6"/><rect x="611.8" y="150.4" width="1.7" height="1.7" fill="#0000b6"/><rect x="636.9" y="100.9" width="1.7" height="1.7" fill="#0000b6"/><rect x="634.8" y="114.7" width="1.7" height="1.7" fill="#0000b6"/><rect x="617.2" y="134.4" width="1.7" height="1.7" fill="#0000b6"/><rect x="626.8" y="151.5" width="1.7" height="1.7" fill="#0000b6"/><rect x="633.9" y="169.2" width="1.7" height="1.7" fill="#0000b6"/><rect x="604.5" y="169.2" width="1.7" height="1.7" fill="#0000b6"/><rect x="634.0" y="164.5" width="1.7" height="1.7" fill="#0000b6"/><rect x="625.5" y="163.3" width="1.7" height="1.7" fill="#0000b6"/><rect x="618.9" y="169.5" width="1.7" height="1.7" fill="#0000b6"/><rect x="632.5" y="167.5" width="1.7" height="1.7" fill="#0000b6"/><rect x="635.7" y="101.1" width="1.7" height="1.7" fill="#0000b6"/><rect x="621.1" y="159.6" width="1.7" height="1.7" fill="#0000b6"/><rect x="613.7" y="166.7" width="1.7" height="1.7" fill="#0000b6"/><rect x="634.1" y="174.6" width="1.7" height="1.7" fill="#0000b6"/><rect x="632.6" y="167.8" width="1.7" height="1.7" fill="#0000b6"/><rect x="630.1" y="169.5" width="1.7" height="1.7" fill="#0000b6"/><rect x="636.4" y="151.6" width="1.7" height="1.7" fill="#0000b6"/><rect x="638.8" y="114.7" width="1.7" height="1.7" fill="#0000b6"/><rect x="634.7" y="153.8" width="1.7" height="1.7" fill="#0000b6"/><rect x="635.2" y="132.9" width="1.7" height="1.7" fill="#0000b6"/><rect x="629.7" y="169.2" width="1.7" height="1.7" fill="#0000b6"/><rect x="609.5" y="168.9" width="1.7" height="1.7" fill="#0000b6"/><rect x="613.8" y="167.3" width="1.7" height="1.7" fill="#0000b6"/><rect x="649.4" y="147.5" width="1.7" height="1.7" fill="#0000b6"/><rect x="632.9" y="139.4" width="1.7" height="1.7" fill="#0000b6"/><rect x="621.3" y="167.9" width="1.7" height="1.7" fill="#0000b6"/><rect x="629.8" y="173.5" width="1.7" height="1.7" fill="#0000b6"/><rect x="618.5" y="121.1" width="1.7" height="1.7" fill="#0000b6"/><rect x="617.0" y="169.0" width="1.7" height="1.7" fill="#0000b6"/><rect x="607.6" y="166.9" width="1.7" height="1.7" fill="#0000b6"/><rect x="614.1" y="155.4" width="1.7" height="1.7" fill="#0000b6"/><rect x="619.5" y="157.8" width="1.7" height="1.7" fill="#0000b6"/><rect x="636.1" y="169.3" width="1.7" height="1.7" fill="#0000b6"/><rect x="650.3" y="166.0" width="1.7" height="1.7" fill="#0000b6"/><rect x="633.1" y="169.7" width="1.7" height="1.7" fill="#0000b6"/><rect x="625.5" y="165.3" width="1.7" height="1.7" fill="#0000b6"/><rect x="610.4" y="168.4" width="1.7" height="1.7" fill="#0000b6"/><rect x="625.8" y="100.4" width="1.7" height="1.7" fill="#0000b6"/><rect x="617.6" y="150.7" width="1.7" height="1.7" fill="#0000b6"/><rect x="608.8" y="169.1" width="1.7" height="1.7" fill="#0000b6"/><rect x="644.5" y="169.2" width="1.7" height="1.7" fill="#0000b6"/><rect x="626.7" y="104.6" width="1.7" height="1.7" fill="#0000b6"/><rect x="651.4" y="152.5" width="1.7" height="1.7" fill="#0000b6"/><rect x="627.5" y="168.9" width="1.7" height="1.7" fill="#0000b6"/><rect x="607.6" y="142.0" width="1.7" height="1.7" fill="#0000b6"/><rect x="633.3" y="121.2" width="1.7" height="1.7" fill="#0000b6"/><rect x="608.8" y="155.7" width="1.7" height="1.7" fill="#0000b6"/><rect x="607.5" y="167.0" width="1.7" height="1.7" fill="#0000b6"/><rect x="611.0" y="168.6" width="1.7" height="1.7" fill="#0000b6"/><rect x="607.4" y="152.3" width="1.7" height="1.7" fill="#0000b6"/><rect x="637.2" y="160.4" width="1.7" height="1.7" fill="#0000b6"/><rect x="605.1" y="169.0" width="1.7" height="1.7" fill="#0000b6"/><rect x="649.9" y="156.5" width="1.7" height="1.7" fill="#0000b6"/><rect x="616.9" y="118.9" width="1.7" height="1.7" fill="#0000b6"/><rect x="635.8" y="139.3" width="1.7" height="1.7" fill="#0000b6"/><rect x="643.5" y="167.1" width="1.7" height="1.7" fill="#0000b6"/><rect x="637.0" y="164.2" width="1.7" height="1.7" fill="#0000b6"/><rect x="612.9" y="115.3" width="1.7" height="1.7" fill="#0000b6"/><rect x="633.9" y="163.6" width="1.7" height="1.7" fill="#0000b6"/><rect x="619.7" y="144.8" width="1.7" height="1.7" fill="#0000b6"/><rect x="636.5" y="163.6" width="1.7" height="1.7" fill="#0000b6"/><rect x="628.6" y="167.0" width="1.7" height="1.7" fill="#0000b6"/><rect x="644.0" y="162.8" width="1.7" height="1.7" fill="#0000b6"/><rect x="605.6" y="141.0" width="1.7" height="1.7" fill="#0000b6"/><rect x="649.1" y="165.9" width="1.7" height="1.7" fill="#0000b6"/><rect x="642.6" y="163.6" width="1.7" height="1.7" fill="#0000b6"/><rect x="627.2" y="162.8" width="1.7" height="1.7" fill="#0000b6"/><rect x="634.0" y="168.5" width="1.7" height="1.7" fill="#0000b6"/><rect x="606.4" y="160.7" width="1.7" height="1.7" fill="#0000b6"/><rect x="607.3" y="159.7" width="1.7" height="1.7" fill="#0000b6"/><rect x="604.6" y="158.7" width="1.7" height="1.7" fill="#0000b6"/><rect x="630.6" y="169.3" width="1.7" height="1.7" fill="#0000b6"/><rect x="634.3" y="153.7" width="1.7" height="1.7" fill="#0000b6"/><rect x="632.6" y="163.4" width="1.7" height="1.7" fill="#0000b6"/><rect x="650.2" y="111.8" width="1.7" height="1.7" fill="#0000b6"/><rect x="605.1" y="168.3" width="1.7" height="1.7" fill="#0000b6"/><rect x="621.3" y="127.2" width="1.7" height="1.7" fill="#0000b6"/><rect x="605.3" y="143.2" width="1.7" height="1.7" fill="#0000b6"/><rect x="621.0" y="167.4" width="1.7" height="1.7" fill="#0000b6"/><rect x="613.4" y="121.9" width="1.7" height="1.7" fill="#0000b6"/><rect x="620.8" y="148.1" width="1.7" height="1.7" fill="#0000b6"/><rect x="607.7" y="167.7" width="1.7" height="1.7" fill="#0000b6"/><rect x="643.5" y="168.5" width="1.7" height="1.7" fill="#0000b6"/><rect x="620.8" y="169.3" width="1.7" height="1.7" fill="#0000b6"/><rect x="648.4" y="139.4" width="1.7" height="1.7" fill="#0000b6"/><rect x="645.8" y="142.2" width="1.7" height="1.7" fill="#0000b6"/><rect x="646.3" y="168.9" width="1.7" height="1.7" fill="#0000b6"/><rect x="609.0" y="169.1" width="1.7" height="1.7" fill="#0000b6"/><rect x="646.6" y="169.1" width="1.7" height="1.7" fill="#0000b6"/><rect x="607.4" y="153.6" width="1.7" height="1.7" fill="#0000b6"/><rect x="627.6" y="163.5" width="1.7" height="1.7" fill="#0000b6"/><rect x="608.8" y="143.7" width="1.7" height="1.7" fill="#0000b6"/><rect x="621.1" y="162.2" width="1.7" height="1.7" fill="#0000b6"/><rect x="613.1" y="164.0" width="1.7" height="1.7" fill="#0000b6"/><rect x="609.4" y="141.3" width="1.7" height="1.7" fill="#0000b6"/><rect x="644.3" y="166.9" width="1.7" height="1.7" fill="#0000b6"/><rect x="643.8" y="166.4" width="1.7" height="1.7" fill="#0000b6"/><rect x="619.7" y="170.9" width="1.7" height="1.7" fill="#0000b6"/><rect x="628.2" y="164.0" width="1.7" height="1.7" fill="#0000b6"/><rect x="646.8" y="167.5" width="1.7" height="1.7" fill="#0000b6"/><rect x="642.3" y="165.1" width="1.7" height="1.7" fill="#0000b6"/><rect x="632.9" y="160.0" width="1.7" height="1.7" fill="#0000b6"/><rect x="625.2" y="169.1" width="1.7" height="1.7" fill="#0000b6"/><rect x="616.6" y="122.5" width="1.7" height="1.7" fill="#0000b6"/><rect x="647.5" y="96.5" width="1.7" height="1.7" fill="#0000b6"/><rect x="641.7" y="128.2" width="1.7" height="1.7" fill="#0000b6"/><rect x="623.2" y="174.6" width="1.7" height="1.7" fill="#0000b6"/><rect x="611.8" y="167.8" width="1.7" height="1.7" fill="#0000b6"/><rect x="642.3" y="165.9" width="1.7" height="1.7" fill="#0000b6"/><rect x="624.7" y="151.3" width="1.7" height="1.7" fill="#0000b6"/><rect x="611.2" y="162.3" width="1.7" height="1.7" fill="#0000b6"/><rect x="633.3" y="169.1" width="1.7" height="1.7" fill="#0000b6"/><rect x="610.0" y="163.7" width="1.7" height="1.7" fill="#0000b6"/><rect x="610.7" y="135.4" width="1.7" height="1.7" fill="#0000b6"/><rect x="629.4" y="169.1" width="1.7" height="1.7" fill="#0000b6"/><rect x="616.7" y="163.6" width="1.7" height="1.7" fill="#0000b6"/><rect x="642.3" y="170.4" width="1.7" height="1.7" fill="#0000b6"/><rect x="606.6" y="169.0" width="1.7" height="1.7" fill="#0000b6"/><rect x="608.3" y="173.1" width="1.7" height="1.7" fill="#0000b6"/><rect x="648.8" y="84.1" width="1.7" height="1.7" fill="#0000b6"/><rect x="630.0" y="142.6" width="1.7" height="1.7" fill="#0000b6"/><rect x="610.3" y="163.5" width="1.7" height="1.7" fill="#0000b6"/><rect x="627.5" y="160.2" width="1.7" height="1.7" fill="#0000b6"/><rect x="646.4" y="154.9" width="1.7" height="1.7" fill="#0000b6"/><rect x="640.9" y="169.3" width="1.7" height="1.7" fill="#0000b6"/><rect x="611.9" y="160.0" width="1.7" height="1.7" fill="#0000b6"/><rect x="645.9" y="141.4" width="1.7" height="1.7" fill="#0000b6"/><rect x="631.3" y="161.4" width="1.7" height="1.7" fill="#0000b6"/><rect x="616.5" y="165.8" width="1.7" height="1.7" fill="#0000b6"/><rect x="647.8" y="148.2" width="1.7" height="1.7" fill="#0000b6"/><rect x="647.9" y="169.3" width="1.7" height="1.7" fill="#0000b6"/><rect x="634.7" y="139.8" width="1.7" height="1.7" fill="#0000b6"/><rect x="650.5" y="169.2" width="1.7" height="1.7" fill="#0000b6"/><rect x="610.2" y="168.9" width="1.7" height="1.7" fill="#0000b6"/><rect x="620.6" y="166.7" width="1.7" height="1.7" fill="#0000b6"/><rect x="643.0" y="168.9" width="1.7" height="1.7" fill="#0000b6"/><rect x="624.1" y="162.0" width="1.7" height="1.7" fill="#0000b6"/><rect x="610.0" y="168.9" width="1.7" height="1.7" fill="#0000b6"/><rect x="644.0" y="109.2" width="1.7" height="1.7" fill="#0000b6"/><rect x="606.1" y="163.7" width="1.7" height="1.7" fill="#0000b6"/><rect x="624.0" y="166.9" width="1.7" height="1.7" fill="#0000b6"/><rect x="644.4" y="172.5" width="1.7" height="1.7" fill="#0000b6"/><rect x="628.3" y="107.7" width="1.7" height="1.7" fill="#0000b6"/><rect x="618.0" y="131.0" width="1.7" height="1.7" fill="#0000b6"/><rect x="606.6" y="124.7" width="1.7" height="1.7" fill="#0000b6"/><rect x="633.6" y="169.2" width="1.7" height="1.7" fill="#0000b6"/><rect x="647.1" y="168.6" width="1.7" height="1.7" fill="#0000b6"/><rect x="623.6" y="129.7" width="1.7" height="1.7" fill="#0000b6"/><rect x="635.8" y="166.3" width="1.7" height="1.7" fill="#0000b6"/><rect x="630.6" y="118.3" width="1.7" height="1.7" fill="#0000b6"/><rect x="604.7" y="171.6" width="1.7" height="1.7" fill="#0000b6"/><rect x="618.7" y="162.8" width="1.7" height="1.7" fill="#0000b6"/><rect x="621.1" y="163.5" width="1.7" height="1.7" fill="#0000b6"/><rect x="646.8" y="164.8" width="1.7" height="1.7" fill="#0000b6"/><rect x="640.4" y="166.3" width="1.7" height="1.7" fill="#0000b6"/><rect x="645.4" y="169.2" width="1.7" height="1.7" fill="#0000b6"/><rect x="607.8" y="147.6" width="1.7" height="1.7" fill="#0000b6"/><rect x="631.9" y="126.2" width="1.7" height="1.7" fill="#0000b6"/><rect x="634.1" y="150.3" width="1.7" height="1.7" fill="#0000b6"/><rect x="619.5" y="168.6" width="1.7" height="1.7" fill="#0000b6"/><rect x="625.3" y="117.0" width="1.7" height="1.7" fill="#0000b6"/><rect x="630.0" y="99.2" width="1.7" height="1.7" fill="#0000b6"/><rect x="613.2" y="117.6" width="1.7" height="1.7" fill="#0000b6"/><rect x="636.6" y="123.0" width="1.7" height="1.7" fill="#0000b6"/><rect x="636.8" y="156.3" width="1.7" height="1.7" fill="#0000b6"/><rect x="641.3" y="164.0" width="1.7" height="1.7" fill="#0000b6"/><rect x="633.3" y="93.3" width="1.7" height="1.7" fill="#0000b6"/><rect x="608.1" y="141.1" width="1.7" height="1.7" fill="#0000b6"/><rect x="607.0" y="149.6" width="1.7" height="1.7" fill="#0000b6"/><rect x="625.7" y="129.1" width="1.7" height="1.7" fill="#0000b6"/><rect x="615.4" y="169.2" width="1.7" height="1.7" fill="#0000b6"/><rect x="627.5" y="148.2" width="1.7" height="1.7" fill="#0000b6"/><rect x="637.1" y="114.6" width="1.7" height="1.7" fill="#0000b6"/><rect x="610.3" y="168.0" width="1.7" height="1.7" fill="#0000b6"/><rect x="643.3" y="100.1" width="1.7" height="1.7" fill="#0000b6"/><rect x="626.8" y="165.3" width="1.7" height="1.7" fill="#0000b6"/><rect x="607.4" y="168.9" width="1.7" height="1.7" fill="#0000b6"/><rect x="647.9" y="166.3" width="1.7" height="1.7" fill="#0000b6"/><rect x="627.1" y="168.6" width="1.7" height="1.7" fill="#0000b6"/><rect x="611.3" y="161.1" width="1.7" height="1.7" fill="#0000b6"/><rect x="640.3" y="168.1" width="1.7" height="1.7" fill="#0000b6"/><rect x="607.1" y="166.4" width="1.7" height="1.7" fill="#0000b6"/><rect x="621.9" y="138.4" width="1.7" height="1.7" fill="#0000b6"/><rect x="640.0" y="166.5" width="1.7" height="1.7" fill="#0000b6"/><rect x="642.8" y="167.1" width="1.7" height="1.7" fill="#0000b6"/><rect x="627.4" y="155.3" width="1.7" height="1.7" fill="#0000b6"/><rect x="611.7" y="160.9" width="1.7" height="1.7" fill="#0000b6"/><rect x="620.9" y="173.0" width="1.7" height="1.7" fill="#0000b6"/><rect x="641.3" y="96.7" width="1.7" height="1.7" fill="#0000b6"/><rect x="638.5" y="157.0" width="1.7" height="1.7" fill="#0000b6"/><rect x="617.9" y="168.8" width="1.7" height="1.7" fill="#0000b6"/><rect x="620.0" y="169.1" width="1.7" height="1.7" fill="#0000b6"/><rect x="605.0" y="168.4" width="1.7" height="1.7" fill="#0000b6"/><rect x="636.3" y="165.7" width="1.7" height="1.7" fill="#0000b6"/><rect x="623.4" y="169.3" width="1.7" height="1.7" fill="#0000b6"/><rect x="616.0" y="163.8" width="1.7" height="1.7" fill="#0000b6"/><rect x="621.2" y="138.0" width="1.7" height="1.7" fill="#0000b6"/><rect x="636.9" y="139.1" width="1.7" height="1.7" fill="#0000b6"/><rect x="608.9" y="165.9" width="1.7" height="1.7" fill="#0000b6"/><rect x="649.6" y="133.6" width="1.7" height="1.7" fill="#0000b6"/><rect x="627.4" y="159.2" width="1.7" height="1.7" fill="#0000b6"/><rect x="636.1" y="164.4" width="1.7" height="1.7" fill="#0000b6"/><rect x="625.5" y="155.8" width="1.7" height="1.7" fill="#0000b6"/><rect x="614.9" y="172.5" width="1.7" height="1.7" fill="#0000b6"/><rect x="639.6" y="103.4" width="1.7" height="1.7" fill="#0000b6"/><rect x="631.2" y="167.7" width="1.7" height="1.7" fill="#0000b6"/><rect x="617.2" y="161.8" width="1.7" height="1.7" fill="#0000b6"/><rect x="641.7" y="139.7" width="1.7" height="1.7" fill="#0000b6"/><rect x="627.8" y="157.8" width="1.7" height="1.7" fill="#0000b6"/><rect x="621.2" y="145.7" width="1.7" height="1.7" fill="#0000b6"/><rect x="643.6" y="168.2" width="1.7" height="1.7" fill="#0000b6"/><rect x="607.3" y="163.2" width="1.7" height="1.7" fill="#0000b6"/><rect x="647.3" y="167.3" width="1.7" height="1.7" fill="#0000b6"/><rect x="644.1" y="167.9" width="1.7" height="1.7" fill="#0000b6"/><rect x="617.9" y="164.9" width="1.7" height="1.7" fill="#0000b6"/><rect x="627.5" y="145.3" width="1.7" height="1.7" fill="#0000b6"/><rect x="638.4" y="167.2" width="1.7" height="1.7" fill="#0000b6"/><rect x="628.6" y="166.6" width="1.7" height="1.7" fill="#0000b6"/><rect x="643.1" y="166.8" width="1.7" height="1.7" fill="#0000b6"/><rect x="610.6" y="166.6" width="1.7" height="1.7" fill="#0000b6"/><rect x="637.1" y="172.1" width="1.7" height="1.7" fill="#0000b6"/><rect x="632.1" y="169.9" width="1.7" height="1.7" fill="#0000b6"/><rect x="648.9" y="165.1" width="1.7" height="1.7" fill="#0000b6"/><rect x="617.3" y="147.5" width="1.7" height="1.7" fill="#0000b6"/><rect x="611.8" y="165.3" width="1.7" height="1.7" fill="#0000b6"/><rect x="618.3" y="143.9" width="1.7" height="1.7" fill="#0000b6"/><rect x="617.3" y="169.2" width="1.7" height="1.7" fill="#0000b6"/><rect x="619.6" y="159.4" width="1.7" height="1.7" fill="#0000b6"/><rect x="630.6" y="160.7" width="1.7" height="1.7" fill="#0000b6"/><rect x="619.8" y="148.5" width="1.7" height="1.7" fill="#0000b6"/><rect x="644.1" y="168.5" width="1.7" height="1.7" fill="#0000b6"/><rect x="624.9" y="148.7" width="1.7" height="1.7" fill="#0000b6"/><rect x="609.4" y="167.0" width="1.7" height="1.7" fill="#0000b6"/><rect x="602.5" y="129.5" width="1.7" height="1.7" fill="#0000b6"/><rect x="602.3" y="131.1" width="1.7" height="1.7" fill="#0000b6"/><rect x="602.0" y="132.3" width="1.7" height="1.7" fill="#0000b6"/><rect x="602.7" y="133.6" width="1.7" height="1.7" fill="#0000b6"/><rect x="599.7" y="133.6" width="1.7" height="1.7" fill="#0000b6"/><rect x="596.0" y="136.5" width="1.7" height="1.7" fill="#0000b6"/><rect x="598.6" y="136.8" width="1.7" height="1.7" fill="#0000b6"/><rect x="601.1" y="137.2" width="1.7" height="1.7" fill="#0000b6"/><rect x="596.2" y="137.0" width="1.7" height="1.7" fill="#0000b6"/><rect x="598.1" y="138.0" width="1.7" height="1.7" fill="#0000b6"/><rect x="600.2" y="138.3" width="1.7" height="1.7" fill="#0000b6"/><rect x="597.7" y="139.4" width="1.7" height="1.7" fill="#0000b6"/><rect x="597.4" y="139.6" width="1.7" height="1.7" fill="#0000b6"/><rect x="599.5" y="141.0" width="1.7" height="1.7" fill="#0000b6"/><rect x="593.8" y="140.5" width="1.7" height="1.7" fill="#0000b6"/><rect x="596.7" y="140.8" width="1.7" height="1.7" fill="#0000b6"/><rect x="593.0" y="140.5" width="1.7" height="1.7" fill="#0000b6"/><rect x="593.8" y="140.7" width="1.7" height="1.7" fill="#0000b6"/><rect x="595.8" y="141.2" width="1.7" height="1.7" fill="#0000b6"/><rect x="589.2" y="141.4" width="1.7" height="1.7" fill="#0000b6"/><rect x="590.3" y="141.7" width="1.7" height="1.7" fill="#0000b6"/><rect x="600.1" y="142.8" width="1.7" height="1.7" fill="#0000b6"/><rect x="598.9" y="142.8" width="1.7" height="1.7" fill="#0000b6"/><rect x="597.1" y="142.8" width="1.7" height="1.7" fill="#0000b6"/><rect x="598.0" y="143.1" width="1.7" height="1.7" fill="#0000b6"/><rect x="590.1" y="142.5" width="1.7" height="1.7" fill="#0000b6"/><rect x="600.0" y="143.6" width="1.7" height="1.7" fill="#0000b6"/><rect x="591.8" y="142.7" width="1.7" height="1.7" fill="#0000b6"/><rect x="599.0" y="143.6" width="1.7" height="1.7" fill="#0000b6"/><rect x="592.5" y="142.9" width="1.7" height="1.7" fill="#0000b6"/><rect x="594.0" y="143.1" width="1.7" height="1.7" fill="#0000b6"/><rect x="586.8" y="142.8" width="1.7" height="1.7" fill="#0000b6"/><rect x="597.3" y="143.7" width="1.7" height="1.7" fill="#0000b6"/><rect x="586.9" y="142.9" width="1.7" height="1.7" fill="#0000b6"/><rect x="585.4" y="142.8" width="1.7" height="1.7" fill="#0000b6"/><rect x="590.7" y="143.2" width="1.7" height="1.7" fill="#0000b6"/><rect x="583.6" y="143.5" width="1.7" height="1.7" fill="#0000b6"/><rect x="603.1" y="146.4" width="1.7" height="1.7" fill="#0000b6"/><rect x="600.9" y="145.3" width="1.7" height="1.7" fill="#0000b6"/><rect x="599.2" y="145.1" width="1.7" height="1.7" fill="#0000b6"/><rect x="595.9" y="144.6" width="1.7" height="1.7" fill="#0000b6"/><rect x="587.5" y="144.0" width="1.7" height="1.7" fill="#0000b6"/><rect x="593.8" y="145.0" width="1.7" height="1.7" fill="#0000b6"/><rect x="591.2" y="144.9" width="1.7" height="1.7" fill="#0000b6"/><rect x="598.2" y="145.8" width="1.7" height="1.7" fill="#0000b6"/><rect x="585.5" y="144.8" width="1.7" height="1.7" fill="#0000b6"/><rect x="596.5" y="145.7" width="1.7" height="1.7" fill="#0000b6"/><rect x="591.0" y="145.2" width="1.7" height="1.7" fill="#0000b6"/><rect x="592.4" y="145.4" width="1.7" height="1.7" fill="#0000b6"/><rect x="588.9" y="145.3" width="1.7" height="1.7" fill="#0000b6"/><rect x="587.1" y="145.5" width="1.7" height="1.7" fill="#0000b6"/><rect x="593.4" y="146.1" width="1.7" height="1.7" fill="#0000b6"/><rect x="602.7" y="148.3" width="1.7" height="1.7" fill="#0000b6"/><rect x="597.8" y="146.9" width="1.7" height="1.7" fill="#0000b6"/><rect x="593.1" y="146.4" width="1.7" height="1.7" fill="#0000b6"/><rect x="598.3" y="147.1" width="1.7" height="1.7" fill="#0000b6"/><rect x="590.4" y="146.5" width="1.7" height="1.7" fill="#0000b6"/><rect x="597.3" y="147.5" width="1.7" height="1.7" fill="#0000b6"/><rect x="590.9" y="146.8" width="1.7" height="1.7" fill="#0000b6"/><rect x="593.6" y="147.1" width="1.7" height="1.7" fill="#0000b6"/><rect x="598.5" y="147.8" width="1.7" height="1.7" fill="#0000b6"/><rect x="591.0" y="147.0" width="1.7" height="1.7" fill="#0000b6"/><rect x="594.3" y="147.6" width="1.7" height="1.7" fill="#0000b6"/><rect x="597.6" y="148.0" width="1.7" height="1.7" fill="#0000b6"/><rect x="579.5" y="146.6" width="1.7" height="1.7" fill="#0000b6"/><rect x="599.7" y="148.6" width="1.7" height="1.7" fill="#0000b6"/><rect x="586.9" y="147.2" width="1.7" height="1.7" fill="#0000b6"/><rect x="601.2" y="149.3" width="1.7" height="1.7" fill="#0000b6"/><rect x="599.7" y="148.9" width="1.7" height="1.7" fill="#0000b6"/><rect x="582.4" y="147.4" width="1.7" height="1.7" fill="#0000b6"/><rect x="593.3" y="148.5" width="1.7" height="1.7" fill="#0000b6"/><rect x="583.7" y="147.8" width="1.7" height="1.7" fill="#0000b6"/><rect x="584.2" y="147.9" width="1.7" height="1.7" fill="#0000b6"/><rect x="600.5" y="150.2" width="1.7" height="1.7" fill="#0000b6"/><rect x="582.4" y="148.2" width="1.7" height="1.7" fill="#0000b6"/><rect x="579.1" y="148.4" width="1.7" height="1.7" fill="#0000b6"/><rect x="594.9" y="150.3" width="1.7" height="1.7" fill="#0000b6"/><rect x="586.7" y="149.6" width="1.7" height="1.7" fill="#0000b6"/><rect x="576.6" y="149.0" width="1.7" height="1.7" fill="#0000b6"/><rect x="584.2" y="149.7" width="1.7" height="1.7" fill="#0000bb"/><rect x="598.7" y="151.7" width="1.7" height="1.7" fill="#0000bb"/><rect x="594.0" y="150.9" width="1.7" height="1.7" fill="#0000bb"/><rect x="577.6" y="149.7" width="1.7" height="1.7" fill="#0000bb"/><rect x="602.4" y="154.2" width="1.7" height="1.7" fill="#0000bb"/><rect x="593.2" y="151.6" width="1.7" height="1.7" fill="#0000bb"/><rect x="590.9" y="151.3" width="1.7" height="1.7" fill="#0000bb"/><rect x="601.7" y="154.0" width="1.7" height="1.7" fill="#0000bb"/><rect x="593.5" y="152.0" width="1.7" height="1.7" fill="#0000bb"/><rect x="590.4" y="151.6" width="1.7" height="1.7" fill="#0000bb"/><rect x="592.4" y="151.9" width="1.7" height="1.7" fill="#0000bb"/><rect x="590.6" y="151.7" width="1.7" height="1.7" fill="#0000bb"/><rect x="584.9" y="151.3" width="1.7" height="1.7" fill="#0000bb"/><rect x="602.3" y="155.2" width="1.7" height="1.7" fill="#0000bb"/><rect x="580.3" y="151.2" width="1.7" height="1.7" fill="#0000bb"/><rect x="575.5" y="150.9" width="1.7" height="1.7" fill="#0000bb"/><rect x="597.9" y="153.7" width="1.7" height="1.7" fill="#0000bb"/><rect x="601.1" y="155.0" width="1.7" height="1.7" fill="#0000bb"/><rect x="593.4" y="152.9" width="1.7" height="1.7" fill="#0000bb"/><rect x="601.5" y="155.3" width="1.7" height="1.7" fill="#0000bb"/><rect x="580.7" y="151.6" width="1.7" height="1.7" fill="#0000bb"/><rect x="603.9" y="169.1" width="1.7" height="1.7" fill="#0000bb"/><rect x="590.2" y="152.5" width="1.7" height="1.7" fill="#0000bb"/><rect x="573.1" y="151.2" width="1.7" height="1.7" fill="#0000bb"/><rect x="598.3" y="154.1" width="1.7" height="1.7" fill="#0000bf"/><rect x="581.2" y="151.8" width="1.7" height="1.7" fill="#0000bf"/><rect x="579.7" y="151.8" width="1.7" height="1.7" fill="#0000bf"/><rect x="601.7" y="155.9" width="1.7" height="1.7" fill="#0000bf"/><rect x="581.5" y="152.0" width="1.7" height="1.7" fill="#0000bf"/><rect x="603.7" y="160.8" width="1.7" height="1.7" fill="#0000bf"/><rect x="577.2" y="151.7" width="1.7" height="1.7" fill="#0000bf"/><rect x="602.2" y="156.6" width="1.7" height="1.7" fill="#0000bf"/><rect x="586.0" y="152.5" width="1.7" height="1.7" fill="#0000bf"/><rect x="588.1" y="152.8" width="1.7" height="1.7" fill="#0000bf"/><rect x="591.1" y="153.1" width="1.7" height="1.7" fill="#0000bf"/><rect x="603.8" y="169.7" width="1.7" height="1.7" fill="#0000bf"/><rect x="591.6" y="153.4" width="1.7" height="1.7" fill="#0000bf"/><rect x="584.3" y="152.6" width="1.7" height="1.7" fill="#0000bf"/><rect x="587.9" y="153.0" width="1.7" height="1.7" fill="#0000bf"/><rect x="591.6" y="153.5" width="1.7" height="1.7" fill="#0000bf"/><rect x="603.5" y="161.2" width="1.7" height="1.7" fill="#0000bf"/><rect x="573.3" y="152.0" width="1.7" height="1.7" fill="#0000bf"/><rect x="603.7" y="169.2" width="1.7" height="1.7" fill="#0000bf"/><rect x="603.7" y="169.3" width="1.7" height="1.7" fill="#0000bf"/><rect x="603.6" y="166.7" width="1.7" height="1.7" fill="#0000c4"/><rect x="603.6" y="164.5" width="1.7" height="1.7" fill="#0000c4"/><rect x="603.6" y="169.1" width="1.7" height="1.7" fill="#0000c4"/><rect x="595.9" y="154.8" width="1.7" height="1.7" fill="#0000c4"/><rect x="600.0" y="156.2" width="1.7" height="1.7" fill="#0000c4"/><rect x="603.6" y="168.9" width="1.7" height="1.7" fill="#0000c4"/><rect x="585.0" y="153.3" width="1.7" height="1.7" fill="#0000c4"/><rect x="597.7" y="155.4" width="1.7" height="1.7" fill="#0000c4"/><rect x="580.4" y="153.0" width="1.7" height="1.7" fill="#0000c4"/><rect x="580.6" y="153.1" width="1.7" height="1.7" fill="#0000c4"/><rect x="576.6" y="152.9" width="1.7" height="1.7" fill="#0000c8"/><rect x="603.3" y="166.1" width="1.7" height="1.7" fill="#0000c8"/><rect x="603.3" y="168.7" width="1.7" height="1.7" fill="#0000c8"/><rect x="602.2" y="159.2" width="1.7" height="1.7" fill="#0000c8"/><rect x="599.7" y="157.0" width="1.7" height="1.7" fill="#0000c8"/><rect x="603.2" y="168.3" width="1.7" height="1.7" fill="#0000c8"/><rect x="603.2" y="165.8" width="1.7" height="1.7" fill="#0000c8"/><rect x="603.2" y="169.1" width="1.7" height="1.7" fill="#0000cd"/><rect x="603.2" y="168.4" width="1.7" height="1.7" fill="#0000cd"/><rect x="603.2" y="168.8" width="1.7" height="1.7" fill="#0000cd"/><rect x="603.2" y="168.9" width="1.7" height="1.7" fill="#0000cd"/><rect x="592.6" y="155.1" width="1.7" height="1.7" fill="#0000cd"/><rect x="575.7" y="153.2" width="1.7" height="1.7" fill="#0000cd"/><rect x="582.6" y="153.9" width="1.7" height="1.7" fill="#0000cd"/><rect x="569.9" y="153.0" width="1.7" height="1.7" fill="#0000cd"/><rect x="586.2" y="154.3" width="1.7" height="1.7" fill="#0000cd"/><rect x="602.4" y="160.3" width="1.7" height="1.7" fill="#0000cd"/><rect x="603.0" y="166.1" width="1.7" height="1.7" fill="#0000cd"/><rect x="570.2" y="153.2" width="1.7" height="1.7" fill="#0000cd"/><rect x="594.0" y="155.7" width="1.7" height="1.7" fill="#0000cd"/><rect x="578.4" y="153.7" width="1.7" height="1.7" fill="#0000cd"/><rect x="602.9" y="165.1" width="1.7" height="1.7" fill="#0000d1"/><rect x="602.9" y="169.0" width="1.7" height="1.7" fill="#0000d1"/><rect x="602.9" y="168.9" width="1.7" height="1.7" fill="#0000d1"/><rect x="602.9" y="168.6" width="1.7" height="1.7" fill="#0000d1"/><rect x="588.4" y="155.0" width="1.7" height="1.7" fill="#0000d1"/><rect x="589.1" y="155.1" width="1.7" height="1.7" fill="#0000d1"/><rect x="601.8" y="160.0" width="1.7" height="1.7" fill="#0000d1"/><rect x="570.6" y="153.4" width="1.7" height="1.7" fill="#0000d1"/><rect x="602.2" y="161.2" width="1.7" height="1.7" fill="#0000d6"/><rect x="602.7" y="169.3" width="1.7" height="1.7" fill="#0000d6"/><rect x="584.6" y="154.8" width="1.7" height="1.7" fill="#0000d6"/><rect x="602.6" y="169.2" width="1.7" height="1.7" fill="#0000d6"/><rect x="596.1" y="156.8" width="1.7" height="1.7" fill="#0000d6"/><rect x="580.4" y="154.4" width="1.7" height="1.7" fill="#0000d6"/><rect x="582.8" y="154.6" width="1.7" height="1.7" fill="#0000d6"/><rect x="567.9" y="153.7" width="1.7" height="1.7" fill="#0000da"/><rect x="602.4" y="169.3" width="1.7" height="1.7" fill="#0000da"/><rect x="602.4" y="170.1" width="1.7" height="1.7" fill="#0000da"/><rect x="602.4" y="169.1" width="1.7" height="1.7" fill="#0000da"/><rect x="589.4" y="155.8" width="1.7" height="1.7" fill="#0000da"/><rect x="602.3" y="165.5" width="1.7" height="1.7" fill="#0000da"/><rect x="584.5" y="155.1" width="1.7" height="1.7" fill="#0000da"/><rect x="602.3" y="167.1" width="1.7" height="1.7" fill="#0000df"/><rect x="599.4" y="158.8" width="1.7" height="1.7" fill="#0000df"/><rect x="599.7" y="159.0" width="1.7" height="1.7" fill="#0000df"/><rect x="602.2" y="169.0" width="1.7" height="1.7" fill="#0000df"/><rect x="570.4" y="154.2" width="1.7" height="1.7" fill="#0000e3"/><rect x="595.4" y="157.6" width="1.7" height="1.7" fill="#0000e3"/><rect x="601.8" y="168.8" width="1.7" height="1.7" fill="#0000e8"/><rect x="601.7" y="166.6" width="1.7" height="1.7" fill="#0000e8"/><rect x="600.2" y="160.4" width="1.7" height="1.7" fill="#0000e8"/><rect x="601.7" y="166.5" width="1.7" height="1.7" fill="#0000e8"/><rect x="598.9" y="159.3" width="1.7" height="1.7" fill="#0000e8"/><rect x="601.6" y="168.9" width="1.7" height="1.7" fill="#0000e8"/><rect x="601.5" y="164.1" width="1.7" height="1.7" fill="#0000ed"/><rect x="601.0" y="162.0" width="1.7" height="1.7" fill="#0000ed"/><rect x="601.5" y="168.1" width="1.7" height="1.7" fill="#0000ed"/><rect x="600.0" y="160.5" width="1.7" height="1.7" fill="#0000ed"/><rect x="601.4" y="169.1" width="1.7" height="1.7" fill="#0000ed"/><rect x="601.2" y="163.1" width="1.7" height="1.7" fill="#0000f1"/><rect x="601.2" y="168.7" width="1.7" height="1.7" fill="#0000f1"/><rect x="590.0" y="156.9" width="1.7" height="1.7" fill="#0000f1"/><rect x="595.8" y="158.4" width="1.7" height="1.7" fill="#0000f1"/><rect x="589.2" y="156.8" width="1.7" height="1.7" fill="#0000f1"/><rect x="581.8" y="155.8" width="1.7" height="1.7" fill="#0000f6"/><rect x="601.0" y="171.2" width="1.7" height="1.7" fill="#0000f6"/><rect x="601.1" y="170.7" width="1.7" height="1.7" fill="#0000f6"/><rect x="600.9" y="169.1" width="1.7" height="1.7" fill="#0000f6"/><rect x="600.9" y="168.6" width="1.7" height="1.7" fill="#0000f6"/><rect x="570.5" y="155.0" width="1.7" height="1.7" fill="#0000fa"/><rect x="600.6" y="163.2" width="1.7" height="1.7" fill="#0000fa"/><rect x="600.7" y="169.3" width="1.7" height="1.7" fill="#0000fa"/><rect x="600.7" y="167.8" width="1.7" height="1.7" fill="#0000fa"/><rect x="600.7" y="168.2" width="1.7" height="1.7" fill="#0000fa"/><rect x="600.5" y="169.2" width="1.7" height="1.7" fill="#0000ff"/><rect x="600.4" y="163.6" width="1.7" height="1.7" fill="#0000ff"/><rect x="600.5" y="166.8" width="1.7" height="1.7" fill="#0000ff"/><rect x="599.6" y="161.9" width="1.7" height="1.7" fill="#0000ff"/><rect x="600.3" y="165.1" width="1.7" height="1.7" fill="#0000ff"/><rect x="567.4" y="155.2" width="1.7" height="1.7" fill="#0000ff"/><rect x="576.3" y="155.8" width="1.7" height="1.7" fill="#0000ff"/><rect x="600.1" y="168.9" width="1.7" height="1.7" fill="#0000ff"/><rect x="600.0" y="168.2" width="1.7" height="1.7" fill="#0000ff"/><rect x="600.0" y="166.9" width="1.7" height="1.7" fill="#0000ff"/><rect x="599.9" y="169.0" width="1.7" height="1.7" fill="#0000ff"/><rect x="599.5" y="162.6" width="1.7" height="1.7" fill="#0000ff"/><rect x="599.9" y="168.7" width="1.7" height="1.7" fill="#0000ff"/><rect x="599.6" y="166.7" width="1.7" height="1.7" fill="#0000ff"/><rect x="599.6" y="169.3" width="1.7" height="1.7" fill="#0000ff"/><rect x="599.6" y="167.6" width="1.7" height="1.7" fill="#0000ff"/><rect x="598.2" y="161.4" width="1.7" height="1.7" fill="#0000ff"/><rect x="599.5" y="169.0" width="1.7" height="1.7" fill="#0004ff"/><rect x="598.1" y="161.4" width="1.7" height="1.7" fill="#0004ff"/><rect x="599.5" y="169.1" width="1.7" height="1.7" fill="#0004ff"/><rect x="567.1" y="155.5" width="1.7" height="1.7" fill="#0004ff"/><rect x="599.5" y="167.2" width="1.7" height="1.7" fill="#0004ff"/><rect x="598.7" y="162.4" width="1.7" height="1.7" fill="#0004ff"/><rect x="596.2" y="160.3" width="1.7" height="1.7" fill="#0008ff"/><rect x="598.5" y="162.2" width="1.7" height="1.7" fill="#0008ff"/><rect x="598.9" y="162.9" width="1.7" height="1.7" fill="#0008ff"/><rect x="594.8" y="159.7" width="1.7" height="1.7" fill="#0008ff"/><rect x="599.2" y="169.2" width="1.7" height="1.7" fill="#0008ff"/><rect x="583.0" y="157.1" width="1.7" height="1.7" fill="#000cff"/><rect x="598.9" y="169.3" width="1.7" height="1.7" fill="#000cff"/><rect x="569.7" y="155.8" width="1.7" height="1.7" fill="#000cff"/><rect x="598.8" y="169.3" width="1.7" height="1.7" fill="#0010ff"/><rect x="597.0" y="161.3" width="1.7" height="1.7" fill="#0010ff"/><rect x="598.8" y="168.2" width="1.7" height="1.7" fill="#0010ff"/><rect x="598.7" y="166.9" width="1.7" height="1.7" fill="#0010ff"/><rect x="598.7" y="167.8" width="1.7" height="1.7" fill="#0010ff"/><rect x="587.4" y="158.0" width="1.7" height="1.7" fill="#0010ff"/><rect x="598.6" y="167.4" width="1.7" height="1.7" fill="#0010ff"/><rect x="590.2" y="158.6" width="1.7" height="1.7" fill="#0010ff"/><rect x="598.5" y="165.0" width="1.7" height="1.7" fill="#0014ff"/><rect x="598.5" y="166.8" width="1.7" height="1.7" fill="#0014ff"/><rect x="598.4" y="169.1" width="1.7" height="1.7" fill="#0014ff"/><rect x="598.4" y="167.5" width="1.7" height="1.7" fill="#0018ff"/><rect x="598.4" y="168.0" width="1.7" height="1.7" fill="#0018ff"/><rect x="598.3" y="168.4" width="1.7" height="1.7" fill="#0018ff"/><rect x="597.3" y="162.1" width="1.7" height="1.7" fill="#0018ff"/><rect x="598.3" y="164.9" width="1.7" height="1.7" fill="#0018ff"/><rect x="598.2" y="168.8" width="1.7" height="1.7" fill="#0018ff"/><rect x="598.1" y="165.2" width="1.7" height="1.7" fill="#001cff"/><rect x="597.7" y="172.0" width="1.7" height="1.7" fill="#001cff"/><rect x="598.0" y="166.3" width="1.7" height="1.7" fill="#001cff"/><rect x="591.6" y="159.3" width="1.7" height="1.7" fill="#001cff"/><rect x="597.8" y="163.7" width="1.7" height="1.7" fill="#001cff"/><rect x="597.9" y="167.3" width="1.7" height="1.7" fill="#001cff"/><rect x="595.9" y="173.6" width="1.7" height="1.7" fill="#0020ff"/><rect x="597.7" y="164.3" width="1.7" height="1.7" fill="#0020ff"/><rect x="597.6" y="165.2" width="1.7" height="1.7" fill="#0024ff"/><rect x="585.6" y="158.1" width="1.7" height="1.7" fill="#0024ff"/><rect x="597.6" y="168.3" width="1.7" height="1.7" fill="#0024ff"/><rect x="597.5" y="168.8" width="1.7" height="1.7" fill="#0024ff"/><rect x="590.0" y="159.2" width="1.7" height="1.7" fill="#0028ff"/><rect x="579.5" y="157.3" width="1.7" height="1.7" fill="#0028ff"/><rect x="597.3" y="166.1" width="1.7" height="1.7" fill="#0028ff"/><rect x="597.3" y="165.8" width="1.7" height="1.7" fill="#0028ff"/><rect x="597.2" y="169.1" width="1.7" height="1.7" fill="#0028ff"/><rect x="597.2" y="169.3" width="1.7" height="1.7" fill="#002cff"/><rect x="595.8" y="162.2" width="1.7" height="1.7" fill="#002cff"/><rect x="595.9" y="162.3" width="1.7" height="1.7" fill="#0030ff"/><rect x="586.4" y="158.7" width="1.7" height="1.7" fill="#0034ff"/><rect x="596.6" y="168.9" width="1.7" height="1.7" fill="#0034ff"/><rect x="596.5" y="168.0" width="1.7" height="1.7" fill="#0038ff"/><rect x="585.9" y="158.6" width="1.7" height="1.7" fill="#0038ff"/><rect x="596.5" y="167.4" width="1.7" height="1.7" fill="#0038ff"/><rect x="596.4" y="165.2" width="1.7" height="1.7" fill="#0038ff"/><rect x="596.3" y="169.1" width="1.7" height="1.7" fill="#0038ff"/><rect x="596.3" y="169.2" width="1.7" height="1.7" fill="#0038ff"/><rect x="586.4" y="158.8" width="1.7" height="1.7" fill="#003cff"/><rect x="594.7" y="162.0" width="1.7" height="1.7" fill="#003cff"/><rect x="595.9" y="166.4" width="1.7" height="1.7" fill="#0040ff"/><rect x="595.9" y="166.3" width="1.7" height="1.7" fill="#0040ff"/><rect x="595.3" y="163.1" width="1.7" height="1.7" fill="#0044ff"/><rect x="595.8" y="167.6" width="1.7" height="1.7" fill="#0044ff"/><rect x="595.8" y="168.6" width="1.7" height="1.7" fill="#0044ff"/><rect x="595.7" y="166.9" width="1.7" height="1.7" fill="#0044ff"/><rect x="595.7" y="169.3" width="1.7" height="1.7" fill="#0044ff"/><rect x="595.7" y="166.6" width="1.7" height="1.7" fill="#0044ff"/><rect x="573.3" y="157.1" width="1.7" height="1.7" fill="#0048ff"/><rect x="594.5" y="162.5" width="1.7" height="1.7" fill="#0048ff"/><rect x="574.6" y="157.3" width="1.7" height="1.7" fill="#0048ff"/><rect x="566.3" y="156.7" width="1.7" height="1.7" fill="#0048ff"/><rect x="589.9" y="160.2" width="1.7" height="1.7" fill="#004cff"/><rect x="590.3" y="160.3" width="1.7" height="1.7" fill="#004cff"/><rect x="593.5" y="161.9" width="1.7" height="1.7" fill="#004cff"/><rect x="594.8" y="163.5" width="1.7" height="1.7" fill="#0050ff"/><rect x="571.5" y="157.1" width="1.7" height="1.7" fill="#0050ff"/><rect x="561.5" y="156.8" width="1.7" height="1.7" fill="#0050ff"/><rect x="595.0" y="168.5" width="1.7" height="1.7" fill="#0050ff"/><rect x="595.0" y="168.2" width="1.7" height="1.7" fill="#0050ff"/><rect x="595.0" y="167.9" width="1.7" height="1.7" fill="#0050ff"/><rect x="594.7" y="169.3" width="1.7" height="1.7" fill="#0054ff"/><rect x="594.6" y="165.0" width="1.7" height="1.7" fill="#0058ff"/><rect x="594.6" y="168.2" width="1.7" height="1.7" fill="#0058ff"/><rect x="594.5" y="167.4" width="1.7" height="1.7" fill="#0058ff"/><rect x="591.3" y="161.1" width="1.7" height="1.7" fill="#005cff"/><rect x="594.3" y="165.4" width="1.7" height="1.7" fill="#005cff"/><rect x="594.3" y="169.2" width="1.7" height="1.7" fill="#005cff"/><rect x="594.0" y="163.5" width="1.7" height="1.7" fill="#005cff"/><rect x="594.3" y="169.2" width="1.7" height="1.7" fill="#005cff"/><rect x="594.2" y="167.7" width="1.7" height="1.7" fill="#005cff"/><rect x="594.2" y="167.6" width="1.7" height="1.7" fill="#0060ff"/><rect x="570.1" y="157.2" width="1.7" height="1.7" fill="#0060ff"/><rect x="589.9" y="160.7" width="1.7" height="1.7" fill="#0060ff"/><rect x="594.0" y="164.7" width="1.7" height="1.7" fill="#0060ff"/><rect x="594.0" y="169.3" width="1.7" height="1.7" fill="#0064ff"/><rect x="594.0" y="169.3" width="1.7" height="1.7" fill="#0064ff"/><rect x="593.7" y="166.3" width="1.7" height="1.7" fill="#0068ff"/><rect x="593.6" y="171.0" width="1.7" height="1.7" fill="#0068ff"/><rect x="582.2" y="159.0" width="1.7" height="1.7" fill="#006cff"/><rect x="593.6" y="169.1" width="1.7" height="1.7" fill="#006cff"/><rect x="593.5" y="169.3" width="1.7" height="1.7" fill="#006cff"/><rect x="593.5" y="169.3" width="1.7" height="1.7" fill="#006cff"/><rect x="593.4" y="165.2" width="1.7" height="1.7" fill="#006cff"/><rect x="593.4" y="169.3" width="1.7" height="1.7" fill="#0070ff"/><rect x="593.3" y="169.3" width="1.7" height="1.7" fill="#0070ff"/><rect x="593.3" y="168.1" width="1.7" height="1.7" fill="#0070ff"/><rect x="593.1" y="165.4" width="1.7" height="1.7" fill="#0074ff"/><rect x="592.9" y="164.1" width="1.7" height="1.7" fill="#0078ff"/><rect x="592.9" y="167.8" width="1.7" height="1.7" fill="#0078ff"/><rect x="592.8" y="166.1" width="1.7" height="1.7" fill="#007cff"/><rect x="589.5" y="161.3" width="1.7" height="1.7" fill="#007cff"/><rect x="573.8" y="157.9" width="1.7" height="1.7" fill="#007cff"/><rect x="592.4" y="169.2" width="1.7" height="1.7" fill="#0084ff"/><rect x="592.4" y="167.9" width="1.7" height="1.7" fill="#0084ff"/><rect x="592.0" y="163.4" width="1.7" height="1.7" fill="#0084ff"/><rect x="592.3" y="168.1" width="1.7" height="1.7" fill="#0084ff"/><rect x="581.3" y="159.2" width="1.7" height="1.7" fill="#0084ff"/><rect x="592.1" y="168.9" width="1.7" height="1.7" fill="#0088ff"/><rect x="584.9" y="160.1" width="1.7" height="1.7" fill="#008cff"/><rect x="588.0" y="161.1" width="1.7" height="1.7" fill="#008cff"/><rect x="591.9" y="169.3" width="1.7" height="1.7" fill="#008cff"/><rect x="570.2" y="157.8" width="1.7" height="1.7" fill="#0090ff"/><rect x="562.5" y="157.6" width="1.7" height="1.7" fill="#0090ff"/><rect x="591.8" y="168.6" width="1.7" height="1.7" fill="#0090ff"/><rect x="591.8" y="166.3" width="1.7" height="1.7" fill="#0090ff"/><rect x="580.9" y="159.3" width="1.7" height="1.7" fill="#0090ff"/><rect x="591.7" y="169.5" width="1.7" height="1.7" fill="#0090ff"/><rect x="591.7" y="167.9" width="1.7" height="1.7" fill="#0090ff"/><rect x="590.0" y="162.3" width="1.7" height="1.7" fill="#0094ff"/><rect x="591.6" y="169.3" width="1.7" height="1.7" fill="#0094ff"/><rect x="591.5" y="168.8" width="1.7" height="1.7" fill="#0094ff"/><rect x="591.5" y="166.3" width="1.7" height="1.7" fill="#0098ff"/><rect x="578.8" y="159.0" width="1.7" height="1.7" fill="#0098ff"/><rect x="587.9" y="161.4" width="1.7" height="1.7" fill="#0098ff"/><rect x="564.8" y="157.7" width="1.7" height="1.7" fill="#0098ff"/><rect x="591.3" y="165.9" width="1.7" height="1.7" fill="#0098ff"/><rect x="591.3" y="166.0" width="1.7" height="1.7" fill="#0098ff"/><rect x="590.7" y="163.2" width="1.7" height="1.7" fill="#009cff"/><rect x="575.1" y="158.5" width="1.7" height="1.7" fill="#009cff"/><rect x="573.8" y="158.4" width="1.7" height="1.7" fill="#009cff"/><rect x="591.2" y="168.2" width="1.7" height="1.7" fill="#009cff"/><rect x="591.1" y="167.2" width="1.7" height="1.7" fill="#00a0ff"/><rect x="591.0" y="169.1" width="1.7" height="1.7" fill="#00a0ff"/><rect x="575.5" y="158.6" width="1.7" height="1.7" fill="#00a0ff"/><rect x="590.9" y="168.6" width="1.7" height="1.7" fill="#00a0ff"/><rect x="590.9" y="168.3" width="1.7" height="1.7" fill="#00a0ff"/><rect x="590.9" y="166.4" width="1.7" height="1.7" fill="#00a0ff"/><rect x="590.9" y="164.5" width="1.7" height="1.7" fill="#00a0ff"/><rect x="581.9" y="159.8" width="1.7" height="1.7" fill="#00a4ff"/><rect x="590.8" y="169.1" width="1.7" height="1.7" fill="#00a4ff"/><rect x="582.8" y="160.0" width="1.7" height="1.7" fill="#00a4ff"/><rect x="590.7" y="169.3" width="1.7" height="1.7" fill="#00a8ff"/><rect x="590.2" y="163.4" width="1.7" height="1.7" fill="#00a8ff"/><rect x="590.5" y="168.6" width="1.7" height="1.7" fill="#00a8ff"/><rect x="590.5" y="168.2" width="1.7" height="1.7" fill="#00acff"/><rect x="579.7" y="159.5" width="1.7" height="1.7" fill="#00acff"/><rect x="590.4" y="167.5" width="1.7" height="1.7" fill="#00acff"/><rect x="589.6" y="163.2" width="1.7" height="1.7" fill="#00b0ff"/><rect x="590.1" y="169.1" width="1.7" height="1.7" fill="#00b4ff"/><rect x="590.0" y="171.0" width="1.7" height="1.7" fill="#00b4ff"/><rect x="590.0" y="169.2" width="1.7" height="1.7" fill="#00b4ff"/><rect x="587.8" y="162.2" width="1.7" height="1.7" fill="#00b8ff"/><rect x="589.7" y="164.7" width="1.7" height="1.7" fill="#00bcff"/><rect x="581.1" y="160.0" width="1.7" height="1.7" fill="#00bcff"/><rect x="587.3" y="162.0" width="1.7" height="1.7" fill="#00bcff"/><rect x="589.6" y="168.1" width="1.7" height="1.7" fill="#00bcff"/><rect x="589.5" y="169.1" width="1.7" height="1.7" fill="#00bcff"/><rect x="584.3" y="160.9" width="1.7" height="1.7" fill="#00c0ff"/><rect x="589.5" y="169.1" width="1.7" height="1.7" fill="#00c0ff"/><rect x="583.9" y="160.8" width="1.7" height="1.7" fill="#00c0ff"/><rect x="589.4" y="166.0" width="1.7" height="1.7" fill="#00c0ff"/><rect x="589.4" y="167.3" width="1.7" height="1.7" fill="#00c0ff"/><rect x="551.8" y="157.9" width="1.7" height="1.7" fill="#00c0ff"/><rect x="589.3" y="168.7" width="1.7" height="1.7" fill="#00c4ff"/><rect x="589.0" y="169.2" width="1.7" height="1.7" fill="#00c8ff"/><rect x="584.8" y="173.6" width="1.7" height="1.7" fill="#00c8ff"/><rect x="588.9" y="169.0" width="1.7" height="1.7" fill="#00c8ff"/><rect x="588.9" y="169.9" width="1.7" height="1.7" fill="#00ccff"/><rect x="587.0" y="162.3" width="1.7" height="1.7" fill="#00ccff"/><rect x="588.7" y="169.1" width="1.7" height="1.7" fill="#00ccff"/><rect x="588.4" y="163.5" width="1.7" height="1.7" fill="#00d0ff"/><rect x="588.7" y="169.0" width="1.7" height="1.7" fill="#00d0ff"/><rect x="588.6" y="167.3" width="1.7" height="1.7" fill="#00d0ff"/><rect x="588.6" y="165.3" width="1.7" height="1.7" fill="#00d0ff"/><rect x="588.6" y="165.3" width="1.7" height="1.7" fill="#00d0ff"/><rect x="587.3" y="162.7" width="1.7" height="1.7" fill="#00d0ff"/><rect x="588.4" y="165.6" width="1.7" height="1.7" fill="#00d4ff"/><rect x="588.3" y="166.9" width="1.7" height="1.7" fill="#00d8ff"/><rect x="588.2" y="166.5" width="1.7" height="1.7" fill="#00d8ff"/><rect x="588.0" y="168.5" width="1.7" height="1.7" fill="#00dcfe"/><rect x="587.8" y="169.3" width="1.7" height="1.7" fill="#00e0fb"/><rect x="587.7" y="169.3" width="1.7" height="1.7" fill="#00e4f8"/><rect x="586.1" y="172.4" width="1.7" height="1.7" fill="#00e4f8"/><rect x="562.4" y="158.5" width="1.7" height="1.7" fill="#02e8f4"/><rect x="587.5" y="167.2" width="1.7" height="1.7" fill="#02e8f4"/><rect x="587.0" y="163.5" width="1.7" height="1.7" fill="#02e8f4"/><rect x="555.8" y="158.4" width="1.7" height="1.7" fill="#02e8f4"/><rect x="587.4" y="164.9" width="1.7" height="1.7" fill="#02e8f4"/><rect x="587.3" y="168.3" width="1.7" height="1.7" fill="#06ecf1"/><rect x="587.3" y="167.6" width="1.7" height="1.7" fill="#06ecf1"/><rect x="587.0" y="171.2" width="1.7" height="1.7" fill="#06ecf1"/><rect x="587.2" y="165.4" width="1.7" height="1.7" fill="#06ecf1"/><rect x="585.6" y="172.5" width="1.7" height="1.7" fill="#06ecf1"/><rect x="587.2" y="168.0" width="1.7" height="1.7" fill="#06ecf1"/><rect x="587.2" y="165.2" width="1.7" height="1.7" fill="#06ecf1"/><rect x="568.8" y="158.8" width="1.7" height="1.7" fill="#06ecf1"/><rect x="587.2" y="167.8" width="1.7" height="1.7" fill="#06ecf1"/><rect x="586.6" y="163.3" width="1.7" height="1.7" fill="#06ecf1"/><rect x="560.4" y="158.6" width="1.7" height="1.7" fill="#09f0ee"/><rect x="587.1" y="169.2" width="1.7" height="1.7" fill="#09f0ee"/><rect x="587.0" y="169.3" width="1.7" height="1.7" fill="#09f0ee"/><rect x="587.0" y="164.2" width="1.7" height="1.7" fill="#0cf4eb"/><rect x="574.6" y="159.5" width="1.7" height="1.7" fill="#0cf4eb"/><rect x="586.8" y="163.8" width="1.7" height="1.7" fill="#0cf4eb"/><rect x="586.9" y="165.8" width="1.7" height="1.7" fill="#0cf4eb"/><rect x="584.1" y="161.9" width="1.7" height="1.7" fill="#0cf4eb"/><rect x="586.5" y="171.4" width="1.7" height="1.7" fill="#0cf4eb"/><rect x="568.5" y="158.9" width="1.7" height="1.7" fill="#0ff8e7"/><rect x="586.7" y="168.9" width="1.7" height="1.7" fill="#0ff8e7"/><rect x="586.5" y="168.8" width="1.7" height="1.7" fill="#13fce4"/><rect x="586.5" y="166.5" width="1.7" height="1.7" fill="#16ffe1"/><rect x="586.5" y="168.8" width="1.7" height="1.7" fill="#16ffe1"/><rect x="586.5" y="169.8" width="1.7" height="1.7" fill="#16ffe1"/><rect x="586.4" y="164.8" width="1.7" height="1.7" fill="#16ffe1"/><rect x="586.4" y="164.8" width="1.7" height="1.7" fill="#16ffe1"/><rect x="586.3" y="165.6" width="1.7" height="1.7" fill="#19ffde"/><rect x="586.2" y="169.3" width="1.7" height="1.7" fill="#1cffdb"/><rect x="586.1" y="164.2" width="1.7" height="1.7" fill="#1cffdb"/><rect x="586.1" y="169.2" width="1.7" height="1.7" fill="#1cffdb"/><rect x="586.1" y="166.1" width="1.7" height="1.7" fill="#1cffdb"/><rect x="586.1" y="165.6" width="1.7" height="1.7" fill="#1cffdb"/><rect x="585.7" y="171.3" width="1.7" height="1.7" fill="#1cffdb"/><rect x="586.1" y="167.3" width="1.7" height="1.7" fill="#1cffdb"/><rect x="586.0" y="167.3" width="1.7" height="1.7" fill="#1cffdb"/><rect x="586.0" y="166.1" width="1.7" height="1.7" fill="#1cffdb"/><rect x="586.0" y="169.5" width="1.7" height="1.7" fill="#1cffdb"/><rect x="586.0" y="170.8" width="1.7" height="1.7" fill="#1cffdb"/><rect x="586.0" y="168.6" width="1.7" height="1.7" fill="#1fffd7"/><rect x="586.0" y="169.1" width="1.7" height="1.7" fill="#1fffd7"/><rect x="585.9" y="165.0" width="1.7" height="1.7" fill="#1fffd7"/><rect x="585.9" y="165.5" width="1.7" height="1.7" fill="#1fffd7"/><rect x="585.8" y="165.6" width="1.7" height="1.7" fill="#23ffd4"/><rect x="585.8" y="166.2" width="1.7" height="1.7" fill="#23ffd4"/><rect x="557.3" y="158.8" width="1.7" height="1.7" fill="#23ffd4"/><rect x="585.8" y="169.1" width="1.7" height="1.7" fill="#23ffd4"/><rect x="585.8" y="165.9" width="1.7" height="1.7" fill="#23ffd4"/><rect x="584.3" y="172.2" width="1.7" height="1.7" fill="#23ffd4"/><rect x="585.7" y="166.9" width="1.7" height="1.7" fill="#23ffd4"/><rect x="585.6" y="168.9" width="1.7" height="1.7" fill="#26ffd1"/><rect x="585.6" y="169.3" width="1.7" height="1.7" fill="#26ffd1"/><rect x="585.6" y="167.2" width="1.7" height="1.7" fill="#26ffd1"/><rect x="585.6" y="168.0" width="1.7" height="1.7" fill="#26ffd1"/><rect x="579.7" y="161.0" width="1.7" height="1.7" fill="#26ffd1"/><rect x="585.5" y="167.7" width="1.7" height="1.7" fill="#26ffd1"/><rect x="585.4" y="171.0" width="1.7" height="1.7" fill="#26ffd1"/><rect x="578.1" y="160.6" width="1.7" height="1.7" fill="#29ffce"/><rect x="585.5" y="166.3" width="1.7" height="1.7" fill="#29ffce"/><rect x="585.5" y="169.2" width="1.7" height="1.7" fill="#29ffce"/><rect x="568.5" y="159.2" width="1.7" height="1.7" fill="#29ffce"/><rect x="585.4" y="166.1" width="1.7" height="1.7" fill="#29ffce"/><rect x="585.4" y="169.1" width="1.7" height="1.7" fill="#29ffce"/><rect x="569.8" y="159.3" width="1.7" height="1.7" fill="#29ffce"/><rect x="585.4" y="168.3" width="1.7" height="1.7" fill="#29ffce"/><rect x="585.3" y="166.9" width="1.7" height="1.7" fill="#29ffce"/><rect x="585.3" y="165.0" width="1.7" height="1.7" fill="#2cffca"/><rect x="585.3" y="166.8" width="1.7" height="1.7" fill="#2cffca"/><rect x="585.2" y="169.3" width="1.7" height="1.7" fill="#2cffca"/><rect x="585.2" y="169.9" width="1.7" height="1.7" fill="#2cffca"/><rect x="585.2" y="166.1" width="1.7" height="1.7" fill="#2cffca"/><rect x="585.2" y="166.0" width="1.7" height="1.7" fill="#2cffca"/><rect x="576.5" y="160.3" width="1.7" height="1.7" fill="#2cffca"/><rect x="581.0" y="161.5" width="1.7" height="1.7" fill="#30ffc7"/><rect x="583.9" y="172.0" width="1.7" height="1.7" fill="#30ffc7"/><rect x="585.0" y="168.0" width="1.7" height="1.7" fill="#30ffc7"/><rect x="584.9" y="171.0" width="1.7" height="1.7" fill="#33ffc4"/><rect x="585.0" y="169.1" width="1.7" height="1.7" fill="#33ffc4"/><rect x="585.0" y="169.3" width="1.7" height="1.7" fill="#33ffc4"/><rect x="585.0" y="164.7" width="1.7" height="1.7" fill="#33ffc4"/><rect x="577.6" y="160.6" width="1.7" height="1.7" fill="#33ffc4"/><rect x="584.9" y="167.4" width="1.7" height="1.7" fill="#33ffc4"/><rect x="559.0" y="159.0" width="1.7" height="1.7" fill="#33ffc4"/><rect x="584.9" y="165.5" width="1.7" height="1.7" fill="#33ffc4"/><rect x="584.9" y="168.3" width="1.7" height="1.7" fill="#33ffc4"/><rect x="584.8" y="164.2" width="1.7" height="1.7" fill="#33ffc4"/><rect x="584.8" y="166.9" width="1.7" height="1.7" fill="#36ffc1"/><rect x="584.7" y="169.0" width="1.7" height="1.7" fill="#36ffc1"/><rect x="584.7" y="164.9" width="1.7" height="1.7" fill="#36ffc1"/><rect x="577.1" y="160.6" width="1.7" height="1.7" fill="#39ffbe"/><rect x="578.1" y="174.1" width="1.7" height="1.7" fill="#39ffbe"/><rect x="584.6" y="164.9" width="1.7" height="1.7" fill="#39ffbe"/><rect x="584.6" y="169.1" width="1.7" height="1.7" fill="#39ffbe"/><rect x="573.9" y="160.0" width="1.7" height="1.7" fill="#39ffbe"/><rect x="573.5" y="159.9" width="1.7" height="1.7" fill="#39ffbe"/><rect x="584.5" y="165.7" width="1.7" height="1.7" fill="#3cffba"/><rect x="584.4" y="169.0" width="1.7" height="1.7" fill="#3cffba"/><rect x="583.7" y="163.2" width="1.7" height="1.7" fill="#3cffba"/><rect x="584.3" y="169.2" width="1.7" height="1.7" fill="#3cffba"/><rect x="584.3" y="165.8" width="1.7" height="1.7" fill="#40ffb7"/><rect x="584.3" y="167.3" width="1.7" height="1.7" fill="#40ffb7"/><rect x="582.7" y="162.7" width="1.7" height="1.7" fill="#40ffb7"/><rect x="584.2" y="166.1" width="1.7" height="1.7" fill="#40ffb7"/><rect x="584.1" y="169.8" width="1.7" height="1.7" fill="#43ffb4"/><rect x="579.0" y="161.2" width="1.7" height="1.7" fill="#43ffb4"/><rect x="584.1" y="164.6" width="1.7" height="1.7" fill="#43ffb4"/><rect x="584.0" y="166.9" width="1.7" height="1.7" fill="#43ffb4"/><rect x="583.4" y="163.4" width="1.7" height="1.7" fill="#46ffb1"/><rect x="583.9" y="168.9" width="1.7" height="1.7" fill="#46ffb1"/><rect x="583.9" y="170.5" width="1.7" height="1.7" fill="#46ffb1"/><rect x="583.8" y="167.7" width="1.7" height="1.7" fill="#49ffad"/><rect x="583.8" y="168.3" width="1.7" height="1.7" fill="#49ffad"/><rect x="583.8" y="168.2" width="1.7" height="1.7" fill="#49ffad"/><rect x="583.7" y="166.0" width="1.7" height="1.7" fill="#49ffad"/><rect x="583.7" y="165.9" width="1.7" height="1.7" fill="#49ffad"/><rect x="583.7" y="168.3" width="1.7" height="1.7" fill="#49ffad"/><rect x="583.5" y="169.7" width="1.7" height="1.7" fill="#4dffaa"/><rect x="583.5" y="169.3" width="1.7" height="1.7" fill="#4dffaa"/><rect x="583.5" y="164.6" width="1.7" height="1.7" fill="#4dffaa"/><rect x="583.4" y="164.5" width="1.7" height="1.7" fill="#50ffa7"/><rect x="583.4" y="170.0" width="1.7" height="1.7" fill="#50ffa7"/><rect x="583.4" y="167.0" width="1.7" height="1.7" fill="#50ffa7"/><rect x="583.3" y="165.0" width="1.7" height="1.7" fill="#53ffa4"/><rect x="583.2" y="167.7" width="1.7" height="1.7" fill="#56ffa0"/><rect x="583.1" y="166.5" width="1.7" height="1.7" fill="#56ffa0"/><rect x="581.9" y="162.9" width="1.7" height="1.7" fill="#56ffa0"/><rect x="583.1" y="166.6" width="1.7" height="1.7" fill="#56ffa0"/><rect x="583.1" y="168.8" width="1.7" height="1.7" fill="#56ffa0"/><rect x="564.2" y="159.5" width="1.7" height="1.7" fill="#56ffa0"/><rect x="583.0" y="165.4" width="1.7" height="1.7" fill="#56ffa0"/><rect x="582.8" y="163.8" width="1.7" height="1.7" fill="#56ffa0"/><rect x="582.9" y="166.2" width="1.7" height="1.7" fill="#5aff9d"/><rect x="582.8" y="167.9" width="1.7" height="1.7" fill="#5dff9a"/><rect x="582.1" y="171.7" width="1.7" height="1.7" fill="#5dff9a"/><rect x="582.7" y="164.2" width="1.7" height="1.7" fill="#5dff9a"/><rect x="582.7" y="167.9" width="1.7" height="1.7" fill="#5dff9a"/><rect x="582.7" y="168.8" width="1.7" height="1.7" fill="#5dff9a"/><rect x="582.7" y="168.3" width="1.7" height="1.7" fill="#5dff9a"/><rect x="582.7" y="164.3" width="1.7" height="1.7" fill="#5dff9a"/><rect x="580.6" y="162.5" width="1.7" height="1.7" fill="#60ff97"/><rect x="582.6" y="169.4" width="1.7" height="1.7" fill="#60ff97"/><rect x="582.6" y="167.4" width="1.7" height="1.7" fill="#60ff97"/><rect x="582.6" y="168.5" width="1.7" height="1.7" fill="#60ff97"/><rect x="582.6" y="166.0" width="1.7" height="1.7" fill="#60ff97"/><rect x="580.5" y="162.4" width="1.7" height="1.7" fill="#60ff97"/><rect x="582.5" y="170.2" width="1.7" height="1.7" fill="#63ff94"/><rect x="582.5" y="166.6" width="1.7" height="1.7" fill="#63ff94"/><rect x="580.5" y="162.5" width="1.7" height="1.7" fill="#63ff94"/><rect x="582.4" y="168.0" width="1.7" height="1.7" fill="#63ff94"/><rect x="582.3" y="170.7" width="1.7" height="1.7" fill="#63ff94"/><rect x="582.2" y="164.0" width="1.7" height="1.7" fill="#66ff90"/><rect x="582.3" y="168.1" width="1.7" height="1.7" fill="#66ff90"/><rect x="582.3" y="166.0" width="1.7" height="1.7" fill="#66ff90"/><rect x="582.2" y="165.0" width="1.7" height="1.7" fill="#66ff90"/><rect x="582.1" y="167.1" width="1.7" height="1.7" fill="#6aff8d"/><rect x="582.1" y="164.2" width="1.7" height="1.7" fill="#6aff8d"/><rect x="581.0" y="163.0" width="1.7" height="1.7" fill="#6aff8d"/><rect x="582.1" y="164.5" width="1.7" height="1.7" fill="#6aff8d"/><rect x="582.1" y="168.4" width="1.7" height="1.7" fill="#6aff8d"/><rect x="580.7" y="172.1" width="1.7" height="1.7" fill="#6aff8d"/><rect x="573.7" y="160.6" width="1.7" height="1.7" fill="#6aff8d"/><rect x="582.0" y="169.1" width="1.7" height="1.7" fill="#6dff8a"/><rect x="582.0" y="165.7" width="1.7" height="1.7" fill="#6dff8a"/><rect x="582.0" y="169.2" width="1.7" height="1.7" fill="#6dff8a"/><rect x="581.9" y="167.1" width="1.7" height="1.7" fill="#6dff8a"/><rect x="581.9" y="166.8" width="1.7" height="1.7" fill="#6dff8a"/><rect x="581.9" y="165.8" width="1.7" height="1.7" fill="#6dff8a"/><rect x="581.8" y="168.6" width="1.7" height="1.7" fill="#6dff8a"/><rect x="581.7" y="170.8" width="1.7" height="1.7" fill="#70ff87"/><rect x="581.8" y="166.9" width="1.7" height="1.7" fill="#70ff87"/><rect x="581.7" y="166.3" width="1.7" height="1.7" fill="#70ff87"/><rect x="570.1" y="160.1" width="1.7" height="1.7" fill="#70ff87"/><rect x="580.0" y="172.3" width="1.7" height="1.7" fill="#70ff87"/><rect x="581.6" y="169.6" width="1.7" height="1.7" fill="#73ff83"/><rect x="581.6" y="165.4" width="1.7" height="1.7" fill="#73ff83"/><rect x="570.6" y="160.2" width="1.7" height="1.7" fill="#73ff83"/><rect x="581.5" y="169.7" width="1.7" height="1.7" fill="#77ff80"/><rect x="581.4" y="166.4" width="1.7" height="1.7" fill="#77ff80"/><rect x="579.2" y="162.3" width="1.7" height="1.7" fill="#77ff80"/><rect x="581.4" y="166.5" width="1.7" height="1.7" fill="#77ff80"/><rect x="581.4" y="165.1" width="1.7" height="1.7" fill="#77ff80"/><rect x="569.0" y="160.1" width="1.7" height="1.7" fill="#77ff80"/><rect x="581.3" y="165.0" width="1.7" height="1.7" fill="#7aff7d"/><rect x="581.3" y="166.7" width="1.7" height="1.7" fill="#7aff7d"/><rect x="581.3" y="165.1" width="1.7" height="1.7" fill="#7aff7d"/><rect x="560.0" y="159.8" width="1.7" height="1.7" fill="#7aff7d"/><rect x="581.2" y="166.6" width="1.7" height="1.7" fill="#7aff7d"/><rect x="581.2" y="166.0" width="1.7" height="1.7" fill="#7aff7d"/><rect x="581.2" y="167.3" width="1.7" height="1.7" fill="#7aff7d"/><rect x="581.1" y="168.0" width="1.7" height="1.7" fill="#7dff7a"/><rect x="574.0" y="160.9" width="1.7" height="1.7" fill="#7dff7a"/><rect x="580.4" y="163.3" width="1.7" height="1.7" fill="#80ff77"/><rect x="580.7" y="171.1" width="1.7" height="1.7" fill="#80ff77"/><rect x="580.8" y="169.2" width="1.7" height="1.7" fill="#83ff73"/><rect x="580.8" y="166.9" width="1.7" height="1.7" fill="#83ff73"/><rect x="580.8" y="169.4" width="1.7" height="1.7" fill="#83ff73"/><rect x="580.8" y="169.2" width="1.7" height="1.7" fill="#83ff73"/><rect x="580.3" y="163.5" width="1.7" height="1.7" fill="#83ff73"/><rect x="580.7" y="166.5" width="1.7" height="1.7" fill="#83ff73"/><rect x="580.6" y="163.9" width="1.7" height="1.7" fill="#83ff73"/><rect x="580.7" y="169.5" width="1.7" height="1.7" fill="#87ff70"/><rect x="580.7" y="169.2" width="1.7" height="1.7" fill="#87ff70"/><rect x="580.6" y="165.4" width="1.7" height="1.7" fill="#87ff70"/><rect x="563.4" y="160.0" width="1.7" height="1.7" fill="#8aff6d"/><rect x="580.6" y="166.8" width="1.7" height="1.7" fill="#8aff6d"/><rect x="580.6" y="167.3" width="1.7" height="1.7" fill="#8aff6d"/><rect x="580.5" y="170.0" width="1.7" height="1.7" fill="#8aff6d"/><rect x="565.5" y="160.1" width="1.7" height="1.7" fill="#8aff6d"/><rect x="580.5" y="170.0" width="1.7" height="1.7" fill="#8aff6d"/><rect x="580.5" y="167.8" width="1.7" height="1.7" fill="#8aff6d"/><rect x="580.5" y="169.3" width="1.7" height="1.7" fill="#8aff6d"/><rect x="580.4" y="165.7" width="1.7" height="1.7" fill="#8dff6a"/><rect x="580.4" y="166.2" width="1.7" height="1.7" fill="#8dff6a"/><rect x="580.3" y="165.1" width="1.7" height="1.7" fill="#8dff6a"/><rect x="580.3" y="169.3" width="1.7" height="1.7" fill="#90ff66"/><rect x="580.3" y="166.2" width="1.7" height="1.7" fill="#90ff66"/><rect x="580.2" y="168.5" width="1.7" height="1.7" fill="#90ff66"/><rect x="579.4" y="171.8" width="1.7" height="1.7" fill="#90ff66"/><rect x="580.2" y="168.8" width="1.7" height="1.7" fill="#90ff66"/><rect x="574.9" y="161.4" width="1.7" height="1.7" fill="#90ff66"/><rect x="580.2" y="169.4" width="1.7" height="1.7" fill="#90ff66"/><rect x="577.5" y="172.7" width="1.7" height="1.7" fill="#94ff63"/><rect x="580.2" y="165.7" width="1.7" height="1.7" fill="#94ff63"/><rect x="580.1" y="167.5" width="1.7" height="1.7" fill="#94ff63"/><rect x="580.1" y="165.0" width="1.7" height="1.7" fill="#94ff63"/><rect x="580.1" y="166.5" width="1.7" height="1.7" fill="#94ff63"/><rect x="580.1" y="166.6" width="1.7" height="1.7" fill="#94ff63"/><rect x="580.1" y="167.4" width="1.7" height="1.7" fill="#94ff63"/><rect x="580.0" y="167.9" width="1.7" height="1.7" fill="#97ff60"/><rect x="579.9" y="168.7" width="1.7" height="1.7" fill="#97ff60"/><rect x="579.0" y="163.2" width="1.7" height="1.7" fill="#9aff5d"/><rect x="579.7" y="171.0" width="1.7" height="1.7" fill="#9aff5d"/><rect x="579.8" y="165.8" width="1.7" height="1.7" fill="#9aff5d"/><rect x="578.0" y="162.6" width="1.7" height="1.7" fill="#9aff5d"/><rect x="579.7" y="164.8" width="1.7" height="1.7" fill="#9dff5a"/><rect x="579.7" y="169.0" width="1.7" height="1.7" fill="#9dff5a"/><rect x="579.6" y="168.8" width="1.7" height="1.7" fill="#9dff5a"/><rect x="564.4" y="160.3" width="1.7" height="1.7" fill="#a0ff56"/><rect x="579.4" y="170.7" width="1.7" height="1.7" fill="#a0ff56"/><rect x="579.5" y="166.5" width="1.7" height="1.7" fill="#a0ff56"/><rect x="578.8" y="163.3" width="1.7" height="1.7" fill="#a4ff53"/><rect x="579.3" y="170.9" width="1.7" height="1.7" fill="#a4ff53"/><rect x="579.3" y="167.4" width="1.7" height="1.7" fill="#a7ff50"/><rect x="577.2" y="162.5" width="1.7" height="1.7" fill="#a7ff50"/><rect x="579.3" y="169.3" width="1.7" height="1.7" fill="#a7ff50"/><rect x="579.3" y="167.5" width="1.7" height="1.7" fill="#a7ff50"/><rect x="579.2" y="169.5" width="1.7" height="1.7" fill="#a7ff50"/><rect x="579.2" y="170.3" width="1.7" height="1.7" fill="#a7ff50"/><rect x="579.2" y="170.7" width="1.7" height="1.7" fill="#a7ff50"/><rect x="560.2" y="174.6" width="1.7" height="1.7" fill="#aaff4d"/><rect x="577.0" y="162.5" width="1.7" height="1.7" fill="#aaff4d"/><rect x="579.1" y="169.2" width="1.7" height="1.7" fill="#aaff4d"/><rect x="575.5" y="173.0" width="1.7" height="1.7" fill="#adff49"/><rect x="579.0" y="169.3" width="1.7" height="1.7" fill="#adff49"/><rect x="579.0" y="167.6" width="1.7" height="1.7" fill="#adff49"/><rect x="579.0" y="169.3" width="1.7" height="1.7" fill="#adff49"/><rect x="560.9" y="160.3" width="1.7" height="1.7" fill="#adff49"/><rect x="579.0" y="169.7" width="1.7" height="1.7" fill="#adff49"/><rect x="578.5" y="171.3" width="1.7" height="1.7" fill="#adff49"/><rect x="578.9" y="167.7" width="1.7" height="1.7" fill="#b1ff46"/><rect x="578.9" y="167.0" width="1.7" height="1.7" fill="#b1ff46"/><rect x="578.8" y="170.8" width="1.7" height="1.7" fill="#b1ff46"/><rect x="570.8" y="160.9" width="1.7" height="1.7" fill="#b1ff46"/><rect x="556.9" y="174.6" width="1.7" height="1.7" fill="#b1ff46"/><rect x="578.8" y="170.2" width="1.7" height="1.7" fill="#b1ff46"/><rect x="578.8" y="169.0" width="1.7" height="1.7" fill="#b1ff46"/><rect x="578.8" y="166.5" width="1.7" height="1.7" fill="#b1ff46"/><rect x="578.8" y="168.5" width="1.7" height="1.7" fill="#b4ff43"/><rect x="576.3" y="162.3" width="1.7" height="1.7" fill="#b4ff43"/><rect x="576.6" y="172.4" width="1.7" height="1.7" fill="#b4ff43"/><rect x="578.1" y="171.5" width="1.7" height="1.7" fill="#b4ff43"/><rect x="578.6" y="165.9" width="1.7" height="1.7" fill="#b7ff40"/><rect x="559.9" y="160.4" width="1.7" height="1.7" fill="#b7ff40"/><rect x="578.6" y="168.2" width="1.7" height="1.7" fill="#b7ff40"/><rect x="578.6" y="169.2" width="1.7" height="1.7" fill="#b7ff40"/><rect x="578.4" y="167.7" width="1.7" height="1.7" fill="#baff3c"/><rect x="578.4" y="169.1" width="1.7" height="1.7" fill="#baff3c"/><rect x="578.4" y="169.0" width="1.7" height="1.7" fill="#baff3c"/><rect x="578.3" y="167.2" width="1.7" height="1.7" fill="#beff39"/><rect x="578.3" y="167.1" width="1.7" height="1.7" fill="#beff39"/><rect x="578.2" y="168.5" width="1.7" height="1.7" fill="#beff39"/><rect x="578.2" y="167.5" width="1.7" height="1.7" fill="#c1ff36"/><rect x="578.2" y="166.3" width="1.7" height="1.7" fill="#c1ff36"/><rect x="578.1" y="169.8" width="1.7" height="1.7" fill="#c1ff36"/><rect x="575.5" y="172.6" width="1.7" height="1.7" fill="#c1ff36"/><rect x="578.1" y="169.1" width="1.7" height="1.7" fill="#c1ff36"/><rect x="578.1" y="165.6" width="1.7" height="1.7" fill="#c4ff33"/><rect x="578.1" y="169.2" width="1.7" height="1.7" fill="#c4ff33"/><rect x="578.0" y="167.6" width="1.7" height="1.7" fill="#c4ff33"/><rect x="569.3" y="161.0" width="1.7" height="1.7" fill="#c7ff30"/><rect x="577.9" y="168.3" width="1.7" height="1.7" fill="#c7ff30"/><rect x="577.9" y="166.0" width="1.7" height="1.7" fill="#c7ff30"/><rect x="577.9" y="168.6" width="1.7" height="1.7" fill="#c7ff30"/><rect x="577.9" y="167.1" width="1.7" height="1.7" fill="#c7ff30"/><rect x="577.8" y="167.9" width="1.7" height="1.7" fill="#c7ff30"/><rect x="576.9" y="163.2" width="1.7" height="1.7" fill="#caff2c"/><rect x="577.6" y="163.8" width="1.7" height="1.7" fill="#caff2c"/><rect x="577.8" y="167.7" width="1.7" height="1.7" fill="#caff2c"/><rect x="573.4" y="161.8" width="1.7" height="1.7" fill="#caff2c"/><rect x="573.4" y="161.8" width="1.7" height="1.7" fill="#ceff29"/><rect x="577.6" y="164.7" width="1.7" height="1.7" fill="#ceff29"/><rect x="577.5" y="166.2" width="1.7" height="1.7" fill="#d1ff26"/><rect x="574.4" y="172.7" width="1.7" height="1.7" fill="#d1ff26"/><rect x="577.5" y="168.1" width="1.7" height="1.7" fill="#d1ff26"/><rect x="577.5" y="169.6" width="1.7" height="1.7" fill="#d1ff26"/><rect x="577.4" y="164.4" width="1.7" height="1.7" fill="#d1ff26"/><rect x="569.7" y="161.2" width="1.7" height="1.7" fill="#d1ff26"/><rect x="571.3" y="161.4" width="1.7" height="1.7" fill="#d1ff26"/><rect x="577.3" y="166.4" width="1.7" height="1.7" fill="#d4ff23"/><rect x="577.3" y="165.7" width="1.7" height="1.7" fill="#d4ff23"/><rect x="577.3" y="166.1" width="1.7" height="1.7" fill="#d4ff23"/><rect x="577.3" y="169.1" width="1.7" height="1.7" fill="#d4ff23"/><rect x="577.2" y="170.1" width="1.7" height="1.7" fill="#d4ff23"/><rect x="577.2" y="166.5" width="1.7" height="1.7" fill="#d7ff1f"/><rect x="577.2" y="165.6" width="1.7" height="1.7" fill="#d7ff1f"/><rect x="577.2" y="167.7" width="1.7" height="1.7" fill="#d7ff1f"/><rect x="577.2" y="165.3" width="1.7" height="1.7" fill="#d7ff1f"/><rect x="577.1" y="169.1" width="1.7" height="1.7" fill="#d7ff1f"/><rect x="577.0" y="165.3" width="1.7" height="1.7" fill="#dbff1c"/><rect x="571.0" y="161.4" width="1.7" height="1.7" fill="#dbff1c"/><rect x="576.0" y="163.2" width="1.7" height="1.7" fill="#deff19"/><rect x="576.9" y="169.1" width="1.7" height="1.7" fill="#deff19"/><rect x="564.2" y="160.9" width="1.7" height="1.7" fill="#deff19"/><rect x="576.9" y="169.3" width="1.7" height="1.7" fill="#deff19"/><rect x="560.8" y="160.8" width="1.7" height="1.7" fill="#deff19"/><rect x="576.5" y="163.7" width="1.7" height="1.7" fill="#e1ff16"/><rect x="576.8" y="168.3" width="1.7" height="1.7" fill="#e1ff16"/><rect x="576.7" y="166.8" width="1.7" height="1.7" fill="#e1ff16"/><rect x="575.7" y="163.1" width="1.7" height="1.7" fill="#e1ff16"/><rect x="575.0" y="162.8" width="1.7" height="1.7" fill="#e1ff16"/><rect x="576.7" y="167.1" width="1.7" height="1.7" fill="#e1ff16"/><rect x="576.6" y="164.9" width="1.7" height="1.7" fill="#e4ff13"/><rect x="571.9" y="173.1" width="1.7" height="1.7" fill="#e4ff13"/><rect x="576.6" y="168.3" width="1.7" height="1.7" fill="#e4ff13"/><rect x="576.6" y="167.7" width="1.7" height="1.7" fill="#e4ff13"/><rect x="576.5" y="164.8" width="1.7" height="1.7" fill="#e7ff0f"/><rect x="576.5" y="165.1" width="1.7" height="1.7" fill="#e7ff0f"/><rect x="558.9" y="160.9" width="1.7" height="1.7" fill="#e7ff0f"/><rect x="576.5" y="169.2" width="1.7" height="1.7" fill="#e7ff0f"/><rect x="576.5" y="167.4" width="1.7" height="1.7" fill="#e7ff0f"/><rect x="576.4" y="169.0" width="1.7" height="1.7" fill="#ebff0c"/><rect x="576.3" y="169.2" width="1.7" height="1.7" fill="#ebff0c"/><rect x="570.2" y="161.5" width="1.7" height="1.7" fill="#ebff0c"/><rect x="576.3" y="164.4" width="1.7" height="1.7" fill="#ebff0c"/><rect x="576.3" y="170.3" width="1.7" height="1.7" fill="#eeff09"/><rect x="576.2" y="166.0" width="1.7" height="1.7" fill="#eeff09"/><rect x="576.2" y="165.5" width="1.7" height="1.7" fill="#eeff09"/><rect x="576.2" y="165.9" width="1.7" height="1.7" fill="#eeff09"/><rect x="576.2" y="166.6" width="1.7" height="1.7" fill="#eeff09"/><rect x="576.2" y="164.3" width="1.7" height="1.7" fill="#eeff09"/><rect x="575.9" y="163.8" width="1.7" height="1.7" fill="#eeff09"/><rect x="576.1" y="167.7" width="1.7" height="1.7" fill="#f1fc06"/><rect x="576.1" y="164.7" width="1.7" height="1.7" fill="#f1fc06"/><rect x="576.1" y="169.1" width="1.7" height="1.7" fill="#f1fc06"/><rect x="576.0" y="169.2" width="1.7" height="1.7" fill="#f4f802"/><rect x="574.6" y="163.0" width="1.7" height="1.7" fill="#f4f802"/><rect x="575.9" y="164.3" width="1.7" height="1.7" fill="#f4f802"/><rect x="575.9" y="167.0" width="1.7" height="1.7" fill="#f4f802"/><rect x="575.9" y="166.3" width="1.7" height="1.7" fill="#f4f802"/><rect x="575.8" y="170.8" width="1.7" height="1.7" fill="#f8f500"/><rect x="562.5" y="161.1" width="1.7" height="1.7" fill="#f8f500"/><rect x="575.8" y="168.1" width="1.7" height="1.7" fill="#f8f500"/><rect x="575.7" y="165.8" width="1.7" height="1.7" fill="#f8f500"/><rect x="575.7" y="166.9" width="1.7" height="1.7" fill="#fbf100"/><rect x="575.0" y="171.4" width="1.7" height="1.7" fill="#fbf100"/><rect x="575.6" y="169.2" width="1.7" height="1.7" fill="#fbf100"/><rect x="575.6" y="167.8" width="1.7" height="1.7" fill="#fbf100"/><rect x="575.5" y="169.1" width="1.7" height="1.7" fill="#feed00"/><rect x="570.1" y="173.1" width="1.7" height="1.7" fill="#feed00"/><rect x="575.5" y="169.2" width="1.7" height="1.7" fill="#feed00"/><rect x="575.5" y="168.9" width="1.7" height="1.7" fill="#feed00"/><rect x="569.6" y="161.7" width="1.7" height="1.7" fill="#ffea00"/><rect x="574.5" y="163.3" width="1.7" height="1.7" fill="#ffea00"/><rect x="575.4" y="167.0" width="1.7" height="1.7" fill="#ffea00"/><rect x="572.0" y="162.2" width="1.7" height="1.7" fill="#ffea00"/><rect x="575.3" y="169.1" width="1.7" height="1.7" fill="#ffea00"/><rect x="575.3" y="169.2" width="1.7" height="1.7" fill="#ffea00"/><rect x="575.3" y="166.5" width="1.7" height="1.7" fill="#ffe600"/><rect x="575.3" y="165.5" width="1.7" height="1.7" fill="#ffe600"/><rect x="573.4" y="172.2" width="1.7" height="1.7" fill="#ffe600"/><rect x="575.2" y="164.5" width="1.7" height="1.7" fill="#ffe600"/><rect x="564.4" y="173.6" width="1.7" height="1.7" fill="#ffe600"/><rect x="575.2" y="169.2" width="1.7" height="1.7" fill="#ffe600"/><rect x="575.2" y="169.1" width="1.7" height="1.7" fill="#ffe600"/><rect x="575.2" y="164.9" width="1.7" height="1.7" fill="#ffe600"/><rect x="575.1" y="166.6" width="1.7" height="1.7" fill="#ffe200"/><rect x="575.1" y="168.6" width="1.7" height="1.7" fill="#ffe200"/><rect x="575.0" y="169.0" width="1.7" height="1.7" fill="#ffe200"/><rect x="573.9" y="163.1" width="1.7" height="1.7" fill="#ffe200"/><rect x="575.0" y="165.6" width="1.7" height="1.7" fill="#ffde00"/><rect x="575.0" y="167.3" width="1.7" height="1.7" fill="#ffde00"/><rect x="574.9" y="164.1" width="1.7" height="1.7" fill="#ffde00"/><rect x="574.9" y="164.7" width="1.7" height="1.7" fill="#ffde00"/><rect x="574.9" y="169.2" width="1.7" height="1.7" fill="#ffde00"/><rect x="570.6" y="172.9" width="1.7" height="1.7" fill="#ffde00"/><rect x="573.1" y="162.9" width="1.7" height="1.7" fill="#ffdb00"/><rect x="569.7" y="162.0" width="1.7" height="1.7" fill="#ffdb00"/><rect x="574.6" y="163.9" width="1.7" height="1.7" fill="#ffdb00"/><rect x="574.7" y="167.0" width="1.7" height="1.7" fill="#ffd700"/><rect x="574.2" y="163.6" width="1.7" height="1.7" fill="#ffd700"/><rect x="574.7" y="169.3" width="1.7" height="1.7" fill="#ffd700"/><rect x="574.6" y="168.3" width="1.7" height="1.7" fill="#ffd700"/><rect x="574.5" y="169.0" width="1.7" height="1.7" fill="#ffd300"/><rect x="574.5" y="165.6" width="1.7" height="1.7" fill="#ffd300"/><rect x="574.5" y="164.8" width="1.7" height="1.7" fill="#ffd300"/><rect x="574.2" y="163.7" width="1.7" height="1.7" fill="#ffd300"/><rect x="574.5" y="164.9" width="1.7" height="1.7" fill="#ffd300"/><rect x="574.4" y="169.2" width="1.7" height="1.7" fill="#ffd000"/><rect x="574.4" y="167.6" width="1.7" height="1.7" fill="#ffd000"/><rect x="574.4" y="165.1" width="1.7" height="1.7" fill="#ffd000"/><rect x="574.3" y="168.8" width="1.7" height="1.7" fill="#ffcc00"/><rect x="574.2" y="164.9" width="1.7" height="1.7" fill="#ffcc00"/><rect x="554.8" y="173.6" width="1.7" height="1.7" fill="#ffcc00"/><rect x="574.2" y="167.4" width="1.7" height="1.7" fill="#ffcc00"/><rect x="574.1" y="166.9" width="1.7" height="1.7" fill="#ffc800"/><rect x="573.9" y="164.0" width="1.7" height="1.7" fill="#ffc400"/><rect x="574.0" y="164.9" width="1.7" height="1.7" fill="#ffc400"/><rect x="573.8" y="170.6" width="1.7" height="1.7" fill="#ffc100"/><rect x="568.2" y="162.1" width="1.7" height="1.7" fill="#ffc100"/><rect x="573.2" y="163.5" width="1.7" height="1.7" fill="#ffc100"/><rect x="573.8" y="166.5" width="1.7" height="1.7" fill="#ffbd00"/><rect x="572.4" y="171.8" width="1.7" height="1.7" fill="#ffbd00"/><rect x="573.7" y="169.0" width="1.7" height="1.7" fill="#ffbd00"/><rect x="573.7" y="169.4" width="1.7" height="1.7" fill="#ffbd00"/><rect x="573.5" y="169.2" width="1.7" height="1.7" fill="#ffb900"/><rect x="573.5" y="165.6" width="1.7" height="1.7" fill="#ffb900"/><rect x="568.4" y="162.2" width="1.7" height="1.7" fill="#ffb900"/><rect x="573.4" y="164.0" width="1.7" height="1.7" fill="#ffb900"/><rect x="572.4" y="163.2" width="1.7" height="1.7" fill="#ffb600"/><rect x="556.7" y="173.3" width="1.7" height="1.7" fill="#ffb600"/><rect x="573.4" y="168.8" width="1.7" height="1.7" fill="#ffb600"/><rect x="558.7" y="161.7" width="1.7" height="1.7" fill="#ffb200"/><rect x="573.2" y="169.2" width="1.7" height="1.7" fill="#ffb200"/><rect x="573.2" y="165.7" width="1.7" height="1.7" fill="#ffae00"/><rect x="558.8" y="161.7" width="1.7" height="1.7" fill="#ffae00"/><rect x="573.1" y="167.0" width="1.7" height="1.7" fill="#ffae00"/><rect x="554.2" y="161.6" width="1.7" height="1.7" fill="#ffab00"/><rect x="572.8" y="171.0" width="1.7" height="1.7" fill="#ffab00"/><rect x="560.0" y="173.1" width="1.7" height="1.7" fill="#ffab00"/><rect x="572.9" y="168.4" width="1.7" height="1.7" fill="#ffa700"/><rect x="570.8" y="162.8" width="1.7" height="1.7" fill="#ffa700"/><rect x="572.8" y="167.4" width="1.7" height="1.7" fill="#ffa700"/><rect x="571.3" y="171.9" width="1.7" height="1.7" fill="#ffa700"/><rect x="572.7" y="168.5" width="1.7" height="1.7" fill="#ffa300"/><rect x="572.7" y="169.3" width="1.7" height="1.7" fill="#ffa300"/><rect x="570.3" y="172.1" width="1.7" height="1.7" fill="#ffa300"/><rect x="558.1" y="161.8" width="1.7" height="1.7" fill="#ff9f00"/><rect x="570.2" y="162.8" width="1.7" height="1.7" fill="#ff9f00"/><rect x="568.3" y="162.5" width="1.7" height="1.7" fill="#ff9f00"/><rect x="572.5" y="169.8" width="1.7" height="1.7" fill="#ff9c00"/><rect x="572.4" y="169.3" width="1.7" height="1.7" fill="#ff9c00"/><rect x="572.1" y="163.8" width="1.7" height="1.7" fill="#ff9c00"/><rect x="572.3" y="167.4" width="1.7" height="1.7" fill="#ff9800"/><rect x="571.8" y="171.3" width="1.7" height="1.7" fill="#ff9800"/><rect x="572.3" y="164.3" width="1.7" height="1.7" fill="#ff9800"/><rect x="564.2" y="162.1" width="1.7" height="1.7" fill="#ff9800"/><rect x="570.0" y="162.9" width="1.7" height="1.7" fill="#ff9800"/><rect x="572.2" y="169.2" width="1.7" height="1.7" fill="#ff9800"/><rect x="572.2" y="166.2" width="1.7" height="1.7" fill="#ff9400"/><rect x="572.2" y="164.7" width="1.7" height="1.7" fill="#ff9400"/><rect x="572.1" y="165.0" width="1.7" height="1.7" fill="#ff9400"/><rect x="572.1" y="165.6" width="1.7" height="1.7" fill="#ff9400"/><rect x="572.1" y="165.1" width="1.7" height="1.7" fill="#ff9400"/><rect x="572.1" y="168.9" width="1.7" height="1.7" fill="#ff9100"/><rect x="572.1" y="166.9" width="1.7" height="1.7" fill="#ff9100"/><rect x="572.0" y="169.2" width="1.7" height="1.7" fill="#ff9100"/><rect x="565.6" y="162.3" width="1.7" height="1.7" fill="#ff9100"/><rect x="571.9" y="168.2" width="1.7" height="1.7" fill="#ff8d00"/><rect x="571.7" y="170.9" width="1.7" height="1.7" fill="#ff8d00"/><rect x="568.5" y="172.0" width="1.7" height="1.7" fill="#ff8d00"/><rect x="571.8" y="168.8" width="1.7" height="1.7" fill="#ff8900"/><rect x="571.7" y="166.1" width="1.7" height="1.7" fill="#ff8900"/><rect x="571.7" y="165.6" width="1.7" height="1.7" fill="#ff8900"/><rect x="571.6" y="165.7" width="1.7" height="1.7" fill="#ff8600"/><rect x="571.6" y="166.5" width="1.7" height="1.7" fill="#ff8600"/><rect x="571.6" y="166.4" width="1.7" height="1.7" fill="#ff8600"/><rect x="570.3" y="171.4" width="1.7" height="1.7" fill="#ff8200"/><rect x="570.0" y="171.5" width="1.7" height="1.7" fill="#ff8200"/><rect x="571.4" y="167.6" width="1.7" height="1.7" fill="#ff7e00"/><rect x="557.4" y="162.2" width="1.7" height="1.7" fill="#ff7e00"/><rect x="571.3" y="169.1" width="1.7" height="1.7" fill="#ff7e00"/><rect x="561.5" y="172.5" width="1.7" height="1.7" fill="#ff7a00"/><rect x="571.2" y="164.1" width="1.7" height="1.7" fill="#ff7a00"/><rect x="571.2" y="169.1" width="1.7" height="1.7" fill="#ff7a00"/><rect x="566.1" y="172.2" width="1.7" height="1.7" fill="#ff7a00"/><rect x="571.2" y="169.6" width="1.7" height="1.7" fill="#ff7a00"/><rect x="571.2" y="168.7" width="1.7" height="1.7" fill="#ff7a00"/><rect x="571.1" y="164.5" width="1.7" height="1.7" fill="#ff7a00"/><rect x="569.7" y="163.5" width="1.7" height="1.7" fill="#ff7a00"/><rect x="570.9" y="164.7" width="1.7" height="1.7" fill="#ff7700"/><rect x="570.8" y="168.5" width="1.7" height="1.7" fill="#ff7700"/><rect x="570.8" y="166.3" width="1.7" height="1.7" fill="#ff7700"/><rect x="570.8" y="167.2" width="1.7" height="1.7" fill="#ff7700"/><rect x="570.7" y="164.8" width="1.7" height="1.7" fill="#ff7300"/><rect x="570.6" y="164.9" width="1.7" height="1.7" fill="#ff7300"/><rect x="570.6" y="168.3" width="1.7" height="1.7" fill="#ff7300"/><rect x="570.1" y="163.9" width="1.7" height="1.7" fill="#ff7300"/><rect x="570.6" y="166.1" width="1.7" height="1.7" fill="#ff7300"/><rect x="570.6" y="168.7" width="1.7" height="1.7" fill="#ff7300"/><rect x="570.5" y="169.3" width="1.7" height="1.7" fill="#ff7300"/><rect x="570.5" y="169.0" width="1.7" height="1.7" fill="#ff7300"/><rect x="566.2" y="172.1" width="1.7" height="1.7" fill="#ff7300"/><rect x="570.5" y="167.0" width="1.7" height="1.7" fill="#ff6f00"/><rect x="562.0" y="172.4" width="1.7" height="1.7" fill="#ff6f00"/><rect x="569.8" y="163.9" width="1.7" height="1.7" fill="#ff6f00"/><rect x="570.3" y="167.0" width="1.7" height="1.7" fill="#ff6f00"/><rect x="570.2" y="168.8" width="1.7" height="1.7" fill="#ff6f00"/><rect x="570.2" y="167.4" width="1.7" height="1.7" fill="#ff6f00"/><rect x="570.1" y="167.0" width="1.7" height="1.7" fill="#ff6c00"/><rect x="570.1" y="165.5" width="1.7" height="1.7" fill="#ff6c00"/><rect x="570.0" y="166.3" width="1.7" height="1.7" fill="#ff6c00"/><rect x="570.0" y="166.8" width="1.7" height="1.7" fill="#ff6c00"/><rect x="570.0" y="166.6" width="1.7" height="1.7" fill="#ff6c00"/><rect x="570.0" y="166.4" width="1.7" height="1.7" fill="#ff6c00"/><rect x="569.9" y="164.4" width="1.7" height="1.7" fill="#ff6c00"/><rect x="569.9" y="164.8" width="1.7" height="1.7" fill="#ff6c00"/><rect x="569.9" y="164.7" width="1.7" height="1.7" fill="#ff6800"/><rect x="557.6" y="162.4" width="1.7" height="1.7" fill="#ff6800"/><rect x="569.8" y="168.0" width="1.7" height="1.7" fill="#ff6800"/><rect x="569.7" y="169.1" width="1.7" height="1.7" fill="#ff6800"/><rect x="569.7" y="164.8" width="1.7" height="1.7" fill="#ff6800"/><rect x="569.7" y="169.1" width="1.7" height="1.7" fill="#ff6800"/><rect x="569.6" y="166.1" width="1.7" height="1.7" fill="#ff6800"/><rect x="569.6" y="164.5" width="1.7" height="1.7" fill="#ff6400"/><rect x="564.4" y="172.1" width="1.7" height="1.7" fill="#ff6400"/><rect x="569.5" y="168.9" width="1.7" height="1.7" fill="#ff6400"/><rect x="569.5" y="168.7" width="1.7" height="1.7" fill="#ff6400"/><rect x="569.4" y="167.2" width="1.7" height="1.7" fill="#ff6400"/><rect x="569.3" y="164.2" width="1.7" height="1.7" fill="#ff6400"/><rect x="569.4" y="169.0" width="1.7" height="1.7" fill="#ff6400"/><rect x="569.4" y="169.3" width="1.7" height="1.7" fill="#ff6400"/><rect x="569.3" y="169.2" width="1.7" height="1.7" fill="#ff6000"/><rect x="569.2" y="167.7" width="1.7" height="1.7" fill="#ff6000"/><rect x="569.2" y="166.6" width="1.7" height="1.7" fill="#ff6000"/><rect x="569.1" y="165.1" width="1.7" height="1.7" fill="#ff6000"/><rect x="569.1" y="164.7" width="1.7" height="1.7" fill="#ff6000"/><rect x="569.1" y="165.2" width="1.7" height="1.7" fill="#ff6000"/><rect x="569.1" y="165.2" width="1.7" height="1.7" fill="#ff6000"/><rect x="569.0" y="169.2" width="1.7" height="1.7" fill="#ff5d00"/><rect x="569.0" y="168.3" width="1.7" height="1.7" fill="#ff5d00"/><rect x="554.4" y="162.4" width="1.7" height="1.7" fill="#ff5d00"/><rect x="563.2" y="162.8" width="1.7" height="1.7" fill="#ff5d00"/><rect x="568.9" y="169.2" width="1.7" height="1.7" fill="#ff5d00"/><rect x="568.9" y="169.7" width="1.7" height="1.7" fill="#ff5d00"/><rect x="568.9" y="167.4" width="1.7" height="1.7" fill="#ff5d00"/><rect x="568.2" y="163.8" width="1.7" height="1.7" fill="#ff5d00"/><rect x="568.8" y="170.2" width="1.7" height="1.7" fill="#ff5d00"/><rect x="568.8" y="164.7" width="1.7" height="1.7" fill="#ff5d00"/><rect x="568.7" y="167.0" width="1.7" height="1.7" fill="#ff5d00"/><rect x="568.7" y="164.9" width="1.7" height="1.7" fill="#ff5900"/><rect x="568.7" y="167.2" width="1.7" height="1.7" fill="#ff5900"/><rect x="568.6" y="166.0" width="1.7" height="1.7" fill="#ff5900"/><rect x="568.4" y="166.2" width="1.7" height="1.7" fill="#ff5900"/><rect x="568.4" y="164.6" width="1.7" height="1.7" fill="#ff5500"/><rect x="568.4" y="170.1" width="1.7" height="1.7" fill="#ff5500"/><rect x="568.3" y="168.1" width="1.7" height="1.7" fill="#ff5500"/><rect x="568.2" y="169.2" width="1.7" height="1.7" fill="#ff5500"/><rect x="568.2" y="167.3" width="1.7" height="1.7" fill="#ff5500"/><rect x="568.2" y="165.3" width="1.7" height="1.7" fill="#ff5500"/><rect x="568.2" y="168.6" width="1.7" height="1.7" fill="#ff5500"/><rect x="565.6" y="163.2" width="1.7" height="1.7" fill="#ff5500"/><rect x="556.4" y="162.6" width="1.7" height="1.7" fill="#ff5500"/><rect x="568.2" y="165.6" width="1.7" height="1.7" fill="#ff5500"/><rect x="568.0" y="167.9" width="1.7" height="1.7" fill="#ff5200"/><rect x="568.0" y="168.5" width="1.7" height="1.7" fill="#ff5200"/><rect x="568.0" y="169.2" width="1.7" height="1.7" fill="#ff5200"/><rect x="567.9" y="168.3" width="1.7" height="1.7" fill="#ff5200"/><rect x="567.8" y="165.2" width="1.7" height="1.7" fill="#ff4e00"/><rect x="566.7" y="163.6" width="1.7" height="1.7" fill="#ff4e00"/><rect x="563.3" y="171.8" width="1.7" height="1.7" fill="#ff4e00"/><rect x="567.7" y="170.6" width="1.7" height="1.7" fill="#ff4e00"/><rect x="567.8" y="169.0" width="1.7" height="1.7" fill="#ff4e00"/><rect x="566.4" y="163.6" width="1.7" height="1.7" fill="#ff4e00"/><rect x="567.3" y="170.9" width="1.7" height="1.7" fill="#ff4e00"/><rect x="567.6" y="169.3" width="1.7" height="1.7" fill="#ff4e00"/><rect x="567.5" y="165.0" width="1.7" height="1.7" fill="#ff4e00"/><rect x="567.5" y="168.1" width="1.7" height="1.7" fill="#ff4a00"/><rect x="567.5" y="168.0" width="1.7" height="1.7" fill="#ff4a00"/><rect x="567.5" y="167.3" width="1.7" height="1.7" fill="#ff4a00"/><rect x="561.0" y="163.0" width="1.7" height="1.7" fill="#ff4a00"/><rect x="567.5" y="169.6" width="1.7" height="1.7" fill="#ff4a00"/><rect x="559.3" y="162.9" width="1.7" height="1.7" fill="#ff4a00"/><rect x="567.4" y="167.3" width="1.7" height="1.7" fill="#ff4a00"/><rect x="567.4" y="168.2" width="1.7" height="1.7" fill="#ff4a00"/><rect x="567.3" y="166.0" width="1.7" height="1.7" fill="#ff4a00"/><rect x="567.3" y="165.9" width="1.7" height="1.7" fill="#ff4a00"/><rect x="567.2" y="165.9" width="1.7" height="1.7" fill="#ff4700"/><rect x="567.1" y="170.6" width="1.7" height="1.7" fill="#ff4700"/><rect x="563.7" y="163.3" width="1.7" height="1.7" fill="#ff4700"/><rect x="567.0" y="167.8" width="1.7" height="1.7" fill="#ff4700"/><rect x="554.7" y="162.7" width="1.7" height="1.7" fill="#ff4700"/><rect x="567.0" y="168.7" width="1.7" height="1.7" fill="#ff4700"/><rect x="567.0" y="168.3" width="1.7" height="1.7" fill="#ff4700"/><rect x="567.0" y="168.2" width="1.7" height="1.7" fill="#ff4700"/><rect x="566.7" y="167.3" width="1.7" height="1.7" fill="#ff4300"/><rect x="566.6" y="164.2" width="1.7" height="1.7" fill="#ff4300"/><rect x="566.7" y="168.9" width="1.7" height="1.7" fill="#ff4300"/><rect x="566.7" y="168.5" width="1.7" height="1.7" fill="#ff3f00"/><rect x="566.6" y="166.6" width="1.7" height="1.7" fill="#ff3f00"/><rect x="553.4" y="162.6" width="1.7" height="1.7" fill="#ff3f00"/><rect x="566.6" y="169.0" width="1.7" height="1.7" fill="#ff3f00"/><rect x="566.6" y="164.9" width="1.7" height="1.7" fill="#ff3f00"/><rect x="566.6" y="168.3" width="1.7" height="1.7" fill="#ff3f00"/><rect x="561.5" y="171.6" width="1.7" height="1.7" fill="#ff3f00"/><rect x="566.4" y="169.8" width="1.7" height="1.7" fill="#ff3f00"/><rect x="566.4" y="167.9" width="1.7" height="1.7" fill="#ff3f00"/><rect x="566.4" y="169.2" width="1.7" height="1.7" fill="#ff3f00"/><rect x="566.4" y="169.3" width="1.7" height="1.7" fill="#ff3f00"/><rect x="563.3" y="163.4" width="1.7" height="1.7" fill="#ff3f00"/><rect x="565.8" y="163.9" width="1.7" height="1.7" fill="#ff3b00"/><rect x="566.3" y="169.6" width="1.7" height="1.7" fill="#ff3b00"/><rect x="559.9" y="163.2" width="1.7" height="1.7" fill="#ff3b00"/><rect x="566.3" y="169.6" width="1.7" height="1.7" fill="#ff3b00"/><rect x="566.3" y="167.9" width="1.7" height="1.7" fill="#ff3b00"/><rect x="563.9" y="163.6" width="1.7" height="1.7" fill="#ff3b00"/><rect x="566.1" y="165.7" width="1.7" height="1.7" fill="#ff3b00"/><rect x="565.8" y="164.1" width="1.7" height="1.7" fill="#ff3b00"/><rect x="566.0" y="165.7" width="1.7" height="1.7" fill="#ff3800"/><rect x="552.6" y="162.7" width="1.7" height="1.7" fill="#ff3800"/><rect x="565.9" y="166.4" width="1.7" height="1.7" fill="#ff3800"/><rect x="565.9" y="169.2" width="1.7" height="1.7" fill="#ff3800"/><rect x="565.9" y="168.5" width="1.7" height="1.7" fill="#ff3800"/><rect x="554.5" y="172.0" width="1.7" height="1.7" fill="#ff3800"/><rect x="565.8" y="170.5" width="1.7" height="1.7" fill="#ff3800"/><rect x="565.7" y="167.0" width="1.7" height="1.7" fill="#ff3400"/><rect x="564.9" y="163.8" width="1.7" height="1.7" fill="#ff3400"/><rect x="565.7" y="169.5" width="1.7" height="1.7" fill="#ff3400"/><rect x="565.7" y="167.7" width="1.7" height="1.7" fill="#ff3400"/><rect x="565.7" y="170.2" width="1.7" height="1.7" fill="#ff3400"/><rect x="565.1" y="163.9" width="1.7" height="1.7" fill="#ff3400"/><rect x="565.6" y="165.8" width="1.7" height="1.7" fill="#ff3400"/><rect x="562.8" y="171.3" width="1.7" height="1.7" fill="#ff3400"/><rect x="565.2" y="170.9" width="1.7" height="1.7" fill="#ff3000"/><rect x="554.0" y="162.9" width="1.7" height="1.7" fill="#ff3000"/><rect x="565.5" y="169.3" width="1.7" height="1.7" fill="#ff3000"/><rect x="564.7" y="171.0" width="1.7" height="1.7" fill="#ff3000"/><rect x="565.3" y="169.3" width="1.7" height="1.7" fill="#ff3000"/><rect x="565.3" y="170.1" width="1.7" height="1.7" fill="#ff3000"/><rect x="565.3" y="169.1" width="1.7" height="1.7" fill="#ff3000"/><rect x="565.2" y="167.0" width="1.7" height="1.7" fill="#ff3000"/><rect x="565.0" y="167.9" width="1.7" height="1.7" fill="#ff2d00"/><rect x="564.6" y="164.2" width="1.7" height="1.7" fill="#ff2d00"/><rect x="564.9" y="167.2" width="1.7" height="1.7" fill="#ff2d00"/><rect x="564.7" y="164.4" width="1.7" height="1.7" fill="#ff2d00"/><rect x="564.8" y="167.0" width="1.7" height="1.7" fill="#ff2d00"/><rect x="564.7" y="169.2" width="1.7" height="1.7" fill="#ff2d00"/><rect x="564.7" y="169.3" width="1.7" height="1.7" fill="#ff2d00"/><rect x="561.9" y="163.8" width="1.7" height="1.7" fill="#ff2d00"/><rect x="564.5" y="166.0" width="1.7" height="1.7" fill="#ff2d00"/><rect x="564.5" y="169.0" width="1.7" height="1.7" fill="#ff2d00"/><rect x="564.5" y="165.6" width="1.7" height="1.7" fill="#ff2d00"/><rect x="564.3" y="170.6" width="1.7" height="1.7" fill="#ff2d00"/><rect x="564.4" y="164.8" width="1.7" height="1.7" fill="#ff2d00"/><rect x="564.3" y="168.9" width="1.7" height="1.7" fill="#ff2900"/><rect x="564.3" y="168.4" width="1.7" height="1.7" fill="#ff2900"/><rect x="564.2" y="166.3" width="1.7" height="1.7" fill="#ff2900"/><rect x="564.2" y="168.7" width="1.7" height="1.7" fill="#ff2900"/><rect x="564.1" y="166.0" width="1.7" height="1.7" fill="#ff2900"/><rect x="564.1" y="169.3" width="1.7" height="1.7" fill="#ff2900"/><rect x="564.1" y="168.2" width="1.7" height="1.7" fill="#ff2900"/><rect x="564.1" y="168.4" width="1.7" height="1.7" fill="#ff2900"/><rect x="563.9" y="170.6" width="1.7" height="1.7" fill="#ff2900"/><rect x="561.7" y="171.1" width="1.7" height="1.7" fill="#ff2900"/><rect x="563.9" y="167.5" width="1.7" height="1.7" fill="#ff2900"/><rect x="563.8" y="167.7" width="1.7" height="1.7" fill="#ff2900"/><rect x="563.7" y="167.5" width="1.7" height="1.7" fill="#ff2900"/><rect x="554.8" y="163.2" width="1.7" height="1.7" fill="#ff2900"/><rect x="563.6" y="169.2" width="1.7" height="1.7" fill="#ff2900"/><rect x="563.6" y="168.7" width="1.7" height="1.7" fill="#ff2900"/><rect x="563.5" y="168.3" width="1.7" height="1.7" fill="#ff2900"/><rect x="555.9" y="163.3" width="1.7" height="1.7" fill="#ff2500"/><rect x="552.3" y="172.0" width="1.7" height="1.7" fill="#ff2500"/><rect x="563.3" y="165.0" width="1.7" height="1.7" fill="#ff2500"/><rect x="563.0" y="167.9" width="1.7" height="1.7" fill="#ff2500"/><rect x="562.7" y="164.3" width="1.7" height="1.7" fill="#ff2500"/><rect x="562.7" y="164.4" width="1.7" height="1.7" fill="#ff2500"/><rect x="554.1" y="163.1" width="1.7" height="1.7" fill="#ff2500"/><rect x="562.5" y="169.9" width="1.7" height="1.7" fill="#ff2500"/><rect x="562.5" y="168.8" width="1.7" height="1.7" fill="#ff2500"/><rect x="562.5" y="169.3" width="1.7" height="1.7" fill="#ff2500"/><rect x="562.5" y="169.7" width="1.7" height="1.7" fill="#ff2500"/><rect x="562.5" y="168.3" width="1.7" height="1.7" fill="#ff2500"/><rect x="562.5" y="166.1" width="1.7" height="1.7" fill="#ff2500"/><rect x="562.4" y="165.9" width="1.7" height="1.7" fill="#ff2500"/><rect x="562.4" y="169.2" width="1.7" height="1.7" fill="#ff2200"/><rect x="562.3" y="165.4" width="1.7" height="1.7" fill="#ff2200"/><rect x="562.3" y="167.4" width="1.7" height="1.7" fill="#ff2200"/><rect x="561.1" y="164.0" width="1.7" height="1.7" fill="#ff2200"/><rect x="562.2" y="164.4" width="1.7" height="1.7" fill="#ff2200"/><rect x="561.0" y="170.9" width="1.7" height="1.7" fill="#ff2200"/><rect x="562.2" y="166.2" width="1.7" height="1.7" fill="#ff2200"/><rect x="562.2" y="168.0" width="1.7" height="1.7" fill="#ff2200"/><rect x="562.1" y="165.3" width="1.7" height="1.7" fill="#ff2200"/><rect x="562.1" y="166.7" width="1.7" height="1.7" fill="#ff2200"/><rect x="561.9" y="169.2" width="1.7" height="1.7" fill="#ff2200"/><rect x="561.9" y="167.5" width="1.7" height="1.7" fill="#ff2200"/><rect x="561.9" y="168.1" width="1.7" height="1.7" fill="#ff2200"/><rect x="553.7" y="163.1" width="1.7" height="1.7" fill="#ff2200"/><rect x="561.7" y="167.5" width="1.7" height="1.7" fill="#ff2200"/><rect x="560.5" y="164.0" width="1.7" height="1.7" fill="#ff2200"/><rect x="561.7" y="168.9" width="1.7" height="1.7" fill="#ff2200"/><rect x="561.6" y="166.3" width="1.7" height="1.7" fill="#ff2200"/><rect x="561.4" y="169.1" width="1.7" height="1.7" fill="#ff2200"/><rect x="560.8" y="170.8" width="1.7" height="1.7" fill="#ff1e00"/><rect x="561.3" y="169.3" width="1.7" height="1.7" fill="#ff1e00"/><rect x="561.2" y="168.3" width="1.7" height="1.7" fill="#ff1e00"/><rect x="561.2" y="168.7" width="1.7" height="1.7" fill="#ff1e00"/><rect x="561.1" y="164.6" width="1.7" height="1.7" fill="#ff1e00"/><rect x="561.1" y="167.9" width="1.7" height="1.7" fill="#ff1e00"/><rect x="558.6" y="163.8" width="1.7" height="1.7" fill="#ff1e00"/><rect x="561.0" y="167.2" width="1.7" height="1.7" fill="#ff1e00"/><rect x="560.6" y="164.2" width="1.7" height="1.7" fill="#ff1e00"/><rect x="561.0" y="167.3" width="1.7" height="1.7" fill="#ff1e00"/><rect x="560.9" y="169.0" width="1.7" height="1.7" fill="#ff1e00"/><rect x="560.9" y="165.0" width="1.7" height="1.7" fill="#ff1e00"/><rect x="560.9" y="165.5" width="1.7" height="1.7" fill="#ff1e00"/><rect x="560.9" y="170.0" width="1.7" height="1.7" fill="#ff1e00"/><rect x="560.8" y="166.6" width="1.7" height="1.7" fill="#ff1e00"/><rect x="560.7" y="166.7" width="1.7" height="1.7" fill="#ff1e00"/><rect x="557.8" y="163.8" width="1.7" height="1.7" fill="#ff1e00"/><rect x="560.4" y="164.3" width="1.7" height="1.7" fill="#ff1e00"/><rect x="560.6" y="169.7" width="1.7" height="1.7" fill="#ff1e00"/><rect x="559.7" y="164.1" width="1.7" height="1.7" fill="#ff1e00"/><rect x="559.4" y="164.0" width="1.7" height="1.7" fill="#ff1a00"/><rect x="560.3" y="165.0" width="1.7" height="1.7" fill="#ff1a00"/><rect x="560.3" y="168.6" width="1.7" height="1.7" fill="#ff1a00"/><rect x="560.0" y="170.5" width="1.7" height="1.7" fill="#ff1a00"/><rect x="560.0" y="168.4" width="1.7" height="1.7" fill="#ff1a00"/><rect x="559.9" y="168.1" width="1.7" height="1.7" fill="#ff1a00"/><rect x="559.9" y="165.9" width="1.7" height="1.7" fill="#ff1a00"/><rect x="559.8" y="168.2" width="1.7" height="1.7" fill="#ff1a00"/><rect x="557.7" y="163.9" width="1.7" height="1.7" fill="#ff1a00"/><rect x="559.8" y="168.0" width="1.7" height="1.7" fill="#ff1a00"/><rect x="559.7" y="166.0" width="1.7" height="1.7" fill="#ff1a00"/><rect x="559.7" y="169.0" width="1.7" height="1.7" fill="#ff1a00"/><rect x="559.7" y="166.2" width="1.7" height="1.7" fill="#ff1a00"/><rect x="559.7" y="169.3" width="1.7" height="1.7" fill="#ff1a00"/><rect x="559.6" y="168.6" width="1.7" height="1.7" fill="#ff1a00"/><rect x="559.6" y="165.9" width="1.7" height="1.7" fill="#ff1a00"/><rect x="559.6" y="164.9" width="1.7" height="1.7" fill="#ff1a00"/><rect x="558.1" y="170.9" width="1.7" height="1.7" fill="#ff1a00"/><rect x="559.4" y="168.1" width="1.7" height="1.7" fill="#ff1600"/><rect x="559.4" y="164.5" width="1.7" height="1.7" fill="#ff1600"/><rect x="559.3" y="167.7" width="1.7" height="1.7" fill="#ff1600"/><rect x="559.1" y="169.6" width="1.7" height="1.7" fill="#ff1600"/><rect x="559.1" y="167.9" width="1.7" height="1.7" fill="#ff1600"/><rect x="559.1" y="169.1" width="1.7" height="1.7" fill="#ff1600"/><rect x="556.1" y="163.7" width="1.7" height="1.7" fill="#ff1600"/><rect x="559.0" y="169.5" width="1.7" height="1.7" fill="#ff1600"/><rect x="556.7" y="163.8" width="1.7" height="1.7" fill="#ff1600"/><rect x="559.0" y="170.4" width="1.7" height="1.7" fill="#ff1600"/><rect x="558.9" y="165.2" width="1.7" height="1.7" fill="#ff1600"/><rect x="558.9" y="168.8" width="1.7" height="1.7" fill="#ff1600"/><rect x="558.8" y="166.2" width="1.7" height="1.7" fill="#ff1600"/><rect x="558.8" y="169.1" width="1.7" height="1.7" fill="#ff1600"/><rect x="558.8" y="167.8" width="1.7" height="1.7" fill="#ff1600"/><rect x="558.8" y="168.8" width="1.7" height="1.7" fill="#ff1600"/><rect x="558.7" y="168.7" width="1.7" height="1.7" fill="#ff1600"/><rect x="557.0" y="171.0" width="1.7" height="1.7" fill="#ff1600"/><rect x="558.5" y="168.4" width="1.7" height="1.7" fill="#ff1600"/><rect x="557.5" y="170.8" width="1.7" height="1.7" fill="#ff1300"/><rect x="558.3" y="168.9" width="1.7" height="1.7" fill="#ff1300"/><rect x="558.3" y="167.1" width="1.7" height="1.7" fill="#ff1300"/><rect x="558.2" y="166.9" width="1.7" height="1.7" fill="#ff1300"/><rect x="558.2" y="168.7" width="1.7" height="1.7" fill="#ff1300"/><rect x="558.1" y="166.9" width="1.7" height="1.7" fill="#ff1300"/><rect x="558.0" y="166.6" width="1.7" height="1.7" fill="#ff1300"/><rect x="557.8" y="168.5" width="1.7" height="1.7" fill="#ff1300"/><rect x="557.7" y="167.9" width="1.7" height="1.7" fill="#ff1300"/><rect x="557.7" y="170.1" width="1.7" height="1.7" fill="#ff1300"/><rect x="557.6" y="168.0" width="1.7" height="1.7" fill="#ff1300"/><rect x="557.6" y="166.6" width="1.7" height="1.7" fill="#ff1300"/><rect x="557.6" y="166.8" width="1.7" height="1.7" fill="#ff1300"/><rect x="557.5" y="169.8" width="1.7" height="1.7" fill="#ff1300"/><rect x="557.5" y="166.4" width="1.7" height="1.7" fill="#fa0f00"/><rect x="557.5" y="167.0" width="1.7" height="1.7" fill="#fa0f00"/><rect x="557.4" y="166.5" width="1.7" height="1.7" fill="#fa0f00"/><rect x="557.3" y="169.0" width="1.7" height="1.7" fill="#fa0f00"/><rect x="557.2" y="167.2" width="1.7" height="1.7" fill="#fa0f00"/><rect x="557.1" y="164.9" width="1.7" height="1.7" fill="#fa0f00"/><rect x="557.0" y="166.2" width="1.7" height="1.7" fill="#fa0f00"/><rect x="557.0" y="168.1" width="1.7" height="1.7" fill="#fa0f00"/><rect x="552.2" y="163.2" width="1.7" height="1.7" fill="#fa0f00"/><rect x="556.8" y="167.6" width="1.7" height="1.7" fill="#fa0f00"/><rect x="556.7" y="168.1" width="1.7" height="1.7" fill="#fa0f00"/><rect x="556.6" y="164.8" width="1.7" height="1.7" fill="#fa0f00"/><rect x="556.6" y="165.8" width="1.7" height="1.7" fill="#fa0f00"/><rect x="556.5" y="168.8" width="1.7" height="1.7" fill="#fa0f00"/><rect x="556.5" y="169.6" width="1.7" height="1.7" fill="#f60b00"/><rect x="556.4" y="166.8" width="1.7" height="1.7" fill="#f60b00"/><rect x="556.4" y="170.1" width="1.7" height="1.7" fill="#f60b00"/><rect x="556.4" y="167.8" width="1.7" height="1.7" fill="#f60b00"/><rect x="556.4" y="168.3" width="1.7" height="1.7" fill="#f60b00"/><rect x="556.4" y="166.6" width="1.7" height="1.7" fill="#f60b00"/><rect x="556.3" y="166.6" width="1.7" height="1.7" fill="#f60b00"/><rect x="556.2" y="167.5" width="1.7" height="1.7" fill="#f60b00"/><rect x="556.1" y="167.1" width="1.7" height="1.7" fill="#f60b00"/><rect x="555.8" y="167.8" width="1.7" height="1.7" fill="#f60b00"/><rect x="555.7" y="166.2" width="1.7" height="1.7" fill="#f60b00"/><rect x="555.6" y="164.6" width="1.7" height="1.7" fill="#f60b00"/><rect x="555.6" y="169.6" width="1.7" height="1.7" fill="#f60b00"/><rect x="555.6" y="170.0" width="1.7" height="1.7" fill="#f60b00"/><rect x="555.5" y="170.5" width="1.7" height="1.7" fill="#f10800"/><rect x="555.4" y="166.6" width="1.7" height="1.7" fill="#f10800"/><rect x="555.4" y="170.0" width="1.7" height="1.7" fill="#f10800"/><rect x="555.4" y="165.2" width="1.7" height="1.7" fill="#f10800"/><rect x="555.3" y="166.1" width="1.7" height="1.7" fill="#f10800"/><rect x="555.3" y="168.8" width="1.7" height="1.7" fill="#f10800"/><rect x="555.2" y="167.2" width="1.7" height="1.7" fill="#f10800"/><rect x="551.6" y="163.2" width="1.7" height="1.7" fill="#f10800"/><rect x="555.0" y="164.3" width="1.7" height="1.7" fill="#f10800"/><rect x="551.4" y="171.7" width="1.7" height="1.7" fill="#f10800"/><rect x="554.8" y="166.0" width="1.7" height="1.7" fill="#ed0400"/><rect x="554.8" y="168.1" width="1.7" height="1.7" fill="#ed0400"/><rect x="554.7" y="164.3" width="1.7" height="1.7" fill="#ed0400"/><rect x="554.7" y="165.3" width="1.7" height="1.7" fill="#ed0400"/><rect x="554.7" y="165.8" width="1.7" height="1.7" fill="#ed0400"/><rect x="554.7" y="166.4" width="1.7" height="1.7" fill="#ed0400"/><rect x="554.6" y="168.5" width="1.7" height="1.7" fill="#ed0400"/><rect x="554.5" y="166.9" width="1.7" height="1.7" fill="#e80000"/><rect x="554.4" y="169.6" width="1.7" height="1.7" fill="#e80000"/><rect x="554.4" y="164.7" width="1.7" height="1.7" fill="#e80000"/><rect x="554.3" y="167.3" width="1.7" height="1.7" fill="#e80000"/><rect x="554.2" y="170.6" width="1.7" height="1.7" fill="#e80000"/><rect x="554.3" y="166.6" width="1.7" height="1.7" fill="#e80000"/><rect x="554.2" y="167.7" width="1.7" height="1.7" fill="#e80000"/><rect x="554.1" y="169.6" width="1.7" height="1.7" fill="#e40000"/><rect x="554.1" y="170.1" width="1.7" height="1.7" fill="#e40000"/><rect x="554.0" y="164.7" width="1.7" height="1.7" fill="#e40000"/><rect x="553.8" y="164.6" width="1.7" height="1.7" fill="#e40000"/><rect x="553.8" y="167.2" width="1.7" height="1.7" fill="#e40000"/><rect x="553.7" y="165.8" width="1.7" height="1.7" fill="#df0000"/><rect x="553.7" y="170.4" width="1.7" height="1.7" fill="#df0000"/><rect x="553.6" y="169.6" width="1.7" height="1.7" fill="#df0000"/><rect x="551.8" y="163.6" width="1.7" height="1.7" fill="#df0000"/><rect x="553.5" y="167.4" width="1.7" height="1.7" fill="#df0000"/><rect x="553.4" y="164.9" width="1.7" height="1.7" fill="#df0000"/><rect x="551.7" y="163.7" width="1.7" height="1.7" fill="#da0000"/><rect x="553.2" y="165.4" width="1.7" height="1.7" fill="#da0000"/><rect x="553.2" y="165.3" width="1.7" height="1.7" fill="#da0000"/><rect x="553.1" y="165.9" width="1.7" height="1.7" fill="#da0000"/><rect x="553.0" y="166.6" width="1.7" height="1.7" fill="#d60000"/><rect x="552.9" y="165.6" width="1.7" height="1.7" fill="#d60000"/><rect x="551.3" y="163.7" width="1.7" height="1.7" fill="#d60000"/><rect x="552.8" y="165.7" width="1.7" height="1.7" fill="#d60000"/><rect x="552.6" y="170.5" width="1.7" height="1.7" fill="#d10000"/><rect x="552.5" y="166.7" width="1.7" height="1.7" fill="#d10000"/><rect x="551.9" y="170.9" width="1.7" height="1.7" fill="#d10000"/><rect x="552.4" y="165.6" width="1.7" height="1.7" fill="#d10000"/><rect x="552.3" y="167.9" width="1.7" height="1.7" fill="#d10000"/><rect x="552.0" y="165.1" width="1.7" height="1.7" fill="#cd0000"/><rect x="552.0" y="170.6" width="1.7" height="1.7" fill="#cd0000"/><rect x="551.8" y="170.0" width="1.7" height="1.7" fill="#c80000"/><rect x="551.7" y="170.6" width="1.7" height="1.7" fill="#c80000"/><rect x="551.7" y="169.7" width="1.7" height="1.7" fill="#c80000"/><rect x="551.7" y="164.8" width="1.7" height="1.7" fill="#c80000"/><rect x="551.6" y="164.4" width="1.7" height="1.7" fill="#c80000"/><rect x="551.6" y="168.0" width="1.7" height="1.7" fill="#c80000"/><rect x="551.3" y="168.6" width="1.7" height="1.7" fill="#c40000"/><rect x="551.3" y="168.8" width="1.7" height="1.7" fill="#c40000"/><line x1="552.2" y1="163.5" x2="552.2" y2="172.5" stroke="#700000" stroke-width="0.7"/><line x1="553.9" y1="163.5" x2="553.9" y2="172.5" stroke="#700000" stroke-width="0.7"/><line x1="555.5" y1="163.5" x2="555.5" y2="172.5" stroke="#700000" stroke-width="0.7"/><rect x="551.40" y="15.40" width="101.00" height="168.50" fill="none" stroke="#c8c8c8" stroke-width="1.0" /><text x="574.45" y="191.50" font-size="7" text-anchor="middle" fill="#333" font-weight="normal" >10</text><line x1="574.45" y1="15.40" x2="574.45" y2="16.70" stroke="#999" stroke-width="0.6" /><text x="597.50" y="191.50" font-size="7" text-anchor="middle" fill="#333" font-weight="normal" >20</text><line x1="597.50" y1="15.40" x2="597.50" y2="16.70" stroke="#999" stroke-width="0.6" /><text x="629.00" y="191.50" font-size="7" text-anchor="middle" fill="#333" font-weight="normal" >50</text><line x1="629.00" y1="15.40" x2="629.00" y2="16.70" stroke="#999" stroke-width="0.6" /><text x="652.40" y="191.50" font-size="7" text-anchor="middle" fill="#333" font-weight="normal" >100</text><line x1="652.40" y1="15.40" x2="652.40" y2="16.70" stroke="#999" stroke-width="0.6" /><line x1="597.50" y1="15.40" x2="597.50" y2="183.90" stroke="#4a4a4a" stroke-width="1.1" stroke-dasharray="3.8,2.8"/><line x1="629.00" y1="15.40" x2="629.00" y2="183.90" stroke="#4a4a4a" stroke-width="1.1" stroke-dasharray="3.8,2.8"/><path d="M551.4,163.6 L652.4,163.6 M551.4,171.2 L652.4,171.2" stroke="#333" stroke-width="0.9" stroke-dasharray="3,2" fill="none"/><text x="548.40" y="18.00" font-size="7" text-anchor="end" fill="#333" font-weight="normal" >100</text><text x="548.40" y="94.30" font-size="7" text-anchor="end" fill="#333" font-weight="normal" >50</text><text x="545.00" y="153.20" font-size="7" text-anchor="middle" fill="#222" font-weight="normal" >4</text><text x="546.60" y="171.70" font-size="7" text-anchor="middle" fill="#222" font-weight="normal" >0</text><text x="542.50" y="187.00" font-size="7" text-anchor="middle" fill="#222" font-weight="normal" >-1</text><path d="M546,155.5 L550.5,162.5" stroke="#111" stroke-width="0.8"/><path d="M551.3,163.8 L547.6,161.4 L550.3,159.9 Z" fill="#111"/><path d="M546,181.5 L550.5,174" stroke="#111" stroke-width="0.8"/><path d="M551.3,172.3 L547.6,174.9 L550.3,176.4 Z" fill="#111"/><text x="573.00" y="94.10" font-size="8.6" text-anchor="middle" fill="#e8208c" font-weight="bold" >G</text><text x="612.30" y="94.10" font-size="8.6" text-anchor="middle" fill="#e8208c" font-weight="bold" >H</text><text x="640.90" y="94.10" font-size="8.6" text-anchor="middle" fill="#e8208c" font-weight="bold" >I</text><text x="573.50" y="181.00" font-size="8.6" text-anchor="middle" fill="#e8208c" font-weight="bold" >A</text><text x="613.40" y="181.00" font-size="8.6" text-anchor="middle" fill="#e8208c" font-weight="bold" >B</text><text x="640.90" y="180.10" font-size="8.6" text-anchor="middle" fill="#e8208c" font-weight="bold" >C</text><text x="572.90" y="171.30" font-size="8.6" text-anchor="middle" fill="#3a2a10" font-weight="bold" >D</text><text x="613.20" y="171.30" font-size="8.6" text-anchor="middle" fill="#d8b030" font-weight="bold" >E</text><text x="640.60" y="171.10" font-size="8.6" text-anchor="middle" fill="#e07030" font-weight="bold" >F</text><text x="0.00" y="0.00" font-size="9.2" text-anchor="middle" fill="#1a1a1a" font-weight="normal" transform="translate(533.8,100.8) rotate(-90)">&#916;z <tspan font-size="6.5" dy="1.5">Beg</tspan><tspan dy="-1.5"> - CLCa </tspan><tspan font-size="6.5" dy="1.5">Beg</tspan><tspan dy="-1.5"> [s]</tspan></text><text x="607.00" y="199.60" font-size="9.2" text-anchor="middle" fill="#1a1a1a" font-weight="normal" >CCP lifetime [s]</text><defs><linearGradient id="jet" x1="0" y1="1" x2="0" y2="0"><stop offset="0.00" stop-color="#000080"/><stop offset="0.05" stop-color="#0000b6"/><stop offset="0.10" stop-color="#0000f1"/><stop offset="0.15" stop-color="#0018ff"/><stop offset="0.20" stop-color="#004cff"/><stop offset="0.25" stop-color="#0080ff"/><stop offset="0.30" stop-color="#00b0ff"/><stop offset="0.35" stop-color="#00e4f8"/><stop offset="0.40" stop-color="#29ffce"/><stop offset="0.45" stop-color="#53ffa4"/><stop offset="0.50" stop-color="#7dff7a"/><stop offset="0.55" stop-color="#a4ff53"/><stop offset="0.60" stop-color="#ceff29"/><stop offset="0.65" stop-color="#f8f500"/><stop offset="0.70" stop-color="#ffc400"/><stop offset="0.75" stop-color="#ff9400"/><stop offset="0.80" stop-color="#ff6800"/><stop offset="0.85" stop-color="#ff3800"/><stop offset="0.90" stop-color="#f10800"/><stop offset="0.95" stop-color="#b60000"/><stop offset="1.00" stop-color="#800000"/></linearGradient><linearGradient id="plasma" x1="0" y1="0" x2="1" y2="0"><stop offset="0.00" stop-color="#0d0887"/><stop offset="0.05" stop-color="#2a0593"/><stop offset="0.10" stop-color="#41049d"/><stop offset="0.15" stop-color="#5601a4"/><stop offset="0.20" stop-color="#6a00a8"/><stop offset="0.25" stop-color="#7e03a8"/><stop offset="0.30" stop-color="#8f0da4"/><stop offset="0.35" stop-color="#a11b9b"/><stop offset="0.40" stop-color="#b12a90"/><stop offset="0.45" stop-color="#bf3984"/><stop offset="0.50" stop-color="#cc4778"/><stop offset="0.55" stop-color="#d6556d"/><stop offset="0.60" stop-color="#e16462"/><stop offset="0.65" stop-color="#ea7457"/><stop offset="0.70" stop-color="#f2844b"/><stop offset="0.75" stop-color="#f89540"/><stop offset="0.80" stop-color="#fca636"/><stop offset="0.85" stop-color="#feba2c"/><stop offset="0.90" stop-color="#fcce25"/><stop offset="0.95" stop-color="#f7e425"/><stop offset="1.00" stop-color="#f0f921"/></linearGradient></defs><rect x="654.90" y="15.90" width="7.90" height="167.60" fill="url(#jet)" stroke="#888" stroke-width="0.5" /><text x="666.00" y="186.00" font-size="7" text-anchor="start" fill="#333" font-weight="normal" >0</text><text x="666.00" y="152.48" font-size="7" text-anchor="start" fill="#333" font-weight="normal" >0.2</text><text x="666.00" y="118.96" font-size="7" text-anchor="start" fill="#333" font-weight="normal" >0.4</text><text x="666.00" y="85.44" font-size="7" text-anchor="start" fill="#333" font-weight="normal" >0.6</text><text x="666.00" y="51.92" font-size="7" text-anchor="start" fill="#333" font-weight="normal" >0.8</text><text x="666.00" y="18.40" font-size="7" text-anchor="start" fill="#333" font-weight="normal" >1</text><text x="0.00" y="0.00" font-size="7.6" text-anchor="middle" fill="#1a1a1a" font-weight="normal" transform="translate(678.8,98.5) rotate(90)">Density</text><path d="M383.0,248.3 L383.0,368.3 L506.8,368.3" stroke="#666" stroke-width="1.5" fill="none"/><line x1="380.50" y1="368.30" x2="383.00" y2="368.30" stroke="#555" stroke-width="1.0" /><text x="379.50" y="370.80" font-size="7" text-anchor="end" fill="#333" font-weight="normal" >0</text><line x1="380.50" y1="344.40" x2="383.00" y2="344.40" stroke="#555" stroke-width="1.0" /><text x="379.50" y="346.90" font-size="7" text-anchor="end" fill="#333" font-weight="normal" >10</text><line x1="380.50" y1="320.50" x2="383.00" y2="320.50" stroke="#555" stroke-width="1.0" /><text x="379.50" y="323.00" font-size="7" text-anchor="end" fill="#333" font-weight="normal" >20</text><line x1="380.50" y1="296.60" x2="383.00" y2="296.60" stroke="#555" stroke-width="1.0" /><text x="379.50" y="299.10" font-size="7" text-anchor="end" fill="#333" font-weight="normal" >30</text><line x1="380.50" y1="272.70" x2="383.00" y2="272.70" stroke="#555" stroke-width="1.0" /><text x="379.50" y="275.20" font-size="7" text-anchor="end" fill="#333" font-weight="normal" >40</text><line x1="380.50" y1="248.80" x2="383.00" y2="248.80" stroke="#555" stroke-width="1.0" /><text x="379.50" y="251.30" font-size="7" text-anchor="end" fill="#333" font-weight="normal" >50</text><line x1="402.30" y1="368.30" x2="402.30" y2="370.80" stroke="#555" stroke-width="1.0" /><text x="402.30" y="380.00" font-size="9" text-anchor="middle" fill="#1a1a1a" font-weight="normal" >Nuc</text><line x1="444.60" y1="368.30" x2="444.60" y2="370.80" stroke="#555" stroke-width="1.0" /><text x="444.60" y="380.00" font-size="9" text-anchor="middle" fill="#1a1a1a" font-weight="normal" >CCM</text><line x1="487.10" y1="368.30" x2="487.10" y2="370.80" stroke="#555" stroke-width="1.0" /><text x="487.10" y="380.00" font-size="9" text-anchor="middle" fill="#1a1a1a" font-weight="normal" >FTC</text><text x="0.00" y="0.00" font-size="9.25" text-anchor="middle" fill="#1a1a1a" font-weight="normal" transform="translate(366.8,311.7) rotate(-90)">Puncta per group / total puncta [%]</text><circle cx="392.3" cy="235.6" r="3.0" fill="#000"/><text x="397.40" y="238.20" font-size="7.2" text-anchor="start" fill="#222" font-weight="normal" >[5-20s]</text><circle cx="431.1" cy="235.6" r="2.7" fill="#fff" stroke="#000" stroke-width="0.8"/><path d="M431.1,232.9 A2.7,2.7 0 0 0 431.1,238.3 Z" fill="#000"/><text x="436.20" y="238.20" font-size="7.2" text-anchor="start" fill="#222" font-weight="normal" >(20-50s]</text><circle cx="472.6" cy="235.6" r="2.7" fill="#fff" stroke="#000" stroke-width="0.8"/><text x="477.70" y="238.20" font-size="7.2" text-anchor="start" fill="#222" font-weight="normal" >&gt; 50s</text><path d="M390.2,257.7 L390.2,250.4 L475.4,250.4 L475.4,257.6 M433.3,250.4 L433.3,281" stroke="#444" stroke-width="0.9" fill="none"/><path d="M402.5,270 L402.5,263 L431.3,263 M436.4,263 L487.2,263 L487.2,308 M445.6,263 L445.6,270.1" stroke="#a8a8a8" stroke-width="1.2" fill="none"/><path d="M414.3,282.2 L414.3,274.9 L431.3,274.9 M436.4,274.9 L483.1,274.9 M456.5,274.9 L456.5,282" stroke="#a8a8a8" stroke-width="1.2" fill="none"/><path d="M490.7,274.9 L498.5,274.9 L498.5,325.5" stroke="#888" stroke-width="1.0" fill="none"/><text x="390.80" y="250.40" font-size="6.2" text-anchor="middle" fill="#111" font-weight="normal" >****</text><text x="475.50" y="250.40" font-size="6.2" text-anchor="middle" fill="#111" font-weight="normal" >****</text><text x="403.20" y="263.10" font-size="6.2" text-anchor="middle" fill="#111" font-weight="normal" >****</text><text x="445.40" y="263.10" font-size="6.2" text-anchor="middle" fill="#111" font-weight="normal" >****</text><text x="414.80" y="275.00" font-size="6.2" text-anchor="middle" fill="#111" font-weight="normal" >****</text><text x="456.60" y="275.00" font-size="6.2" text-anchor="middle" fill="#111" font-weight="normal" >***</text><path d="M390.40,345.12 L402.30,363.52 L414.10,365.43" stroke="#000" stroke-width="1.1" fill="none"/><path d="M433.30,284.65 L444.60,351.57 L455.60,362.09" stroke="#000" stroke-width="1.1" fill="none"/><path d="M475.30,329.34 L487.10,315.72 L499.00,330.78" stroke="#000" stroke-width="1.1" fill="none"/><path d="M390.40,351.57 L402.30,364.72 L414.10,365.91" stroke="#000" stroke-width="1.1" fill="none"/><path d="M433.30,291.82 L444.60,353.96 L455.60,362.80" stroke="#000" stroke-width="1.1" fill="none"/><path d="M475.30,330.78 L487.10,324.09 L499.00,334.84" stroke="#000" stroke-width="1.1" fill="none"/><path d="M390.40,354.44 L402.30,365.91 L414.10,365.19" stroke="#000" stroke-width="1.1" fill="none"/><path d="M433.30,294.21 L444.60,354.44 L455.60,363.28" stroke="#000" stroke-width="1.1" fill="none"/><path d="M475.30,339.38 L487.10,318.11 L499.00,351.09" stroke="#000" stroke-width="1.1" fill="none"/><circle cx="390.40" cy="345.12" r="2.7" fill="#000"/><circle cx="402.30" cy="363.52" r="2.4" fill="#fff" stroke="#000" stroke-width="0.8"/><path d="M402.30,361.12 A2.4,2.4 0 0 0 402.30,365.92 Z" fill="#000"/><circle cx="414.10" cy="365.43" r="2.4" fill="#fff" stroke="#000" stroke-width="0.8"/><circle cx="433.30" cy="284.65" r="2.7" fill="#000"/><circle cx="444.60" cy="351.57" r="2.4" fill="#fff" stroke="#000" stroke-width="0.8"/><path d="M444.60,349.17 A2.4,2.4 0 0 0 444.60,353.97 Z" fill="#000"/><circle cx="455.60" cy="362.09" r="2.4" fill="#fff" stroke="#000" stroke-width="0.8"/><circle cx="475.30" cy="329.34" r="2.7" fill="#000"/><circle cx="487.10" cy="315.72" r="2.4" fill="#fff" stroke="#000" stroke-width="0.8"/><path d="M487.10,313.32 A2.4,2.4 0 0 0 487.10,318.12 Z" fill="#000"/><circle cx="499.00" cy="330.78" r="2.4" fill="#fff" stroke="#000" stroke-width="0.8"/><circle cx="390.40" cy="351.57" r="2.7" fill="#000"/><circle cx="402.30" cy="364.72" r="2.4" fill="#fff" stroke="#000" stroke-width="0.8"/><path d="M402.30,362.32 A2.4,2.4 0 0 0 402.30,367.12 Z" fill="#000"/><circle cx="414.10" cy="365.91" r="2.4" fill="#fff" stroke="#000" stroke-width="0.8"/><circle cx="433.30" cy="291.82" r="2.7" fill="#000"/><circle cx="444.60" cy="353.96" r="2.4" fill="#fff" stroke="#000" stroke-width="0.8"/><path d="M444.60,351.56 A2.4,2.4 0 0 0 444.60,356.36 Z" fill="#000"/><circle cx="455.60" cy="362.80" r="2.4" fill="#fff" stroke="#000" stroke-width="0.8"/><circle cx="475.30" cy="330.78" r="2.7" fill="#000"/><circle cx="487.10" cy="324.09" r="2.4" fill="#fff" stroke="#000" stroke-width="0.8"/><path d="M487.10,321.69 A2.4,2.4 0 0 0 487.10,326.49 Z" fill="#000"/><circle cx="499.00" cy="334.84" r="2.4" fill="#fff" stroke="#000" stroke-width="0.8"/><circle cx="390.40" cy="354.44" r="2.7" fill="#000"/><circle cx="402.30" cy="365.91" r="2.4" fill="#fff" stroke="#000" stroke-width="0.8"/><path d="M402.30,363.51 A2.4,2.4 0 0 0 402.30,368.31 Z" fill="#000"/><circle cx="414.10" cy="365.19" r="2.4" fill="#fff" stroke="#000" stroke-width="0.8"/><circle cx="433.30" cy="294.21" r="2.7" fill="#000"/><circle cx="444.60" cy="354.44" r="2.4" fill="#fff" stroke="#000" stroke-width="0.8"/><path d="M444.60,352.04 A2.4,2.4 0 0 0 444.60,356.84 Z" fill="#000"/><circle cx="455.60" cy="363.28" r="2.4" fill="#fff" stroke="#000" stroke-width="0.8"/><circle cx="475.30" cy="339.38" r="2.7" fill="#000"/><circle cx="487.10" cy="318.11" r="2.4" fill="#fff" stroke="#000" stroke-width="0.8"/><path d="M487.10,315.71 A2.4,2.4 0 0 0 487.10,320.51 Z" fill="#000"/><circle cx="499.00" cy="351.09" r="2.4" fill="#fff" stroke="#000" stroke-width="0.8"/><rect x="548.20" y="236.40" width="38.60" height="37.20" fill="#6c00a8" stroke="none" stroke-width="1" /><text x="567.20" y="247.80" font-size="7" text-anchor="middle" fill="#ffffff" font-weight="normal" >A</text><text x="567.20" y="256.30" font-size="7" text-anchor="middle" fill="#ffffff" font-weight="normal" >7.55</text><text x="567.20" y="264.60" font-size="7" text-anchor="middle" fill="#ffffff" font-weight="normal" >&#177; 2.09</text><rect x="586.20" y="236.40" width="38.70" height="37.20" fill="#20068f" stroke="none" stroke-width="1" /><text x="605.25" y="247.80" font-size="7" text-anchor="middle" fill="#ffffff" font-weight="normal" >B</text><text x="605.25" y="256.30" font-size="7" text-anchor="middle" fill="#ffffff" font-weight="normal" >1.85</text><text x="605.25" y="264.60" font-size="7" text-anchor="middle" fill="#ffffff" font-weight="normal" >&#177; 0.59</text><rect x="624.30" y="236.40" width="38.10" height="37.20" fill="#0d0887" stroke="none" stroke-width="1" /><text x="643.35" y="247.80" font-size="7" text-anchor="middle" fill="#ffffff" font-weight="normal" >C</text><text x="643.35" y="256.30" font-size="7" text-anchor="middle" fill="#ffffff" font-weight="normal" >0.97</text><text x="643.35" y="264.60" font-size="7" text-anchor="middle" fill="#ffffff" font-weight="normal" >&#177; 0.66</text><rect x="548.20" y="273.00" width="38.60" height="36.90" fill="#f0f921" stroke="none" stroke-width="1" /><text x="567.20" y="284.25" font-size="7" text-anchor="middle" fill="#2a2a20" font-weight="normal" >D</text><text x="567.20" y="292.75" font-size="7" text-anchor="middle" fill="#2a2a20" font-weight="normal" >32.78</text><text x="567.20" y="301.05" font-size="7" text-anchor="middle" fill="#2a2a20" font-weight="normal" >&#177; 2.27</text><rect x="586.20" y="273.00" width="38.70" height="36.90" fill="#6100a7" stroke="none" stroke-width="1" /><text x="605.25" y="284.25" font-size="7" text-anchor="middle" fill="#ffffff" font-weight="normal" >E</text><text x="605.25" y="292.75" font-size="7" text-anchor="middle" fill="#ffffff" font-weight="normal" >6.60</text><text x="605.25" y="301.05" font-size="7" text-anchor="middle" fill="#ffffff" font-weight="normal" >&#177; 0.647</text><rect x="624.30" y="273.00" width="38.10" height="36.90" fill="#2a0593" stroke="none" stroke-width="1" /><text x="643.35" y="284.25" font-size="7" text-anchor="middle" fill="#ffffff" font-weight="normal" >F</text><text x="643.35" y="292.75" font-size="7" text-anchor="middle" fill="#ffffff" font-weight="normal" >2.56</text><text x="643.35" y="301.05" font-size="7" text-anchor="middle" fill="#ffffff" font-weight="normal" >&#177; 0.30</text><rect x="548.20" y="309.30" width="38.60" height="37.00" fill="#bc3587" stroke="none" stroke-width="1" /><text x="567.20" y="320.90" font-size="7" text-anchor="middle" fill="#3a1040" font-weight="normal" >G</text><text x="567.20" y="329.40" font-size="7" text-anchor="middle" fill="#3a1040" font-weight="normal" >14.89</text><text x="567.20" y="337.70" font-size="7" text-anchor="middle" fill="#3a1040" font-weight="normal" >&#177; 2.25</text><rect x="586.20" y="309.30" width="38.70" height="37.00" fill="#e3685f" stroke="none" stroke-width="1" /><text x="605.25" y="320.90" font-size="7" text-anchor="middle" fill="#3a1040" font-weight="normal" >H</text><text x="605.25" y="329.40" font-size="7" text-anchor="middle" fill="#3a1040" font-weight="normal" >20.44</text><text x="605.25" y="337.70" font-size="7" text-anchor="middle" fill="#3a1040" font-weight="normal" >&#177; 2.11</text><rect x="624.30" y="309.30" width="38.10" height="37.00" fill="#a31e9a" stroke="none" stroke-width="1" /><text x="643.35" y="320.90" font-size="7" text-anchor="middle" fill="#ffffff" font-weight="normal" >I</text><text x="643.35" y="329.40" font-size="7" text-anchor="middle" fill="#ffffff" font-weight="normal" >12.37</text><text x="643.35" y="337.70" font-size="7" text-anchor="middle" fill="#ffffff" font-weight="normal" >&#177; 4.29</text><rect x="548.20" y="236.40" width="114.20" height="109.90" fill="none" stroke="#111" stroke-width="0.8" /><text x="567.20" y="230.80" font-size="9.2" text-anchor="middle" fill="#1a1a1a" font-weight="normal" >[5-20s]</text><line x1="567.20" y1="232.20" x2="567.20" y2="236.40" stroke="#111" stroke-width="0.9" /><text x="605.25" y="230.80" font-size="9.2" text-anchor="middle" fill="#1a1a1a" font-weight="normal" >(20-50s]</text><line x1="605.25" y1="232.20" x2="605.25" y2="236.40" stroke="#111" stroke-width="0.9" /><text x="643.35" y="230.80" font-size="9.2" text-anchor="middle" fill="#1a1a1a" font-weight="normal" >&gt; 50s</text><line x1="643.35" y1="232.20" x2="643.35" y2="236.40" stroke="#111" stroke-width="0.9" /><text x="541.50" y="257.90" font-size="9.2" text-anchor="end" fill="#1a1a1a" font-weight="normal" >Nuc</text><line x1="542.50" y1="254.70" x2="548.20" y2="254.70" stroke="#111" stroke-width="0.8" /><text x="541.50" y="294.35" font-size="9.2" text-anchor="end" fill="#1a1a1a" font-weight="normal" >CCM</text><line x1="542.50" y1="291.15" x2="548.20" y2="291.15" stroke="#111" stroke-width="0.8" /><text x="541.50" y="331.00" font-size="9.2" text-anchor="end" fill="#1a1a1a" font-weight="normal" >FTC</text><line x1="542.50" y1="327.80" x2="548.20" y2="327.80" stroke="#111" stroke-width="0.8" /><rect x="548.20" y="351.10" width="114.30" height="17.80" fill="url(#plasma)" stroke="#111" stroke-width="0.8" /><text x="580.10" y="375.60" font-size="7" text-anchor="middle" fill="#333" font-weight="normal" >10</text><line x1="580.10" y1="368.90" x2="580.10" y2="367.40" stroke="#111" stroke-width="0.6" /><text x="616.35" y="375.60" font-size="7" text-anchor="middle" fill="#333" font-weight="normal" >20</text><line x1="616.35" y1="368.90" x2="616.35" y2="367.40" stroke="#111" stroke-width="0.6" /><text x="652.60" y="375.60" font-size="7" text-anchor="middle" fill="#333" font-weight="normal" >30</text><line x1="652.60" y1="368.90" x2="652.60" y2="367.40" stroke="#111" stroke-width="0.6" /><text x="605.30" y="388.00" font-size="9" text-anchor="middle" fill="#1a1a1a" font-weight="normal" >Puncta per group / total puncta [%]</text>
</svg></body></html>
